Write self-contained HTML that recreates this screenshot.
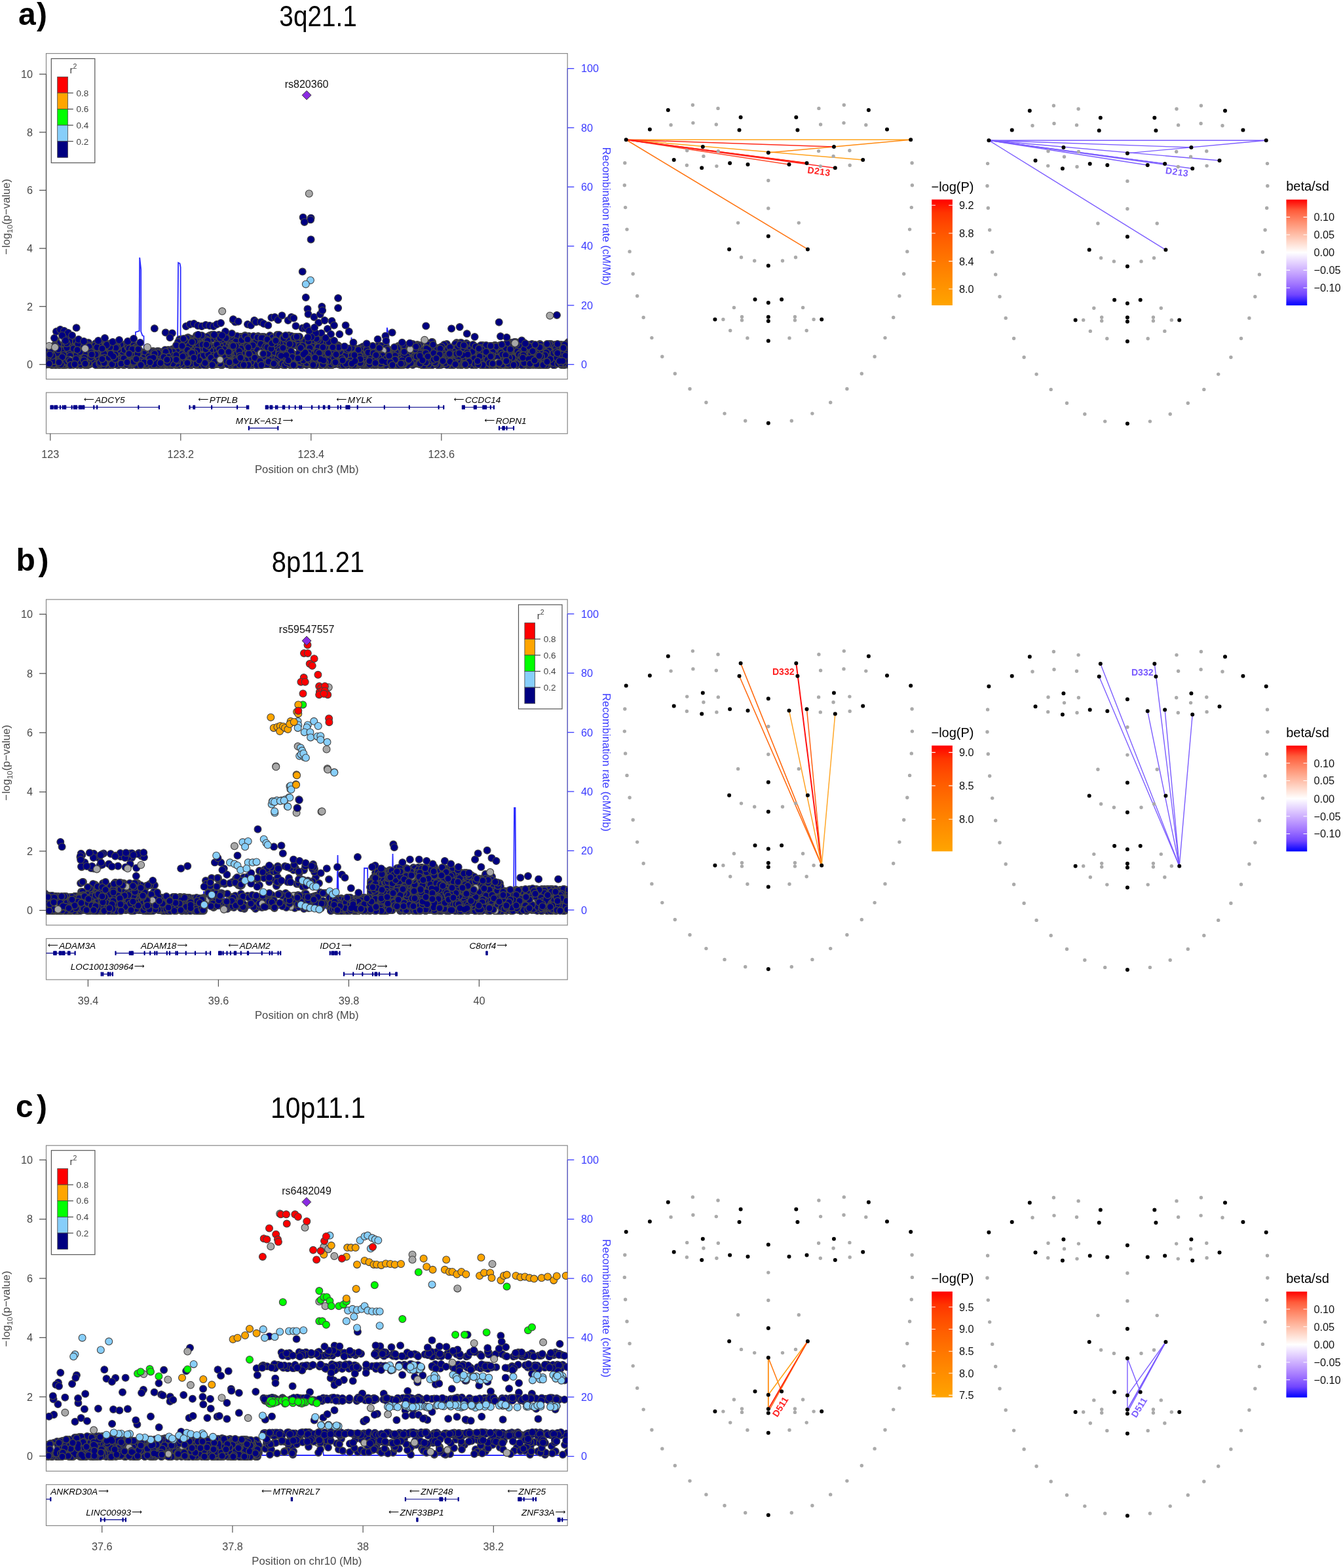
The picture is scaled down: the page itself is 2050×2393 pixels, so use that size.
<!DOCTYPE html><html><head><meta charset="utf-8"><title>Figure</title>
<style>html,body{margin:0;padding:0;background:#fff;}svg{display:block;}</style></head><body>
<svg width="2050" height="2393" viewBox="0 0 2050 2393" font-family="Liberation Sans, Arial, sans-serif">
<defs><clipPath id="clipa"><rect x="70.5" y="81.6" width="795.7" height="497"/></clipPath><path id="pa0" d="M706 542h0M338 554h0M578 533h0M521 553h0M227 543h0M735 556h0M557 552h0M645 546h0M237 550h0M417 557h0M123 556h0M778 554h0M574 543h0M125 549h0M565 536h0M545 537h0M763 529h0M475 516h0M432 532h0M521 557h0M827 532h0M548 554h0M622 556h0M372 527h0"/><path id="pa1" d="M145 556h0M235 551h0M372 557h0M180 556h0M863 532h0M636 555h0M292 557h0M710 544h0M682 525h0M614 536h0M294 529h0M344 520h0M370 557h0M455 555h0M567 551h0M472 540h0M533 538h0M232 539h0M263 547h0M504 527h0M580 556h0M496 555h0M487 551h0M444 546h0"/><path id="pa2" d="M468 530h0M795 531h0M265 535h0M659 535h0M654 557h0M429 522h0M558 530h0M707 526h0M620 529h0M331 554h0M558 556h0M571 557h0M553 541h0M246 555h0M596 541h0M843 539h0M867 525h0M215 555h0M443 541h0M756 531h0M439 514h0M832 556h0M856 542h0M683 550h0"/><path id="pa3" d="M770 546h0M355 545h0M211 553h0M519 557h0M516 527h0M349 533h0M148 555h0M341 535h0M653 551h0M686 556h0M552 540h0M440 556h0M649 557h0M87 556h0M833 529h0M126 550h0M400 537h0M173 526h0M656 529h0M660 552h0M712 526h0M75 548h0M726 551h0M550 556h0"/><path id="pa4" d="M460 544h0M331 529h0M438 515h0M708 545h0M869 557h0M780 555h0M454 553h0M301 547h0M179 536h0M188 543h0M721 552h0M216 541h0M495 540h0M424 542h0M203 539h0M609 550h0M97 545h0M170 554h0M109 553h0M117 545h0M755 527h0M136 544h0M808 528h0M637 526h0"/><path id="pa5" d="M408 542h0M383 531h0M383 544h0M868 554h0M797 522h0M212 556h0M540 554h0M436 529h0M760 555h0M621 550h0M835 529h0M684 543h0M335 546h0M700 556h0M524 542h0M752 555h0M259 557h0M226 551h0M619 527h0M848 550h0M533 540h0M246 556h0M399 556h0M344 547h0"/><path id="pa6" d="M283 557h0M517 545h0M390 542h0M664 544h0M578 527h0M567 556h0M199 531h0M338 539h0M845 557h0M220 557h0M601 551h0M601 544h0M364 556h0M601 557h0M740 549h0M761 530h0M812 529h0M429 526h0M224 557h0M762 534h0M433 554h0M677 555h0M142 536h0M373 556h0"/><path id="pa7" d="M656 541h0M200 548h0M432 547h0M519 552h0M339 557h0M471 555h0M733 554h0M609 542h0M78 536h0M458 534h0M152 538h0M622 544h0M420 536h0M839 546h0M861 555h0M95 555h0M735 552h0M360 530h0M320 512h0M464 552h0M318 548h0M659 552h0M561 536h0M738 555h0"/><path id="pa8" d="M786 532h0M645 535h0M823 540h0M869 557h0M367 556h0M125 524h0M847 554h0M285 551h0M638 550h0M103 548h0M128 554h0M791 530h0M302 537h0M654 556h0M110 548h0M537 541h0M218 554h0M588 530h0M653 530h0M723 532h0M125 537h0M536 534h0M713 549h0M178 554h0"/><path id="pa9" d="M731 555h0M511 555h0M665 548h0M298 518h0M382 534h0M510 542h0M150 530h0M590 555h0M825 557h0M359 549h0M430 539h0M643 546h0M581 556h0M239 557h0M353 534h0M865 540h0M714 547h0M868 557h0M340 548h0M785 539h0M213 552h0M432 541h0M362 557h0M305 554h0"/><path id="pa10" d="M128 541h0M714 554h0M130 554h0M763 555h0M460 524h0M624 545h0M566 548h0M469 535h0M723 557h0M249 556h0M808 546h0M820 555h0M582 557h0M191 552h0M538 540h0M617 556h0M75 556h0M413 553h0M563 531h0M595 536h0M809 526h0M194 534h0M794 551h0M473 530h0"/><path id="pa11" d="M804 556h0M231 554h0M439 518h0M171 539h0M714 556h0M190 557h0M346 550h0M712 547h0M536 554h0M837 551h0M621 529h0M746 531h0M68 546h0M799 546h0M587 557h0M757 547h0M129 557h0M331 548h0M600 540h0M835 548h0M233 536h0M255 540h0M84 551h0M94 547h0"/><path id="pa12" d="M775 543h0M498 542h0M268 557h0M460 539h0M456 556h0M857 526h0M158 547h0M712 532h0M507 557h0M504 523h0M273 531h0M281 554h0M112 545h0M523 548h0M116 522h0M204 527h0M547 537h0M500 551h0M593 555h0M614 536h0M236 554h0M831 554h0M209 542h0M139 542h0"/><path id="pa13" d="M339 550h0M78 546h0M273 538h0M596 537h0M841 525h0M843 540h0M437 548h0M266 556h0M813 546h0M324 529h0M301 553h0M631 533h0M800 557h0M340 517h0M290 550h0M178 554h0M618 555h0M863 528h0M859 552h0M645 554h0M648 546h0M540 557h0M299 554h0M677 551h0"/><path id="pa14" d="M391 557h0M290 554h0M580 546h0M557 556h0M805 542h0M442 554h0M636 529h0M191 526h0M448 526h0M678 542h0M151 529h0M445 538h0M398 540h0M642 556h0M366 545h0M136 534h0M655 541h0M700 528h0M335 551h0M507 538h0M638 555h0M689 557h0M196 532h0M846 556h0"/><path id="pa15" d="M468 557h0M430 550h0M128 550h0M481 541h0M775 537h0M682 556h0M470 548h0M263 557h0M670 536h0M700 543h0M80 556h0M164 557h0M554 550h0M345 518h0M665 556h0M263 549h0M553 530h0M263 533h0M805 555h0M689 556h0M736 528h0M816 547h0M811 534h0M668 542h0"/><path id="pa16" d="M476 557h0M242 536h0M622 541h0M82 542h0M594 539h0M861 536h0M485 539h0M249 555h0M584 557h0M802 526h0M792 544h0M373 556h0M338 532h0M559 544h0M151 555h0M481 557h0M697 530h0M794 550h0M585 539h0M237 556h0M315 557h0M181 553h0M554 553h0M817 552h0"/><path id="pa17" d="M503 545h0M824 525h0M518 541h0M728 539h0M759 547h0M197 532h0M241 549h0M190 528h0M244 549h0M846 549h0M272 555h0M620 545h0M115 556h0M408 520h0M69 557h0M149 537h0M788 556h0M337 557h0M96 516h0M798 557h0M648 534h0M755 532h0M192 552h0M593 536h0"/><path id="pa18" d="M232 542h0M458 528h0M750 528h0M238 538h0M557 557h0M124 538h0M568 552h0M233 543h0M195 532h0M156 527h0M280 557h0M118 530h0M830 537h0M294 543h0M489 549h0M236 557h0M699 557h0M651 557h0M155 557h0M509 529h0M720 553h0M319 543h0M672 538h0M548 554h0"/><path id="pa19" d="M819 531h0M188 552h0M764 557h0M654 555h0M486 544h0M777 557h0M438 528h0M597 557h0M315 525h0M142 536h0M96 538h0M671 557h0M367 514h0M867 534h0M166 556h0M477 552h0M400 541h0M521 533h0M638 531h0M439 545h0M266 538h0M493 532h0M209 530h0M552 536h0"/><path id="pa20" d="M640 555h0M402 543h0M136 551h0M118 557h0M208 553h0M701 533h0M410 538h0M586 543h0M248 542h0M669 557h0M316 548h0M471 517h0M165 528h0M139 554h0M336 552h0M870 544h0M392 550h0M161 549h0M71 534h0M481 537h0M779 525h0M318 539h0M729 540h0M588 529h0"/><path id="pa21" d="M377 546h0M512 525h0M510 553h0M504 545h0M371 552h0M307 549h0M430 533h0M298 554h0M657 554h0M86 521h0M290 529h0M328 554h0M263 540h0M302 557h0M249 545h0M589 557h0M441 528h0M588 554h0M704 557h0M325 550h0M472 537h0M709 555h0M860 557h0M571 534h0"/><path id="pa22" d="M577 554h0M77 556h0M416 537h0M122 529h0M730 545h0M503 539h0M345 554h0M769 554h0M541 555h0M466 526h0M223 549h0M199 542h0M202 557h0M582 542h0M391 514h0M624 545h0M234 536h0M535 553h0M400 547h0M300 535h0M267 555h0M195 532h0M179 547h0M298 549h0"/><path id="pa23" d="M418 532h0M815 551h0M671 555h0M645 540h0M275 539h0M155 526h0M431 552h0M359 557h0M500 521h0M763 527h0M686 553h0M231 552h0M647 554h0M238 555h0M483 536h0M851 533h0M646 557h0M230 556h0M347 551h0M181 549h0M585 556h0M846 557h0M661 530h0M100 535h0"/><path id="pa24" d="M667 543h0M775 542h0M432 543h0M517 554h0M561 536h0M740 540h0M85 555h0M507 557h0M193 544h0M686 557h0M816 538h0M336 526h0M797 531h0M292 557h0M593 549h0M432 553h0M478 555h0M84 537h0M344 551h0M860 531h0M380 520h0M826 540h0M862 557h0M333 523h0"/><path id="pa25" d="M737 527h0M503 541h0M345 518h0M134 534h0M254 555h0M399 542h0M648 526h0M168 534h0M469 551h0M720 545h0M461 553h0M828 544h0M834 529h0M296 540h0M547 537h0M161 541h0M737 546h0M419 546h0M80 553h0M299 557h0M574 545h0M457 514h0M184 543h0M402 518h0"/><path id="pa26" d="M694 540h0M84 555h0M207 530h0M649 527h0M659 548h0M431 554h0M550 552h0M233 553h0M282 556h0M185 540h0M209 553h0M210 547h0M273 557h0M829 554h0M795 533h0M549 544h0M678 553h0M242 556h0M213 549h0M369 538h0M407 548h0M305 546h0M725 532h0M130 542h0"/><path id="pa27" d="M192 544h0M770 533h0M332 554h0M553 557h0M462 537h0M428 513h0M609 553h0M122 542h0M542 546h0M71 538h0M88 555h0M456 552h0M361 544h0M112 525h0M210 550h0M186 556h0M352 557h0M624 553h0M579 551h0M205 537h0M266 544h0M663 554h0M521 552h0M804 539h0"/><path id="pa28" d="M448 517h0M215 546h0M792 553h0M323 550h0M475 517h0M685 542h0M85 548h0M851 550h0M123 557h0M659 537h0M92 556h0M231 557h0M633 531h0M743 547h0M699 552h0M198 557h0M401 541h0M536 556h0M217 547h0M626 529h0M410 514h0M521 554h0M271 527h0M527 555h0"/><path id="pa29" d="M588 531h0M67 549h0M156 538h0M821 543h0M559 548h0M328 529h0M614 555h0M636 533h0M847 536h0M216 555h0M270 556h0M780 556h0M92 556h0M700 554h0M125 526h0M581 546h0M489 555h0M115 540h0M348 555h0M401 516h0M746 548h0M224 553h0M643 538h0M132 557h0"/><path id="pa30" d="M287 539h0M147 557h0M116 545h0M552 548h0M138 549h0M162 557h0M589 540h0M521 545h0M550 553h0M335 514h0M580 535h0M98 546h0M106 542h0M312 553h0M261 557h0M156 544h0M398 542h0M688 557h0M744 557h0M636 554h0M850 552h0M780 544h0M176 555h0M513 552h0"/><path id="pa31" d="M822 557h0M181 536h0M777 545h0M776 556h0M664 542h0M147 557h0M458 542h0M737 533h0M115 555h0M581 556h0M802 551h0M590 553h0M162 554h0M248 557h0M238 554h0M689 556h0M233 541h0M280 554h0M164 525h0M287 554h0M720 540h0M87 527h0M220 542h0M498 525h0"/><path id="pa32" d="M776 536h0M647 541h0M595 557h0M431 540h0M609 555h0M410 542h0M458 540h0M222 554h0M684 534h0M478 556h0M299 527h0M443 513h0M83 536h0M707 534h0M260 556h0M183 548h0M756 553h0M360 520h0M446 539h0M358 527h0M446 515h0M107 534h0M104 533h0M735 529h0"/><path id="pa33" d="M76 553h0M240 553h0M571 555h0M270 556h0M295 551h0M703 527h0M112 532h0M660 522h0M569 546h0M495 540h0M381 526h0M845 552h0M645 544h0M168 557h0M647 549h0M589 552h0M617 536h0M210 538h0M750 537h0M75 556h0M420 520h0M362 532h0M589 535h0M327 534h0"/><path id="pa34" d="M101 534h0M419 544h0M688 556h0M259 552h0M237 557h0M321 549h0M180 550h0M111 545h0M551 556h0M444 518h0M269 542h0M743 537h0M468 551h0M669 531h0M94 546h0M708 555h0M281 528h0M761 555h0M850 547h0M117 529h0M698 533h0M69 548h0M84 555h0M511 554h0"/><path id="pa35" d="M504 555h0M647 531h0M364 557h0M244 555h0M528 554h0M611 530h0M410 555h0M234 544h0M525 557h0M765 557h0M581 535h0M689 551h0M747 535h0M770 532h0M454 524h0M210 534h0M293 523h0M370 544h0M400 530h0M563 547h0M644 557h0M762 530h0M553 531h0M252 546h0"/><path id="pa36" d="M851 531h0M257 556h0M249 552h0M732 529h0M137 551h0M150 538h0M735 549h0M836 531h0M90 527h0M399 538h0M244 539h0M807 539h0M198 548h0M707 541h0M847 526h0M313 547h0M707 537h0M548 553h0M346 526h0M424 525h0M344 512h0M338 513h0M245 557h0M130 550h0"/><path id="pa37" d="M516 550h0M731 547h0M368 514h0M177 543h0M580 543h0M580 533h0M609 557h0M102 548h0M91 557h0M575 557h0M731 556h0M850 528h0M304 557h0M521 553h0M516 556h0M748 544h0M497 557h0M851 552h0M842 552h0M246 554h0M797 532h0M267 542h0M199 550h0M125 547h0"/><path id="pa38" d="M697 523h0M145 549h0M648 526h0M146 524h0M389 540h0M160 555h0M131 525h0M590 531h0M96 547h0M596 554h0M796 554h0M371 542h0M784 533h0M550 547h0M773 551h0M208 557h0M764 537h0M116 556h0M135 532h0M378 518h0M327 547h0M103 519h0M449 550h0M814 543h0"/><path id="pa39" d="M552 550h0M186 548h0M388 540h0M638 555h0M387 528h0M482 532h0M236 545h0M147 553h0M847 557h0M300 512h0M294 556h0M149 552h0M224 535h0M714 526h0M405 520h0M757 554h0M737 534h0M347 515h0M170 542h0M134 557h0M137 535h0M154 547h0M756 527h0M134 543h0"/><path id="pa40" d="M275 525h0M508 544h0M127 548h0M818 555h0M291 557h0M442 526h0M183 549h0M790 543h0M280 531h0M512 529h0M719 544h0M600 539h0M545 539h0M582 539h0M417 556h0M224 545h0M857 554h0M286 548h0M353 553h0M431 548h0M195 550h0M85 538h0M749 555h0M445 543h0"/><path id="pa41" d="M287 543h0M231 548h0M422 556h0M674 556h0M274 518h0M769 555h0M348 545h0M297 546h0M390 534h0M305 523h0M439 556h0M181 557h0M622 556h0M767 549h0M351 557h0M273 549h0M461 554h0M318 540h0M734 533h0M237 550h0M217 556h0M133 531h0M412 512h0M178 543h0"/><path id="pa42" d="M419 549h0M526 556h0M501 546h0M414 548h0M96 515h0M132 554h0M635 552h0M815 551h0M182 551h0M366 545h0M295 556h0M631 543h0M483 554h0M679 553h0M151 535h0M692 531h0M137 556h0M511 539h0M84 557h0M171 525h0M372 514h0M334 511h0M221 540h0M618 530h0"/><path id="pa43" d="M296 529h0M390 532h0M253 551h0M235 553h0M373 513h0M363 527h0M393 537h0M804 547h0M315 526h0M722 535h0M635 534h0M320 549h0M303 530h0M780 530h0M569 555h0M421 514h0M162 556h0M729 537h0M219 544h0M410 548h0M218 549h0M224 536h0M225 557h0M582 557h0"/><path id="pa44" d="M118 538h0M832 546h0M425 557h0M548 554h0M94 546h0M161 552h0M152 557h0M95 544h0M533 548h0M382 557h0M864 552h0M342 525h0M211 557h0M524 553h0M862 543h0M704 546h0M588 535h0M772 537h0M721 538h0M703 531h0M588 528h0M796 557h0M378 554h0M580 535h0"/><path id="pa45" d="M420 540h0M505 535h0M831 552h0M541 541h0M733 541h0M769 557h0M820 549h0M678 537h0M359 514h0M205 552h0M541 532h0M704 556h0M629 533h0M556 557h0M376 555h0M485 546h0M80 553h0M153 556h0M395 555h0M233 545h0M519 547h0M453 555h0M209 536h0M390 519h0"/><path id="pa46" d="M241 546h0M86 554h0M585 529h0M566 544h0M465 540h0M507 540h0M159 556h0M104 545h0M697 537h0M233 537h0M300 521h0M720 548h0M272 523h0M633 553h0M316 546h0M441 522h0M281 549h0M630 536h0M331 556h0M735 531h0M801 555h0M69 553h0M303 552h0M480 540h0"/><path id="pa47" d="M640 535h0M608 528h0M268 545h0M400 554h0M619 554h0M847 539h0M809 556h0M547 557h0M700 555h0M103 554h0M353 537h0M461 557h0M561 538h0M78 548h0M179 545h0M521 556h0M562 554h0M508 547h0M579 540h0M739 534h0M550 552h0M222 553h0M711 535h0M748 528h0"/><path id="pa48" d="M162 550h0M304 555h0M798 557h0M821 532h0M732 553h0M417 556h0M524 556h0M374 540h0M381 532h0M265 554h0M782 542h0M209 557h0M198 551h0M264 541h0M163 553h0M149 557h0M725 529h0M296 527h0M758 553h0M690 553h0M313 555h0M126 556h0M703 557h0M254 550h0"/><path id="pa49" d="M587 544h0M400 539h0M299 533h0M701 531h0M756 537h0M599 549h0M703 523h0M703 542h0M254 557h0M712 524h0M863 531h0M596 555h0M630 557h0M658 550h0M542 554h0M487 520h0M239 547h0M208 556h0M860 545h0M205 535h0M414 540h0M241 551h0M435 531h0M741 529h0"/><path id="pa50" d="M761 546h0M641 544h0M406 541h0M249 552h0M421 548h0M641 527h0M861 537h0M791 529h0M615 551h0M192 547h0M411 555h0M594 555h0M441 555h0M86 557h0M650 556h0M255 546h0M219 555h0M775 534h0M618 541h0M522 553h0M826 543h0M797 524h0M686 544h0M572 537h0"/><path id="pa51" d="M850 531h0M807 556h0M596 546h0M578 545h0M543 534h0M89 527h0M846 545h0M258 545h0M140 533h0M569 551h0M485 556h0M859 533h0M691 556h0M786 553h0M403 514h0M173 552h0M565 555h0M78 546h0M618 529h0M299 556h0M359 549h0M431 535h0M714 555h0M819 553h0"/><path id="pa52" d="M322 554h0M652 546h0M744 551h0M868 522h0M672 556h0M543 557h0M459 549h0M136 528h0M794 532h0M317 531h0M613 548h0M346 540h0M161 537h0M523 553h0M608 535h0M636 538h0M288 534h0M616 548h0M794 522h0M308 554h0M270 557h0M435 543h0M124 553h0M302 538h0"/><path id="pa53" d="M524 556h0M607 539h0M702 529h0M89 543h0M404 555h0M456 546h0M671 543h0M608 549h0M272 557h0M117 552h0M866 536h0M328 539h0M773 525h0M650 529h0M686 550h0M817 540h0M695 551h0M215 546h0M526 547h0M620 555h0M112 556h0M242 544h0M787 528h0M624 551h0"/><path id="pa54" d="M302 517h0M362 534h0M94 550h0M180 538h0M414 551h0M859 556h0M689 540h0M818 556h0M839 532h0M98 553h0M439 554h0M724 541h0M324 517h0M83 554h0M821 532h0M711 557h0M352 535h0M721 545h0M122 525h0M815 552h0M283 544h0M368 523h0M124 544h0M574 538h0"/><path id="pa55" d="M215 549h0M276 556h0M408 536h0M393 515h0M286 533h0M606 557h0M584 544h0M735 552h0M618 545h0M766 556h0M719 535h0M106 542h0M625 553h0M747 552h0M89 538h0M450 514h0M554 546h0M139 531h0M802 538h0M119 527h0M589 541h0M735 557h0M745 557h0M410 554h0"/><path id="pa56" d="M354 541h0M859 556h0M179 557h0M127 548h0M671 552h0M654 543h0M857 553h0M78 553h0M374 512h0M616 557h0M253 535h0M452 557h0M687 555h0M255 546h0M402 549h0M217 555h0M97 538h0M368 535h0M684 531h0M399 521h0M70 554h0M642 548h0M434 543h0M384 555h0"/><path id="pa57" d="M715 538h0M247 557h0M492 553h0M324 557h0M430 539h0M705 545h0M156 556h0M838 552h0M395 542h0M676 556h0M139 532h0M790 536h0M155 539h0M857 557h0M711 538h0M240 557h0M268 535h0M537 531h0M862 539h0M261 536h0M509 545h0M734 557h0M679 549h0M237 550h0"/><path id="pa58" d="M650 553h0M416 533h0M712 535h0M770 539h0M420 556h0M755 557h0M558 557h0M408 524h0M627 554h0M848 547h0M721 552h0M504 553h0M457 554h0M206 540h0M149 526h0M278 556h0M92 521h0M478 529h0M734 527h0M864 547h0M720 536h0M815 549h0M465 539h0M431 526h0"/><path id="pa59" d="M192 548h0M485 535h0M480 521h0M491 557h0M232 551h0M358 540h0M797 522h0M325 552h0M500 526h0M239 537h0M602 546h0M496 531h0M406 536h0M380 513h0M97 552h0M750 551h0M825 526h0M443 557h0M535 534h0M869 556h0M808 554h0M765 540h0M391 528h0M411 535h0"/><path id="pa60" d="M739 534h0M708 544h0M554 533h0M133 527h0M441 541h0M147 528h0M686 545h0M693 557h0M836 540h0M840 532h0M847 544h0M323 511h0M595 539h0M808 535h0M862 533h0M103 517h0M693 557h0M552 556h0M400 557h0M329 538h0M177 548h0M398 557h0M292 554h0M395 555h0"/><path id="pa61" d="M846 556h0M550 549h0M412 535h0M659 522h0M234 540h0M819 539h0M403 536h0M755 551h0M779 550h0M577 536h0M467 519h0M584 536h0M419 549h0M213 555h0M215 555h0M211 556h0M401 537h0M487 541h0M625 532h0M113 541h0M780 556h0M312 547h0M771 537h0M856 550h0"/><path id="pa62" d="M513 541h0M297 518h0M672 534h0M524 552h0M709 534h0M741 532h0M332 550h0M760 557h0M277 555h0M663 542h0M112 557h0M416 515h0M425 535h0M199 549h0M625 546h0M427 548h0M676 540h0M397 555h0M162 552h0M88 550h0M801 556h0M485 555h0M502 557h0M490 539h0"/><path id="pa63" d="M479 522h0M445 553h0M653 526h0M731 540h0M817 537h0M435 557h0M157 538h0M218 542h0M424 551h0M222 549h0M462 548h0M655 534h0M68 555h0M770 545h0M144 528h0M257 557h0M510 554h0M743 549h0M714 526h0M703 536h0M311 531h0M777 543h0M123 557h0M861 539h0"/><path id="pa64" d="M622 551h0M362 513h0M827 544h0M343 528h0M300 529h0M363 533h0M188 527h0M209 556h0M555 557h0M592 544h0M697 545h0M783 523h0M565 530h0M709 541h0M689 554h0M780 542h0M433 514h0M352 543h0M288 556h0M438 552h0M421 531h0M788 547h0M868 544h0M305 550h0"/><path id="pa65" d="M432 545h0M775 550h0M393 557h0M203 554h0M645 557h0M728 549h0M602 554h0M334 545h0M387 556h0M460 546h0M106 526h0M604 554h0M374 524h0M199 554h0M817 554h0M95 555h0M751 552h0M182 554h0M752 532h0M90 538h0M801 554h0M576 544h0M177 554h0M767 538h0"/><path id="pa66" d="M788 555h0M510 545h0M406 526h0M405 550h0M358 528h0M342 542h0M630 527h0M673 557h0M608 552h0M693 555h0M731 550h0M456 548h0M178 554h0M171 556h0M519 555h0M660 555h0M683 553h0M691 557h0M768 535h0M90 557h0M206 554h0M651 531h0M591 551h0M746 554h0"/><path id="pa67" d="M429 541h0M552 554h0M788 524h0M426 555h0M543 532h0M168 557h0M625 546h0M224 537h0M712 552h0M784 551h0M299 543h0M805 526h0M578 548h0M221 556h0M476 555h0M405 530h0M526 551h0M683 548h0M233 543h0M678 553h0M633 551h0M554 555h0M338 555h0M498 520h0"/><path id="pa68" d="M558 539h0M262 537h0M120 546h0M695 540h0M724 553h0M742 554h0M187 545h0M864 549h0M154 523h0M238 557h0M748 557h0M421 522h0M82 554h0M317 550h0M345 530h0M104 551h0M560 539h0M262 552h0M397 524h0M72 542h0M257 534h0M467 552h0M350 511h0M532 554h0"/><path id="pa69" d="M799 524h0M441 522h0M665 546h0M860 554h0M172 557h0M782 545h0M333 546h0M483 553h0M390 555h0M359 525h0M556 545h0M290 541h0M104 555h0M134 557h0M422 538h0M230 539h0M467 526h0M94 521h0M785 555h0M553 550h0M554 554h0M845 540h0M595 554h0M179 555h0"/><path id="pa70" d="M339 557h0M315 543h0M678 526h0M408 527h0M110 551h0M103 538h0M204 551h0M774 557h0M568 538h0M149 556h0M791 532h0M201 538h0M83 551h0M262 548h0M558 550h0M642 554h0M686 541h0M364 534h0M413 529h0M460 529h0M613 557h0M556 546h0M754 544h0M526 557h0"/><path id="pa71" d="M371 551h0M160 537h0M409 548h0M727 533h0M304 527h0M453 542h0M837 556h0M209 544h0M444 515h0M835 557h0M512 543h0M423 511h0M71 549h0M564 530h0M597 545h0M587 540h0M705 534h0M509 552h0M757 539h0M589 556h0M378 515h0M584 556h0M177 552h0M634 549h0"/><path id="pa72" d="M520 530h0M202 548h0M451 527h0M713 556h0M458 539h0M448 555h0M630 545h0M342 555h0M192 525h0M564 546h0M317 545h0M183 534h0M383 528h0M832 546h0M763 555h0M814 557h0M598 534h0M867 550h0M835 547h0M856 543h0M118 553h0M78 548h0M853 553h0M233 555h0"/><path id="pa73" d="M706 529h0M148 557h0M460 531h0M448 553h0M778 533h0M572 553h0M79 557h0M357 549h0M209 552h0M582 528h0M520 549h0M142 547h0M651 552h0M668 557h0M100 543h0M169 524h0M281 520h0M863 540h0M520 553h0M824 533h0M524 557h0M344 531h0M845 554h0M131 548h0"/><path id="pa74" d="M385 557h0M714 549h0M247 542h0M468 528h0M513 538h0M95 551h0M737 549h0M108 549h0M524 555h0M392 554h0M546 546h0M168 549h0M220 544h0M845 549h0M291 534h0M234 555h0M553 549h0M807 557h0M764 544h0M617 543h0M626 533h0M154 555h0M90 540h0M231 554h0"/><path id="pa75" d="M316 550h0M203 537h0M316 521h0M315 545h0M436 557h0M111 545h0M488 531h0M682 537h0M414 551h0M446 554h0M710 544h0M449 556h0M326 511h0M412 555h0M524 531h0M620 537h0M633 528h0M545 536h0M518 556h0M854 549h0M172 534h0M440 550h0M527 547h0M181 555h0"/><path id="pa76" d="M415 524h0M762 550h0M220 556h0M509 534h0M760 552h0M242 555h0M173 546h0M124 556h0M353 516h0M588 542h0M656 554h0M253 537h0M613 556h0M517 553h0M695 525h0M475 545h0M165 546h0M251 542h0M152 556h0M389 532h0M228 540h0M492 533h0M121 552h0M546 550h0"/><path id="pa77" d="M139 542h0M356 557h0M281 553h0M517 547h0M613 546h0M75 536h0M200 546h0M516 550h0M370 547h0M663 553h0M567 557h0M68 541h0M859 545h0M80 535h0M135 523h0M277 555h0M477 524h0M355 539h0M745 543h0M119 525h0M83 527h0M645 542h0M395 531h0M854 538h0"/><path id="pa78" d="M133 556h0M507 535h0M833 534h0M345 548h0M82 542h0M276 524h0M186 541h0M426 511h0M642 538h0M716 553h0M351 529h0M295 547h0M496 528h0M582 540h0M611 528h0M130 556h0M359 530h0M667 544h0M481 549h0M654 544h0M490 552h0M77 542h0M312 543h0M444 541h0"/><path id="pa79" d="M269 547h0M443 514h0M838 532h0M398 532h0M644 557h0M92 546h0M813 534h0M777 555h0M311 546h0M518 549h0M828 553h0M368 551h0M816 542h0M300 544h0M758 550h0M860 556h0M478 533h0M446 540h0M471 532h0M754 556h0M541 534h0M577 550h0M294 524h0M869 557h0"/><path id="pa80" d="M414 549h0M477 547h0M281 536h0M384 535h0M699 533h0M554 529h0M764 552h0M662 546h0M216 553h0M101 551h0M249 557h0M584 535h0M216 545h0M565 556h0M826 540h0M852 541h0M488 552h0M356 531h0M403 546h0M846 546h0M365 549h0M846 549h0M550 531h0M89 534h0"/><path id="pa81" d="M525 538h0M739 537h0M737 550h0M473 525h0M328 541h0M98 553h0M851 536h0M852 544h0M589 531h0M522 532h0M582 549h0M661 551h0M521 543h0M226 555h0M260 548h0M123 546h0M493 517h0M759 530h0M163 557h0M527 540h0M204 556h0M124 534h0M250 557h0M234 557h0"/><path id="pa82" d="M827 552h0M385 533h0M857 535h0M543 557h0M229 554h0M518 551h0M182 549h0M660 557h0M773 557h0M138 550h0M248 557h0M812 525h0M856 553h0M840 554h0M557 547h0M307 528h0M101 557h0M430 527h0M429 544h0M360 521h0M311 543h0M753 528h0M490 542h0M604 556h0"/><path id="pa83" d="M188 557h0M135 527h0M457 553h0M364 529h0M265 556h0M491 556h0M671 545h0M108 531h0M790 537h0M178 556h0M643 545h0M609 556h0M570 553h0M517 545h0M547 552h0M336 514h0M844 554h0M603 544h0M335 527h0M713 557h0M197 555h0M759 542h0M805 531h0M183 526h0"/><path id="pa84" d="M318 524h0M867 523h0M547 550h0M128 550h0M464 555h0M683 554h0M430 532h0M480 545h0M447 550h0M837 546h0M538 557h0M869 532h0M507 547h0M547 551h0M683 533h0M546 534h0M358 537h0M319 551h0M128 547h0M134 531h0M332 523h0M358 540h0M447 555h0M470 543h0"/><path id="pa85" d="M75 550h0M850 541h0M528 544h0M733 540h0M489 550h0M378 555h0M438 542h0M739 557h0M776 527h0M345 539h0M582 556h0M639 537h0M277 548h0M109 556h0M351 524h0M100 549h0M397 546h0M431 537h0M240 536h0M447 515h0M195 536h0M412 555h0M96 556h0M553 532h0"/><path id="pa86" d="M831 548h0M355 545h0M214 553h0M89 538h0M209 557h0M116 534h0M449 554h0M798 530h0M598 557h0M540 548h0M508 534h0M248 537h0M810 557h0M172 552h0M581 557h0M622 534h0M275 545h0M221 549h0M786 526h0M204 539h0M489 521h0M856 547h0M97 556h0M366 533h0"/><path id="pa87" d="M258 552h0M520 554h0M463 547h0M253 543h0M206 538h0M251 555h0M805 557h0M473 547h0M789 530h0M388 556h0M665 553h0M491 543h0M433 542h0M118 530h0M605 543h0M490 517h0M730 532h0M167 545h0M566 543h0M170 548h0M214 543h0M406 539h0M627 555h0M625 532h0"/><path id="pa88" d="M769 555h0M636 546h0M162 554h0M262 555h0M462 548h0M206 551h0M274 524h0M316 514h0M443 555h0M284 545h0M120 537h0M619 540h0M827 549h0M435 557h0M849 539h0M156 533h0M321 551h0M636 546h0M836 557h0M190 555h0M243 555h0M807 553h0M856 546h0M68 554h0"/><path id="pa89" d="M184 526h0M182 537h0M79 547h0M297 556h0M751 557h0M403 541h0M240 539h0M638 527h0M505 556h0M325 547h0M324 557h0M349 548h0M306 557h0M272 522h0M93 554h0M80 550h0M75 549h0M433 520h0M353 556h0M863 527h0M370 515h0M156 546h0M764 556h0M558 549h0"/><path id="pa90" d="M176 538h0M342 541h0M557 540h0M742 530h0M858 550h0M565 548h0M456 552h0M385 557h0M464 531h0M111 556h0M310 554h0M81 555h0M651 551h0M154 540h0M443 513h0M216 553h0M337 519h0M297 553h0M610 546h0M207 552h0M117 548h0M476 528h0M78 550h0M821 535h0"/><path id="pa91" d="M443 557h0M591 537h0M234 547h0M473 531h0M669 533h0M542 550h0M774 524h0M352 539h0M338 556h0M705 553h0M487 553h0M322 541h0M191 541h0M279 536h0M118 548h0M205 532h0M474 556h0M237 557h0M858 541h0M440 554h0M396 547h0M490 557h0M350 527h0M106 530h0"/><path id="pa92" d="M325 548h0M104 547h0M394 545h0M539 533h0M277 536h0M307 549h0M738 534h0M489 557h0M863 550h0M90 541h0M432 547h0M609 529h0M747 543h0M469 555h0M791 538h0M870 523h0M683 535h0M488 539h0M201 549h0M655 540h0M552 549h0M292 517h0M499 554h0M214 557h0"/><path id="pa93" d="M513 535h0M685 536h0M139 552h0M560 554h0M397 554h0M83 543h0M414 556h0M139 538h0M822 553h0M588 552h0M606 553h0M417 557h0M602 539h0M127 522h0M254 551h0M483 557h0M558 557h0M315 557h0M780 523h0M388 556h0M860 537h0M81 554h0M409 543h0M805 556h0"/><path id="pa94" d="M801 529h0M634 554h0M337 514h0M276 546h0M782 535h0M640 555h0M545 550h0M705 557h0M790 540h0M256 545h0M344 514h0M501 546h0M411 556h0M617 547h0M414 533h0M96 535h0M523 557h0M142 545h0M163 552h0M310 542h0M620 551h0M302 546h0M708 527h0M745 552h0"/><path id="pa95" d="M295 535h0M187 537h0M392 548h0M256 546h0M422 522h0M760 553h0M446 555h0M119 550h0M504 547h0M287 515h0M611 554h0M139 540h0M226 557h0M511 554h0M672 555h0M832 557h0M265 545h0M232 557h0M343 528h0M612 557h0M154 557h0M299 548h0M388 549h0M506 522h0"/><path id="pa96" d="M139 551h0M458 557h0M613 547h0M108 529h0M741 547h0M413 555h0M585 548h0M847 554h0M225 544h0M126 524h0M373 554h0M74 546h0M718 556h0M207 535h0M437 554h0M98 557h0M341 513h0M335 555h0M786 552h0M738 551h0M87 547h0M465 546h0M125 532h0M347 556h0"/><path id="pa97" d="M858 541h0M268 535h0M107 517h0M695 545h0M791 546h0M481 557h0M744 553h0M112 556h0M457 532h0M508 555h0M79 547h0M782 524h0M679 534h0M685 555h0M750 556h0M828 534h0M225 547h0M634 555h0M399 547h0M779 556h0M127 546h0M644 535h0M785 556h0M441 528h0"/><path id="pa98" d="M821 546h0M89 526h0M714 532h0M776 538h0M522 533h0M243 541h0M101 514h0M704 557h0M111 553h0M209 546h0M423 546h0M400 514h0M606 539h0M210 547h0M731 536h0M110 536h0M421 557h0M606 539h0M537 531h0M380 524h0M336 531h0M286 539h0M405 556h0M238 537h0"/><path id="pa99" d="M72 553h0M487 551h0M267 552h0M592 556h0M838 543h0M441 512h0M304 548h0M269 538h0M865 528h0M744 533h0M511 556h0M436 539h0M695 548h0M635 542h0M448 544h0M326 557h0M213 535h0M553 557h0M826 530h0M732 539h0M638 530h0M496 557h0M733 531h0M743 551h0"/><path id="pa100" d="M367 550h0M101 555h0M714 554h0M641 553h0M582 557h0M692 532h0M869 551h0M617 553h0M340 525h0M741 544h0M316 557h0M774 557h0M158 557h0M754 550h0M87 535h0M517 552h0M271 531h0M68 550h0M408 552h0M599 549h0M148 543h0M133 543h0M635 541h0M95 557h0"/><path id="pa101" d="M79 533h0M419 537h0M744 556h0M591 534h0M657 557h0M559 553h0M830 556h0M506 541h0M351 541h0M472 516h0M544 555h0M147 550h0M408 543h0M762 548h0M549 550h0M527 540h0M288 555h0M268 530h0M80 553h0M263 556h0M692 552h0M237 556h0M331 516h0M191 550h0"/><path id="pa102" d="M765 548h0M703 556h0M755 551h0M614 536h0M597 554h0M602 534h0M80 557h0M370 552h0M716 556h0M640 556h0M190 534h0M484 548h0M774 551h0M284 527h0M117 525h0M250 555h0M779 557h0M845 557h0M308 531h0M522 553h0M79 539h0M648 546h0M707 556h0M561 548h0"/><path id="pa103" d="M89 556h0M730 556h0M523 546h0M787 528h0M363 551h0M731 546h0M436 525h0M90 544h0M326 538h0M426 537h0M544 540h0M79 556h0M495 555h0M253 542h0M740 556h0M546 543h0M232 547h0M574 542h0M843 554h0M819 554h0M553 555h0M251 547h0M274 557h0M434 542h0"/><path id="pa104" d="M792 552h0M493 553h0M865 553h0M552 556h0M119 544h0M562 542h0M453 553h0M81 546h0M519 531h0M685 546h0M660 557h0M290 536h0M522 534h0M739 549h0M334 554h0M384 556h0M82 555h0M585 535h0M208 556h0M742 557h0M791 540h0M741 541h0M505 557h0M507 531h0"/><path id="pa105" d="M846 551h0M355 551h0M123 541h0M841 531h0M645 555h0M497 549h0M684 533h0M768 555h0M406 543h0M788 554h0M327 545h0M861 552h0M248 550h0M869 557h0M430 524h0M198 551h0M789 557h0M236 552h0M365 548h0M514 529h0M623 538h0M775 557h0M589 557h0M633 553h0"/><path id="pa106" d="M580 546h0M175 529h0M838 525h0M210 548h0M77 534h0M838 535h0M199 551h0M669 557h0M608 531h0M562 533h0M274 532h0M286 517h0M116 538h0M457 528h0M221 538h0M73 546h0M620 543h0M766 530h0M457 514h0M235 540h0M492 554h0M336 555h0M399 541h0M362 549h0"/><path id="pa107" d="M118 543h0M361 545h0M98 516h0M252 534h0M680 543h0M774 552h0M672 555h0M305 513h0M743 533h0M667 553h0M741 554h0M220 540h0M289 527h0M662 529h0M523 543h0M562 557h0M276 542h0M857 556h0M256 551h0M184 556h0M212 557h0M848 542h0M232 550h0M508 535h0"/><path id="pa108" d="M92 523h0M329 537h0M859 548h0M427 551h0M490 519h0M181 557h0M807 528h0M212 550h0M864 535h0M162 525h0M738 557h0M88 548h0M601 549h0M475 555h0M672 552h0M661 549h0M556 549h0M601 550h0M726 532h0M667 534h0M862 529h0M734 551h0M483 555h0M682 551h0"/><path id="pa109" d="M650 539h0M354 556h0M769 534h0M496 525h0M180 534h0M675 550h0M113 554h0M668 549h0M800 536h0M366 527h0M418 548h0M268 555h0M140 549h0M740 556h0M285 541h0M522 545h0M301 536h0M757 529h0M582 542h0M134 552h0M409 544h0M165 546h0M674 529h0M551 552h0"/><path id="pa110" d="M315 527h0M311 543h0M271 534h0M670 557h0M210 557h0M97 557h0M106 542h0M151 546h0M516 533h0M587 551h0M304 542h0M551 534h0M404 528h0M321 535h0M496 536h0M580 557h0M717 534h0M800 550h0M835 525h0M500 545h0M702 526h0M599 557h0M336 548h0M720 557h0"/><path id="pa111" d="M479 516h0M215 557h0M392 533h0M571 552h0M532 541h0M353 556h0M188 556h0M437 522h0M253 551h0M680 541h0M368 533h0M550 539h0M304 549h0M522 552h0M831 557h0M106 557h0M539 543h0M580 557h0M863 543h0M625 540h0M315 556h0M595 546h0M512 539h0M815 556h0"/><path id="pa112" d="M779 547h0M406 555h0M630 545h0M502 522h0M278 549h0M168 553h0M669 546h0M419 553h0M522 557h0M555 554h0M634 532h0M232 537h0M334 514h0M405 541h0M375 531h0M851 551h0M166 530h0M252 544h0M67 556h0M361 552h0M496 549h0M240 553h0M605 557h0M280 552h0"/><path id="pa113" d="M432 557h0M715 556h0M639 555h0M121 554h0M514 549h0M432 515h0M160 539h0M527 553h0M504 556h0M704 523h0M816 542h0M139 542h0M812 551h0M371 533h0M163 551h0M557 552h0M227 544h0M287 557h0M445 513h0M774 524h0M776 557h0M352 511h0M158 557h0M261 550h0"/><path id="pa114" d="M527 536h0M281 537h0M644 552h0M613 556h0M560 532h0M262 557h0M575 556h0M650 552h0M742 532h0M432 539h0M604 537h0M845 557h0M99 525h0M111 553h0M516 533h0M469 521h0M672 532h0M410 547h0M361 551h0M360 541h0M185 551h0M253 540h0M548 541h0M424 530h0"/><path id="pa115" d="M783 551h0M318 541h0M80 551h0M798 555h0M748 536h0M80 548h0M157 554h0M321 548h0M370 530h0M707 544h0M572 557h0M653 542h0M725 535h0M630 525h0M710 542h0M380 544h0M286 538h0M519 538h0M354 509h0M394 513h0M697 555h0M218 546h0M600 557h0M71 554h0"/><path id="pa116" d="M114 537h0M807 555h0M489 521h0M118 526h0M285 553h0M268 544h0M756 546h0M566 551h0M82 555h0M339 538h0M799 557h0M502 557h0M237 543h0M301 529h0M111 537h0M491 542h0M805 554h0M731 543h0M424 557h0M385 540h0M584 543h0M379 525h0M527 543h0M285 540h0"/><path id="pa117" d="M245 543h0M170 546h0M439 517h0M785 533h0M278 556h0M362 557h0M77 553h0M99 553h0M267 553h0M745 550h0M835 553h0M573 545h0M277 528h0M387 513h0M564 553h0M388 523h0M521 557h0M146 557h0M278 540h0M250 545h0M108 546h0M88 539h0M326 543h0M722 526h0"/><path id="pa118" d="M197 539h0M99 543h0M382 543h0M626 538h0M214 549h0M517 532h0M431 550h0M609 557h0M485 530h0M170 553h0M336 528h0M637 532h0M654 556h0M681 552h0M394 557h0M397 519h0M821 549h0M314 557h0M438 518h0M97 556h0M362 545h0M112 532h0M76 553h0M456 539h0"/><path id="pa119" d="M84 551h0M365 549h0M603 543h0M249 553h0M799 525h0M869 545h0M466 521h0M233 545h0M392 557h0M822 557h0M636 539h0M584 555h0M818 542h0M340 518h0M701 537h0M290 547h0M488 546h0M76 542h0M396 545h0M333 522h0M303 550h0M236 547h0M97 515h0M178 527h0"/><path id="pa120" d="M495 554h0M810 552h0M664 547h0M394 524h0M663 544h0M462 528h0M71 552h0M546 553h0M752 537h0M517 530h0M261 541h0M534 550h0M433 544h0M664 552h0M369 539h0M826 557h0M229 550h0M806 557h0M298 545h0M68 536h0M74 549h0M460 549h0M604 549h0M168 538h0"/><path id="pa121" d="M699 535h0M447 526h0M341 539h0M506 547h0M460 553h0M489 532h0M315 518h0M708 531h0M235 538h0M371 556h0M291 555h0M151 524h0M383 553h0M861 547h0M368 532h0M285 516h0M292 538h0M428 540h0M627 554h0M754 555h0M322 546h0M68 536h0M402 544h0M369 519h0"/><path id="pa122" d="M815 555h0M248 554h0M297 519h0M423 522h0M287 540h0M794 539h0M203 536h0M240 546h0M778 557h0M423 548h0M391 521h0M790 536h0M820 530h0M712 553h0M497 556h0M651 553h0M81 551h0M679 545h0M865 550h0M270 549h0M106 521h0M566 549h0M359 557h0M646 538h0"/><path id="pa123" d="M531 556h0M317 530h0M819 551h0M777 539h0M201 541h0M148 540h0M198 551h0M628 555h0M409 540h0M70 552h0M197 557h0M378 553h0M359 547h0M767 556h0M617 533h0M760 546h0M632 550h0M506 544h0M800 523h0M261 540h0M151 527h0M519 556h0M258 556h0M592 548h0"/><path id="pa124" d="M535 557h0M146 541h0M431 555h0M345 516h0M785 556h0M177 556h0M633 544h0M550 551h0M115 555h0M590 547h0M159 540h0M762 552h0M370 551h0M230 552h0M117 542h0M668 557h0M90 549h0M97 520h0M303 526h0M302 552h0M384 530h0M510 547h0M216 552h0M852 555h0"/><path id="pa125" d="M123 556h0M342 533h0M794 539h0M739 544h0M722 543h0M790 557h0M459 531h0M413 522h0M782 546h0M516 553h0M403 556h0M480 540h0M759 546h0M349 540h0M471 538h0M355 554h0M408 556h0M680 547h0M841 549h0M130 538h0M238 553h0M487 555h0M792 523h0M662 539h0"/><path id="pa126" d="M744 557h0M230 556h0M326 555h0M530 557h0M815 530h0M306 514h0M152 555h0M637 534h0M204 554h0M135 554h0M489 539h0M80 543h0M530 534h0M189 554h0M260 552h0M136 529h0M575 548h0M106 540h0M242 557h0M381 546h0M82 529h0M479 556h0M721 537h0M331 526h0"/><path id="pa127" d="M68 553h0M707 549h0M256 543h0M197 555h0M405 523h0M374 513h0M468 554h0M370 553h0M309 526h0M215 550h0M799 529h0M538 542h0M223 556h0M792 541h0M97 542h0M800 532h0M360 548h0M255 541h0M540 557h0M800 531h0M665 555h0M106 551h0M449 515h0M221 551h0"/><path id="pa128" d="M682 557h0M455 551h0M272 546h0M299 519h0M443 556h0M349 537h0M235 544h0M566 545h0M116 521h0M268 555h0M84 528h0M654 534h0M854 526h0M335 533h0M378 518h0M97 556h0M651 532h0M848 547h0M179 530h0M626 547h0M524 555h0M638 528h0M604 550h0M465 549h0"/><path id="pa129" d="M574 556h0M287 553h0M824 530h0M177 531h0M845 554h0M262 555h0M153 553h0M331 551h0M393 515h0M471 543h0M541 542h0M666 547h0M811 540h0M792 527h0M362 539h0M566 530h0M545 546h0M500 533h0M547 534h0M772 533h0M505 556h0M148 530h0M774 553h0M367 557h0"/><path id="pa130" d="M820 547h0M847 529h0M420 553h0M103 554h0M331 542h0M703 554h0M773 550h0M521 547h0M90 551h0M726 529h0M618 533h0M370 552h0M506 533h0M430 536h0M796 543h0M126 526h0M469 543h0M195 530h0M116 550h0M740 551h0M856 529h0M852 555h0M466 543h0M569 528h0"/><path id="pa131" d="M742 527h0M159 546h0M770 549h0M562 553h0M254 551h0M868 556h0M107 543h0M109 556h0M709 545h0M566 547h0M168 544h0M212 539h0M420 557h0M227 550h0M751 543h0M317 520h0M453 514h0M328 552h0M458 551h0M300 555h0M263 553h0M777 546h0M594 543h0M830 550h0"/><path id="pa132" d="M106 555h0M639 555h0M664 546h0M386 527h0M680 554h0M236 554h0M314 533h0M304 550h0M834 538h0M301 542h0M560 534h0M215 553h0M799 542h0M664 553h0M263 552h0M699 530h0M100 551h0M676 549h0M264 537h0M435 557h0M622 557h0M482 557h0M644 553h0M627 554h0"/><path id="pa133" d="M107 549h0M728 549h0M336 516h0M662 539h0M67 557h0M619 534h0M845 539h0M258 536h0M807 551h0M241 539h0M617 535h0M122 537h0M132 552h0M474 551h0M265 543h0M241 557h0M427 535h0M522 547h0M745 540h0M105 549h0M501 551h0M648 539h0M507 531h0M278 530h0"/><path id="pa134" d="M614 550h0M486 530h0M254 540h0M311 557h0M420 519h0M278 551h0M176 541h0M282 542h0M820 554h0M796 557h0M787 522h0M112 532h0M445 550h0M463 550h0M776 553h0M776 555h0M659 550h0M301 535h0M479 551h0M624 538h0M241 555h0M508 535h0M432 531h0M562 538h0"/><path id="pa135" d="M357 552h0M858 541h0M211 534h0M785 522h0M286 534h0M401 516h0M537 543h0M580 556h0M268 552h0M375 550h0M399 516h0M197 532h0M120 552h0M189 547h0M866 540h0M107 551h0M269 542h0M159 554h0M496 553h0M246 556h0M748 555h0M644 546h0M239 552h0M662 549h0"/><path id="pa136" d="M860 554h0M547 549h0M275 554h0M410 552h0M572 549h0M744 549h0M832 552h0M119 525h0M398 539h0M484 537h0M398 525h0M537 543h0M727 557h0M518 553h0M811 556h0M709 546h0M444 536h0M445 539h0M210 533h0M732 541h0M564 556h0M476 552h0M239 551h0M408 518h0"/><path id="pa137" d="M602 531h0M95 545h0M736 534h0M171 556h0M751 557h0M603 549h0M458 546h0M130 555h0M193 556h0M269 527h0M647 557h0M492 555h0M206 548h0M197 552h0M818 557h0M376 557h0M689 541h0M202 533h0M765 538h0M808 557h0M524 550h0M282 520h0M578 546h0M210 540h0"/><path id="pa138" d="M389 546h0M118 534h0M713 538h0M630 531h0M93 556h0M360 528h0M570 539h0M716 547h0M647 543h0M90 555h0M365 536h0M197 540h0M832 544h0M270 555h0M749 528h0M405 529h0M751 552h0M641 555h0M615 527h0M409 540h0M732 550h0M550 554h0M208 557h0M800 554h0"/><path id="pa139" d="M833 557h0M418 555h0M291 539h0M442 525h0M724 547h0M201 553h0M693 537h0M702 544h0M687 541h0M248 549h0M108 557h0M698 543h0M617 527h0M419 525h0M176 548h0M767 541h0M380 540h0M687 552h0M673 549h0M581 555h0M166 546h0M622 551h0M623 545h0M572 550h0"/><path id="pa140" d="M67 555h0M759 553h0M341 545h0M747 554h0M494 556h0M313 554h0M264 555h0M671 541h0M68 541h0M788 525h0M224 555h0M297 521h0M707 555h0M772 542h0M449 556h0M634 533h0M687 530h0M702 526h0M253 537h0M725 555h0M479 554h0M354 526h0M850 546h0M849 531h0"/><path id="pa141" d="M257 545h0M185 555h0M864 549h0M684 541h0M130 548h0M641 540h0M426 541h0M279 544h0M832 542h0M731 532h0M849 537h0M470 547h0M583 551h0M625 530h0M446 545h0M271 550h0M766 526h0M635 529h0M716 552h0M779 535h0M71 556h0M590 553h0M220 553h0M286 554h0"/><path id="pa142" d="M617 555h0M337 538h0M851 539h0M168 530h0M687 538h0M564 551h0M346 551h0M350 552h0M807 548h0M798 546h0M788 556h0M377 528h0M697 540h0M742 537h0M695 556h0M819 556h0M493 530h0M812 547h0M862 526h0M90 553h0M510 554h0M477 519h0M808 529h0M250 545h0"/><path id="pa143" d="M354 528h0M139 545h0M714 541h0M297 539h0M402 540h0M621 544h0M89 533h0M535 550h0M863 543h0M614 550h0M408 530h0M487 539h0M369 550h0M809 555h0M524 557h0M616 540h0M706 542h0M129 546h0M485 519h0M826 544h0M737 557h0M318 528h0M549 544h0M772 551h0"/><path id="pa144" d="M414 532h0M528 555h0M116 548h0M293 522h0M483 517h0M762 554h0M308 512h0M379 530h0M366 543h0M851 525h0M366 556h0M617 537h0M816 550h0M602 530h0M533 554h0M204 554h0M324 557h0M338 537h0M650 539h0M709 555h0M650 553h0M813 536h0M293 539h0M732 544h0"/><path id="pa145" d="M185 555h0M574 542h0M280 517h0M532 532h0M438 553h0M235 556h0M614 556h0M773 551h0M579 531h0M779 533h0M239 553h0M75 555h0M573 554h0M360 551h0M508 530h0M211 532h0M243 556h0M269 549h0M163 527h0M443 555h0M860 531h0M139 538h0M204 552h0M163 526h0"/><path id="pa146" d="M100 514h0M840 548h0M512 553h0M256 554h0M254 552h0M550 548h0M397 551h0M626 533h0M415 524h0M686 540h0M356 528h0M856 554h0M236 540h0M829 557h0M259 549h0M653 544h0M666 547h0M493 551h0M379 557h0M433 516h0M615 555h0M114 556h0M156 532h0M131 556h0"/><path id="pa147" d="M128 550h0M636 544h0M67 549h0M102 531h0M315 526h0M708 527h0M296 546h0M596 553h0M466 538h0M823 543h0M749 544h0M661 526h0M463 541h0M523 550h0M501 539h0M76 541h0M278 528h0M255 549h0M730 556h0M215 557h0M421 520h0M493 556h0M140 541h0M478 557h0"/><path id="pa148" d="M817 526h0M156 548h0M624 549h0M854 551h0M489 548h0M455 547h0M102 524h0M436 512h0M336 549h0M399 557h0M599 557h0M859 551h0M367 546h0M95 517h0M471 521h0M448 556h0M494 550h0M208 548h0M211 533h0M130 555h0M710 556h0M676 551h0M229 547h0M234 546h0"/><path id="pa149" d="M429 543h0M752 555h0M645 550h0M173 544h0M537 555h0M541 542h0M169 540h0M372 557h0M729 551h0M612 555h0M641 543h0M350 553h0M440 550h0M448 557h0M229 553h0M194 553h0M542 551h0M513 541h0M701 539h0M481 546h0M437 542h0M245 554h0M784 557h0M835 552h0"/><clipPath id="clipb"><rect x="70.5" y="914.9" width="795.7" height="497"/></clipPath><path id="pb0" d="M72 1380h0M680 1354h0M733 1365h0M550 1384h0M706 1334h0M532 1389h0M650 1379h0M615 1341h0M105 1383h0M594 1329h0M562 1383h0M724 1350h0M677 1381h0M270 1382h0M134 1371h0M678 1377h0M768 1379h0M642 1351h0M152 1385h0M854 1366h0M393 1342h0M150 1380h0M230 1384h0M208 1382h0"/><path id="pb1" d="M813 1381h0M138 1386h0M708 1333h0M782 1386h0M572 1348h0M821 1369h0M592 1338h0M722 1352h0M506 1383h0M581 1335h0M625 1372h0M142 1381h0M702 1369h0M761 1348h0M817 1378h0M824 1387h0M529 1386h0M765 1371h0M783 1383h0M607 1327h0M814 1363h0M155 1365h0M303 1376h0M774 1378h0"/><path id="pb2" d="M759 1387h0M623 1337h0M806 1358h0M828 1386h0M590 1347h0M845 1381h0M71 1381h0M682 1376h0M815 1386h0M734 1378h0M572 1368h0M709 1332h0M655 1327h0M314 1381h0M574 1384h0M608 1386h0M148 1386h0M706 1380h0M585 1384h0M111 1389h0M678 1372h0M675 1378h0M639 1336h0M121 1385h0"/><path id="pb3" d="M782 1388h0M504 1378h0M664 1376h0M72 1390h0M163 1383h0M502 1342h0M122 1375h0M366 1381h0M758 1351h0M745 1364h0M545 1381h0M698 1386h0M167 1367h0M323 1377h0M438 1323h0M535 1374h0M581 1374h0M576 1360h0M520 1387h0M326 1385h0M721 1360h0M648 1371h0M675 1346h0M788 1362h0"/><path id="pb4" d="M279 1384h0M600 1379h0M191 1385h0M720 1338h0M810 1386h0M540 1388h0M436 1363h0M140 1386h0M94 1369h0M521 1381h0M87 1390h0M66 1389h0M315 1374h0M305 1374h0M827 1387h0M173 1364h0M712 1390h0M607 1326h0M130 1388h0M558 1384h0M707 1342h0M572 1338h0M465 1364h0M630 1341h0"/><path id="pb5" d="M195 1379h0M210 1348h0M730 1365h0M205 1384h0M695 1327h0M799 1369h0M830 1378h0M715 1352h0M713 1388h0M737 1363h0M516 1385h0M845 1383h0M595 1373h0M721 1362h0M244 1385h0M707 1355h0M615 1349h0M727 1356h0M700 1358h0M697 1347h0M650 1390h0M740 1371h0M711 1356h0M637 1332h0"/><path id="pb6" d="M849 1372h0M767 1373h0M717 1369h0M79 1389h0M674 1377h0M653 1380h0M651 1378h0M180 1384h0M538 1377h0M691 1334h0M773 1390h0M734 1380h0M777 1382h0M809 1370h0M583 1334h0M533 1377h0M106 1389h0M118 1375h0M188 1386h0M770 1378h0M118 1382h0M747 1375h0M299 1371h0M526 1382h0"/><path id="pb7" d="M850 1360h0M149 1370h0M616 1342h0M165 1375h0M608 1330h0M677 1332h0M682 1363h0M688 1340h0M121 1381h0M644 1324h0M177 1365h0M631 1370h0M172 1384h0M602 1378h0M132 1388h0M587 1376h0M374 1383h0M722 1371h0M526 1378h0M589 1350h0M129 1366h0M207 1381h0M274 1380h0M278 1375h0"/><path id="pb8" d="M688 1361h0M87 1384h0M447 1379h0M763 1377h0M794 1388h0M217 1361h0M536 1389h0M720 1364h0M528 1389h0M821 1382h0M93 1377h0M506 1381h0M142 1362h0M571 1380h0M181 1383h0M830 1377h0M200 1368h0M688 1372h0M834 1389h0M859 1380h0M568 1380h0M697 1345h0M608 1336h0M851 1365h0"/><path id="pb9" d="M660 1382h0M193 1377h0M625 1383h0M621 1389h0M208 1365h0M629 1383h0M549 1377h0M574 1339h0M276 1380h0M616 1366h0M745 1338h0M136 1356h0M671 1352h0M198 1357h0M652 1344h0M630 1364h0M829 1388h0M665 1362h0M868 1362h0M171 1383h0M575 1389h0M393 1370h0M855 1384h0M677 1339h0"/><path id="pb10" d="M597 1368h0M138 1390h0M733 1350h0M226 1376h0M636 1367h0M613 1324h0M617 1348h0M240 1369h0M607 1383h0M740 1364h0M213 1375h0M729 1369h0M87 1370h0M224 1384h0M111 1384h0M721 1347h0M467 1364h0M294 1382h0M792 1364h0M118 1376h0M594 1369h0M161 1347h0M590 1377h0M835 1385h0"/><path id="pb11" d="M651 1346h0M853 1387h0M235 1373h0M765 1367h0M774 1370h0M463 1343h0M200 1352h0M126 1384h0M549 1388h0M868 1375h0M769 1361h0M435 1322h0M687 1371h0M665 1379h0M149 1369h0M286 1383h0M641 1387h0M289 1370h0M791 1379h0M124 1377h0M689 1365h0M79 1384h0M587 1390h0M777 1388h0"/><path id="pb12" d="M148 1365h0M124 1383h0M625 1384h0M632 1374h0M289 1388h0M248 1387h0M752 1386h0M790 1382h0M770 1373h0M84 1378h0M785 1389h0M708 1377h0M760 1371h0M666 1369h0M279 1375h0M231 1390h0M448 1328h0M514 1378h0M97 1373h0M686 1339h0M676 1338h0M233 1378h0M826 1363h0M680 1389h0"/><path id="pb13" d="M627 1346h0M406 1383h0M804 1385h0M200 1377h0M682 1359h0M636 1345h0M172 1364h0M576 1355h0M663 1357h0M397 1379h0M160 1389h0M489 1386h0M795 1387h0M158 1389h0M831 1387h0M566 1369h0M79 1388h0M550 1379h0M677 1388h0M576 1379h0M674 1390h0M807 1385h0M107 1376h0M86 1382h0"/><path id="pb14" d="M114 1385h0M521 1380h0M691 1387h0M386 1342h0M178 1352h0M695 1371h0M625 1376h0M699 1363h0M513 1372h0M220 1381h0M831 1374h0M589 1386h0M184 1369h0M456 1349h0M360 1341h0M397 1369h0M602 1379h0M463 1385h0M222 1368h0M314 1344h0M814 1386h0M806 1376h0M547 1390h0M819 1378h0"/><path id="pb15" d="M747 1349h0M633 1387h0M651 1331h0M792 1373h0M411 1346h0M155 1384h0M722 1367h0M236 1382h0M157 1383h0M616 1360h0M527 1386h0M718 1386h0M722 1370h0M688 1369h0M178 1379h0M516 1386h0M239 1373h0M663 1323h0M645 1349h0M638 1339h0M722 1360h0M776 1374h0M701 1373h0M103 1388h0"/><path id="pb16" d="M856 1365h0M248 1390h0M652 1355h0M203 1382h0M545 1383h0M851 1360h0M600 1386h0M546 1389h0M765 1390h0M177 1356h0M123 1373h0M656 1349h0M298 1384h0M516 1379h0M79 1379h0M792 1387h0M643 1347h0M721 1389h0M644 1384h0M612 1379h0M844 1358h0M113 1372h0M677 1388h0M637 1342h0"/><path id="pb17" d="M688 1351h0M493 1375h0M816 1375h0M199 1350h0M843 1388h0M817 1363h0M422 1352h0M642 1378h0M293 1378h0M127 1365h0M642 1376h0M111 1380h0M804 1390h0M575 1348h0M166 1390h0M229 1371h0M705 1338h0M663 1342h0M644 1389h0M117 1374h0M498 1363h0M825 1374h0M249 1381h0M705 1356h0"/><path id="pb18" d="M835 1381h0M224 1390h0M801 1361h0M699 1388h0M657 1342h0M665 1369h0M629 1384h0M692 1371h0M864 1361h0M204 1380h0M758 1348h0M780 1390h0M654 1387h0M273 1384h0M705 1356h0M847 1388h0M186 1376h0M782 1385h0M219 1372h0M618 1338h0M679 1389h0M76 1380h0M518 1377h0M260 1379h0"/><path id="pb19" d="M365 1376h0M153 1384h0M635 1330h0M125 1388h0M560 1388h0M838 1387h0M600 1381h0M841 1376h0M161 1365h0M599 1389h0M709 1340h0M621 1336h0M585 1373h0M729 1356h0M518 1372h0M690 1327h0M804 1359h0M610 1344h0M829 1373h0M263 1370h0M795 1385h0M354 1369h0M628 1368h0M571 1346h0"/><path id="pb20" d="M757 1352h0M736 1367h0M644 1376h0M201 1365h0M69 1382h0M573 1345h0M700 1335h0M835 1387h0M675 1327h0M765 1388h0M144 1389h0M100 1374h0M592 1337h0M680 1387h0M687 1340h0M853 1384h0M804 1390h0M657 1334h0M620 1378h0M206 1378h0M771 1361h0M724 1347h0M211 1383h0M563 1380h0"/><path id="pb21" d="M318 1362h0M699 1366h0M230 1390h0M653 1339h0M521 1389h0M192 1389h0M557 1373h0M735 1365h0M665 1382h0M543 1374h0M772 1388h0M715 1349h0M347 1387h0M758 1374h0M847 1383h0M570 1344h0M741 1375h0M553 1383h0M464 1328h0M535 1380h0M639 1378h0M182 1370h0M864 1383h0M625 1382h0"/><path id="pb22" d="M364 1351h0M744 1356h0M551 1382h0M143 1379h0M244 1379h0M825 1376h0M111 1369h0M614 1366h0M564 1390h0M607 1372h0M217 1360h0M858 1362h0M700 1342h0M705 1344h0M643 1324h0M812 1381h0M176 1347h0M260 1383h0M649 1344h0M840 1388h0M835 1357h0M663 1364h0M173 1382h0M789 1382h0"/><path id="pb23" d="M256 1379h0M68 1378h0M615 1363h0M282 1384h0M229 1349h0M809 1371h0M277 1387h0M342 1382h0M516 1390h0M746 1338h0M608 1382h0M672 1382h0M179 1385h0M293 1379h0M758 1371h0M618 1371h0M707 1352h0M261 1373h0M114 1379h0M583 1343h0M665 1361h0M168 1370h0M254 1389h0M701 1384h0"/><path id="pb24" d="M849 1375h0M763 1360h0M801 1367h0M640 1339h0M630 1382h0M202 1390h0M677 1326h0M784 1372h0M859 1375h0M219 1390h0M213 1389h0M598 1337h0M689 1361h0M297 1374h0M846 1365h0M781 1389h0M529 1382h0M670 1348h0M592 1375h0M124 1361h0M770 1376h0M841 1388h0M115 1374h0M682 1349h0"/><path id="pb25" d="M154 1378h0M241 1384h0M617 1388h0M709 1380h0M845 1371h0M464 1344h0M122 1377h0M690 1376h0M249 1382h0M700 1342h0M826 1387h0M664 1356h0M638 1351h0M246 1380h0M778 1365h0M679 1383h0M597 1365h0M790 1377h0M732 1386h0M764 1383h0M409 1371h0M305 1390h0M719 1355h0M813 1359h0"/><path id="pb26" d="M734 1357h0M470 1344h0M272 1380h0M807 1368h0M722 1373h0M665 1384h0M626 1342h0M516 1388h0M628 1348h0M123 1372h0M614 1362h0M744 1340h0M666 1382h0M692 1388h0M451 1367h0M111 1381h0M677 1361h0M695 1329h0M269 1386h0M600 1375h0M147 1377h0M170 1386h0M108 1375h0M208 1370h0"/><path id="pb27" d="M242 1374h0M757 1376h0M181 1385h0M155 1389h0M758 1353h0M275 1369h0M525 1384h0M649 1390h0M165 1390h0M114 1370h0M297 1385h0M662 1329h0M766 1376h0M627 1362h0M669 1356h0M756 1372h0M646 1338h0M445 1381h0M280 1385h0M275 1380h0M546 1377h0M605 1338h0M126 1381h0M243 1379h0"/><path id="pb28" d="M722 1375h0M93 1390h0M866 1373h0M592 1358h0M833 1389h0M565 1382h0M411 1382h0M589 1365h0M490 1386h0M783 1374h0M182 1388h0M660 1380h0M713 1335h0M206 1387h0M295 1371h0M598 1372h0M359 1367h0M479 1378h0M734 1387h0M804 1377h0M230 1375h0M567 1380h0M176 1385h0M744 1385h0"/><path id="pb29" d="M750 1351h0M705 1373h0M815 1370h0M633 1368h0M751 1362h0M641 1327h0M528 1378h0M545 1390h0M710 1350h0M95 1383h0M569 1365h0M713 1367h0M800 1360h0M768 1361h0M543 1373h0M568 1378h0M728 1352h0M657 1326h0M518 1375h0M670 1330h0M166 1372h0M697 1381h0M791 1367h0M280 1372h0"/><path id="pb30" d="M505 1389h0M668 1330h0M805 1360h0M287 1371h0M132 1374h0M682 1372h0M629 1384h0M772 1389h0M532 1382h0M208 1352h0M716 1344h0M119 1390h0M136 1366h0M233 1389h0M713 1343h0M545 1382h0M340 1364h0M687 1362h0M556 1389h0M154 1381h0M714 1375h0M641 1383h0M222 1355h0M758 1378h0"/><path id="pb31" d="M142 1389h0M257 1371h0M548 1388h0M804 1376h0M746 1371h0M713 1379h0M867 1363h0M729 1389h0M806 1375h0M652 1364h0M321 1374h0M676 1375h0M591 1382h0M712 1346h0M632 1384h0M602 1344h0M581 1382h0M76 1390h0M631 1390h0M572 1351h0M720 1383h0M655 1375h0M514 1382h0M629 1334h0"/><path id="pb32" d="M589 1382h0M607 1349h0M702 1375h0M675 1341h0M298 1379h0M684 1383h0M580 1374h0M87 1389h0M686 1345h0M566 1345h0M134 1373h0M200 1375h0M285 1387h0M655 1373h0M177 1386h0M625 1378h0M690 1389h0M565 1374h0M674 1340h0M592 1372h0M594 1364h0M439 1370h0M372 1339h0M586 1345h0"/><path id="pb33" d="M671 1384h0M144 1388h0M549 1377h0M701 1374h0M87 1370h0M699 1370h0M593 1388h0M647 1357h0M600 1350h0M570 1371h0M808 1387h0M110 1378h0M730 1347h0M655 1385h0M545 1390h0M127 1346h0M403 1374h0M407 1331h0M846 1364h0M721 1348h0M608 1348h0M88 1386h0M121 1379h0M651 1367h0"/><path id="pb34" d="M720 1379h0M278 1383h0M799 1360h0M219 1373h0M517 1390h0M629 1331h0M600 1332h0M478 1384h0M311 1370h0M704 1389h0M153 1371h0M607 1375h0M104 1370h0M866 1388h0M822 1370h0M66 1381h0M820 1365h0M265 1387h0M146 1358h0M766 1384h0M646 1379h0M292 1386h0M227 1371h0M748 1366h0"/><path id="pb35" d="M89 1378h0M677 1356h0M637 1353h0M328 1375h0M490 1383h0M709 1371h0M147 1370h0M255 1384h0M723 1346h0M190 1385h0M744 1368h0M693 1359h0M612 1370h0M205 1389h0M682 1369h0M478 1319h0M720 1336h0M585 1332h0M223 1352h0M93 1374h0M215 1351h0M732 1341h0M560 1386h0M695 1355h0"/><path id="pb36" d="M145 1350h0M823 1389h0M688 1384h0M104 1373h0M155 1365h0M578 1341h0M241 1387h0M633 1333h0M87 1387h0M695 1331h0M140 1376h0M843 1390h0M82 1376h0M135 1377h0M502 1376h0M670 1353h0M451 1325h0M161 1380h0M719 1365h0M230 1369h0M235 1361h0M411 1328h0M856 1383h0M569 1387h0"/><path id="pb37" d="M303 1388h0M146 1359h0M591 1331h0M804 1378h0M845 1383h0M625 1354h0M702 1375h0M578 1388h0M700 1351h0M487 1348h0M134 1371h0M71 1380h0M559 1377h0M109 1373h0M250 1375h0M763 1390h0M654 1374h0M206 1364h0M141 1352h0M252 1389h0M228 1383h0M817 1365h0M846 1379h0M443 1325h0"/><path id="pb38" d="M662 1341h0M849 1386h0M675 1364h0M726 1378h0M721 1345h0M177 1377h0M744 1390h0M518 1376h0M191 1369h0M693 1382h0M769 1367h0M660 1360h0M685 1390h0M687 1350h0M215 1370h0M849 1367h0M598 1360h0M703 1338h0M142 1375h0M819 1365h0M580 1331h0M809 1367h0M621 1330h0M167 1356h0"/><path id="pb39" d="M337 1348h0M758 1368h0M466 1322h0M161 1362h0M143 1350h0M642 1373h0M617 1369h0M637 1385h0M826 1389h0M840 1376h0M522 1382h0M734 1346h0M450 1386h0M688 1389h0M544 1377h0M620 1388h0M120 1388h0M603 1344h0M212 1381h0M693 1347h0M183 1390h0M266 1369h0M228 1366h0M656 1332h0"/><path id="pb40" d="M698 1341h0M696 1386h0M72 1381h0M809 1378h0M243 1389h0M593 1334h0M686 1355h0M586 1388h0M699 1332h0M601 1331h0M650 1379h0M181 1382h0M529 1372h0M326 1362h0M514 1390h0M448 1367h0M574 1346h0M684 1389h0M194 1364h0M541 1385h0M532 1389h0M444 1384h0M197 1386h0M559 1371h0"/><path id="pb41" d="M472 1385h0M436 1381h0M771 1383h0M584 1353h0M799 1389h0M283 1390h0M824 1387h0M284 1381h0M830 1373h0M687 1352h0M219 1362h0M820 1387h0M460 1375h0M585 1381h0M767 1360h0M597 1346h0M633 1341h0M291 1383h0M482 1339h0M651 1361h0M764 1389h0M518 1388h0M269 1377h0M132 1377h0"/><path id="pb42" d="M165 1353h0M661 1360h0M122 1388h0M514 1380h0M611 1354h0M81 1384h0M545 1376h0M177 1374h0M216 1380h0M664 1376h0M584 1343h0M826 1374h0M535 1389h0M166 1389h0M199 1385h0M779 1384h0M623 1389h0M796 1358h0M590 1367h0M641 1360h0M691 1354h0M304 1379h0M118 1381h0M625 1385h0"/><path id="pb43" d="M569 1366h0M688 1389h0M139 1374h0M553 1388h0M799 1363h0M300 1390h0M766 1383h0M629 1386h0M591 1353h0M221 1366h0M269 1388h0M701 1340h0M508 1389h0M800 1388h0M718 1382h0M676 1378h0M613 1378h0M695 1390h0M739 1359h0M102 1387h0M847 1384h0M664 1351h0M195 1370h0M243 1379h0"/><path id="pb44" d="M582 1382h0M815 1382h0M865 1374h0M283 1380h0M162 1384h0M330 1364h0M707 1334h0M215 1385h0M280 1375h0M832 1373h0M534 1378h0M769 1366h0M614 1362h0M839 1389h0M757 1388h0M180 1367h0M819 1367h0M317 1374h0M671 1381h0M631 1384h0M689 1356h0M715 1372h0M803 1369h0M812 1389h0"/><path id="pb45" d="M639 1389h0M528 1383h0M674 1353h0M631 1328h0M624 1327h0M578 1385h0M611 1353h0M211 1387h0M208 1388h0M574 1363h0M753 1383h0M627 1361h0M657 1379h0M816 1362h0M108 1380h0M255 1383h0M209 1364h0M812 1376h0M566 1350h0M107 1374h0M830 1373h0M686 1340h0M827 1365h0M728 1388h0"/><path id="pb46" d="M95 1379h0M101 1370h0M628 1356h0M152 1358h0M264 1389h0M378 1367h0M362 1339h0M615 1364h0M295 1389h0M252 1371h0M94 1390h0M172 1377h0M686 1387h0M704 1365h0M636 1365h0M686 1354h0M735 1363h0M104 1373h0M636 1379h0M579 1361h0M842 1364h0M684 1349h0M101 1388h0M790 1385h0"/><path id="pb47" d="M162 1371h0M245 1387h0M558 1386h0M226 1380h0M566 1364h0M522 1378h0M180 1372h0M621 1364h0M711 1373h0M815 1363h0M167 1386h0M115 1388h0M547 1385h0M182 1385h0M608 1358h0M770 1386h0M644 1336h0M588 1332h0M596 1333h0M864 1368h0M732 1378h0M621 1356h0M261 1378h0M201 1376h0"/><path id="pb48" d="M792 1363h0M684 1367h0M521 1389h0M702 1354h0M630 1373h0M796 1382h0M647 1353h0M138 1389h0M796 1362h0M777 1381h0M156 1390h0M648 1328h0M835 1390h0M570 1361h0M309 1382h0M545 1383h0M106 1382h0M789 1365h0M687 1354h0M761 1381h0M713 1358h0M716 1334h0M175 1386h0M603 1381h0"/><path id="pb49" d="M843 1387h0M812 1375h0M645 1360h0M853 1375h0M726 1390h0M614 1372h0M742 1375h0M688 1368h0M278 1376h0M610 1369h0M137 1384h0M215 1386h0M647 1375h0M160 1380h0M699 1344h0M599 1378h0M692 1354h0M659 1358h0M579 1387h0M825 1365h0M106 1387h0M855 1358h0M105 1385h0M703 1367h0"/><path id="pb50" d="M724 1340h0M723 1363h0M570 1342h0M578 1379h0M140 1364h0M825 1375h0M780 1387h0M647 1361h0M315 1349h0M571 1388h0M333 1342h0M285 1381h0M517 1377h0M200 1389h0M862 1377h0M208 1367h0M593 1378h0M820 1371h0M684 1386h0M253 1376h0M856 1376h0M268 1388h0M595 1328h0M485 1386h0"/><path id="pb51" d="M609 1373h0M782 1385h0M307 1389h0M214 1377h0M143 1358h0M532 1383h0M665 1338h0M726 1344h0M97 1377h0M547 1370h0M100 1370h0M543 1388h0M73 1374h0M598 1366h0M505 1371h0M687 1329h0M300 1375h0M591 1344h0M658 1330h0M860 1390h0M226 1377h0M285 1390h0M300 1374h0M645 1353h0"/><path id="pb52" d="M534 1385h0M578 1382h0M791 1371h0M194 1383h0M147 1382h0M741 1373h0M294 1375h0M127 1389h0M726 1345h0M705 1347h0M869 1379h0M544 1371h0M569 1351h0M854 1386h0M225 1373h0M600 1383h0M365 1383h0M590 1365h0M636 1325h0M192 1359h0M662 1354h0M712 1384h0M617 1390h0M600 1354h0"/><path id="pb53" d="M850 1389h0M638 1354h0M642 1331h0M208 1382h0M236 1351h0M622 1335h0M841 1376h0M864 1379h0M516 1372h0M122 1386h0M692 1368h0M532 1375h0M663 1369h0M283 1385h0M670 1356h0M274 1374h0M819 1361h0M533 1389h0M254 1382h0M611 1336h0M713 1378h0M595 1380h0M823 1383h0M610 1342h0"/><path id="pb54" d="M724 1360h0M214 1386h0M665 1390h0M559 1390h0M547 1390h0M711 1352h0M816 1389h0M134 1367h0M645 1389h0M701 1356h0M539 1382h0M110 1387h0M731 1359h0M827 1390h0M406 1375h0M767 1390h0M189 1384h0M113 1389h0M607 1376h0M765 1388h0M716 1345h0M663 1356h0M236 1369h0M194 1365h0"/><path id="pb55" d="M738 1389h0M324 1362h0M784 1365h0M776 1369h0M698 1356h0M818 1358h0M505 1380h0M743 1389h0M107 1384h0M670 1390h0M612 1386h0M640 1372h0M843 1357h0M240 1364h0M79 1385h0M200 1390h0M525 1384h0M654 1339h0M861 1373h0M740 1354h0M676 1373h0M67 1383h0M348 1377h0M279 1379h0"/><path id="pb56" d="M523 1373h0M96 1373h0M274 1374h0M769 1363h0M543 1386h0M775 1380h0M634 1351h0M861 1357h0M854 1388h0M622 1348h0M149 1360h0M282 1375h0M683 1330h0M820 1386h0M671 1332h0M698 1345h0M866 1385h0M835 1371h0M615 1374h0M586 1383h0M621 1388h0M768 1361h0M703 1355h0M332 1367h0"/><path id="pb57" d="M146 1381h0M93 1387h0M688 1385h0M228 1378h0M741 1386h0M618 1340h0M171 1369h0M597 1388h0M775 1388h0M167 1353h0M214 1366h0M773 1375h0M624 1390h0M575 1376h0M776 1364h0M612 1356h0M788 1358h0M270 1381h0M858 1373h0M578 1368h0M808 1388h0M562 1374h0M185 1373h0M613 1359h0"/><path id="pb58" d="M653 1388h0M765 1370h0M867 1383h0M338 1382h0M594 1363h0M302 1375h0M801 1378h0M288 1388h0M126 1364h0M559 1380h0M125 1379h0M745 1341h0M626 1342h0M160 1348h0M230 1373h0M791 1389h0M795 1390h0M690 1347h0M254 1384h0M96 1381h0M680 1332h0M733 1354h0M654 1359h0M289 1385h0"/><path id="pb59" d="M853 1362h0M627 1331h0M592 1354h0M767 1359h0M773 1380h0M765 1360h0M303 1390h0M726 1378h0M561 1376h0M148 1378h0M652 1382h0M420 1343h0M194 1386h0M814 1380h0M146 1373h0M867 1363h0M735 1387h0M358 1376h0M91 1390h0M704 1370h0M849 1390h0M85 1368h0M102 1385h0M686 1369h0"/><path id="pb60" d="M668 1334h0M736 1343h0M116 1371h0M298 1389h0M763 1348h0M807 1385h0M355 1371h0M867 1387h0M790 1363h0M305 1390h0M540 1390h0M357 1385h0M540 1373h0M699 1347h0M867 1358h0M623 1327h0M252 1386h0M644 1329h0M509 1370h0M821 1368h0M147 1384h0M615 1354h0M704 1375h0M424 1322h0"/><path id="pb61" d="M628 1380h0M288 1385h0M620 1373h0M776 1367h0M722 1389h0M528 1386h0M460 1342h0M421 1330h0M675 1341h0M607 1380h0M690 1373h0M417 1330h0M242 1387h0M620 1356h0M702 1386h0M591 1358h0M566 1376h0M93 1384h0M586 1329h0M121 1373h0M66 1374h0M515 1386h0M253 1387h0M630 1362h0"/><path id="pb62" d="M97 1384h0M839 1377h0M220 1363h0M296 1374h0M79 1389h0M723 1351h0M264 1388h0M390 1387h0M196 1379h0M200 1373h0M67 1385h0M853 1378h0M385 1371h0M122 1368h0M574 1378h0M279 1378h0M522 1381h0M189 1381h0M105 1380h0M311 1376h0M141 1365h0M583 1336h0M449 1320h0M263 1382h0"/><path id="pb63" d="M90 1388h0M306 1390h0M789 1360h0M764 1378h0M477 1345h0M271 1380h0M592 1339h0M518 1386h0M588 1348h0M795 1376h0M855 1363h0M505 1387h0M292 1388h0M690 1389h0M224 1382h0M257 1390h0M746 1339h0M628 1340h0M782 1387h0M722 1388h0M167 1376h0M821 1369h0M801 1375h0M533 1385h0"/><path id="pb64" d="M811 1388h0M610 1337h0M539 1386h0M597 1339h0M738 1344h0M229 1373h0M595 1376h0M225 1385h0M533 1388h0M731 1387h0M229 1369h0M667 1381h0M503 1376h0M281 1379h0M759 1349h0M729 1358h0M620 1354h0M75 1367h0M419 1386h0M158 1360h0M114 1372h0M797 1385h0M818 1377h0M524 1379h0"/><path id="pb65" d="M652 1337h0M648 1371h0M396 1351h0M225 1389h0M728 1364h0M649 1335h0M594 1349h0M159 1368h0M69 1387h0M848 1390h0M785 1378h0M85 1372h0M671 1329h0M307 1388h0M634 1389h0M591 1389h0M298 1376h0M808 1357h0M132 1381h0M103 1385h0M116 1382h0M815 1374h0M95 1388h0M153 1390h0"/><path id="pb66" d="M763 1389h0M534 1381h0M644 1330h0M554 1382h0M133 1389h0M809 1368h0M573 1343h0M587 1339h0M375 1383h0M664 1371h0M255 1372h0M554 1382h0M596 1348h0M456 1384h0M667 1388h0M127 1378h0M839 1358h0M793 1384h0M772 1381h0M262 1372h0M758 1350h0M680 1333h0M495 1380h0M698 1359h0"/><path id="pb67" d="M567 1357h0M699 1345h0M630 1389h0M570 1340h0M752 1386h0M841 1357h0M681 1374h0M86 1372h0M727 1378h0M716 1375h0M557 1376h0M211 1389h0M749 1351h0M794 1372h0M466 1369h0M473 1350h0M479 1368h0M705 1356h0M730 1370h0M87 1390h0M708 1353h0M738 1357h0M415 1366h0M710 1358h0"/><path id="pb68" d="M190 1369h0M655 1372h0M736 1390h0M857 1379h0M373 1387h0M640 1359h0M728 1386h0M711 1351h0M625 1377h0M159 1366h0M579 1354h0M479 1328h0M611 1330h0M223 1367h0M698 1357h0M576 1328h0M790 1377h0M186 1370h0M269 1390h0M667 1335h0M548 1384h0M581 1388h0M690 1353h0M84 1384h0"/><path id="pb69" d="M470 1379h0M79 1382h0M223 1366h0M289 1381h0M826 1380h0M817 1372h0M778 1374h0M569 1363h0M579 1354h0M862 1386h0M696 1356h0M732 1362h0M725 1345h0M535 1370h0M466 1385h0M870 1382h0M858 1365h0M347 1385h0M863 1361h0M176 1390h0M741 1340h0M223 1385h0M202 1369h0M624 1355h0"/><path id="pb70" d="M834 1361h0M372 1380h0M69 1376h0M726 1389h0M580 1375h0M126 1361h0M551 1383h0M263 1375h0M745 1382h0M727 1374h0M340 1377h0M185 1379h0M617 1390h0M444 1373h0M85 1375h0M71 1388h0M521 1371h0M713 1378h0M243 1387h0M713 1367h0M826 1377h0M560 1388h0M640 1385h0M502 1374h0"/><path id="pb71" d="M827 1357h0M551 1374h0M507 1378h0M803 1367h0M646 1360h0M316 1377h0M475 1369h0M439 1346h0M209 1366h0M750 1380h0M863 1385h0M663 1344h0M611 1326h0M119 1374h0M793 1380h0M769 1365h0M142 1389h0M869 1368h0M763 1389h0M705 1346h0M334 1363h0M657 1330h0M846 1389h0M441 1340h0"/><path id="pb72" d="M609 1377h0M825 1375h0M694 1380h0M775 1389h0M697 1332h0M79 1384h0M630 1364h0M187 1368h0M763 1372h0M662 1386h0M512 1388h0M457 1332h0M607 1355h0M863 1373h0M83 1390h0M193 1375h0M620 1337h0M865 1386h0M635 1382h0M794 1364h0M575 1339h0M782 1381h0M156 1381h0M95 1387h0"/><path id="pb73" d="M107 1390h0M223 1390h0M190 1358h0M769 1362h0M682 1330h0M557 1370h0M151 1389h0M177 1362h0M723 1381h0M699 1351h0M170 1382h0M542 1390h0M232 1369h0M628 1360h0M740 1357h0M535 1373h0M581 1334h0M720 1359h0M96 1371h0M571 1379h0M675 1380h0M574 1353h0M401 1375h0M546 1380h0"/><path id="pb74" d="M697 1345h0M685 1330h0M158 1383h0M312 1378h0M231 1366h0M598 1343h0M353 1384h0M503 1375h0M713 1353h0M577 1350h0M355 1346h0M72 1386h0M681 1326h0M392 1341h0M180 1389h0M209 1354h0M528 1382h0M132 1382h0M163 1388h0M642 1347h0M227 1367h0M650 1378h0M158 1350h0M241 1371h0"/><path id="pb75" d="M713 1379h0M864 1387h0M734 1344h0M626 1328h0M739 1370h0M93 1377h0M597 1369h0M257 1389h0M189 1374h0M482 1384h0M682 1359h0M216 1385h0M288 1370h0M723 1354h0M819 1388h0M619 1327h0M758 1363h0M112 1380h0M713 1387h0M585 1371h0M678 1335h0M841 1360h0M861 1377h0M760 1386h0"/><path id="pb76" d="M453 1349h0M638 1365h0M388 1377h0M639 1326h0M159 1380h0M183 1387h0M572 1369h0M840 1365h0M720 1364h0M671 1389h0M266 1374h0M700 1359h0M674 1379h0M731 1357h0M584 1390h0M247 1377h0M431 1367h0M831 1357h0M251 1382h0M748 1364h0M868 1384h0M91 1376h0M571 1369h0M594 1349h0"/><path id="pb77" d="M414 1324h0M547 1380h0M260 1389h0M548 1372h0M665 1346h0M696 1357h0M727 1382h0M183 1371h0M706 1367h0M226 1385h0M626 1342h0M264 1383h0M174 1390h0M865 1388h0M107 1371h0M866 1384h0M566 1348h0M630 1360h0M192 1389h0M236 1376h0M683 1377h0M530 1372h0M819 1386h0M695 1390h0"/><path id="pb78" d="M830 1388h0M612 1374h0M847 1388h0M694 1329h0M715 1376h0M273 1374h0M68 1374h0M719 1341h0M858 1366h0M590 1340h0M245 1389h0M180 1389h0M765 1364h0M753 1388h0M644 1344h0M511 1385h0M131 1388h0M575 1377h0M813 1357h0M563 1383h0M752 1367h0M138 1386h0M669 1380h0M164 1388h0"/><path id="pb79" d="M648 1325h0M640 1370h0M623 1389h0M677 1362h0M819 1357h0M611 1350h0M702 1373h0M678 1382h0M505 1386h0M609 1381h0M573 1374h0M230 1373h0M596 1338h0M89 1385h0M77 1388h0M799 1362h0M585 1386h0M171 1373h0M593 1330h0M702 1336h0M228 1382h0M135 1388h0M629 1330h0M285 1388h0"/><path id="pb80" d="M303 1372h0M186 1370h0M553 1370h0M216 1379h0M242 1389h0M279 1374h0M710 1362h0M716 1338h0M160 1383h0M616 1358h0M591 1367h0M730 1372h0M327 1384h0M126 1381h0M739 1356h0M120 1388h0M180 1352h0M668 1357h0M595 1389h0M197 1369h0M357 1373h0M256 1376h0M343 1349h0M530 1381h0"/><path id="pb81" d="M470 1374h0M780 1375h0M755 1379h0M647 1330h0M705 1385h0M695 1376h0M830 1380h0M653 1368h0M124 1384h0M601 1375h0M644 1382h0M384 1377h0M351 1348h0M623 1389h0M78 1383h0M105 1373h0M107 1369h0M171 1364h0M182 1388h0M263 1375h0M191 1371h0M554 1390h0M474 1348h0M825 1384h0"/><path id="pb82" d="M517 1382h0M852 1378h0M91 1380h0M662 1384h0M560 1380h0M523 1376h0M788 1374h0M651 1387h0M674 1381h0M682 1389h0M88 1371h0M543 1385h0M223 1376h0M120 1389h0M838 1387h0M832 1377h0M506 1378h0M218 1372h0M531 1383h0M480 1331h0M636 1385h0M603 1331h0M233 1381h0M866 1383h0"/><path id="pb83" d="M719 1385h0M790 1375h0M768 1377h0M605 1350h0M828 1385h0M817 1362h0M658 1366h0M628 1387h0M609 1367h0M118 1369h0M851 1374h0M201 1374h0M591 1342h0M278 1376h0M766 1369h0M726 1365h0M663 1373h0M164 1370h0M357 1382h0M773 1361h0M867 1381h0M522 1384h0M579 1356h0M258 1389h0"/><path id="pb84" d="M704 1352h0M237 1374h0M677 1379h0M152 1378h0M519 1374h0M252 1373h0M624 1329h0M674 1342h0M654 1352h0M79 1386h0M662 1390h0M631 1324h0M646 1387h0M720 1354h0M482 1367h0M684 1381h0M89 1390h0M284 1389h0M862 1385h0M685 1368h0M504 1386h0M214 1380h0M757 1364h0M556 1372h0"/><path id="pb85" d="M841 1372h0M597 1339h0M777 1367h0M517 1379h0M578 1347h0M610 1385h0M673 1384h0M545 1390h0M536 1372h0M117 1385h0M741 1358h0M668 1388h0M644 1383h0M595 1375h0M772 1385h0M826 1378h0M731 1380h0M601 1375h0M613 1367h0M858 1363h0M595 1382h0M643 1361h0M846 1387h0M236 1387h0"/><path id="pb86" d="M578 1365h0M253 1374h0M137 1389h0M154 1361h0M862 1390h0M629 1333h0M611 1351h0M708 1372h0M356 1370h0M85 1388h0M580 1365h0M219 1369h0M199 1375h0M840 1375h0M221 1369h0M532 1377h0M151 1376h0M650 1364h0M73 1389h0M87 1369h0M780 1365h0M640 1345h0M455 1366h0M574 1336h0"/><path id="pb87" d="M784 1374h0M573 1332h0M650 1371h0M860 1367h0M155 1385h0M162 1367h0M684 1360h0M704 1376h0M785 1384h0M626 1374h0M247 1370h0M758 1366h0M681 1326h0M687 1383h0M852 1379h0M174 1383h0M120 1390h0M671 1373h0M592 1375h0M642 1388h0M687 1386h0M741 1360h0M679 1364h0M644 1370h0"/><path id="pb88" d="M636 1383h0M280 1387h0M736 1344h0M808 1387h0M848 1357h0M462 1379h0M79 1385h0M616 1327h0M311 1389h0M517 1372h0M647 1350h0M750 1357h0M580 1343h0M720 1337h0M583 1344h0M133 1378h0M641 1336h0M701 1390h0M117 1368h0M166 1372h0M711 1376h0M766 1383h0M841 1360h0M722 1363h0"/><path id="pb89" d="M664 1368h0M181 1367h0M87 1377h0M732 1385h0M823 1389h0M163 1380h0M734 1377h0M588 1388h0M184 1367h0M206 1384h0M778 1385h0M195 1387h0M322 1364h0M417 1373h0M611 1383h0M361 1348h0M241 1375h0M741 1346h0M587 1344h0M683 1351h0M776 1360h0M776 1388h0M776 1385h0M840 1385h0"/><path id="pb90" d="M685 1378h0M599 1338h0M496 1363h0M152 1381h0M825 1360h0M785 1380h0M242 1384h0M673 1390h0M648 1326h0M79 1381h0M632 1327h0M229 1369h0M516 1382h0M85 1371h0M803 1368h0M636 1390h0M185 1371h0M646 1369h0M594 1331h0M594 1334h0M779 1381h0M396 1384h0M117 1390h0M188 1360h0"/><path id="pb91" d="M73 1376h0M726 1384h0M216 1373h0M664 1369h0M809 1381h0M862 1389h0M635 1328h0M681 1390h0M797 1360h0M698 1352h0M640 1388h0M176 1390h0M708 1347h0M175 1387h0M197 1376h0M193 1357h0M373 1369h0M456 1348h0M197 1367h0M356 1381h0M577 1328h0M759 1368h0M525 1390h0M834 1383h0"/><path id="pb92" d="M124 1372h0M699 1387h0M696 1355h0M506 1389h0M557 1374h0M591 1360h0M749 1358h0M483 1382h0M123 1367h0M563 1381h0M552 1385h0M704 1339h0M134 1388h0M616 1342h0M721 1381h0M767 1366h0M126 1372h0M720 1344h0M512 1378h0M226 1390h0M626 1363h0M575 1360h0M795 1359h0M710 1378h0"/><path id="pb93" d="M632 1378h0M484 1384h0M712 1375h0M641 1359h0M706 1390h0M748 1366h0M844 1360h0M510 1384h0M703 1369h0M753 1352h0M602 1361h0M584 1369h0M795 1375h0M205 1387h0M97 1388h0M128 1383h0M595 1365h0M731 1390h0M654 1361h0M829 1377h0M514 1371h0M708 1366h0M275 1369h0M784 1388h0"/><path id="pb94" d="M730 1364h0M834 1372h0M73 1387h0M725 1390h0M625 1330h0M189 1370h0M584 1381h0M760 1372h0M525 1386h0M210 1363h0M579 1370h0M588 1347h0M819 1369h0M550 1376h0M622 1348h0M799 1361h0M600 1345h0M235 1370h0M860 1390h0M739 1339h0M796 1370h0M734 1356h0M748 1390h0M261 1379h0"/><path id="pb95" d="M68 1365h0M94 1386h0M259 1385h0M646 1389h0M699 1356h0M165 1370h0M250 1390h0M239 1377h0M713 1334h0M144 1382h0M845 1373h0M706 1386h0M702 1353h0M538 1382h0M544 1382h0M803 1363h0M692 1334h0M565 1388h0M547 1390h0M303 1378h0M665 1340h0M102 1377h0M740 1370h0M256 1383h0"/><path id="pb96" d="M291 1390h0M698 1380h0M250 1388h0M293 1388h0M574 1359h0M697 1374h0M661 1365h0M355 1383h0M655 1374h0M692 1358h0M659 1357h0M197 1377h0M846 1387h0M639 1385h0M143 1375h0M301 1380h0M722 1386h0M417 1384h0M605 1342h0M576 1383h0M571 1382h0M614 1354h0M153 1366h0M683 1344h0"/><path id="pb97" d="M118 1379h0M633 1385h0M579 1352h0M197 1365h0M140 1353h0M368 1386h0M761 1365h0M628 1359h0M197 1382h0M650 1382h0M521 1390h0M619 1335h0M695 1350h0M678 1382h0M746 1390h0M368 1364h0M642 1389h0M117 1374h0M145 1379h0M403 1340h0M699 1368h0M219 1382h0M569 1380h0M77 1383h0"/><path id="pb98" d="M404 1327h0M662 1374h0M519 1385h0M297 1379h0M756 1347h0M519 1388h0M127 1376h0M614 1351h0M774 1382h0M811 1386h0M102 1374h0M121 1368h0M248 1375h0M576 1381h0M227 1380h0M543 1381h0M764 1390h0M760 1373h0M214 1381h0M71 1385h0M719 1383h0M198 1354h0M110 1381h0M100 1387h0"/><path id="pb99" d="M603 1336h0M554 1377h0M200 1364h0M640 1325h0M231 1387h0M530 1373h0M126 1387h0M678 1380h0M677 1369h0M690 1328h0M347 1364h0M311 1382h0M752 1377h0M540 1382h0M827 1385h0M632 1334h0M683 1335h0M565 1380h0M691 1347h0M320 1366h0M736 1383h0M515 1373h0M638 1324h0M251 1390h0"/><path id="pb100" d="M643 1377h0M751 1338h0M841 1370h0M705 1379h0M728 1370h0M616 1384h0M109 1384h0M85 1377h0M173 1357h0M334 1374h0M85 1383h0M88 1383h0M765 1382h0M176 1367h0M815 1368h0M593 1347h0M554 1378h0M867 1386h0M559 1387h0M213 1389h0M775 1373h0M148 1386h0M536 1375h0M717 1363h0"/><path id="pb101" d="M81 1390h0M747 1354h0M254 1379h0M310 1371h0M127 1366h0M630 1342h0M681 1365h0M418 1385h0M142 1380h0M99 1386h0M183 1368h0M550 1373h0M170 1384h0M771 1367h0M508 1375h0M717 1373h0M291 1389h0M608 1326h0M643 1370h0M283 1373h0M705 1346h0M251 1375h0M701 1389h0M250 1382h0"/><path id="pb102" d="M678 1325h0M732 1390h0M699 1330h0M373 1385h0M758 1387h0M603 1366h0M648 1371h0M695 1381h0M862 1376h0M623 1334h0M587 1348h0M856 1358h0M666 1329h0M411 1363h0M779 1374h0M815 1373h0M717 1382h0M730 1345h0M573 1379h0M847 1384h0M735 1343h0M583 1356h0M242 1376h0M650 1390h0"/><path id="pb103" d="M508 1383h0M138 1367h0M774 1362h0M637 1356h0M727 1375h0M591 1359h0M123 1348h0M832 1377h0M801 1364h0M568 1367h0M606 1334h0M568 1382h0M294 1383h0M815 1379h0M112 1385h0M179 1369h0M181 1380h0M277 1374h0M602 1375h0M520 1372h0M109 1390h0M464 1387h0M169 1373h0M298 1380h0"/><path id="pb104" d="M652 1389h0M786 1388h0M330 1364h0M712 1332h0M584 1330h0M601 1365h0M668 1372h0M630 1351h0M462 1353h0M567 1347h0M795 1388h0M435 1382h0M644 1372h0M590 1385h0M832 1364h0M236 1387h0M195 1385h0M114 1368h0M641 1378h0M302 1384h0M166 1375h0M75 1370h0M205 1349h0M220 1365h0"/><path id="pb105" d="M687 1358h0M114 1368h0M520 1373h0M157 1348h0M173 1371h0M588 1375h0M854 1364h0M540 1378h0M788 1359h0M670 1342h0M693 1367h0M674 1388h0M276 1370h0M267 1383h0M274 1387h0M96 1377h0M183 1365h0M290 1390h0M828 1386h0M133 1389h0M849 1381h0M721 1366h0M367 1375h0M193 1385h0"/><path id="pb106" d="M708 1361h0M139 1373h0M837 1389h0M692 1362h0M629 1388h0M587 1370h0M809 1366h0M845 1359h0M243 1377h0M580 1369h0M839 1372h0M631 1361h0M505 1390h0M765 1359h0M264 1369h0M577 1389h0M696 1365h0M591 1390h0M187 1369h0M726 1341h0M761 1372h0M650 1359h0M662 1333h0M179 1364h0"/><path id="pb107" d="M192 1366h0M513 1381h0M170 1364h0M755 1390h0M695 1339h0M191 1377h0M862 1362h0M737 1353h0M195 1388h0M319 1376h0M819 1373h0M724 1382h0M654 1356h0M378 1338h0M805 1385h0M810 1368h0M658 1354h0M710 1376h0M308 1379h0M124 1368h0M400 1385h0M662 1333h0M861 1380h0M193 1379h0"/><path id="pb108" d="M828 1386h0M623 1360h0M779 1379h0M180 1387h0M754 1365h0M309 1390h0M714 1333h0M668 1371h0M792 1375h0M449 1373h0M707 1348h0M777 1374h0M303 1372h0M114 1384h0M642 1375h0M848 1389h0M581 1390h0M593 1371h0M643 1327h0M635 1377h0M666 1353h0M206 1365h0M704 1352h0M795 1390h0"/><path id="pb109" d="M123 1390h0M69 1389h0M230 1367h0M206 1387h0M104 1382h0M602 1357h0M729 1345h0M851 1387h0M172 1390h0M789 1377h0M607 1335h0M598 1375h0M650 1371h0M715 1380h0M597 1330h0M285 1378h0M716 1367h0M456 1330h0M597 1332h0M561 1389h0M199 1368h0M234 1373h0M682 1383h0M831 1364h0"/><path id="pb110" d="M740 1373h0M333 1340h0M647 1366h0M588 1366h0M779 1360h0M199 1369h0M735 1383h0M770 1385h0M576 1377h0M841 1383h0M710 1389h0M714 1351h0M798 1381h0M186 1367h0M534 1370h0M792 1368h0M829 1382h0M611 1390h0M584 1351h0M610 1358h0M547 1376h0M299 1389h0M742 1337h0M629 1381h0"/><path id="pb111" d="M799 1375h0M568 1370h0M109 1385h0M213 1385h0M718 1354h0M595 1344h0M296 1379h0M828 1373h0M484 1374h0M825 1386h0M592 1339h0M89 1390h0M846 1386h0M804 1386h0M699 1365h0M543 1375h0M255 1386h0M220 1366h0M608 1345h0M584 1386h0M742 1382h0M166 1379h0M829 1361h0M628 1371h0"/><path id="pb112" d="M777 1359h0M94 1376h0M796 1373h0M579 1350h0M229 1371h0M369 1351h0M484 1367h0M227 1373h0M190 1372h0M808 1369h0M184 1347h0M422 1352h0M518 1383h0M616 1351h0M588 1386h0M540 1384h0M76 1371h0M285 1370h0M204 1387h0M184 1386h0M610 1360h0M653 1325h0M693 1386h0M77 1383h0"/><path id="pb113" d="M206 1364h0M484 1379h0M670 1336h0M683 1390h0M198 1386h0M625 1371h0M725 1375h0M870 1374h0M683 1363h0M201 1386h0M309 1376h0M713 1377h0M592 1384h0M248 1386h0M744 1359h0M737 1367h0M281 1369h0M609 1380h0M164 1368h0M207 1377h0M592 1364h0M656 1330h0M618 1356h0M757 1390h0"/><path id="pb114" d="M202 1379h0M698 1332h0M93 1385h0M69 1364h0M309 1376h0M656 1343h0M696 1347h0M308 1371h0M835 1368h0M669 1376h0M239 1373h0M651 1344h0M338 1363h0M455 1380h0M96 1389h0M808 1376h0M585 1341h0M190 1376h0M656 1335h0M654 1385h0M750 1345h0M640 1388h0M676 1387h0M521 1380h0"/><path id="pb115" d="M521 1386h0M94 1371h0M130 1377h0M837 1357h0M783 1372h0M574 1383h0M812 1387h0M719 1362h0M175 1384h0M593 1351h0M126 1346h0M555 1370h0M91 1369h0M753 1352h0M437 1385h0M598 1347h0M818 1376h0M581 1353h0M521 1390h0M693 1359h0M860 1375h0M136 1364h0M776 1389h0M161 1346h0"/><path id="pb116" d="M717 1385h0M715 1390h0M570 1385h0M382 1380h0M234 1388h0M690 1339h0M701 1345h0M73 1382h0M631 1375h0M692 1379h0M202 1382h0M310 1387h0M131 1389h0M722 1385h0M293 1387h0M672 1357h0M856 1381h0M641 1373h0M505 1380h0M683 1390h0M649 1345h0M554 1381h0M567 1351h0M230 1369h0"/><path id="pb117" d="M818 1370h0M198 1379h0M675 1343h0M686 1385h0M579 1328h0M211 1378h0M692 1370h0M369 1369h0M81 1374h0M637 1342h0M127 1369h0M674 1345h0M786 1376h0M697 1374h0M779 1364h0M98 1376h0M766 1376h0M549 1388h0M300 1381h0M690 1347h0M141 1378h0M788 1382h0M224 1370h0M846 1361h0"/><path id="pb118" d="M541 1390h0M797 1382h0M861 1366h0M781 1387h0M733 1348h0M693 1347h0M857 1388h0M115 1379h0M758 1368h0M824 1380h0M722 1340h0M310 1374h0M279 1376h0M411 1374h0M290 1374h0M659 1325h0M198 1386h0M690 1387h0M595 1335h0M194 1388h0M660 1354h0M566 1371h0M388 1373h0M659 1345h0"/><path id="pb119" d="M593 1380h0M709 1388h0M711 1379h0M193 1386h0M269 1386h0M835 1390h0M705 1354h0M156 1375h0M69 1380h0M736 1351h0M740 1383h0M772 1366h0M752 1388h0M716 1359h0M845 1389h0M688 1340h0M149 1375h0M764 1353h0M663 1340h0M692 1361h0M86 1381h0M157 1387h0M76 1382h0M505 1382h0"/><path id="pb120" d="M715 1366h0M396 1329h0M174 1360h0M741 1334h0M565 1369h0M135 1390h0M519 1380h0M531 1384h0M427 1364h0M830 1373h0M853 1389h0M771 1360h0M594 1375h0M142 1390h0M133 1379h0M187 1367h0M633 1325h0M88 1390h0M769 1379h0M720 1363h0M648 1378h0M603 1355h0M578 1375h0M615 1348h0"/><path id="pb121" d="M105 1390h0M823 1361h0M564 1386h0M708 1361h0M202 1381h0M193 1388h0M587 1345h0M297 1390h0M726 1376h0M124 1367h0M235 1384h0M714 1358h0M740 1356h0M702 1383h0M806 1364h0M848 1365h0M653 1355h0M637 1329h0M173 1372h0M707 1376h0M651 1331h0M494 1379h0M199 1381h0M702 1353h0"/><path id="pb122" d="M459 1376h0M308 1381h0M751 1359h0M286 1374h0M328 1383h0M505 1378h0M612 1379h0M590 1384h0M258 1387h0M565 1380h0M726 1366h0M667 1330h0M850 1372h0M736 1373h0M645 1366h0M633 1367h0M786 1384h0M611 1390h0M803 1390h0M751 1389h0M627 1356h0M315 1374h0M601 1337h0M311 1377h0"/><path id="pb123" d="M318 1363h0M287 1375h0M95 1374h0M159 1383h0M841 1357h0M668 1330h0M116 1380h0M618 1387h0M579 1383h0M526 1388h0M697 1339h0M528 1384h0M587 1365h0M709 1377h0M189 1348h0M683 1372h0M294 1382h0M234 1390h0M534 1370h0M662 1369h0M729 1362h0M197 1380h0M242 1379h0M322 1382h0"/><path id="pb124" d="M172 1390h0M758 1360h0M704 1356h0M692 1387h0M145 1390h0M530 1372h0M815 1381h0M688 1369h0M575 1335h0M782 1373h0M815 1357h0M623 1370h0M558 1381h0M236 1385h0M164 1388h0M164 1380h0M795 1361h0M728 1369h0M513 1381h0M704 1368h0M73 1385h0M579 1348h0M215 1389h0M216 1372h0"/><path id="pb125" d="M665 1386h0M774 1385h0M239 1379h0M503 1370h0M651 1382h0M566 1360h0M309 1372h0M548 1388h0M722 1366h0M126 1367h0M273 1371h0M700 1332h0M627 1374h0M306 1389h0M192 1377h0M787 1380h0M551 1383h0M143 1370h0M331 1353h0M136 1383h0M147 1380h0M90 1372h0M87 1377h0M570 1340h0"/><path id="pb126" d="M173 1389h0M217 1387h0M295 1383h0M638 1362h0M703 1345h0M716 1385h0M587 1346h0M778 1385h0M335 1378h0M299 1389h0M564 1388h0M189 1386h0M529 1390h0M587 1390h0M752 1369h0M650 1333h0M127 1388h0M674 1374h0M308 1384h0M74 1375h0M743 1375h0M859 1372h0M719 1345h0M530 1370h0"/><path id="pb127" d="M829 1371h0M571 1366h0M645 1369h0M204 1371h0M141 1369h0M205 1390h0M471 1386h0M610 1326h0M371 1368h0M610 1347h0M325 1379h0M128 1386h0M712 1369h0M815 1367h0M508 1376h0M255 1390h0M294 1376h0M81 1390h0M630 1347h0M678 1379h0M682 1385h0M81 1373h0M596 1333h0M671 1359h0"/><path id="pb128" d="M92 1390h0M88 1390h0M72 1382h0M715 1361h0M794 1366h0M581 1364h0M554 1372h0M687 1386h0M263 1375h0M145 1388h0M639 1367h0M158 1379h0M776 1381h0M207 1377h0M778 1385h0M577 1331h0M251 1378h0M598 1357h0M149 1390h0M189 1349h0M826 1383h0M602 1349h0M424 1346h0M847 1376h0"/><path id="pb129" d="M132 1383h0M125 1369h0M703 1370h0M553 1381h0M183 1388h0M765 1388h0M630 1377h0M227 1379h0M814 1384h0M150 1376h0M615 1332h0M132 1376h0M306 1373h0M531 1375h0M699 1336h0M577 1367h0M435 1378h0M625 1357h0M359 1347h0M209 1349h0M299 1388h0M221 1388h0M668 1379h0M193 1350h0"/><path id="pb130" d="M171 1377h0M680 1330h0M705 1377h0M662 1388h0M578 1378h0M656 1389h0M740 1352h0M696 1369h0M606 1353h0M608 1342h0M523 1387h0M608 1379h0M670 1360h0M234 1387h0M486 1383h0M590 1368h0M763 1367h0M291 1386h0M628 1388h0M552 1379h0M837 1380h0M180 1364h0M798 1363h0M91 1388h0"/><path id="pb131" d="M207 1380h0M636 1381h0M579 1336h0M708 1362h0M565 1389h0M635 1333h0M266 1373h0M854 1360h0M859 1387h0M719 1342h0M719 1373h0M528 1385h0M101 1374h0M585 1370h0M567 1365h0M855 1382h0M682 1375h0M647 1358h0M702 1389h0M746 1385h0M74 1388h0M145 1382h0M522 1381h0M838 1370h0"/><path id="pb132" d="M588 1362h0M722 1347h0M248 1373h0M744 1385h0M418 1374h0M820 1390h0M522 1387h0M666 1347h0M864 1370h0M631 1377h0M198 1348h0M277 1390h0M615 1351h0M707 1389h0M737 1382h0M783 1372h0M485 1373h0M623 1364h0M663 1333h0M141 1382h0M727 1356h0M107 1387h0M618 1339h0M661 1353h0"/><path id="pb133" d="M708 1356h0M598 1359h0M464 1347h0M232 1381h0M248 1382h0M269 1380h0M125 1388h0M736 1356h0M590 1382h0M652 1359h0M689 1377h0M114 1390h0M643 1378h0M697 1379h0M640 1390h0M470 1369h0M684 1332h0M189 1381h0M566 1365h0M570 1343h0M404 1384h0M705 1381h0M716 1359h0M577 1337h0"/><path id="pb134" d="M650 1351h0M188 1369h0M93 1390h0M165 1368h0M608 1385h0M848 1388h0M825 1378h0M190 1377h0M689 1386h0M742 1353h0M760 1379h0M634 1349h0M843 1358h0M745 1362h0M110 1389h0M816 1382h0M733 1382h0M609 1344h0M422 1331h0M401 1367h0M698 1360h0M655 1376h0M735 1376h0M795 1390h0"/><path id="pb135" d="M607 1385h0M765 1377h0M79 1390h0M89 1389h0M606 1353h0M760 1377h0M264 1389h0M593 1364h0M606 1370h0M189 1383h0M565 1375h0M664 1390h0M585 1341h0M169 1371h0M574 1347h0M737 1347h0M713 1381h0M566 1379h0M99 1386h0M694 1386h0M674 1343h0M258 1377h0M541 1388h0M639 1327h0"/><path id="pb136" d="M576 1364h0M677 1356h0M305 1386h0M701 1340h0M279 1377h0M400 1379h0M312 1380h0M570 1384h0M286 1382h0M560 1372h0M586 1382h0M645 1359h0M834 1362h0M396 1379h0M795 1383h0M508 1378h0M302 1374h0M219 1389h0M657 1375h0M595 1363h0M663 1389h0M753 1366h0M101 1381h0M200 1387h0"/><path id="pb137" d="M442 1379h0M854 1370h0M830 1388h0M796 1378h0M88 1389h0M176 1379h0M851 1378h0M778 1378h0M569 1366h0M322 1383h0M457 1367h0M829 1371h0M589 1380h0M571 1339h0M206 1348h0M216 1387h0M337 1365h0M380 1370h0M579 1377h0M148 1380h0M784 1362h0M612 1366h0M304 1375h0M96 1389h0"/><path id="pb138" d="M813 1366h0M839 1379h0M670 1348h0M564 1373h0M73 1379h0M637 1374h0M704 1332h0M223 1390h0M175 1376h0M867 1365h0M586 1383h0M589 1370h0M769 1378h0M604 1385h0M464 1384h0M710 1338h0M482 1378h0M88 1387h0M179 1389h0M759 1359h0M513 1377h0M514 1388h0M310 1386h0M524 1379h0"/><path id="pb139" d="M248 1386h0M113 1390h0M620 1351h0M862 1361h0M589 1383h0M781 1390h0M184 1357h0M710 1384h0M81 1385h0M740 1351h0M91 1387h0M258 1385h0M767 1363h0M273 1376h0M220 1373h0M789 1359h0M126 1375h0M206 1375h0M838 1358h0M691 1388h0M804 1369h0M686 1377h0M769 1372h0M595 1356h0"/><path id="pb140" d="M95 1389h0M68 1371h0M268 1375h0M694 1336h0M775 1361h0M517 1383h0M196 1369h0M689 1385h0M354 1375h0M851 1360h0M711 1373h0M141 1366h0M685 1359h0M737 1361h0M190 1355h0M588 1382h0M590 1358h0M585 1360h0M816 1378h0M142 1384h0M710 1372h0M79 1379h0M844 1377h0M677 1355h0"/><path id="pb141" d="M722 1352h0M583 1329h0M729 1355h0M180 1367h0M237 1375h0M229 1376h0M191 1360h0M683 1377h0M516 1386h0M72 1380h0M229 1376h0M750 1375h0M860 1357h0M508 1372h0M640 1378h0M571 1355h0M687 1359h0M119 1370h0M705 1383h0M93 1388h0M828 1390h0M425 1365h0M860 1368h0M473 1348h0"/><path id="pb142" d="M646 1375h0M608 1359h0M396 1329h0M534 1390h0M589 1347h0M521 1386h0M760 1373h0M249 1387h0M600 1368h0M832 1360h0M480 1326h0M176 1347h0M167 1362h0M581 1380h0M424 1339h0M850 1378h0M647 1349h0M611 1388h0M823 1359h0M841 1382h0M779 1382h0M195 1382h0M625 1386h0M505 1390h0"/><path id="pb143" d="M76 1379h0M300 1372h0M508 1371h0M261 1376h0M764 1390h0M138 1386h0M153 1383h0M202 1376h0M649 1383h0M746 1363h0M167 1382h0M795 1361h0M655 1387h0M623 1352h0M572 1363h0M760 1352h0M725 1346h0M656 1348h0M456 1342h0M848 1387h0M219 1381h0M602 1342h0M107 1378h0M212 1361h0"/><path id="pb144" d="M626 1343h0M572 1390h0M831 1359h0M838 1366h0M645 1380h0M681 1355h0M133 1385h0M663 1373h0M632 1363h0M489 1362h0M407 1326h0M120 1370h0M711 1354h0M840 1390h0M631 1352h0M127 1371h0M818 1372h0M748 1340h0M156 1377h0M715 1349h0M828 1380h0M560 1376h0M681 1366h0M208 1367h0"/><path id="pb145" d="M601 1378h0M531 1390h0M533 1373h0M131 1384h0M597 1354h0M853 1389h0M683 1359h0M565 1390h0M98 1390h0M566 1373h0M744 1372h0M79 1375h0M151 1364h0M106 1388h0M766 1390h0M673 1377h0M108 1372h0M811 1370h0M109 1385h0M198 1389h0M790 1384h0M308 1390h0M588 1369h0M722 1389h0"/><path id="pb146" d="M163 1368h0M87 1372h0M92 1376h0M793 1381h0M768 1372h0M229 1351h0M740 1383h0M680 1382h0M857 1385h0M385 1366h0M828 1383h0M635 1354h0M765 1368h0M635 1390h0M663 1333h0M845 1383h0M571 1349h0M269 1389h0M560 1371h0M748 1390h0M751 1343h0M868 1385h0M308 1386h0M605 1381h0"/><path id="pb147" d="M166 1375h0M621 1359h0M106 1387h0M802 1357h0M577 1339h0M652 1368h0M778 1361h0M821 1372h0M650 1346h0M198 1373h0M232 1382h0M844 1362h0M124 1379h0M769 1363h0M713 1341h0M147 1365h0M731 1351h0M472 1346h0M813 1356h0M586 1359h0M115 1385h0M759 1382h0M707 1352h0M224 1383h0"/><path id="pb148" d="M515 1389h0M578 1367h0M168 1380h0M539 1387h0M686 1390h0M605 1384h0M654 1368h0M697 1356h0M621 1381h0M563 1388h0M276 1381h0M854 1387h0M644 1326h0M569 1351h0M735 1352h0M543 1384h0M229 1370h0M68 1376h0M638 1332h0M110 1369h0M745 1348h0M133 1390h0M671 1356h0M205 1367h0"/><path id="pb149" d="M202 1369h0M715 1378h0M287 1381h0M278 1382h0M606 1325h0M166 1361h0M89 1368h0M650 1348h0M802 1382h0M708 1388h0M656 1347h0M364 1382h0M254 1386h0M851 1378h0M250 1375h0M836 1374h0M791 1372h0M544 1387h0M790 1365h0M106 1384h0M263 1377h0M137 1375h0M615 1345h0M509 1383h0"/><path id="pb150" d="M83 1382h0M823 1381h0M227 1373h0M612 1386h0M679 1338h0M103 1375h0M80 1367h0M303 1387h0M628 1344h0M367 1352h0M812 1373h0M512 1379h0M630 1349h0M857 1364h0M688 1378h0M572 1375h0M485 1369h0M641 1371h0M526 1383h0M678 1387h0M518 1379h0M68 1366h0M593 1386h0M647 1332h0"/><path id="pb151" d="M566 1360h0M165 1380h0M721 1346h0M102 1390h0M323 1340h0M870 1375h0M835 1372h0M580 1334h0M868 1358h0M135 1370h0M621 1352h0M239 1385h0M662 1374h0M658 1337h0M308 1382h0M843 1381h0M563 1381h0M717 1376h0M157 1386h0M86 1386h0M491 1379h0M718 1382h0M597 1351h0M826 1390h0"/><path id="pb152" d="M288 1387h0M284 1376h0M677 1348h0M664 1379h0M567 1384h0M833 1370h0M293 1387h0M142 1349h0M826 1387h0M159 1390h0M187 1387h0M846 1361h0M867 1382h0M202 1372h0M816 1383h0M621 1368h0M75 1389h0M650 1387h0M573 1361h0M719 1386h0M551 1374h0M664 1354h0M535 1380h0M760 1382h0"/><path id="pb153" d="M194 1374h0M673 1369h0M444 1371h0M760 1347h0M674 1360h0M98 1380h0M126 1369h0M629 1371h0M147 1363h0M309 1380h0M566 1348h0M264 1384h0M745 1347h0M704 1390h0M196 1370h0M114 1372h0M227 1390h0M591 1381h0M513 1374h0M708 1360h0M618 1353h0M582 1370h0M675 1374h0M511 1388h0"/><path id="pb154" d="M572 1375h0M867 1387h0M652 1361h0M285 1373h0M708 1383h0M633 1350h0M360 1382h0M644 1372h0M726 1389h0M677 1357h0M650 1382h0M697 1348h0M790 1361h0M321 1352h0M791 1359h0M582 1390h0M632 1347h0M868 1366h0M678 1343h0M254 1380h0M322 1368h0M431 1383h0M208 1387h0M168 1380h0"/><path id="pb155" d="M623 1384h0M438 1373h0M66 1373h0M857 1380h0M569 1389h0M341 1347h0M648 1348h0M623 1383h0M779 1361h0M577 1371h0M194 1364h0M742 1367h0M654 1331h0M178 1349h0M713 1389h0M86 1373h0M674 1349h0M162 1359h0M196 1375h0M582 1368h0M300 1370h0M508 1388h0M831 1363h0M156 1383h0"/><path id="pb156" d="M301 1378h0M729 1345h0M593 1371h0M711 1383h0M592 1346h0M73 1384h0M172 1370h0M708 1376h0M565 1354h0M621 1364h0M687 1344h0M682 1360h0M619 1380h0M787 1361h0M518 1379h0M700 1390h0M655 1382h0M830 1374h0M820 1380h0M870 1379h0M426 1347h0M858 1384h0M758 1390h0M149 1382h0"/><path id="pb157" d="M814 1376h0M620 1325h0M606 1346h0M718 1335h0M758 1373h0M704 1386h0M710 1380h0M152 1362h0M387 1384h0M613 1385h0M644 1344h0M598 1368h0M799 1389h0M156 1385h0M583 1334h0M644 1371h0M641 1374h0M676 1326h0M650 1332h0M563 1370h0M703 1332h0M819 1371h0M742 1341h0M714 1360h0"/><path id="pb158" d="M321 1347h0M771 1387h0M725 1390h0M692 1368h0M533 1379h0M204 1367h0M77 1380h0M730 1343h0M571 1358h0M695 1336h0M150 1385h0M781 1370h0M863 1384h0M94 1375h0M228 1382h0M592 1340h0M756 1346h0M147 1390h0M571 1350h0M153 1383h0M826 1370h0M137 1356h0M523 1379h0M865 1371h0"/><path id="pb159" d="M791 1384h0M100 1390h0M231 1372h0M829 1375h0M691 1335h0M822 1387h0M222 1382h0M527 1372h0M162 1378h0M254 1387h0M305 1378h0M696 1363h0M294 1383h0M632 1338h0M662 1326h0M178 1390h0M617 1356h0M146 1366h0M631 1336h0M537 1387h0M304 1371h0M228 1390h0M122 1385h0M259 1386h0"/><path id="pb160" d="M78 1387h0M85 1368h0M332 1340h0M599 1348h0M816 1378h0M685 1374h0M668 1346h0M520 1387h0M814 1387h0M825 1384h0M120 1374h0M608 1341h0M616 1363h0M573 1340h0M798 1371h0M608 1345h0M193 1353h0M553 1379h0M710 1356h0M732 1356h0M610 1345h0M631 1343h0M229 1388h0M573 1349h0"/><path id="pb161" d="M170 1390h0M739 1374h0M807 1386h0M710 1338h0M598 1329h0M688 1337h0M790 1385h0M149 1366h0M369 1344h0M442 1374h0M597 1367h0M423 1346h0M159 1385h0M663 1379h0M104 1376h0M659 1347h0M654 1351h0M73 1378h0M67 1373h0M663 1334h0M732 1351h0M536 1379h0M249 1374h0M454 1370h0"/><path id="pb162" d="M580 1374h0M260 1390h0M641 1375h0M656 1379h0M821 1384h0M78 1388h0M675 1324h0M747 1358h0M784 1361h0M573 1372h0M792 1370h0M655 1354h0M110 1374h0M526 1373h0M776 1379h0M855 1366h0M706 1351h0M95 1389h0M605 1360h0M649 1380h0M154 1374h0M641 1332h0M584 1371h0M866 1389h0"/><path id="pb163" d="M782 1384h0M604 1343h0M863 1376h0M783 1390h0M180 1378h0M699 1328h0M308 1373h0M546 1387h0M581 1375h0M511 1387h0M206 1381h0M614 1360h0M127 1379h0M227 1390h0M173 1383h0M720 1338h0M740 1374h0M775 1380h0M83 1371h0M538 1385h0M598 1389h0M72 1367h0M703 1390h0M643 1344h0"/><path id="pb164" d="M528 1377h0M275 1374h0M123 1374h0M514 1384h0M737 1373h0M842 1361h0M88 1370h0M587 1372h0M188 1381h0M802 1369h0M403 1384h0M76 1381h0M405 1384h0M72 1382h0M710 1350h0M121 1371h0M282 1370h0M638 1377h0M630 1339h0M654 1388h0M610 1324h0M688 1380h0M786 1367h0M718 1384h0"/><path id="pb165" d="M612 1334h0M232 1375h0M787 1368h0M837 1368h0M846 1374h0M780 1367h0M725 1353h0M805 1388h0M240 1362h0M527 1386h0M812 1377h0M657 1350h0M140 1369h0M242 1369h0M411 1376h0M547 1376h0M617 1339h0M654 1341h0M849 1377h0M132 1382h0M637 1383h0M857 1371h0M94 1381h0M690 1378h0"/><path id="pb166" d="M681 1331h0M834 1372h0M722 1383h0M832 1377h0M614 1387h0M218 1379h0M837 1369h0M91 1386h0M585 1368h0M275 1380h0M79 1367h0M838 1385h0M229 1388h0M775 1365h0M580 1357h0M137 1380h0M702 1379h0M592 1386h0M617 1334h0M134 1389h0M720 1361h0M696 1376h0M294 1387h0M663 1368h0"/><path id="pb167" d="M770 1382h0M219 1389h0M590 1356h0M745 1347h0M726 1345h0M252 1377h0M294 1385h0M789 1386h0M134 1378h0M841 1387h0M191 1384h0M675 1386h0M633 1371h0M425 1326h0M477 1326h0M123 1377h0M792 1378h0M221 1362h0M760 1390h0M554 1381h0M683 1377h0M196 1366h0M516 1383h0M687 1364h0"/><path id="pb168" d="M737 1353h0M757 1371h0M823 1377h0M211 1382h0M101 1368h0M146 1383h0M129 1368h0M590 1361h0M199 1379h0M731 1361h0M812 1381h0M670 1370h0M791 1359h0M627 1330h0M102 1385h0M184 1372h0M794 1372h0M149 1353h0M150 1373h0M745 1343h0M155 1361h0M781 1385h0M648 1376h0M828 1380h0"/><path id="pb169" d="M102 1378h0M206 1361h0M678 1358h0M696 1350h0M788 1366h0M617 1378h0M540 1387h0M840 1382h0M641 1382h0M672 1352h0M613 1334h0M574 1390h0M751 1366h0M719 1379h0M440 1366h0M231 1365h0M671 1378h0M134 1378h0M562 1389h0M586 1362h0M190 1367h0M124 1383h0M767 1386h0M296 1380h0"/><path id="pb170" d="M717 1382h0M669 1372h0M567 1382h0M551 1383h0M535 1380h0M173 1359h0M659 1364h0M393 1340h0M784 1374h0M756 1390h0M289 1378h0M682 1363h0M268 1382h0M224 1377h0M640 1338h0M479 1323h0M150 1367h0M849 1385h0M172 1369h0M332 1382h0M663 1336h0M670 1358h0M726 1345h0M774 1367h0"/><path id="pb171" d="M134 1354h0M556 1380h0M850 1381h0M779 1373h0M715 1384h0M582 1368h0M229 1384h0M843 1387h0M838 1385h0M660 1325h0M536 1374h0M200 1389h0M808 1373h0M726 1369h0M766 1385h0M868 1387h0M603 1382h0M696 1380h0M651 1331h0M626 1344h0M174 1349h0M714 1352h0M677 1385h0M241 1388h0"/><path id="pb172" d="M140 1382h0M163 1387h0M779 1358h0M128 1387h0M642 1390h0M166 1390h0M867 1371h0M651 1362h0M650 1388h0M661 1380h0M709 1336h0M666 1348h0M827 1386h0M538 1387h0M233 1374h0M258 1386h0M237 1373h0M658 1377h0M607 1384h0M237 1388h0M256 1371h0M187 1351h0M678 1387h0M301 1375h0"/><path id="pb173" d="M620 1337h0M770 1387h0M843 1382h0M415 1377h0M595 1364h0M155 1370h0M711 1363h0M519 1383h0M248 1379h0M72 1378h0M205 1354h0M222 1384h0M506 1379h0M146 1367h0M121 1379h0M539 1377h0M611 1366h0M630 1339h0M260 1390h0M371 1384h0M641 1389h0M238 1382h0M311 1390h0M74 1370h0"/><path id="pb174" d="M155 1375h0M173 1375h0M629 1338h0M867 1373h0M594 1340h0M754 1371h0M583 1376h0M575 1355h0M224 1374h0M334 1374h0M611 1338h0M291 1377h0M268 1369h0M254 1368h0M673 1349h0M863 1383h0M274 1379h0M706 1355h0M823 1358h0M601 1335h0M299 1387h0M726 1355h0M98 1368h0M101 1385h0"/><path id="pb175" d="M167 1365h0M672 1350h0M82 1388h0M83 1370h0M119 1376h0M666 1357h0M659 1356h0M679 1378h0M714 1382h0M645 1380h0M77 1370h0M584 1374h0M156 1354h0M596 1339h0M632 1360h0M724 1338h0M301 1390h0M182 1347h0M723 1378h0M203 1376h0M183 1371h0M850 1370h0M692 1345h0M228 1388h0"/><path id="pb176" d="M728 1341h0M511 1376h0M620 1389h0M674 1336h0M94 1368h0M600 1363h0M291 1385h0M716 1337h0M768 1361h0M479 1373h0M702 1340h0M700 1380h0M172 1387h0M124 1378h0M676 1352h0M592 1379h0M185 1390h0M92 1378h0M109 1388h0M171 1380h0M658 1328h0M146 1383h0M762 1376h0M684 1367h0"/><path id="pb177" d="M865 1375h0M719 1363h0M688 1389h0M714 1334h0M108 1373h0M101 1384h0M850 1389h0M649 1325h0M116 1386h0M625 1383h0M173 1362h0M566 1388h0M308 1387h0M336 1367h0M851 1375h0M259 1375h0M467 1352h0M736 1377h0M672 1385h0M611 1330h0M565 1379h0M383 1379h0M690 1389h0M96 1383h0"/><path id="pb178" d="M278 1390h0M866 1388h0M617 1342h0M643 1362h0M709 1388h0M569 1354h0M768 1366h0M803 1369h0M594 1389h0M739 1385h0M702 1386h0M310 1389h0M143 1389h0M218 1369h0M76 1380h0M161 1358h0M69 1389h0M713 1386h0M261 1382h0M266 1390h0M73 1369h0M684 1341h0M815 1360h0M401 1331h0"/><path id="pb179" d="M157 1377h0M108 1374h0M510 1381h0M662 1385h0M660 1363h0M215 1355h0M75 1390h0M582 1371h0M260 1378h0M663 1378h0M346 1376h0M793 1375h0M730 1388h0M773 1382h0M606 1330h0M615 1357h0M184 1380h0M160 1369h0M539 1377h0M625 1381h0M734 1388h0M685 1373h0M624 1346h0M150 1365h0"/><path id="pb180" d="M773 1384h0M110 1373h0M808 1386h0M391 1367h0M82 1377h0M830 1384h0M777 1377h0M284 1384h0M225 1382h0M427 1378h0M493 1363h0M114 1382h0M645 1351h0M368 1350h0M753 1388h0M305 1378h0M836 1366h0M549 1386h0M226 1351h0M848 1361h0M699 1346h0M722 1361h0M515 1389h0M739 1356h0"/><path id="pb181" d="M828 1383h0M268 1378h0M367 1377h0M257 1385h0M567 1376h0M608 1373h0M622 1326h0M606 1383h0M556 1389h0M671 1386h0M652 1380h0M105 1386h0M203 1352h0M631 1383h0M731 1382h0M132 1389h0M583 1358h0M574 1384h0M159 1390h0M723 1358h0M712 1364h0M535 1389h0M645 1376h0M616 1383h0"/><path id="pb182" d="M855 1390h0M291 1386h0M530 1370h0M646 1343h0M167 1386h0M217 1367h0M419 1385h0M156 1368h0M291 1381h0M276 1389h0M642 1358h0M773 1382h0M708 1333h0M544 1387h0M690 1355h0M243 1375h0M550 1388h0M747 1386h0M788 1382h0M642 1357h0M536 1386h0M719 1375h0M539 1380h0M692 1370h0"/><path id="pb183" d="M560 1371h0M650 1369h0M628 1336h0M218 1367h0M591 1369h0M662 1330h0M135 1372h0M868 1358h0M840 1384h0M259 1375h0M551 1387h0M817 1364h0M660 1372h0M737 1344h0"/><clipPath id="clipc"><rect x="70.5" y="1748.2" width="795.7" height="497"/></clipPath><path id="pc0" d="M278 2220h0M207 2219h0M93 2214h0M70 2222h0M227 2204h0M187 2203h0M299 2214h0M209 2204h0M141 2204h0M227 2219h0M232 2201h0M70 2221h0M332 2223h0M295 2209h0M326 2220h0M381 2222h0M116 2198h0M693 2210h0M88 2217h0M250 2208h0M352 2223h0M170 2220h0M237 2223h0M256 2203h0"/><path id="pc1" d="M407 2204h0M275 2213h0M207 2204h0M832 2220h0M296 2198h0M258 2196h0M374 2212h0M220 2208h0M94 2205h0M517 2212h0M383 2223h0M177 2200h0M88 2205h0M393 2214h0M282 2213h0M165 2218h0M265 2221h0M644 2211h0M202 2216h0M171 2214h0M240 2214h0M193 2201h0M242 2211h0M842 2207h0"/><path id="pc2" d="M315 2212h0M268 2209h0M322 2221h0M319 2210h0M212 2202h0M229 2203h0M166 2222h0M106 2212h0M331 2221h0M358 2223h0M132 2209h0M176 2209h0M86 2218h0M600 2217h0M95 2201h0M278 2212h0M173 2222h0M283 2221h0M339 2222h0M138 2204h0M189 2211h0M235 2218h0M293 2213h0M78 2207h0"/><path id="pc3" d="M256 2212h0M833 2217h0M199 2213h0M354 2202h0M340 2221h0M208 2210h0M129 2221h0M162 2193h0M191 2202h0M158 2194h0M246 2204h0M248 2220h0M569 2213h0M251 2214h0M88 2222h0M172 2195h0M189 2204h0M381 2203h0M193 2220h0M819 2200h0M71 2216h0M224 2215h0M258 2200h0M278 2198h0"/><path id="pc4" d="M387 2217h0M149 2205h0M96 2206h0M270 2223h0M308 2196h0M830 2199h0M373 2223h0M199 2205h0M175 2215h0M330 2214h0M194 2204h0M368 2218h0M89 2223h0M295 2223h0M92 2214h0M627 2209h0M331 2220h0M231 2220h0M219 2204h0M325 2204h0M652 2206h0M150 2222h0M72 2222h0M145 2200h0"/><path id="pc5" d="M314 2196h0M177 2219h0M244 2206h0M297 2211h0M393 2216h0M259 2223h0M391 2220h0M124 2214h0M137 2214h0M89 2215h0M159 2206h0M163 2218h0M107 2223h0M201 2217h0M186 2206h0M297 2204h0M112 2220h0M75 2207h0M209 2210h0M351 2200h0M79 2211h0M258 2215h0M232 2223h0M239 2199h0"/><path id="pc6" d="M345 2220h0M137 2202h0M174 2206h0M390 2223h0M332 2210h0M144 2199h0M179 2197h0M286 2198h0M107 2208h0M730 2198h0M153 2219h0M177 2222h0M68 2220h0M99 2215h0M286 2213h0M122 2217h0M373 2210h0M162 2197h0M74 2214h0M129 2220h0M70 2214h0M204 2209h0M122 2222h0M210 2208h0"/><path id="pc7" d="M285 2222h0M187 2218h0M117 2203h0M92 2204h0M337 2221h0M72 2205h0M283 2206h0M354 2212h0M385 2208h0M179 2217h0M243 2203h0M89 2210h0M108 2212h0M379 2209h0M174 2196h0M244 2218h0M324 2200h0M301 2201h0M341 2223h0M266 2201h0M181 2200h0M300 2211h0M326 2214h0M181 2222h0"/><path id="pc8" d="M282 2218h0M135 2201h0M326 2222h0M338 2212h0M150 2217h0M368 2215h0M223 2219h0M372 2197h0M158 2208h0M219 2210h0M165 2216h0M314 2221h0M382 2209h0M371 2211h0M671 2208h0M186 2202h0M199 2203h0M363 2217h0M216 2198h0M144 2199h0M74 2223h0M194 2222h0M315 2222h0M168 2219h0"/><path id="pc9" d="M255 2222h0M247 2206h0M392 2202h0M499 2205h0M311 2209h0M125 2195h0M242 2201h0M437 2214h0M349 2222h0M167 2201h0M247 2220h0M357 2214h0M236 2208h0M709 2205h0M278 2212h0M132 2201h0M209 2207h0M93 2219h0M155 2220h0M192 2213h0M214 2210h0M186 2215h0M323 2220h0M261 2199h0"/><path id="pc10" d="M313 2215h0M405 2211h0M247 2223h0M117 2198h0M121 2215h0M250 2203h0M135 2195h0M311 2218h0M338 2222h0M259 2216h0M366 2223h0M345 2204h0M121 2214h0M265 2199h0M195 2215h0M161 2216h0M134 2217h0M377 2223h0M130 2207h0M250 2221h0M118 2220h0M365 2213h0M180 2219h0M152 2221h0"/><path id="pc11" d="M325 2201h0M356 2213h0M252 2211h0M66 2206h0M543 2196h0M194 2220h0M523 2214h0M91 2221h0M237 2218h0M214 2203h0M315 2220h0M111 2222h0M281 2218h0M320 2222h0M256 2196h0M142 2198h0M122 2218h0M68 2222h0M297 2217h0M244 2211h0M288 2201h0M100 2222h0M597 2202h0M122 2208h0"/><path id="pc12" d="M350 2207h0M322 2205h0M687 2219h0M371 2201h0M189 2213h0M497 2198h0M237 2221h0M119 2200h0M92 2206h0M288 2204h0M383 2204h0M360 2221h0M264 2201h0M141 2222h0M334 2203h0M339 2195h0M362 2214h0M369 2210h0M92 2221h0M162 2207h0M149 2212h0M127 2197h0M72 2212h0M239 2218h0"/><path id="pc13" d="M120 2212h0M443 2213h0M562 2197h0M809 2220h0M546 2216h0M153 2195h0M392 2223h0M68 2217h0M848 2196h0M333 2220h0M247 2206h0M171 2195h0M391 2216h0M344 2222h0M485 2202h0M324 2210h0M355 2222h0M380 2220h0M120 2207h0M117 2221h0M324 2197h0M607 2198h0M138 2223h0M344 2217h0"/><path id="pc14" d="M184 2200h0M164 2198h0M220 2211h0M258 2216h0M197 2204h0M112 2216h0M135 2199h0M121 2220h0M387 2209h0M202 2206h0M247 2205h0M568 2208h0M77 2212h0M164 2207h0M259 2211h0M795 2208h0M289 2211h0M276 2201h0M148 2216h0M92 2218h0M647 2211h0M173 2206h0M259 2202h0M363 2201h0"/><path id="pc15" d="M603 2211h0M146 2218h0M209 2221h0M763 2209h0M254 2208h0M199 2222h0M367 2218h0M285 2207h0M378 2223h0M136 2221h0M273 2213h0M144 2217h0M386 2207h0M147 2199h0M69 2223h0M391 2223h0M234 2223h0M225 2217h0M211 2223h0M156 2210h0M344 2217h0M198 2208h0M382 2199h0M171 2213h0"/><path id="pc16" d="M137 2216h0M349 2222h0M298 2209h0M143 2201h0M357 2223h0M353 2223h0M603 2205h0M94 2209h0M336 2223h0M185 2217h0M116 2216h0M86 2223h0M190 2211h0M392 2204h0M317 2223h0M246 2223h0M166 2217h0M170 2217h0M825 2213h0M118 2202h0M328 2223h0M199 2221h0M552 2197h0M141 2198h0"/><path id="pc17" d="M256 2199h0M361 2211h0M217 2200h0M77 2221h0M154 2199h0M286 2217h0M191 2223h0M259 2203h0M205 2204h0M269 2201h0M180 2211h0M157 2219h0M183 2214h0M196 2220h0M87 2200h0M246 2204h0M291 2222h0M80 2223h0M78 2209h0M209 2216h0M862 2205h0M278 2205h0M223 2210h0M821 2215h0"/><path id="pc18" d="M176 2211h0M169 2197h0M238 2207h0M352 2201h0M726 2212h0M238 2197h0M315 2205h0M170 2219h0M252 2195h0M174 2207h0M360 2200h0M374 2207h0M222 2214h0M153 2199h0M379 2214h0M150 2207h0M77 2212h0M207 2222h0M343 2210h0M324 2201h0M298 2201h0M259 2220h0M188 2210h0M261 2220h0"/><path id="pc19" d="M134 2200h0M175 2199h0M126 2219h0M126 2201h0M166 2214h0M252 2203h0M335 2214h0M303 2200h0M156 2205h0M338 2215h0M208 2213h0M367 2222h0M577 2199h0M341 2218h0M203 2223h0M121 2193h0M133 2220h0M302 2222h0M220 2214h0M226 2200h0M329 2211h0M175 2203h0M156 2192h0M123 2212h0"/><path id="pc20" d="M88 2211h0M169 2218h0M68 2206h0M395 2217h0M73 2215h0M181 2217h0M181 2199h0M134 2204h0M309 2221h0M180 2222h0M282 2203h0M315 2201h0M127 2222h0M228 2222h0M419 2202h0M361 2216h0M225 2220h0M371 2199h0M327 2219h0M253 2209h0M182 2222h0M84 2218h0M337 2207h0M191 2215h0"/><path id="pc21" d="M221 2209h0M193 2201h0M434 2200h0M571 2207h0M77 2205h0M234 2214h0M209 2215h0M227 2219h0M150 2205h0M808 2205h0M867 2216h0M310 2199h0M181 2218h0M160 2204h0M617 2196h0M279 2210h0M311 2213h0M190 2217h0M446 2207h0M176 2195h0M224 2214h0M344 2219h0M316 2223h0M270 2212h0"/><path id="pc22" d="M376 2223h0M316 2197h0M671 2210h0M242 2209h0M240 2203h0M589 2213h0M156 2195h0M414 2212h0M172 2223h0M139 2217h0M471 2198h0M696 2197h0M118 2213h0M372 2220h0M131 2216h0M182 2215h0M119 2194h0M322 2201h0M135 2193h0M348 2214h0M242 2197h0M366 2216h0M304 2215h0M308 2223h0"/><path id="pc23" d="M369 2201h0M378 2221h0M232 2223h0M240 2209h0M119 2202h0M219 2215h0M222 2216h0M351 2196h0M350 2222h0M373 2216h0M130 2209h0M96 2222h0M375 2206h0M328 2218h0M136 2203h0M256 2220h0M96 2208h0M312 2205h0M277 2210h0M303 2220h0M135 2204h0M272 2218h0M236 2201h0M228 2213h0"/><path id="pc24" d="M194 2213h0M382 2213h0M800 2197h0M254 2210h0M247 2215h0M440 2204h0M93 2219h0M92 2219h0M368 2213h0M298 2206h0M321 2198h0M280 2217h0M134 2221h0M116 2194h0M350 2209h0M281 2218h0M157 2215h0M172 2199h0M343 2220h0M382 2217h0M742 2211h0M162 2213h0M102 2205h0M234 2209h0"/><path id="pc25" d="M171 2217h0M354 2223h0M210 2203h0M144 2210h0M281 2218h0M275 2205h0M379 2203h0M358 2220h0M673 2214h0M241 2207h0M159 2203h0M625 2214h0M221 2223h0M342 2216h0M363 2217h0M291 2214h0M374 2203h0M209 2218h0M83 2213h0M211 2214h0M282 2216h0M301 2205h0M109 2213h0M230 2212h0"/><path id="pc26" d="M275 2202h0M304 2220h0M267 2212h0M145 2198h0M248 2196h0M180 2221h0M302 2223h0M348 2197h0M142 2193h0M198 2215h0M278 2216h0M274 2220h0M215 2221h0M140 2220h0M259 2219h0M278 2221h0M105 2223h0M190 2223h0M363 2202h0M769 2199h0M206 2219h0M235 2204h0M212 2207h0M195 2216h0"/><path id="pc27" d="M394 2217h0M812 2201h0M175 2213h0M78 2220h0M199 2214h0M211 2208h0M393 2202h0M514 2203h0M306 2221h0M233 2214h0M264 2207h0M306 2197h0M101 2222h0M361 2209h0M107 2207h0M107 2221h0M479 2200h0M262 2201h0M186 2221h0M228 2215h0M624 2206h0M196 2218h0M226 2218h0M330 2210h0"/><path id="pc28" d="M374 2201h0M795 2214h0M575 2205h0M103 2215h0M315 2212h0M157 2215h0M143 2222h0M166 2207h0M214 2218h0M264 2203h0M380 2221h0M188 2202h0M81 2206h0M741 2215h0M501 2209h0M201 2221h0M207 2209h0M106 2218h0M101 2214h0M323 2214h0M373 2219h0M189 2201h0M235 2208h0M79 2223h0"/><path id="pc29" d="M382 2208h0M69 2217h0M287 2223h0M238 2213h0M89 2214h0M177 2220h0M349 2205h0M376 2200h0M257 2221h0M245 2197h0M96 2210h0M336 2220h0M728 2197h0M224 2206h0M391 2198h0M74 2222h0M317 2217h0M251 2216h0M216 2204h0M381 2218h0M448 2215h0M353 2203h0M171 2215h0M551 2213h0"/><path id="pc30" d="M749 2198h0M245 2209h0M353 2217h0M646 2214h0M388 2209h0M167 2207h0M270 2221h0M359 2202h0M382 2198h0M271 2221h0M353 2200h0M121 2197h0M88 2221h0M223 2209h0M226 2208h0M138 2216h0M367 2222h0M167 2223h0M229 2198h0M332 2223h0M368 2207h0M323 2221h0M217 2209h0M440 2201h0"/><path id="pc31" d="M285 2204h0M276 2221h0M89 2215h0M264 2221h0M296 2200h0M273 2207h0M156 2222h0M146 2192h0M390 2221h0M188 2203h0M149 2223h0M95 2212h0M151 2192h0M166 2206h0M380 2203h0M225 2204h0M199 2214h0M412 2220h0M390 2216h0M490 2200h0M556 2216h0M76 2218h0M290 2203h0M174 2216h0"/><path id="pc32" d="M306 2213h0M145 2204h0M569 2204h0M93 2219h0M170 2208h0M125 2223h0M110 2221h0M351 2213h0M104 2221h0M80 2221h0M255 2210h0M112 2223h0M117 2221h0M368 2203h0M127 2200h0M768 2212h0M370 2222h0M161 2205h0M343 2207h0M97 2214h0M264 2201h0M358 2219h0M163 2210h0M196 2209h0"/><path id="pc33" d="M227 2222h0M193 2222h0M327 2212h0M752 2200h0M252 2214h0M327 2207h0M250 2199h0M376 2197h0M375 2205h0M122 2198h0M145 2216h0M166 2200h0M304 2209h0M274 2198h0M314 2214h0M268 2210h0M286 2220h0M171 2206h0M290 2214h0M239 2206h0M310 2199h0M181 2207h0M240 2217h0M270 2222h0"/><path id="pc34" d="M368 2202h0M180 2208h0M175 2220h0M75 2222h0M789 2209h0M324 2223h0M142 2209h0M341 2216h0M193 2201h0M429 2200h0M327 2220h0M272 2220h0M825 2217h0M117 2221h0M323 2222h0M206 2223h0M73 2206h0M150 2206h0M206 2210h0M423 2218h0M66 2216h0M71 2215h0M379 2201h0M135 2193h0"/><path id="pc35" d="M228 2215h0M104 2203h0M379 2214h0M107 2219h0M183 2202h0M229 2219h0M581 2196h0M225 2206h0M255 2196h0M241 2196h0M355 2199h0M250 2198h0M803 2211h0M279 2204h0M283 2219h0M218 2219h0M146 2213h0M188 2209h0M99 2216h0M354 2205h0M382 2218h0M131 2222h0M162 2193h0M335 2197h0"/><path id="pc36" d="M585 2197h0M158 2210h0M139 2222h0M212 2213h0M348 2218h0M95 2199h0M234 2210h0M228 2211h0M306 2214h0M364 2213h0M447 2220h0M384 2206h0M151 2196h0M173 2202h0M260 2209h0M176 2219h0M296 2215h0M170 2198h0M266 2211h0M199 2206h0M391 2213h0M815 2201h0M130 2218h0M113 2218h0"/><path id="pc37" d="M209 2223h0M293 2211h0M286 2206h0M297 2211h0M199 2221h0M127 2198h0M254 2209h0M680 2220h0M180 2197h0M365 2220h0M206 2199h0M111 2200h0M207 2202h0M260 2215h0M179 2218h0M323 2212h0M579 2214h0M159 2203h0M369 2223h0M78 2207h0M627 2220h0M160 2218h0M320 2203h0M124 2200h0"/><path id="pc38" d="M78 2213h0M357 2201h0M172 2200h0M284 2211h0M165 2211h0M73 2208h0M378 2209h0M269 2213h0M368 2200h0M731 2216h0M602 2207h0M289 2223h0M353 2217h0M229 2221h0M421 2202h0M306 2199h0M205 2205h0M561 2206h0M229 2214h0M848 2215h0M133 2221h0M226 2197h0M189 2208h0M75 2209h0"/><path id="pc39" d="M157 2193h0M250 2204h0M395 2206h0M208 2217h0M338 2223h0M150 2217h0M235 2204h0M279 2217h0M334 2213h0M477 2196h0M257 2198h0M322 2201h0M196 2217h0M132 2223h0M228 2201h0M303 2220h0M108 2206h0M338 2218h0M388 2203h0M364 2210h0M108 2217h0M391 2221h0M147 2211h0M234 2209h0"/><path id="pc40" d="M349 2208h0M199 2223h0M189 2198h0M384 2218h0M200 2213h0M383 2210h0M144 2210h0M192 2223h0M236 2207h0M376 2211h0M127 2210h0M128 2204h0M119 2194h0M191 2218h0M290 2205h0M294 2213h0M146 2207h0M255 2213h0M125 2223h0M104 2215h0M728 2216h0M141 2213h0M678 2219h0M69 2222h0"/><path id="pc41" d="M229 2205h0M160 2215h0M97 2199h0M388 2209h0M201 2205h0M752 2205h0M367 2204h0M124 2214h0M175 2222h0M92 2223h0M328 2222h0M381 2217h0M164 2196h0M302 2209h0M95 2202h0M314 2205h0M374 2218h0M109 2203h0M148 2213h0M310 2207h0M361 2199h0M137 2193h0M672 2215h0M185 2198h0"/><path id="pc42" d="M80 2222h0M280 2222h0M93 2212h0M291 2201h0M79 2223h0M336 2207h0M230 2199h0M369 2221h0M177 2208h0M260 2218h0M105 2214h0M222 2208h0M216 2201h0M306 2213h0M342 2219h0M338 2218h0M275 2217h0M140 2218h0M71 2220h0M350 2213h0M348 2208h0M315 2223h0M231 2216h0M156 2220h0"/><path id="pc43" d="M285 2212h0M385 2203h0M72 2222h0M291 2221h0M338 2202h0M335 2210h0M274 2203h0M278 2198h0M189 2199h0M609 2211h0M295 2211h0M144 2218h0M293 2220h0M385 2218h0M284 2201h0M308 2202h0M211 2221h0M133 2192h0M407 2202h0M335 2218h0M362 2200h0M372 2211h0M280 2207h0M81 2211h0"/><path id="pc44" d="M434 2215h0M326 2223h0M86 2210h0M370 2220h0M388 2213h0M354 2210h0M346 2214h0M203 2200h0M563 2216h0M293 2198h0M236 2197h0M141 2199h0M96 2202h0M121 2196h0M124 2208h0M307 2220h0M372 2206h0M131 2222h0M372 2207h0M219 2200h0M82 2202h0M135 2205h0M635 2205h0M359 2223h0"/><path id="pc45" d="M505 2199h0M179 2199h0M160 2220h0M206 2223h0M322 2214h0M705 2205h0M471 2208h0M217 2205h0M281 2208h0M363 2198h0M229 2216h0M113 2205h0M158 2211h0M144 2206h0M236 2216h0M225 2210h0M277 2223h0M377 2216h0M77 2203h0M364 2216h0M663 2220h0M316 2205h0M266 2222h0M330 2219h0"/><path id="pc46" d="M258 2217h0M208 2220h0M165 2219h0M282 2212h0M161 2222h0M350 2202h0M371 2216h0M145 2199h0M313 2214h0M372 2204h0M203 2218h0M122 2223h0M224 2222h0M333 2203h0M95 2219h0M627 2209h0M142 2195h0M371 2207h0M353 2204h0M242 2204h0M561 2206h0M229 2223h0M306 2216h0M286 2207h0"/><path id="pc47" d="M278 2221h0M146 2221h0M152 2203h0M255 2204h0M361 2220h0M116 2202h0M86 2206h0M243 2212h0M206 2214h0M108 2219h0M346 2219h0M248 2202h0M138 2209h0M140 2203h0M183 2202h0M370 2219h0M262 2220h0M308 2215h0M197 2200h0M388 2222h0M380 2215h0M346 2213h0M92 2215h0M125 2197h0"/><path id="pc48" d="M785 2214h0M67 2218h0M310 2218h0M388 2216h0M556 2202h0M385 2208h0M152 2198h0M150 2195h0M332 2211h0M382 2216h0M163 2218h0M317 2219h0M622 2213h0M210 2218h0M114 2194h0M234 2218h0M113 2205h0M129 2208h0M256 2213h0M296 2219h0M93 2216h0M144 2216h0M267 2221h0M333 2217h0"/><path id="pc49" d="M262 2207h0M184 2222h0M202 2207h0M330 2219h0M155 2218h0M74 2206h0M274 2203h0M859 2220h0M353 2203h0M319 2219h0M315 2200h0M126 2223h0M139 2221h0M234 2201h0M142 2223h0M96 2200h0M336 2221h0M329 2218h0M276 2220h0M328 2203h0M115 2201h0M306 2219h0M384 2204h0M261 2222h0"/><path id="pc50" d="M275 2219h0M256 2222h0M291 2200h0M124 2193h0M177 2223h0M295 2221h0M204 2221h0M209 2216h0M311 2198h0M151 2209h0M215 2219h0M198 2198h0M143 2206h0M120 2198h0M110 2223h0M340 2206h0M217 2214h0M231 2212h0M393 2223h0M259 2211h0M292 2217h0M182 2198h0M105 2203h0M77 2222h0"/><path id="pc51" d="M353 2215h0M145 2219h0M149 2202h0M103 2218h0M129 2216h0M325 2199h0M138 2202h0M410 2205h0M158 2211h0M116 2217h0M155 2208h0M187 2217h0M367 2214h0M109 2223h0M82 2212h0M573 2210h0M382 2207h0M176 2211h0M258 2212h0M169 2223h0M162 2223h0M105 2204h0M288 2205h0M146 2204h0"/><path id="pc52" d="M245 2211h0M661 2202h0M168 2223h0M651 2217h0M166 2211h0M348 2223h0M373 2197h0M327 2218h0M131 2220h0M87 2207h0M184 2199h0M190 2218h0M259 2223h0M295 2201h0M178 2206h0M683 2213h0M287 2208h0M333 2196h0M234 2217h0M171 2195h0M157 2206h0M176 2217h0M236 2211h0M124 2219h0"/><path id="pc53" d="M186 2214h0M68 2212h0M71 2220h0M273 2220h0M347 2222h0M321 2216h0M142 2223h0M489 2202h0M261 2202h0M368 2199h0M159 2221h0M298 2222h0M93 2220h0M128 2221h0M120 2219h0M143 2194h0M534 2216h0M810 2212h0M734 2206h0M243 2199h0M313 2222h0M319 2217h0M368 2221h0M129 2218h0"/><path id="pc54" d="M541 2210h0M271 2220h0M242 2217h0M304 2200h0M150 2215h0M338 2204h0M75 2220h0M162 2216h0M265 2203h0M313 2212h0M298 2218h0M95 2210h0M303 2222h0M260 2216h0M66 2220h0M367 2221h0M83 2218h0M91 2213h0M521 2196h0M307 2210h0M374 2221h0M73 2218h0M385 2218h0M249 2200h0"/><path id="pc55" d="M824 2202h0M185 2212h0M392 2215h0M166 2206h0M190 2208h0M146 2219h0M173 2217h0M142 2223h0M248 2219h0M90 2217h0M78 2218h0M125 2212h0M359 2200h0M724 2219h0M152 2210h0M303 2197h0M233 2219h0M355 2203h0M175 2202h0M227 2217h0M355 2201h0M294 2217h0M194 2213h0M74 2220h0"/><path id="pc56" d="M299 2223h0M325 2220h0M135 2213h0M171 2216h0M305 2201h0M257 2217h0M352 2204h0M340 2209h0M388 2220h0M294 2222h0M369 2212h0M241 2201h0M275 2218h0M120 2215h0M446 2218h0M358 2209h0M346 2203h0M236 2209h0M205 2223h0M392 2221h0M133 2222h0M238 2218h0M162 2195h0M148 2196h0"/><path id="pc57" d="M843 2218h0M344 2222h0M344 2222h0M248 2197h0M98 2222h0M281 2222h0M207 2207h0M161 2201h0M303 2220h0M330 2212h0M366 2198h0M152 2205h0M196 2222h0M334 2201h0M255 2221h0M151 2202h0M272 2213h0M327 2214h0M146 2222h0M326 2198h0M582 2217h0M157 2214h0M330 2219h0M332 2206h0"/><path id="pc58" d="M462 2201h0M104 2216h0M167 2204h0M382 2205h0M453 2204h0M832 2202h0M311 2221h0M471 2196h0M312 2219h0M189 2220h0M290 2219h0M298 2217h0M571 2212h0M383 2198h0M382 2223h0M810 2206h0M589 2202h0M213 2212h0M155 2212h0M827 2210h0M333 2213h0M279 2210h0M221 2221h0M251 2206h0"/><path id="pc59" d="M377 2204h0M351 2215h0M330 2219h0M140 2194h0M67 2219h0M183 2205h0M128 2219h0M128 2200h0M172 2217h0M486 2217h0M188 2220h0M113 2213h0M342 2196h0M155 2219h0M167 2218h0M243 2199h0M344 2201h0M336 2210h0M117 2195h0M244 2197h0M489 2212h0M268 2215h0M77 2209h0M106 2197h0"/><path id="pc60" d="M227 2212h0M178 2200h0M602 2209h0M375 2199h0M358 2209h0M343 2217h0M329 2207h0M262 2223h0M620 2204h0M148 2203h0M195 2209h0M300 2203h0M312 2222h0M450 2197h0M325 2215h0M127 2201h0M273 2203h0M321 2222h0M801 2214h0M734 2199h0M116 2220h0M112 2216h0M633 2202h0M141 2206h0"/><path id="pc61" d="M273 2216h0M168 2211h0M159 2218h0M99 2217h0M293 2219h0M332 2212h0M172 2194h0M200 2198h0M603 2208h0M184 2197h0M248 2211h0M101 2221h0M355 2205h0M149 2217h0M392 2220h0M203 2209h0M671 2211h0M317 2199h0M217 2214h0M271 2218h0M77 2215h0M185 2196h0M745 2210h0M299 2222h0"/><path id="pc62" d="M265 2206h0M736 2218h0M98 2215h0M333 2203h0M379 2201h0M176 2222h0M289 2200h0M804 2208h0M307 2219h0M350 2209h0M147 2218h0M170 2210h0M379 2214h0M79 2209h0M97 2203h0M361 2217h0M180 2199h0M294 2221h0M86 2218h0M122 2221h0M87 2213h0M329 2197h0M184 2197h0M338 2209h0"/><path id="pc63" d="M248 2220h0M276 2198h0M130 2223h0M329 2196h0M283 2223h0M383 2214h0M374 2215h0M234 2210h0M76 2204h0M376 2208h0M811 2215h0M330 2216h0M794 2214h0M92 2200h0M148 2220h0M365 2223h0M216 2203h0M119 2204h0M318 2205h0M197 2215h0M184 2218h0M262 2196h0M119 2210h0M376 2223h0"/><path id="pc64" d="M327 2202h0M156 2222h0M257 2223h0M312 2213h0M364 2213h0M102 2197h0M174 2219h0M221 2223h0M209 2219h0M194 2215h0M271 2220h0M592 2218h0M246 2217h0M382 2206h0M156 2218h0M93 2218h0M217 2211h0M381 2215h0M197 2209h0M227 2222h0M300 2209h0M108 2211h0M102 2222h0M343 2208h0"/><path id="pc65" d="M170 2223h0M282 2205h0M294 2223h0M101 2197h0M132 2208h0M204 2199h0M201 2214h0M197 2222h0M705 2212h0M671 2212h0M779 2219h0M230 2197h0M185 2221h0M143 2201h0M293 2217h0M133 2220h0M359 2196h0M215 2214h0M347 2204h0M152 2222h0M663 2219h0M153 2223h0M151 2197h0M324 2223h0"/><path id="pc66" d="M370 2221h0M124 2220h0M175 2212h0M298 2210h0M164 2203h0M280 2217h0M75 2220h0M413 2204h0M338 2217h0M799 2211h0M127 2223h0M76 2212h0M262 2206h0M587 2211h0M302 2200h0M209 2216h0M272 2217h0M292 2215h0M178 2220h0M99 2210h0M201 2216h0M97 2216h0M154 2217h0M239 2205h0"/><path id="pc67" d="M393 2212h0M298 2217h0M257 2219h0M316 2209h0M362 2212h0M69 2222h0M143 2205h0M377 2204h0M96 2217h0M145 2207h0M257 2197h0M365 2220h0M187 2203h0M235 2218h0M241 2220h0M281 2217h0M272 2219h0M756 2198h0M360 2214h0M225 2211h0M111 2202h0M365 2208h0M312 2223h0M104 2222h0"/><path id="pc68" d="M74 2222h0M190 2215h0M95 2223h0M233 2205h0M369 2197h0M135 2221h0M210 2222h0M357 2221h0M373 2223h0M170 2197h0M171 2199h0M339 2222h0M146 2223h0M293 2210h0M196 2199h0M345 2212h0M434 2216h0M212 2213h0M163 2199h0M231 2206h0M810 2201h0M518 2204h0M282 2222h0M247 2220h0"/><path id="pc69" d="M225 2221h0M390 2218h0M704 2200h0M185 2201h0M364 2210h0M144 2222h0M326 2212h0M215 2206h0M306 2210h0M153 2193h0M90 2202h0M309 2200h0M144 2214h0M356 2223h0"/><linearGradient id="gp" x1="0" y1="0" x2="0" y2="1"><stop offset="0" stop-color="#ff0000"/><stop offset="0.125" stop-color="#ff3400"/><stop offset="0.25" stop-color="#ff4b00"/><stop offset="0.375" stop-color="#ff5e00"/><stop offset="0.5" stop-color="#ff6e00"/><stop offset="0.625" stop-color="#ff7d00"/><stop offset="0.75" stop-color="#ff8b00"/><stop offset="0.875" stop-color="#ff9800"/><stop offset="1" stop-color="#ffa500"/></linearGradient><linearGradient id="gb" x1="0" y1="0" x2="0" y2="1"><stop offset="0" stop-color="#ff0000"/><stop offset="0.1" stop-color="#ff5b3a"/><stop offset="0.2" stop-color="#ff8969"/><stop offset="0.3" stop-color="#ffb299"/><stop offset="0.4" stop-color="#ffd9cb"/><stop offset="0.5" stop-color="#ffffff"/><stop offset="0.6" stop-color="#e3d0ff"/><stop offset="0.7" stop-color="#c4a2ff"/><stop offset="0.8" stop-color="#a074ff"/><stop offset="0.9" stop-color="#7145ff"/><stop offset="1" stop-color="#0000ff"/></linearGradient></defs>
<rect width="2050" height="2393" fill="#fff"/>
<text y="37.9" font-size="48" font-weight="bold" fill="#000"><tspan x="28">a</tspan><tspan x="56">)</tspan></text>
<text transform="translate(485.5,39.7) scale(0.932,1.065)" font-size="41.5" text-anchor="middle" fill="#000">3q21.1</text>
<rect x="70.5" y="81.6" width="795.7" height="497" fill="none" stroke="#888888" stroke-width="1.2"/>
<line x1="70.5" y1="556.3" x2="70.5" y2="113.2" stroke="#555555" stroke-width="1.3"/>
<line x1="60" y1="556.3" x2="70.5" y2="556.3" stroke="#555555" stroke-width="1.3"/>
<text x="50" y="562.1" font-size="16.2" text-anchor="end" fill="#4a4a4a">0</text>
<line x1="60" y1="467.7" x2="70.5" y2="467.7" stroke="#555555" stroke-width="1.3"/>
<text x="50" y="473.5" font-size="16.2" text-anchor="end" fill="#4a4a4a">2</text>
<line x1="60" y1="379.1" x2="70.5" y2="379.1" stroke="#555555" stroke-width="1.3"/>
<text x="50" y="384.9" font-size="16.2" text-anchor="end" fill="#4a4a4a">4</text>
<line x1="60" y1="290.4" x2="70.5" y2="290.4" stroke="#555555" stroke-width="1.3"/>
<text x="50" y="296.2" font-size="16.2" text-anchor="end" fill="#4a4a4a">6</text>
<line x1="60" y1="201.8" x2="70.5" y2="201.8" stroke="#555555" stroke-width="1.3"/>
<text x="50" y="207.6" font-size="16.2" text-anchor="end" fill="#4a4a4a">8</text>
<line x1="60" y1="113.2" x2="70.5" y2="113.2" stroke="#555555" stroke-width="1.3"/>
<text x="50" y="119" font-size="16.2" text-anchor="end" fill="#4a4a4a">10</text>
<line x1="866.2" y1="556.3" x2="866.2" y2="104.6" stroke="#4b4bdd" stroke-width="1.0"/>
<line x1="866.2" y1="556.3" x2="876.3" y2="556.3" stroke="#3a3aff" stroke-width="1.3"/>
<text x="887" y="562.1" font-size="16.2" fill="#3a3aff">0</text>
<line x1="866.2" y1="466" x2="876.3" y2="466" stroke="#3a3aff" stroke-width="1.3"/>
<text x="887" y="471.8" font-size="16.2" fill="#3a3aff">20</text>
<line x1="866.2" y1="375.6" x2="876.3" y2="375.6" stroke="#3a3aff" stroke-width="1.3"/>
<text x="887" y="381.4" font-size="16.2" fill="#3a3aff">40</text>
<line x1="866.2" y1="285.3" x2="876.3" y2="285.3" stroke="#3a3aff" stroke-width="1.3"/>
<text x="887" y="291.1" font-size="16.2" fill="#3a3aff">60</text>
<line x1="866.2" y1="194.9" x2="876.3" y2="194.9" stroke="#3a3aff" stroke-width="1.3"/>
<text x="887" y="200.7" font-size="16.2" fill="#3a3aff">80</text>
<line x1="866.2" y1="104.6" x2="876.3" y2="104.6" stroke="#3a3aff" stroke-width="1.3"/>
<text x="887" y="110.4" font-size="16.2" fill="#3a3aff">100</text>
<text transform="translate(919.6,330.1) rotate(90)" font-size="16.75" text-anchor="middle" fill="#3a3aff">Recombination rate (cM/Mb)</text>
<text transform="translate(15.4,388.8) rotate(-90)" font-size="16.7" fill="#4a4a4a">−<tspan dx="1">log</tspan><tspan font-size="11.5" dy="4">10</tspan><tspan dy="-4">(p−value)</tspan></text>
<path d="M70.5 552 L150 550 L206.9 548 L206.9 506.8 L212.6 505.1 L213.2 393 L215.2 411.3 L215.2 506 L217.4 512.1 L219.5 513 L219.5 553 L270.5 550 L271 527.7 L272.1 400.9 L274.5 402 L275.6 407.8 L275.6 510.3 L277.3 517.3 L279 550 L500 551 L502 540 L504 552 L535 552 L536.5 515 L538 552 L589 552 L590.8 500 L593 510 L595 552 L866 553" fill="none" stroke="#2b2bff" stroke-width="1.8" clip-path="url(#clipa)"/>
<g clip-path="url(#clipa)">
<g fill="none" stroke-linecap="round">
<use href="#pa0" stroke="#424242" stroke-width="12"/>
<path d="M706 542h0M338 554h0M578 533h0M227 543h0M735 556h0M645 546h0M237 550h0M417 557h0M123 556h0M778 554h0M574 543h0M125 549h0M565 536h0M545 537h0M763 529h0M475 516h0M432 532h0M521 557h0M827 532h0M548 554h0M622 556h0M372 527h0" stroke="#000080" stroke-width="8.9"/>
<path d="M521 553h0M557 552h0" stroke="#a8a8a8" stroke-width="8.9"/>
<use href="#pa1" stroke="#424242" stroke-width="12"/>
<use href="#pa1" stroke="#000080" stroke-width="8.9"/>
<use href="#pa2" stroke="#424242" stroke-width="12"/>
<path d="M468 530h0M795 531h0M265 535h0M659 535h0M654 557h0M429 522h0M558 530h0M707 526h0M620 529h0M331 554h0M558 556h0M571 557h0M246 555h0M596 541h0M843 539h0M867 525h0M215 555h0M443 541h0M756 531h0M439 514h0M832 556h0M856 542h0M683 550h0" stroke="#000080" stroke-width="8.9"/>
<path d="M553 541h0" stroke="#a8a8a8" stroke-width="8.9"/>
<use href="#pa3" stroke="#424242" stroke-width="12"/>
<use href="#pa3" stroke="#000080" stroke-width="8.9"/>
<use href="#pa4" stroke="#424242" stroke-width="12"/>
<path d="M460 544h0M331 529h0M438 515h0M708 545h0M869 557h0M780 555h0M454 553h0M301 547h0M179 536h0M188 543h0M721 552h0M216 541h0M424 542h0M203 539h0M609 550h0M97 545h0M170 554h0M109 553h0M117 545h0M755 527h0M136 544h0M808 528h0M637 526h0" stroke="#000080" stroke-width="8.9"/>
<path d="M495 540h0" stroke="#a8a8a8" stroke-width="8.9"/>
<use href="#pa5" stroke="#424242" stroke-width="12"/>
<use href="#pa5" stroke="#000080" stroke-width="8.9"/>
<use href="#pa6" stroke="#424242" stroke-width="12"/>
<use href="#pa6" stroke="#000080" stroke-width="8.9"/>
<use href="#pa7" stroke="#424242" stroke-width="12"/>
<path d="M656 541h0M200 548h0M432 547h0M519 552h0M471 555h0M733 554h0M609 542h0M78 536h0M458 534h0M152 538h0M622 544h0M420 536h0M839 546h0M861 555h0M95 555h0M735 552h0M360 530h0M320 512h0M464 552h0M318 548h0M659 552h0M561 536h0M738 555h0" stroke="#000080" stroke-width="8.9"/>
<path d="M339 557h0" stroke="#a8a8a8" stroke-width="8.9"/>
<use href="#pa8" stroke="#424242" stroke-width="12"/>
<use href="#pa8" stroke="#000080" stroke-width="8.9"/>
<use href="#pa9" stroke="#424242" stroke-width="12"/>
<use href="#pa9" stroke="#000080" stroke-width="8.9"/>
<use href="#pa10" stroke="#424242" stroke-width="12"/>
<use href="#pa10" stroke="#000080" stroke-width="8.9"/>
<use href="#pa11" stroke="#424242" stroke-width="12"/>
<path d="M804 556h0M231 554h0M439 518h0M171 539h0M714 556h0M190 557h0M712 547h0M536 554h0M837 551h0M621 529h0M746 531h0M68 546h0M799 546h0M587 557h0M757 547h0M129 557h0M331 548h0M600 540h0M835 548h0M233 536h0M255 540h0M84 551h0M94 547h0" stroke="#000080" stroke-width="8.9"/>
<path d="M346 550h0" stroke="#a8a8a8" stroke-width="8.9"/>
<use href="#pa12" stroke="#424242" stroke-width="12"/>
<use href="#pa12" stroke="#000080" stroke-width="8.9"/>
<use href="#pa13" stroke="#424242" stroke-width="12"/>
<use href="#pa13" stroke="#000080" stroke-width="8.9"/>
<use href="#pa14" stroke="#424242" stroke-width="12"/>
<use href="#pa14" stroke="#000080" stroke-width="8.9"/>
<use href="#pa15" stroke="#424242" stroke-width="12"/>
<path d="M468 557h0M430 550h0M128 550h0M481 541h0M682 556h0M470 548h0M263 557h0M670 536h0M700 543h0M80 556h0M164 557h0M554 550h0M345 518h0M665 556h0M263 549h0M553 530h0M263 533h0M805 555h0M689 556h0M736 528h0M816 547h0M811 534h0M668 542h0" stroke="#000080" stroke-width="8.9"/>
<path d="M775 537h0" stroke="#a8a8a8" stroke-width="8.9"/>
<use href="#pa16" stroke="#424242" stroke-width="12"/>
<use href="#pa16" stroke="#000080" stroke-width="8.9"/>
<use href="#pa17" stroke="#424242" stroke-width="12"/>
<use href="#pa17" stroke="#000080" stroke-width="8.9"/>
<use href="#pa18" stroke="#424242" stroke-width="12"/>
<path d="M232 542h0" stroke="#a8a8a8" stroke-width="8.9"/>
<path d="M458 528h0M750 528h0M238 538h0M557 557h0M124 538h0M568 552h0M233 543h0M195 532h0M156 527h0M280 557h0M118 530h0M830 537h0M294 543h0M489 549h0M236 557h0M699 557h0M651 557h0M155 557h0M509 529h0M720 553h0M319 543h0M672 538h0M548 554h0" stroke="#000080" stroke-width="8.9"/>
<use href="#pa19" stroke="#424242" stroke-width="12"/>
<use href="#pa19" stroke="#000080" stroke-width="8.9"/>
<use href="#pa20" stroke="#424242" stroke-width="12"/>
<use href="#pa20" stroke="#000080" stroke-width="8.9"/>
<use href="#pa21" stroke="#424242" stroke-width="12"/>
<path d="M377 546h0M430 533h0" stroke="#a8a8a8" stroke-width="8.9"/>
<path d="M512 525h0M510 553h0M504 545h0M371 552h0M307 549h0M298 554h0M657 554h0M86 521h0M290 529h0M328 554h0M263 540h0M302 557h0M249 545h0M589 557h0M441 528h0M588 554h0M704 557h0M325 550h0M472 537h0M709 555h0M860 557h0M571 534h0" stroke="#000080" stroke-width="8.9"/>
<use href="#pa22" stroke="#424242" stroke-width="12"/>
<use href="#pa22" stroke="#000080" stroke-width="8.9"/>
<use href="#pa23" stroke="#424242" stroke-width="12"/>
<use href="#pa23" stroke="#000080" stroke-width="8.9"/>
<use href="#pa24" stroke="#424242" stroke-width="12"/>
<use href="#pa24" stroke="#000080" stroke-width="8.9"/>
<use href="#pa25" stroke="#424242" stroke-width="12"/>
<use href="#pa25" stroke="#000080" stroke-width="8.9"/>
<use href="#pa26" stroke="#424242" stroke-width="12"/>
<path d="M694 540h0M84 555h0M207 530h0M649 527h0M659 548h0M431 554h0M550 552h0M282 556h0M185 540h0M209 553h0M210 547h0M273 557h0M829 554h0M795 533h0M549 544h0M678 553h0M242 556h0M213 549h0M369 538h0M407 548h0M305 546h0M725 532h0M130 542h0" stroke="#000080" stroke-width="8.9"/>
<path d="M233 553h0" stroke="#a8a8a8" stroke-width="8.9"/>
<use href="#pa27" stroke="#424242" stroke-width="12"/>
<use href="#pa27" stroke="#000080" stroke-width="8.9"/>
<use href="#pa28" stroke="#424242" stroke-width="12"/>
<path d="M448 517h0M215 546h0M792 553h0M323 550h0M475 517h0M685 542h0M85 548h0M851 550h0M659 537h0M92 556h0M231 557h0M633 531h0M743 547h0M699 552h0M198 557h0M401 541h0M536 556h0M217 547h0M626 529h0M410 514h0M521 554h0M271 527h0M527 555h0" stroke="#000080" stroke-width="8.9"/>
<path d="M123 557h0" stroke="#a8a8a8" stroke-width="8.9"/>
<use href="#pa29" stroke="#424242" stroke-width="12"/>
<path d="M588 531h0M67 549h0M156 538h0M821 543h0M559 548h0M328 529h0M614 555h0M636 533h0M847 536h0M216 555h0M270 556h0M780 556h0M92 556h0M700 554h0M125 526h0M489 555h0M115 540h0M348 555h0M401 516h0M746 548h0M224 553h0M643 538h0M132 557h0" stroke="#000080" stroke-width="8.9"/>
<path d="M581 546h0" stroke="#a8a8a8" stroke-width="8.9"/>
<use href="#pa30" stroke="#424242" stroke-width="12"/>
<path d="M287 539h0M147 557h0M116 545h0M552 548h0M138 549h0M162 557h0M589 540h0M521 545h0M550 553h0M335 514h0M580 535h0M98 546h0M106 542h0M312 553h0M261 557h0M156 544h0M398 542h0M688 557h0M744 557h0M850 552h0M780 544h0M176 555h0" stroke="#000080" stroke-width="8.9"/>
<path d="M636 554h0M513 552h0" stroke="#a8a8a8" stroke-width="8.9"/>
<use href="#pa31" stroke="#424242" stroke-width="12"/>
<path d="M822 557h0M181 536h0M777 545h0M776 556h0M664 542h0M147 557h0M458 542h0M115 555h0M581 556h0M802 551h0M590 553h0M162 554h0M248 557h0M238 554h0M689 556h0M233 541h0M280 554h0M164 525h0M287 554h0M720 540h0M87 527h0M220 542h0M498 525h0" stroke="#000080" stroke-width="8.9"/>
<path d="M737 533h0" stroke="#a8a8a8" stroke-width="8.9"/>
<use href="#pa32" stroke="#424242" stroke-width="12"/>
<use href="#pa32" stroke="#000080" stroke-width="8.9"/>
<use href="#pa33" stroke="#424242" stroke-width="12"/>
<path d="M76 553h0M240 553h0M571 555h0M270 556h0M295 551h0M703 527h0M112 532h0M660 522h0M569 546h0M495 540h0M845 552h0M645 544h0M168 557h0M647 549h0M589 552h0M617 536h0M210 538h0M750 537h0M75 556h0M420 520h0M362 532h0M589 535h0M327 534h0" stroke="#000080" stroke-width="8.9"/>
<path d="M381 526h0" stroke="#a8a8a8" stroke-width="8.9"/>
<use href="#pa34" stroke="#424242" stroke-width="12"/>
<path d="M101 534h0M419 544h0M688 556h0M259 552h0M237 557h0M321 549h0M180 550h0M551 556h0M444 518h0M269 542h0M743 537h0M468 551h0M669 531h0M94 546h0M708 555h0M281 528h0M761 555h0M850 547h0M117 529h0M698 533h0M69 548h0M84 555h0M511 554h0" stroke="#000080" stroke-width="8.9"/>
<path d="M111 545h0" stroke="#a8a8a8" stroke-width="8.9"/>
<use href="#pa35" stroke="#424242" stroke-width="12"/>
<use href="#pa35" stroke="#000080" stroke-width="8.9"/>
<use href="#pa36" stroke="#424242" stroke-width="12"/>
<path d="M851 531h0M257 556h0M249 552h0M732 529h0M137 551h0M150 538h0M735 549h0M90 527h0M399 538h0M244 539h0M807 539h0M198 548h0M707 541h0M847 526h0M313 547h0M707 537h0M548 553h0M346 526h0M424 525h0M344 512h0M338 513h0M245 557h0M130 550h0" stroke="#000080" stroke-width="8.9"/>
<path d="M836 531h0" stroke="#a8a8a8" stroke-width="8.9"/>
<use href="#pa37" stroke="#424242" stroke-width="12"/>
<use href="#pa37" stroke="#000080" stroke-width="8.9"/>
<use href="#pa38" stroke="#424242" stroke-width="12"/>
<use href="#pa38" stroke="#000080" stroke-width="8.9"/>
<use href="#pa39" stroke="#424242" stroke-width="12"/>
<use href="#pa39" stroke="#000080" stroke-width="8.9"/>
<use href="#pa40" stroke="#424242" stroke-width="12"/>
<use href="#pa40" stroke="#000080" stroke-width="8.9"/>
<use href="#pa41" stroke="#424242" stroke-width="12"/>
<path d="M287 543h0M231 548h0M422 556h0M674 556h0M274 518h0M769 555h0M297 546h0M390 534h0M305 523h0M439 556h0M181 557h0M622 556h0M767 549h0M351 557h0M273 549h0M461 554h0M318 540h0M734 533h0M237 550h0M217 556h0M133 531h0M412 512h0M178 543h0" stroke="#000080" stroke-width="8.9"/>
<path d="M348 545h0" stroke="#a8a8a8" stroke-width="8.9"/>
<use href="#pa42" stroke="#424242" stroke-width="12"/>
<use href="#pa42" stroke="#000080" stroke-width="8.9"/>
<use href="#pa43" stroke="#424242" stroke-width="12"/>
<use href="#pa43" stroke="#000080" stroke-width="8.9"/>
<use href="#pa44" stroke="#424242" stroke-width="12"/>
<path d="M118 538h0M832 546h0M425 557h0M548 554h0M94 546h0M161 552h0M152 557h0M533 548h0M382 557h0M342 525h0M211 557h0M524 553h0M862 543h0M704 546h0M588 535h0M721 538h0M703 531h0M588 528h0M796 557h0M378 554h0M580 535h0" stroke="#000080" stroke-width="8.9"/>
<path d="M95 544h0M864 552h0M772 537h0" stroke="#a8a8a8" stroke-width="8.9"/>
<use href="#pa45" stroke="#424242" stroke-width="12"/>
<path d="M420 540h0M505 535h0M831 552h0M541 541h0M769 557h0M820 549h0M678 537h0M359 514h0M205 552h0M541 532h0M704 556h0M629 533h0M556 557h0M376 555h0M485 546h0M80 553h0M153 556h0M395 555h0M233 545h0M519 547h0M453 555h0M209 536h0M390 519h0" stroke="#000080" stroke-width="8.9"/>
<path d="M733 541h0" stroke="#a8a8a8" stroke-width="8.9"/>
<use href="#pa46" stroke="#424242" stroke-width="12"/>
<path d="M241 546h0M86 554h0M585 529h0M566 544h0M465 540h0M507 540h0M159 556h0M104 545h0M697 537h0M233 537h0M300 521h0M720 548h0M272 523h0M633 553h0M316 546h0M441 522h0M281 549h0M630 536h0M331 556h0M801 555h0M69 553h0M303 552h0M480 540h0" stroke="#000080" stroke-width="8.9"/>
<path d="M735 531h0" stroke="#a8a8a8" stroke-width="8.9"/>
<use href="#pa47" stroke="#424242" stroke-width="12"/>
<path d="M640 535h0M608 528h0M268 545h0M400 554h0M619 554h0M847 539h0M809 556h0M547 557h0M700 555h0M103 554h0M353 537h0M461 557h0M561 538h0M78 548h0M179 545h0M521 556h0M562 554h0M508 547h0M579 540h0M739 534h0M550 552h0M711 535h0M748 528h0" stroke="#000080" stroke-width="8.9"/>
<path d="M222 553h0" stroke="#a8a8a8" stroke-width="8.9"/>
<use href="#pa48" stroke="#424242" stroke-width="12"/>
<use href="#pa48" stroke="#000080" stroke-width="8.9"/>
<use href="#pa49" stroke="#424242" stroke-width="12"/>
<path d="M587 544h0M400 539h0M299 533h0M701 531h0M756 537h0M599 549h0M703 523h0M254 557h0M712 524h0M863 531h0M596 555h0M630 557h0M658 550h0M542 554h0M487 520h0M239 547h0M208 556h0M860 545h0M205 535h0M414 540h0M241 551h0M435 531h0M741 529h0" stroke="#000080" stroke-width="8.9"/>
<path d="M703 542h0" stroke="#a8a8a8" stroke-width="8.9"/>
<use href="#pa50" stroke="#424242" stroke-width="12"/>
<use href="#pa50" stroke="#000080" stroke-width="8.9"/>
<use href="#pa51" stroke="#424242" stroke-width="12"/>
<use href="#pa51" stroke="#000080" stroke-width="8.9"/>
<use href="#pa52" stroke="#424242" stroke-width="12"/>
<use href="#pa52" stroke="#000080" stroke-width="8.9"/>
<use href="#pa53" stroke="#424242" stroke-width="12"/>
<path d="M524 556h0M607 539h0M702 529h0M89 543h0M404 555h0M456 546h0M608 549h0M272 557h0M117 552h0M866 536h0M328 539h0M773 525h0M686 550h0M817 540h0M695 551h0M215 546h0M526 547h0M620 555h0M112 556h0M242 544h0M787 528h0M624 551h0" stroke="#000080" stroke-width="8.9"/>
<path d="M671 543h0M650 529h0" stroke="#a8a8a8" stroke-width="8.9"/>
<use href="#pa54" stroke="#424242" stroke-width="12"/>
<use href="#pa54" stroke="#000080" stroke-width="8.9"/>
<use href="#pa55" stroke="#424242" stroke-width="12"/>
<path d="M215 549h0M276 556h0M408 536h0M286 533h0M606 557h0M584 544h0M735 552h0M618 545h0M766 556h0M719 535h0M106 542h0M625 553h0M747 552h0M89 538h0M450 514h0M554 546h0M139 531h0M802 538h0M119 527h0M589 541h0M735 557h0M745 557h0M410 554h0" stroke="#000080" stroke-width="8.9"/>
<path d="M393 515h0" stroke="#a8a8a8" stroke-width="8.9"/>
<use href="#pa56" stroke="#424242" stroke-width="12"/>
<use href="#pa56" stroke="#000080" stroke-width="8.9"/>
<use href="#pa57" stroke="#424242" stroke-width="12"/>
<use href="#pa57" stroke="#000080" stroke-width="8.9"/>
<use href="#pa58" stroke="#424242" stroke-width="12"/>
<use href="#pa58" stroke="#000080" stroke-width="8.9"/>
<use href="#pa59" stroke="#424242" stroke-width="12"/>
<use href="#pa59" stroke="#000080" stroke-width="8.9"/>
<use href="#pa60" stroke="#424242" stroke-width="12"/>
<use href="#pa60" stroke="#000080" stroke-width="8.9"/>
<use href="#pa61" stroke="#424242" stroke-width="12"/>
<path d="M846 556h0M550 549h0M412 535h0M659 522h0M234 540h0M819 539h0M403 536h0M755 551h0M779 550h0M577 536h0M467 519h0M584 536h0M419 549h0M213 555h0M215 555h0M401 537h0M487 541h0M625 532h0M113 541h0M780 556h0M312 547h0M771 537h0M856 550h0" stroke="#000080" stroke-width="8.9"/>
<path d="M211 556h0" stroke="#a8a8a8" stroke-width="8.9"/>
<use href="#pa62" stroke="#424242" stroke-width="12"/>
<use href="#pa62" stroke="#000080" stroke-width="8.9"/>
<use href="#pa63" stroke="#424242" stroke-width="12"/>
<use href="#pa63" stroke="#000080" stroke-width="8.9"/>
<use href="#pa64" stroke="#424242" stroke-width="12"/>
<use href="#pa64" stroke="#000080" stroke-width="8.9"/>
<use href="#pa65" stroke="#424242" stroke-width="12"/>
<use href="#pa65" stroke="#000080" stroke-width="8.9"/>
<use href="#pa66" stroke="#424242" stroke-width="12"/>
<use href="#pa66" stroke="#000080" stroke-width="8.9"/>
<use href="#pa67" stroke="#424242" stroke-width="12"/>
<path d="M429 541h0M552 554h0M788 524h0M426 555h0M543 532h0M168 557h0M625 546h0M224 537h0M712 552h0M784 551h0M299 543h0M805 526h0M578 548h0M221 556h0M476 555h0M405 530h0M526 551h0M683 548h0M678 553h0M633 551h0M554 555h0M338 555h0M498 520h0" stroke="#000080" stroke-width="8.9"/>
<path d="M233 543h0" stroke="#a8a8a8" stroke-width="8.9"/>
<use href="#pa68" stroke="#424242" stroke-width="12"/>
<use href="#pa68" stroke="#000080" stroke-width="8.9"/>
<use href="#pa69" stroke="#424242" stroke-width="12"/>
<path d="M799 524h0M441 522h0M665 546h0M860 554h0M172 557h0M782 545h0M483 553h0M390 555h0M359 525h0M556 545h0M290 541h0M104 555h0M134 557h0M422 538h0M230 539h0M467 526h0M785 555h0M553 550h0M554 554h0M845 540h0M595 554h0M179 555h0" stroke="#000080" stroke-width="8.9"/>
<path d="M333 546h0M94 521h0" stroke="#a8a8a8" stroke-width="8.9"/>
<use href="#pa70" stroke="#424242" stroke-width="12"/>
<path d="M339 557h0M678 526h0M408 527h0M110 551h0M103 538h0M204 551h0M774 557h0M568 538h0M149 556h0M791 532h0M201 538h0M83 551h0M262 548h0M558 550h0M642 554h0M686 541h0M364 534h0M413 529h0M460 529h0M613 557h0M556 546h0M754 544h0M526 557h0" stroke="#000080" stroke-width="8.9"/>
<path d="M315 543h0" stroke="#a8a8a8" stroke-width="8.9"/>
<use href="#pa71" stroke="#424242" stroke-width="12"/>
<use href="#pa71" stroke="#000080" stroke-width="8.9"/>
<use href="#pa72" stroke="#424242" stroke-width="12"/>
<path d="M520 530h0M202 548h0M451 527h0M713 556h0M458 539h0M448 555h0M630 545h0M342 555h0M192 525h0M564 546h0M317 545h0M183 534h0M383 528h0M832 546h0M763 555h0M814 557h0M598 534h0M867 550h0M835 547h0M856 543h0M118 553h0M78 548h0M853 553h0" stroke="#000080" stroke-width="8.9"/>
<path d="M233 555h0" stroke="#a8a8a8" stroke-width="8.9"/>
<use href="#pa73" stroke="#424242" stroke-width="12"/>
<path d="M706 529h0M148 557h0M460 531h0M448 553h0M778 533h0M572 553h0M79 557h0M357 549h0M209 552h0M582 528h0M142 547h0M651 552h0M668 557h0M100 543h0M169 524h0M281 520h0M863 540h0M520 553h0M824 533h0M524 557h0M344 531h0M845 554h0M131 548h0" stroke="#000080" stroke-width="8.9"/>
<path d="M520 549h0" stroke="#a8a8a8" stroke-width="8.9"/>
<use href="#pa74" stroke="#424242" stroke-width="12"/>
<use href="#pa74" stroke="#000080" stroke-width="8.9"/>
<use href="#pa75" stroke="#424242" stroke-width="12"/>
<use href="#pa75" stroke="#000080" stroke-width="8.9"/>
<use href="#pa76" stroke="#424242" stroke-width="12"/>
<use href="#pa76" stroke="#000080" stroke-width="8.9"/>
<use href="#pa77" stroke="#424242" stroke-width="12"/>
<use href="#pa77" stroke="#000080" stroke-width="8.9"/>
<use href="#pa78" stroke="#424242" stroke-width="12"/>
<use href="#pa78" stroke="#000080" stroke-width="8.9"/>
<use href="#pa79" stroke="#424242" stroke-width="12"/>
<use href="#pa79" stroke="#000080" stroke-width="8.9"/>
<use href="#pa80" stroke="#424242" stroke-width="12"/>
<use href="#pa80" stroke="#000080" stroke-width="8.9"/>
<use href="#pa81" stroke="#424242" stroke-width="12"/>
<path d="M525 538h0M739 537h0M737 550h0M473 525h0M328 541h0M851 536h0M852 544h0M589 531h0M522 532h0M582 549h0M661 551h0M521 543h0M226 555h0M260 548h0M123 546h0M493 517h0M759 530h0M163 557h0M527 540h0M204 556h0M124 534h0M250 557h0M234 557h0" stroke="#000080" stroke-width="8.9"/>
<path d="M98 553h0" stroke="#a8a8a8" stroke-width="8.9"/>
<use href="#pa82" stroke="#424242" stroke-width="12"/>
<use href="#pa82" stroke="#000080" stroke-width="8.9"/>
<use href="#pa83" stroke="#424242" stroke-width="12"/>
<path d="M188 557h0M135 527h0M457 553h0M364 529h0M265 556h0M491 556h0M671 545h0M108 531h0M790 537h0M178 556h0M609 556h0M570 553h0M517 545h0M547 552h0M336 514h0M844 554h0M603 544h0M335 527h0M713 557h0M197 555h0M759 542h0M805 531h0M183 526h0" stroke="#000080" stroke-width="8.9"/>
<path d="M643 545h0" stroke="#a8a8a8" stroke-width="8.9"/>
<use href="#pa84" stroke="#424242" stroke-width="12"/>
<use href="#pa84" stroke="#000080" stroke-width="8.9"/>
<use href="#pa85" stroke="#424242" stroke-width="12"/>
<use href="#pa85" stroke="#000080" stroke-width="8.9"/>
<use href="#pa86" stroke="#424242" stroke-width="12"/>
<path d="M831 548h0M355 545h0M214 553h0M89 538h0M209 557h0M116 534h0M449 554h0M798 530h0M598 557h0M540 548h0M508 534h0M248 537h0M810 557h0M581 557h0M622 534h0M275 545h0M221 549h0M786 526h0M204 539h0M489 521h0M856 547h0M97 556h0M366 533h0" stroke="#000080" stroke-width="8.9"/>
<path d="M172 552h0" stroke="#a8a8a8" stroke-width="8.9"/>
<use href="#pa87" stroke="#424242" stroke-width="12"/>
<use href="#pa87" stroke="#000080" stroke-width="8.9"/>
<use href="#pa88" stroke="#424242" stroke-width="12"/>
<use href="#pa88" stroke="#000080" stroke-width="8.9"/>
<use href="#pa89" stroke="#424242" stroke-width="12"/>
<use href="#pa89" stroke="#000080" stroke-width="8.9"/>
<use href="#pa90" stroke="#424242" stroke-width="12"/>
<use href="#pa90" stroke="#000080" stroke-width="8.9"/>
<use href="#pa91" stroke="#424242" stroke-width="12"/>
<path d="M443 557h0M591 537h0M234 547h0M473 531h0M669 533h0M542 550h0M774 524h0M352 539h0M338 556h0M705 553h0M487 553h0M322 541h0M191 541h0M279 536h0M118 548h0M205 532h0M474 556h0M237 557h0M858 541h0M396 547h0M490 557h0M350 527h0M106 530h0" stroke="#000080" stroke-width="8.9"/>
<path d="M440 554h0" stroke="#a8a8a8" stroke-width="8.9"/>
<use href="#pa92" stroke="#424242" stroke-width="12"/>
<use href="#pa92" stroke="#000080" stroke-width="8.9"/>
<use href="#pa93" stroke="#424242" stroke-width="12"/>
<path d="M513 535h0M685 536h0M139 552h0M560 554h0M397 554h0M83 543h0M414 556h0M139 538h0M822 553h0M588 552h0M606 553h0M417 557h0M602 539h0M127 522h0M254 551h0M483 557h0M558 557h0M315 557h0M780 523h0M388 556h0M81 554h0M409 543h0M805 556h0" stroke="#000080" stroke-width="8.9"/>
<path d="M860 537h0" stroke="#a8a8a8" stroke-width="8.9"/>
<use href="#pa94" stroke="#424242" stroke-width="12"/>
<path d="M801 529h0M634 554h0M337 514h0M276 546h0M782 535h0M640 555h0M545 550h0M705 557h0M790 540h0M256 545h0M344 514h0M501 546h0M411 556h0M617 547h0M414 533h0M96 535h0M523 557h0M142 545h0M620 551h0M302 546h0M708 527h0M745 552h0" stroke="#000080" stroke-width="8.9"/>
<path d="M163 552h0M310 542h0" stroke="#a8a8a8" stroke-width="8.9"/>
<use href="#pa95" stroke="#424242" stroke-width="12"/>
<use href="#pa95" stroke="#000080" stroke-width="8.9"/>
<use href="#pa96" stroke="#424242" stroke-width="12"/>
<use href="#pa96" stroke="#000080" stroke-width="8.9"/>
<use href="#pa97" stroke="#424242" stroke-width="12"/>
<use href="#pa97" stroke="#000080" stroke-width="8.9"/>
<use href="#pa98" stroke="#424242" stroke-width="12"/>
<path d="M821 546h0M89 526h0M714 532h0M776 538h0M522 533h0M243 541h0M101 514h0M704 557h0M111 553h0M209 546h0M423 546h0M400 514h0M606 539h0M731 536h0M110 536h0M421 557h0M606 539h0M537 531h0M380 524h0M336 531h0M286 539h0M405 556h0M238 537h0" stroke="#000080" stroke-width="8.9"/>
<path d="M210 547h0" stroke="#a8a8a8" stroke-width="8.9"/>
<use href="#pa99" stroke="#424242" stroke-width="12"/>
<use href="#pa99" stroke="#000080" stroke-width="8.9"/>
<use href="#pa100" stroke="#424242" stroke-width="12"/>
<use href="#pa100" stroke="#000080" stroke-width="8.9"/>
<use href="#pa101" stroke="#424242" stroke-width="12"/>
<use href="#pa101" stroke="#000080" stroke-width="8.9"/>
<use href="#pa102" stroke="#424242" stroke-width="12"/>
<use href="#pa102" stroke="#000080" stroke-width="8.9"/>
<use href="#pa103" stroke="#424242" stroke-width="12"/>
<path d="M89 556h0M730 556h0M523 546h0M787 528h0M363 551h0M731 546h0M436 525h0M326 538h0M426 537h0M544 540h0M79 556h0M495 555h0M253 542h0M740 556h0M546 543h0M232 547h0M574 542h0M843 554h0M819 554h0M553 555h0M251 547h0M274 557h0M434 542h0" stroke="#000080" stroke-width="8.9"/>
<path d="M90 544h0" stroke="#a8a8a8" stroke-width="8.9"/>
<use href="#pa104" stroke="#424242" stroke-width="12"/>
<path d="M792 552h0M493 553h0M865 553h0M552 556h0M119 544h0M562 542h0M453 553h0M81 546h0M685 546h0M660 557h0M290 536h0M522 534h0M739 549h0M334 554h0M384 556h0M208 556h0M742 557h0M791 540h0M741 541h0M505 557h0M507 531h0" stroke="#000080" stroke-width="8.9"/>
<path d="M519 531h0M82 555h0M585 535h0" stroke="#a8a8a8" stroke-width="8.9"/>
<use href="#pa105" stroke="#424242" stroke-width="12"/>
<use href="#pa105" stroke="#000080" stroke-width="8.9"/>
<use href="#pa106" stroke="#424242" stroke-width="12"/>
<use href="#pa106" stroke="#000080" stroke-width="8.9"/>
<use href="#pa107" stroke="#424242" stroke-width="12"/>
<use href="#pa107" stroke="#000080" stroke-width="8.9"/>
<use href="#pa108" stroke="#424242" stroke-width="12"/>
<use href="#pa108" stroke="#000080" stroke-width="8.9"/>
<use href="#pa109" stroke="#424242" stroke-width="12"/>
<use href="#pa109" stroke="#000080" stroke-width="8.9"/>
<use href="#pa110" stroke="#424242" stroke-width="12"/>
<path d="M315 527h0M311 543h0M271 534h0M670 557h0M210 557h0M97 557h0M106 542h0M151 546h0M516 533h0M587 551h0M304 542h0M551 534h0M404 528h0M321 535h0M496 536h0M580 557h0M717 534h0M800 550h0M835 525h0M500 545h0M599 557h0M336 548h0M720 557h0" stroke="#000080" stroke-width="8.9"/>
<path d="M702 526h0" stroke="#a8a8a8" stroke-width="8.9"/>
<use href="#pa111" stroke="#424242" stroke-width="12"/>
<use href="#pa111" stroke="#000080" stroke-width="8.9"/>
<use href="#pa112" stroke="#424242" stroke-width="12"/>
<path d="M779 547h0M406 555h0M630 545h0M502 522h0M278 549h0M168 553h0M419 553h0M522 557h0M555 554h0M634 532h0M232 537h0M334 514h0M405 541h0M375 531h0M851 551h0M166 530h0M252 544h0M67 556h0M361 552h0M496 549h0M240 553h0M605 557h0M280 552h0" stroke="#000080" stroke-width="8.9"/>
<path d="M669 546h0" stroke="#a8a8a8" stroke-width="8.9"/>
<use href="#pa113" stroke="#424242" stroke-width="12"/>
<use href="#pa113" stroke="#000080" stroke-width="8.9"/>
<use href="#pa114" stroke="#424242" stroke-width="12"/>
<use href="#pa114" stroke="#000080" stroke-width="8.9"/>
<use href="#pa115" stroke="#424242" stroke-width="12"/>
<path d="M783 551h0M318 541h0M80 551h0M748 536h0M80 548h0M157 554h0M321 548h0M370 530h0M707 544h0M572 557h0M653 542h0M725 535h0M630 525h0M710 542h0M380 544h0M286 538h0M519 538h0M354 509h0M394 513h0M697 555h0M218 546h0M600 557h0M71 554h0" stroke="#000080" stroke-width="8.9"/>
<path d="M798 555h0" stroke="#a8a8a8" stroke-width="8.9"/>
<use href="#pa116" stroke="#424242" stroke-width="12"/>
<path d="M114 537h0M807 555h0M489 521h0M118 526h0M285 553h0M268 544h0M566 551h0M82 555h0M339 538h0M799 557h0M502 557h0M237 543h0M301 529h0M111 537h0M491 542h0M805 554h0M731 543h0M424 557h0M385 540h0M584 543h0M379 525h0M527 543h0M285 540h0" stroke="#000080" stroke-width="8.9"/>
<path d="M756 546h0" stroke="#a8a8a8" stroke-width="8.9"/>
<use href="#pa117" stroke="#424242" stroke-width="12"/>
<use href="#pa117" stroke="#000080" stroke-width="8.9"/>
<use href="#pa118" stroke="#424242" stroke-width="12"/>
<use href="#pa118" stroke="#000080" stroke-width="8.9"/>
<use href="#pa119" stroke="#424242" stroke-width="12"/>
<use href="#pa119" stroke="#000080" stroke-width="8.9"/>
<use href="#pa120" stroke="#424242" stroke-width="12"/>
<use href="#pa120" stroke="#000080" stroke-width="8.9"/>
<use href="#pa121" stroke="#424242" stroke-width="12"/>
<use href="#pa121" stroke="#000080" stroke-width="8.9"/>
<use href="#pa122" stroke="#424242" stroke-width="12"/>
<use href="#pa122" stroke="#000080" stroke-width="8.9"/>
<use href="#pa123" stroke="#424242" stroke-width="12"/>
<use href="#pa123" stroke="#000080" stroke-width="8.9"/>
<use href="#pa124" stroke="#424242" stroke-width="12"/>
<use href="#pa124" stroke="#000080" stroke-width="8.9"/>
<use href="#pa125" stroke="#424242" stroke-width="12"/>
<path d="M123 556h0M342 533h0M794 539h0M739 544h0M722 543h0M790 557h0M459 531h0M413 522h0M782 546h0M516 553h0M403 556h0M480 540h0M759 546h0M349 540h0M471 538h0M355 554h0M408 556h0M680 547h0M130 538h0M238 553h0M487 555h0M792 523h0M662 539h0" stroke="#000080" stroke-width="8.9"/>
<path d="M841 549h0" stroke="#a8a8a8" stroke-width="8.9"/>
<use href="#pa126" stroke="#424242" stroke-width="12"/>
<use href="#pa126" stroke="#000080" stroke-width="8.9"/>
<use href="#pa127" stroke="#424242" stroke-width="12"/>
<use href="#pa127" stroke="#000080" stroke-width="8.9"/>
<use href="#pa128" stroke="#424242" stroke-width="12"/>
<path d="M682 557h0M455 551h0M272 546h0M299 519h0M443 556h0M349 537h0M235 544h0M566 545h0M116 521h0M268 555h0M84 528h0M654 534h0M854 526h0M335 533h0M378 518h0M97 556h0M651 532h0M848 547h0M179 530h0M626 547h0M524 555h0M638 528h0M465 549h0" stroke="#000080" stroke-width="8.9"/>
<path d="M604 550h0" stroke="#a8a8a8" stroke-width="8.9"/>
<use href="#pa129" stroke="#424242" stroke-width="12"/>
<use href="#pa129" stroke="#000080" stroke-width="8.9"/>
<use href="#pa130" stroke="#424242" stroke-width="12"/>
<use href="#pa130" stroke="#000080" stroke-width="8.9"/>
<use href="#pa131" stroke="#424242" stroke-width="12"/>
<use href="#pa131" stroke="#000080" stroke-width="8.9"/>
<use href="#pa132" stroke="#424242" stroke-width="12"/>
<use href="#pa132" stroke="#000080" stroke-width="8.9"/>
<use href="#pa133" stroke="#424242" stroke-width="12"/>
<path d="M107 549h0" stroke="#a8a8a8" stroke-width="8.9"/>
<path d="M728 549h0M336 516h0M662 539h0M67 557h0M619 534h0M845 539h0M258 536h0M807 551h0M241 539h0M617 535h0M122 537h0M132 552h0M474 551h0M265 543h0M241 557h0M427 535h0M522 547h0M745 540h0M105 549h0M501 551h0M648 539h0M507 531h0M278 530h0" stroke="#000080" stroke-width="8.9"/>
<use href="#pa134" stroke="#424242" stroke-width="12"/>
<use href="#pa134" stroke="#000080" stroke-width="8.9"/>
<use href="#pa135" stroke="#424242" stroke-width="12"/>
<use href="#pa135" stroke="#000080" stroke-width="8.9"/>
<use href="#pa136" stroke="#424242" stroke-width="12"/>
<path d="M860 554h0M547 549h0M275 554h0M410 552h0M572 549h0M744 549h0M832 552h0M119 525h0M484 537h0M398 525h0M537 543h0M727 557h0M518 553h0M811 556h0M709 546h0M444 536h0M445 539h0M210 533h0M732 541h0M564 556h0M476 552h0M239 551h0M408 518h0" stroke="#000080" stroke-width="8.9"/>
<path d="M398 539h0" stroke="#a8a8a8" stroke-width="8.9"/>
<use href="#pa137" stroke="#424242" stroke-width="12"/>
<use href="#pa137" stroke="#000080" stroke-width="8.9"/>
<use href="#pa138" stroke="#424242" stroke-width="12"/>
<path d="M389 546h0M118 534h0M713 538h0M93 556h0M360 528h0M570 539h0M716 547h0M647 543h0M90 555h0M365 536h0M197 540h0M832 544h0M270 555h0M749 528h0M405 529h0M751 552h0M641 555h0M615 527h0M409 540h0M732 550h0M550 554h0M208 557h0M800 554h0" stroke="#000080" stroke-width="8.9"/>
<path d="M630 531h0" stroke="#a8a8a8" stroke-width="8.9"/>
<use href="#pa139" stroke="#424242" stroke-width="12"/>
<use href="#pa139" stroke="#000080" stroke-width="8.9"/>
<use href="#pa140" stroke="#424242" stroke-width="12"/>
<path d="M67 555h0M341 545h0M747 554h0M494 556h0M313 554h0M264 555h0M671 541h0M68 541h0M788 525h0M224 555h0M297 521h0M707 555h0M772 542h0M449 556h0M634 533h0M687 530h0M702 526h0M253 537h0M725 555h0M479 554h0M354 526h0M850 546h0M849 531h0" stroke="#000080" stroke-width="8.9"/>
<path d="M759 553h0" stroke="#a8a8a8" stroke-width="8.9"/>
<use href="#pa141" stroke="#424242" stroke-width="12"/>
<use href="#pa141" stroke="#000080" stroke-width="8.9"/>
<use href="#pa142" stroke="#424242" stroke-width="12"/>
<use href="#pa142" stroke="#000080" stroke-width="8.9"/>
<use href="#pa143" stroke="#424242" stroke-width="12"/>
<use href="#pa143" stroke="#000080" stroke-width="8.9"/>
<use href="#pa144" stroke="#424242" stroke-width="12"/>
<use href="#pa144" stroke="#000080" stroke-width="8.9"/>
<use href="#pa145" stroke="#424242" stroke-width="12"/>
<use href="#pa145" stroke="#000080" stroke-width="8.9"/>
<use href="#pa146" stroke="#424242" stroke-width="12"/>
<path d="M100 514h0M840 548h0M512 553h0M256 554h0M254 552h0M550 548h0M397 551h0M415 524h0M686 540h0M356 528h0M856 554h0M236 540h0M829 557h0M259 549h0M653 544h0M666 547h0M493 551h0M379 557h0M433 516h0M615 555h0M114 556h0M156 532h0M131 556h0" stroke="#000080" stroke-width="8.9"/>
<path d="M626 533h0" stroke="#a8a8a8" stroke-width="8.9"/>
<use href="#pa147" stroke="#424242" stroke-width="12"/>
<use href="#pa147" stroke="#000080" stroke-width="8.9"/>
<use href="#pa148" stroke="#424242" stroke-width="12"/>
<path d="M817 526h0M156 548h0M624 549h0M854 551h0M489 548h0M455 547h0M102 524h0M436 512h0M399 557h0M599 557h0M859 551h0M367 546h0M471 521h0M448 556h0M494 550h0M208 548h0M211 533h0M130 555h0M710 556h0M676 551h0M229 547h0M234 546h0" stroke="#000080" stroke-width="8.9"/>
<path d="M336 549h0M95 517h0" stroke="#a8a8a8" stroke-width="8.9"/>
<use href="#pa149" stroke="#424242" stroke-width="12"/>
<use href="#pa149" stroke="#000080" stroke-width="8.9"/>
</g>
<g stroke="#424242" stroke-width="1.1">
<circle cx="116.6" cy="500.3" r="5.45" fill="#000080"/>
<circle cx="235.8" cy="501.3" r="5.45" fill="#000080"/>
<circle cx="252.7" cy="507.6" r="5.45" fill="#000080"/>
<circle cx="262.8" cy="508.4" r="5.45" fill="#000080"/>
<circle cx="259.4" cy="515.2" r="5.45" fill="#000080"/>
<circle cx="284" cy="498" r="5.45" fill="#000080"/>
<circle cx="290" cy="495" r="5.45" fill="#000080"/>
<circle cx="296" cy="494" r="5.45" fill="#000080"/>
<circle cx="302" cy="497" r="5.45" fill="#000080"/>
<circle cx="308" cy="498" r="5.45" fill="#000080"/>
<circle cx="314" cy="496" r="5.45" fill="#000080"/>
<circle cx="320" cy="497" r="5.45" fill="#000080"/>
<circle cx="326" cy="498" r="5.45" fill="#000080"/>
<circle cx="331" cy="495" r="5.45" fill="#000080"/>
<circle cx="337" cy="493" r="5.45" fill="#000080"/>
<circle cx="302.5" cy="511" r="5.45" fill="#000080"/>
<circle cx="327" cy="511" r="5.45" fill="#000080"/>
<circle cx="344" cy="506" r="5.45" fill="#000080"/>
<circle cx="339" cy="512" r="5.45" fill="#000080"/>
<circle cx="355.8" cy="488.2" r="5.45" fill="#000080"/>
<circle cx="359" cy="491.5" r="5.45" fill="#000080"/>
<circle cx="356" cy="487.3" r="5.45" fill="#000080"/>
<circle cx="363.7" cy="490.7" r="5.45" fill="#000080"/>
<circle cx="378" cy="495" r="5.45" fill="#000080"/>
<circle cx="383" cy="496.6" r="5.45" fill="#000080"/>
<circle cx="388.2" cy="489" r="5.45" fill="#000080"/>
<circle cx="390.7" cy="491.5" r="5.45" fill="#000080"/>
<circle cx="398.3" cy="491.5" r="5.45" fill="#000080"/>
<circle cx="402.5" cy="494" r="5.45" fill="#000080"/>
<circle cx="409.3" cy="496.6" r="5.45" fill="#000080"/>
<circle cx="414.4" cy="484.8" r="5.45" fill="#000080"/>
<circle cx="419.4" cy="484" r="5.45" fill="#000080"/>
<circle cx="424.5" cy="488.2" r="5.45" fill="#000080"/>
<circle cx="430.4" cy="481.4" r="5.45" fill="#000080"/>
<circle cx="439.7" cy="489" r="5.45" fill="#000080"/>
<circle cx="444.8" cy="484" r="5.45" fill="#000080"/>
<circle cx="448.2" cy="485.6" r="5.45" fill="#000080"/>
<circle cx="451.5" cy="497.5" r="5.45" fill="#000080"/>
<circle cx="461.7" cy="414.6" r="5.45" fill="#000080"/>
<circle cx="466.8" cy="454" r="5.45" fill="#000080"/>
<circle cx="516.1" cy="454.9" r="5.45" fill="#000080"/>
<circle cx="516.1" cy="470.1" r="5.45" fill="#000080"/>
<circle cx="469.5" cy="471.4" r="5.45" fill="#000080"/>
<circle cx="470.5" cy="479.4" r="5.45" fill="#000080"/>
<circle cx="479.4" cy="483.9" r="5.45" fill="#000080"/>
<circle cx="488.7" cy="479.7" r="5.45" fill="#000080"/>
<circle cx="491.3" cy="467.9" r="5.45" fill="#000080"/>
<circle cx="492.1" cy="473.8" r="5.45" fill="#000080"/>
<circle cx="486.2" cy="492.4" r="5.45" fill="#000080"/>
<circle cx="495.5" cy="489" r="5.45" fill="#000080"/>
<circle cx="506.5" cy="489.9" r="5.45" fill="#000080"/>
<circle cx="509.9" cy="496.6" r="5.45" fill="#000080"/>
<circle cx="527.6" cy="496.6" r="5.45" fill="#000080"/>
<circle cx="532.7" cy="505.9" r="5.45" fill="#000080"/>
<circle cx="518.3" cy="510.1" r="5.45" fill="#000080"/>
<circle cx="490.4" cy="508.4" r="5.45" fill="#000080"/>
<circle cx="482" cy="508.4" r="5.45" fill="#000080"/>
<circle cx="475.2" cy="514.4" r="5.45" fill="#000080"/>
<circle cx="461.7" cy="500.8" r="5.45" fill="#000080"/>
<circle cx="465.9" cy="500.8" r="5.45" fill="#000080"/>
<circle cx="539.4" cy="522.8" r="5.45" fill="#000080"/>
<circle cx="559.7" cy="524.5" r="5.45" fill="#000080"/>
<circle cx="576.6" cy="517.7" r="5.45" fill="#000080"/>
<circle cx="588.4" cy="512.7" r="5.45" fill="#000080"/>
<circle cx="598.6" cy="507.6" r="5.45" fill="#000080"/>
<circle cx="589.3" cy="520.3" r="5.45" fill="#000080"/>
<circle cx="613.8" cy="522.8" r="5.45" fill="#000080"/>
<circle cx="625.6" cy="523.7" r="5.45" fill="#000080"/>
<circle cx="525.9" cy="528.7" r="5.45" fill="#000080"/>
<circle cx="650.2" cy="497.5" r="5.45" fill="#000080"/>
<circle cx="689.1" cy="501.5" r="5.45" fill="#000080"/>
<circle cx="701.7" cy="499.1" r="5.45" fill="#000080"/>
<circle cx="761.7" cy="491.7" r="5.45" fill="#000080"/>
<circle cx="850" cy="480.9" r="5.45" fill="#000080"/>
<circle cx="796.4" cy="519.6" r="5.45" fill="#000080"/>
<circle cx="801.9" cy="524.3" r="5.45" fill="#000080"/>
<circle cx="712.8" cy="509.3" r="5.45" fill="#000080"/>
<circle cx="724.6" cy="514.1" r="5.45" fill="#000080"/>
<circle cx="764" cy="513.3" r="5.45" fill="#000080"/>
<circle cx="773.5" cy="514.9" r="5.45" fill="#000080"/>
<circle cx="86" cy="506" r="5.45" fill="#000080"/>
<circle cx="92" cy="503" r="5.45" fill="#000080"/>
<circle cx="98" cy="505" r="5.45" fill="#000080"/>
<circle cx="104" cy="508" r="5.45" fill="#000080"/>
<circle cx="110" cy="512" r="5.45" fill="#000080"/>
<circle cx="95" cy="512" r="5.45" fill="#000080"/>
<circle cx="83" cy="516" r="5.45" fill="#000080"/>
<circle cx="100" cy="520" r="5.45" fill="#000080"/>
<circle cx="120" cy="518" r="5.45" fill="#000080"/>
<circle cx="128" cy="521" r="5.45" fill="#000080"/>
<circle cx="150" cy="520" r="5.45" fill="#000080"/>
<circle cx="160" cy="516" r="5.45" fill="#000080"/>
<circle cx="172" cy="522" r="5.45" fill="#000080"/>
<circle cx="182" cy="519" r="5.45" fill="#000080"/>
<circle cx="195" cy="521" r="5.45" fill="#000080"/>
<circle cx="204" cy="517" r="5.45" fill="#000080"/>
<circle cx="214" cy="523" r="5.45" fill="#000080"/>
<circle cx="462.6" cy="331.7" r="5.45" fill="#000080"/>
<circle cx="474.6" cy="332.7" r="5.45" fill="#000080"/>
<circle cx="474.1" cy="335.3" r="5.45" fill="#000080"/>
<circle cx="464.7" cy="338.9" r="5.45" fill="#000080"/>
<circle cx="474.6" cy="365.4" r="5.45" fill="#000080"/>
<circle cx="468" cy="498" r="5.45" fill="#000080"/>
<circle cx="472" cy="505" r="5.45" fill="#000080"/>
<circle cx="480" cy="500" r="5.45" fill="#000080"/>
<circle cx="500" cy="502" r="5.45" fill="#000080"/>
<circle cx="505" cy="510" r="5.45" fill="#000080"/>
<circle cx="470" cy="515" r="5.45" fill="#000080"/>
<circle cx="497" cy="516" r="5.45" fill="#000080"/>
<circle cx="510" cy="520" r="5.45" fill="#000080"/>
<circle cx="471.8" cy="295.5" r="5.45" fill="#a8a8a8"/>
<circle cx="339.2" cy="475.1" r="5.45" fill="#a8a8a8"/>
<circle cx="648.1" cy="518.8" r="5.45" fill="#a8a8a8"/>
<circle cx="786.1" cy="523.8" r="5.45" fill="#a8a8a8"/>
<circle cx="839.4" cy="481.7" r="5.45" fill="#a8a8a8"/>
<circle cx="75" cy="528" r="5.45" fill="#a8a8a8"/>
<circle cx="84" cy="530" r="5.45" fill="#a8a8a8"/>
<circle cx="130" cy="532" r="5.45" fill="#a8a8a8"/>
<circle cx="225" cy="530" r="5.45" fill="#a8a8a8"/>
<circle cx="473.9" cy="427.7" r="5.45" fill="#87cefa"/>
<circle cx="466.8" cy="433.7" r="5.45" fill="#87cefa"/>
</g>
<path d="M468.1 138.4l6.9 6.9l-6.9 6.9l-6.9 -6.9z" fill="#8a2be2" stroke="#333" stroke-width="1"/>
</g>
<text x="468.1" y="133.6" font-size="16" text-anchor="middle" fill="#111">rs820360</text>
<g transform="translate(78.3,89.5)">
<rect x="0" y="0" width="66.5" height="159" fill="#fff" stroke="#555" stroke-width="1.2"/>
<rect x="9.4" y="27.8" width="15.7" height="24.6" fill="#ff0000" stroke="#444" stroke-width="0.8"/>
<rect x="9.4" y="52.4" width="15.7" height="24.6" fill="#ffa500" stroke="#444" stroke-width="0.8"/>
<rect x="9.4" y="77" width="15.7" height="24.6" fill="#00ff00" stroke="#444" stroke-width="0.8"/>
<rect x="9.4" y="101.6" width="15.7" height="24.6" fill="#87cefa" stroke="#444" stroke-width="0.8"/>
<rect x="9.4" y="126.2" width="15.7" height="24.6" fill="#000080" stroke="#444" stroke-width="0.8"/>
<line x1="25.1" y1="52.4" x2="33.5" y2="52.4" stroke="#444" stroke-width="1.2"/>
<text x="38.2" y="57.2" font-size="13.5" fill="#444">0.8</text>
<line x1="25.1" y1="77" x2="33.5" y2="77" stroke="#444" stroke-width="1.2"/>
<text x="38.2" y="81.8" font-size="13.5" fill="#444">0.6</text>
<line x1="25.1" y1="101.6" x2="33.5" y2="101.6" stroke="#444" stroke-width="1.2"/>
<text x="38.2" y="106.4" font-size="13.5" fill="#444">0.4</text>
<line x1="25.1" y1="126.2" x2="33.5" y2="126.2" stroke="#444" stroke-width="1.2"/>
<text x="38.2" y="131" font-size="13.5" fill="#444">0.2</text>
<text x="28.2" y="22.3" font-size="15" fill="#444">r<tspan font-size="10.5" dy="-7">2</tspan></text>
</g>
<rect x="70.5" y="599.1" width="795.7" height="62.7" fill="none" stroke="#888888" stroke-width="1.2"/>
<line x1="77.5" y1="621.5" x2="242.9" y2="621.5" stroke="#00008b" stroke-width="1.2"/>
<rect x="76.4" y="618.2" width="5.4" height="6.6" rx="0.9" fill="#00008b"/>
<rect x="82.3" y="618.2" width="2.2" height="6.6" rx="0.9" fill="#00008b"/>
<rect x="83.9" y="618.2" width="4.3" height="6.6" rx="0.9" fill="#00008b"/>
<rect x="90.8" y="618.2" width="2.2" height="6.6" rx="0.9" fill="#00008b"/>
<rect x="94.6" y="618.2" width="2.2" height="6.6" rx="0.9" fill="#00008b"/>
<rect x="96.9" y="618.2" width="4.4" height="6.6" rx="0.9" fill="#00008b"/>
<rect x="108.5" y="618.2" width="2.2" height="6.6" rx="0.9" fill="#00008b"/>
<rect x="111.7" y="618.2" width="6.5" height="6.6" rx="0.9" fill="#00008b"/>
<rect x="119.7" y="618.2" width="2.2" height="6.6" rx="0.9" fill="#00008b"/>
<rect x="121.4" y="618.2" width="2.2" height="6.6" rx="0.9" fill="#00008b"/>
<rect x="122.9" y="618.2" width="2.2" height="6.6" rx="0.9" fill="#00008b"/>
<rect x="125.1" y="618.2" width="4.3" height="6.6" rx="0.9" fill="#00008b"/>
<rect x="142.2" y="618.2" width="2.2" height="6.6" rx="0.9" fill="#00008b"/>
<rect x="147" y="618.2" width="2.2" height="6.6" rx="0.9" fill="#00008b"/>
<rect x="210.2" y="618.2" width="2.2" height="6.6" rx="0.9" fill="#00008b"/>
<rect x="241.8" y="618.2" width="2.2" height="6.6" rx="0.9" fill="#00008b"/>
<text x="128.1" y="614.6" font-size="13.6" font-style="italic" fill="#000"><tspan font-family="DejaVu Sans, sans-serif" font-style="normal" font-size="11" dy="-1.8">⟵</tspan><tspan dx="1.4" dy="1.8">ADCY5</tspan></text>
<line x1="289.5" y1="621.5" x2="379.2" y2="621.5" stroke="#00008b" stroke-width="1.2"/>
<rect x="288.4" y="618.2" width="2.2" height="6.6" rx="0.9" fill="#00008b"/>
<rect x="294.2" y="618.2" width="2.2" height="6.6" rx="0.9" fill="#00008b"/>
<rect x="296" y="618.2" width="2.2" height="6.6" rx="0.9" fill="#00008b"/>
<rect x="322" y="618.2" width="2.2" height="6.6" rx="0.9" fill="#00008b"/>
<rect x="361" y="618.2" width="2.2" height="6.6" rx="0.9" fill="#00008b"/>
<rect x="375.8" y="618.2" width="2.2" height="6.6" rx="0.9" fill="#00008b"/>
<rect x="378.1" y="618.2" width="2.2" height="6.6" rx="0.9" fill="#00008b"/>
<text x="302.5" y="614.6" font-size="13.6" font-style="italic" fill="#000"><tspan font-family="DejaVu Sans, sans-serif" font-style="normal" font-size="11" dy="-1.8">⟵</tspan><tspan dx="1.4" dy="1.8">PTPLB</tspan></text>
<line x1="405.8" y1="621.5" x2="677.2" y2="621.5" stroke="#00008b" stroke-width="1.2"/>
<rect x="404.7" y="618.2" width="5.3" height="6.6" rx="0.9" fill="#00008b"/>
<rect x="411.4" y="618.2" width="5" height="6.6" rx="0.9" fill="#00008b"/>
<rect x="420" y="618.2" width="2.2" height="6.6" rx="0.9" fill="#00008b"/>
<rect x="422.3" y="618.2" width="2.2" height="6.6" rx="0.9" fill="#00008b"/>
<rect x="430.8" y="618.2" width="4.5" height="6.6" rx="0.9" fill="#00008b"/>
<rect x="440.3" y="618.2" width="2.2" height="6.6" rx="0.9" fill="#00008b"/>
<rect x="449.6" y="618.2" width="2.2" height="6.6" rx="0.9" fill="#00008b"/>
<rect x="456.4" y="618.2" width="2.2" height="6.6" rx="0.9" fill="#00008b"/>
<rect x="458.9" y="618.2" width="2.2" height="6.6" rx="0.9" fill="#00008b"/>
<rect x="475" y="618.2" width="2.2" height="6.6" rx="0.9" fill="#00008b"/>
<rect x="485.6" y="618.2" width="2.2" height="6.6" rx="0.9" fill="#00008b"/>
<rect x="492.7" y="618.2" width="3.8" height="6.6" rx="0.9" fill="#00008b"/>
<rect x="500.3" y="618.2" width="3.8" height="6.6" rx="0.9" fill="#00008b"/>
<rect x="514.7" y="618.2" width="2.2" height="6.6" rx="0.9" fill="#00008b"/>
<rect x="518.9" y="618.2" width="2.2" height="6.6" rx="0.9" fill="#00008b"/>
<rect x="527.3" y="618.2" width="7.3" height="6.6" rx="0.9" fill="#00008b"/>
<rect x="544.6" y="618.2" width="2.2" height="6.6" rx="0.9" fill="#00008b"/>
<rect x="585.7" y="618.2" width="2.2" height="6.6" rx="0.9" fill="#00008b"/>
<rect x="623.7" y="618.2" width="2.2" height="6.6" rx="0.9" fill="#00008b"/>
<rect x="668.5" y="618.2" width="2.2" height="6.6" rx="0.9" fill="#00008b"/>
<rect x="676.1" y="618.2" width="2.2" height="6.6" rx="0.9" fill="#00008b"/>
<text x="513.6" y="614.6" font-size="13.6" font-style="italic" fill="#000"><tspan font-family="DejaVu Sans, sans-serif" font-style="normal" font-size="11" dy="-1.8">⟵</tspan><tspan dx="1.4" dy="1.8">MYLK</tspan></text>
<line x1="705.9" y1="621.5" x2="753.9" y2="621.5" stroke="#00008b" stroke-width="1.2"/>
<rect x="704.8" y="618.2" width="5.2" height="6.6" rx="0.9" fill="#00008b"/>
<rect x="722.7" y="618.2" width="2.2" height="6.6" rx="0.9" fill="#00008b"/>
<rect x="724.4" y="618.2" width="3.5" height="6.6" rx="0.9" fill="#00008b"/>
<rect x="736.2" y="618.2" width="7" height="6.6" rx="0.9" fill="#00008b"/>
<rect x="747.7" y="618.2" width="2.2" height="6.6" rx="0.9" fill="#00008b"/>
<rect x="752.8" y="618.2" width="2.2" height="6.6" rx="0.9" fill="#00008b"/>
<text x="692.8" y="614.6" font-size="13.6" font-style="italic" fill="#000"><tspan font-family="DejaVu Sans, sans-serif" font-style="normal" font-size="11" dy="-1.8">⟵</tspan><tspan dx="1.4" dy="1.8">CCDC14</tspan></text>
<line x1="379.9" y1="653.4" x2="424.3" y2="653.4" stroke="#00008b" stroke-width="1.2"/>
<rect x="378.8" y="650.1" width="2.2" height="6.6" rx="0.9" fill="#00008b"/>
<rect x="423.2" y="650.1" width="2.2" height="6.6" rx="0.9" fill="#00008b"/>
<text x="359.8" y="646.5" font-size="13.6" font-style="italic" fill="#000">MYLK−AS1<tspan dx="1.2"><tspan font-family="DejaVu Sans, sans-serif" font-style="normal" font-size="11" dy="-1.8">⟶</tspan></tspan></text>
<line x1="762" y1="653.4" x2="784" y2="653.4" stroke="#00008b" stroke-width="1.2"/>
<rect x="760.9" y="650.1" width="2.2" height="6.6" rx="0.9" fill="#00008b"/>
<rect x="766.3" y="650.1" width="4.6" height="6.6" rx="0.9" fill="#00008b"/>
<rect x="772.4" y="650.1" width="2.2" height="6.6" rx="0.9" fill="#00008b"/>
<rect x="782.9" y="650.1" width="2.2" height="6.6" rx="0.9" fill="#00008b"/>
<text x="739.5" y="646.5" font-size="13.6" font-style="italic" fill="#000"><tspan font-family="DejaVu Sans, sans-serif" font-style="normal" font-size="11" dy="-1.8">⟵</tspan><tspan dx="1.4" dy="1.8">ROPN1</tspan></text>
<line x1="76.8" y1="661.8" x2="76.8" y2="672.4" stroke="#555555" stroke-width="1.2"/>
<text x="76.8" y="699.2" font-size="16.2" text-anchor="middle" fill="#4a4a4a">123</text>
<line x1="275.8" y1="661.8" x2="275.8" y2="672.4" stroke="#555555" stroke-width="1.2"/>
<text x="275.8" y="699.2" font-size="16.2" text-anchor="middle" fill="#4a4a4a">123.2</text>
<line x1="474.8" y1="661.8" x2="474.8" y2="672.4" stroke="#555555" stroke-width="1.2"/>
<text x="474.8" y="699.2" font-size="16.2" text-anchor="middle" fill="#4a4a4a">123.4</text>
<line x1="673.8" y1="661.8" x2="673.8" y2="672.4" stroke="#555555" stroke-width="1.2"/>
<text x="673.8" y="699.2" font-size="16.2" text-anchor="middle" fill="#4a4a4a">123.6</text>
<text x="468.3" y="721.5" font-size="16.7" text-anchor="middle" fill="#4a4a4a">Position on chr3 (Mb)</text>
<line x1="955.7" y1="213.3" x2="1390.2" y2="213.3" stroke="#ffa31a" stroke-width="1.5"/>
<line x1="955.7" y1="213.3" x2="1317.2" y2="244.1" stroke="#ffa21c" stroke-width="1.5"/>
<line x1="1390.2" y1="213.3" x2="1172.8" y2="233" stroke="#ff8a10" stroke-width="1.5"/>
<line x1="955.7" y1="213.3" x2="1272.9" y2="224.1" stroke="#ff2a1a" stroke-width="1.5"/>
<line x1="955.7" y1="213.3" x2="1204.5" y2="251.1" stroke="#ff4a2a" stroke-width="1.5"/>
<line x1="955.7" y1="213.3" x2="1231.5" y2="249" stroke="#ff1a10" stroke-width="1.8"/>
<line x1="955.7" y1="213.3" x2="1231.5" y2="249" stroke="#ff2a10" stroke-width="1.5"/>
<line x1="955.7" y1="213.3" x2="1274.8" y2="256.3" stroke="#ff2020" stroke-width="1.5"/>
<line x1="955.7" y1="213.3" x2="1232.9" y2="380.4" stroke="#ff7410" stroke-width="1.6"/>
<path d="M1057.4 160.3h0M1096 165.4h0M1249.9 165.4h0M1288.3 160.3h0M1024.1 190.8h0M1057.9 187.6h0M1093.3 190h0M1252.6 190h0M1288 187.6h0M1321.8 190.8h0M1048.7 229.8h0M1096.3 230.6h0M1249.6 230.6h0M1296.9 229.8h0M1073.9 238.4h0M1272.1 238.4h0M953.8 248.7h0M1392.1 248.7h0M1048.4 252.2h0M1093.9 253.6h0M1252.3 253.6h0M1297.2 252.2h0M1172.8 275.5h0M953.3 282.8h0M1392.4 282.8h0M954.6 316.6h0M1172.8 317.9h0M1391.3 316.6h0M1126.6 340.1h0M1219.3 340.1h0M957 350.1h0M1388.6 350.1h0M961.1 383.9h0M1384.8 383.9h0M1131.5 392.8h0M1214.5 392.8h0M1151.7 398h0M1194.5 398h0M966.2 418h0M1379.7 418h0M972.7 451.8h0M1372.9 451.8h0M1120.4 469.4h0M1225.6 469.4h0M982.2 484.5h0M1363.7 484.5h0M1103.9 487.5h0M1132.5 483.4h0M1132.5 488.8h0M1213.4 483.4h0M1213.4 488.8h0M1242.1 487.5h0M1114.7 504.5h0M1231.2 504.5h0M994.9 515.6h0M1140.9 515.9h0M1205 515.9h0M1351 515.6h0M1010.8 544.3h0M1335.1 544.3h0M1030.3 570.2h0M1315.3 570.2h0M1053 593.5h0M1292.9 593.5h0M1077.9 614.3h0M1267.7 614.3h0M1106 631.1h0M1239.9 631.1h0M1137.7 642.2h0M1208.3 642.2h0" stroke="#aaaaaa" stroke-width="5.4" stroke-linecap="round" fill="none"/>
<path d="M1019.8 168.1h0M1325.9 168.1h0M1130.6 178.9h0M1215.3 178.9h0M991.9 197.6h0M1128.5 198.4h0M1217.4 198.4h0M1354 197.6h0M955.7 213.3h0M1390.2 213.3h0M1072.8 224.1h0M1272.9 224.1h0M1172.8 233h0M1028.7 244.1h0M1317.2 244.1h0M1071.2 256.3h0M1114.1 249h0M1141.5 251.1h0M1204.5 251.1h0M1231.5 249h0M1274.8 256.3h0M1172.8 360.4h0M1113.1 380.4h0M1232.9 380.4h0M1172.8 405.5h0M1152.5 456.9h0M1193.1 456.9h0M1172.8 462.1h0M1091.4 487.5h0M1172.8 483.7h0M1172.8 489.9h0M1254.2 487.5h0M1172.8 520.2h0M1172.8 645.7h0" stroke="#000" stroke-width="6" stroke-linecap="round" fill="none"/>
<text transform="translate(1232,263.9) rotate(8)" font-size="14" font-weight="bold" letter-spacing="0.45" fill="#ff2020">D213</text>
<line x1="1509.4" y1="214.2" x2="1932.7" y2="214.2" stroke="#7b5cff" stroke-width="1.4"/>
<line x1="1509.4" y1="214.2" x2="1861.5" y2="245" stroke="#7b5cff" stroke-width="1.4"/>
<line x1="1932.7" y1="214.2" x2="1720.9" y2="233.9" stroke="#7b5cff" stroke-width="1.4"/>
<line x1="1509.4" y1="214.2" x2="1818.4" y2="225" stroke="#7b5cff" stroke-width="1.4"/>
<line x1="1509.4" y1="214.2" x2="1751.7" y2="252" stroke="#7b5cff" stroke-width="1.4"/>
<line x1="1509.4" y1="214.2" x2="1778.1" y2="249.9" stroke="#7b5cff" stroke-width="1.4"/>
<line x1="1509.4" y1="214.2" x2="1778.1" y2="249.9" stroke="#7b5cff" stroke-width="1.4"/>
<line x1="1509.4" y1="214.2" x2="1820.2" y2="257.2" stroke="#7b5cff" stroke-width="1.4"/>
<line x1="1509.4" y1="214.2" x2="1779.4" y2="381.3" stroke="#7b5cff" stroke-width="1.4"/>
<path d="M1608.4 161.2h0M1646.1 166.3h0M1796 166.3h0M1833.4 161.2h0M1576 191.7h0M1609 188.5h0M1643.5 190.9h0M1798.6 190.9h0M1833.1 188.5h0M1866 191.7h0M1600 230.7h0M1646.4 231.5h0M1795.7 231.5h0M1841.8 230.7h0M1624.5 239.3h0M1817.6 239.3h0M1507.6 249.6h0M1934.5 249.6h0M1599.7 253.1h0M1644 254.5h0M1798.3 254.5h0M1842.1 253.1h0M1720.9 276.4h0M1507 283.7h0M1934.8 283.7h0M1508.3 317.5h0M1720.9 318.8h0M1933.7 317.5h0M1675.9 341h0M1766.2 341h0M1510.7 351h0M1931.1 351h0M1514.7 384.8h0M1927.4 384.8h0M1680.6 393.7h0M1761.5 393.7h0M1700.4 398.9h0M1742 398.9h0M1519.7 418.9h0M1922.4 418.9h0M1526 452.7h0M1915.8 452.7h0M1669.8 470.3h0M1772.3 470.3h0M1535.2 485.4h0M1906.9 485.4h0M1653.7 488.4h0M1681.7 484.3h0M1681.7 489.7h0M1760.4 484.3h0M1760.4 489.7h0M1788.3 488.4h0M1664.3 505.4h0M1777.8 505.4h0M1547.6 516.5h0M1689.8 516.8h0M1752.2 516.8h0M1894.5 516.5h0M1563.1 545.2h0M1878.9 545.2h0M1582.1 571.1h0M1859.7 571.1h0M1604.2 594.4h0M1837.8 594.4h0M1628.5 615.2h0M1813.3 615.2h0M1655.8 632h0M1786.2 632h0M1686.7 643.1h0M1755.4 643.1h0" stroke="#aaaaaa" stroke-width="5.4" stroke-linecap="round" fill="none"/>
<path d="M1571.8 169h0M1870 169h0M1679.8 179.8h0M1762.3 179.8h0M1544.7 198.5h0M1677.7 199.3h0M1764.4 199.3h0M1897.4 198.5h0M1509.4 214.2h0M1932.7 214.2h0M1623.4 225h0M1818.4 225h0M1720.9 233.9h0M1580.5 245h0M1861.5 245h0M1621.9 257.2h0M1663.7 249.9h0M1690.3 252h0M1751.7 252h0M1778.1 249.9h0M1820.2 257.2h0M1720.9 361.3h0M1662.7 381.3h0M1779.4 381.3h0M1720.9 406.4h0M1701.1 457.8h0M1740.7 457.8h0M1720.9 463h0M1641.6 488.4h0M1720.9 484.6h0M1720.9 490.8h0M1800.2 488.4h0M1720.9 521.1h0M1720.9 646.6h0" stroke="#000" stroke-width="6" stroke-linecap="round" fill="none"/>
<text transform="translate(1778.6,264.8) rotate(8)" font-size="14" font-weight="bold" letter-spacing="0.45" fill="#7b5cff">D213</text>
<rect x="1422.2" y="304.5" width="31.7" height="161.5" fill="url(#gp)"/>
<path d="M1422.2 313.2h5.7M1448.2 313.2h5.7" stroke="#fff" stroke-width="1.1"/>
<text x="1464" y="319.1" font-size="16.3" fill="#111">9.2</text>
<path d="M1422.2 356h5.7M1448.2 356h5.7" stroke="#fff" stroke-width="1.1"/>
<text x="1464" y="361.9" font-size="16.3" fill="#111">8.8</text>
<path d="M1422.2 398.6h5.7M1448.2 398.6h5.7" stroke="#fff" stroke-width="1.1"/>
<text x="1464" y="404.5" font-size="16.3" fill="#111">8.4</text>
<path d="M1422.2 441h5.7M1448.2 441h5.7" stroke="#fff" stroke-width="1.1"/>
<text x="1464" y="446.9" font-size="16.3" fill="#111">8.0</text>
<text x="1421.5" y="291.5" font-size="20" fill="#000">−log(P)</text>
<rect x="1963.4" y="304.6" width="31.8" height="161.5" fill="url(#gb)"/>
<path d="M1963.4 331.4h5.7M1989.5 331.4h5.7" stroke="#fff" stroke-width="1.1"/>
<text x="2005.4" y="337.3" font-size="16.3" fill="#111">0.10</text>
<path d="M1963.4 358.2h5.7M1989.5 358.2h5.7" stroke="#fff" stroke-width="1.1"/>
<text x="2005.4" y="364.1" font-size="16.3" fill="#111">0.05</text>
<path d="M1963.4 385.3h5.7M1989.5 385.3h5.7" stroke="#fff" stroke-width="1.1"/>
<text x="2005.4" y="391.2" font-size="16.3" fill="#111">0.00</text>
<path d="M1963.4 412.4h5.7M1989.5 412.4h5.7" stroke="#fff" stroke-width="1.1"/>
<text x="2005.4" y="418.3" font-size="16.3" fill="#111">−0.05</text>
<path d="M1963.4 439.2h5.7M1989.5 439.2h5.7" stroke="#fff" stroke-width="1.1"/>
<text x="2005.4" y="445.1" font-size="16.3" fill="#111">−0.10</text>
<text x="1963.2" y="291.3" font-size="20" fill="#000">beta/sd</text>
<text y="871.2" font-size="48" font-weight="bold" fill="#000"><tspan x="24.5">b</tspan><tspan x="58.5">)</tspan></text>
<text transform="translate(485.5,872.6) scale(0.962,1.065)" font-size="41.5" text-anchor="middle" fill="#000">8p11.21</text>
<rect x="70.5" y="914.9" width="795.7" height="497" fill="none" stroke="#888888" stroke-width="1.2"/>
<line x1="70.5" y1="1389.4" x2="70.5" y2="937.4" stroke="#555555" stroke-width="1.3"/>
<line x1="60" y1="1389.4" x2="70.5" y2="1389.4" stroke="#555555" stroke-width="1.3"/>
<text x="50" y="1395.2" font-size="16.2" text-anchor="end" fill="#4a4a4a">0</text>
<line x1="60" y1="1299" x2="70.5" y2="1299" stroke="#555555" stroke-width="1.3"/>
<text x="50" y="1304.8" font-size="16.2" text-anchor="end" fill="#4a4a4a">2</text>
<line x1="60" y1="1208.6" x2="70.5" y2="1208.6" stroke="#555555" stroke-width="1.3"/>
<text x="50" y="1214.4" font-size="16.2" text-anchor="end" fill="#4a4a4a">4</text>
<line x1="60" y1="1118.2" x2="70.5" y2="1118.2" stroke="#555555" stroke-width="1.3"/>
<text x="50" y="1124" font-size="16.2" text-anchor="end" fill="#4a4a4a">6</text>
<line x1="60" y1="1027.8" x2="70.5" y2="1027.8" stroke="#555555" stroke-width="1.3"/>
<text x="50" y="1033.6" font-size="16.2" text-anchor="end" fill="#4a4a4a">8</text>
<line x1="60" y1="937.4" x2="70.5" y2="937.4" stroke="#555555" stroke-width="1.3"/>
<text x="50" y="943.2" font-size="16.2" text-anchor="end" fill="#4a4a4a">10</text>
<line x1="866.2" y1="1388.8" x2="866.2" y2="936.9" stroke="#4b4bdd" stroke-width="1.0"/>
<line x1="866.2" y1="1388.8" x2="876.3" y2="1388.8" stroke="#3a3aff" stroke-width="1.3"/>
<text x="887" y="1394.6" font-size="16.2" fill="#3a3aff">0</text>
<line x1="866.2" y1="1298.4" x2="876.3" y2="1298.4" stroke="#3a3aff" stroke-width="1.3"/>
<text x="887" y="1304.2" font-size="16.2" fill="#3a3aff">20</text>
<line x1="866.2" y1="1208" x2="876.3" y2="1208" stroke="#3a3aff" stroke-width="1.3"/>
<text x="887" y="1213.8" font-size="16.2" fill="#3a3aff">40</text>
<line x1="866.2" y1="1117.7" x2="876.3" y2="1117.7" stroke="#3a3aff" stroke-width="1.3"/>
<text x="887" y="1123.5" font-size="16.2" fill="#3a3aff">60</text>
<line x1="866.2" y1="1027.3" x2="876.3" y2="1027.3" stroke="#3a3aff" stroke-width="1.3"/>
<text x="887" y="1033.1" font-size="16.2" fill="#3a3aff">80</text>
<line x1="866.2" y1="936.9" x2="876.3" y2="936.9" stroke="#3a3aff" stroke-width="1.3"/>
<text x="887" y="942.7" font-size="16.2" fill="#3a3aff">100</text>
<text transform="translate(919.6,1163.4) rotate(90)" font-size="16.75" text-anchor="middle" fill="#3a3aff">Recombination rate (cM/Mb)</text>
<text transform="translate(15.4,1222.1) rotate(-90)" font-size="16.7" fill="#4a4a4a">−<tspan dx="1">log</tspan><tspan font-size="11.5" dy="4">10</tspan><tspan dy="-4">(p−value)</tspan></text>
<path d="M70.5 1388 L310 1387 L311 1360 L313 1386 L340 1387 L342 1368 L344 1386 L514 1386 L515.5 1305 L517 1386 L555 1386 L556 1325 L561 1325 L562 1386 L598 1386 L599.5 1303 L601 1386 L784 1386 L785 1233 L786.5 1233 L787.5 1386 L866 1386" fill="none" stroke="#2b2bff" stroke-width="1.8" clip-path="url(#clipb)"/>
<g clip-path="url(#clipb)">
<g fill="none" stroke-linecap="round">
<use href="#pb0" stroke="#424242" stroke-width="12"/>
<use href="#pb0" stroke="#000080" stroke-width="8.9"/>
<use href="#pb1" stroke="#424242" stroke-width="12"/>
<use href="#pb1" stroke="#000080" stroke-width="8.9"/>
<use href="#pb2" stroke="#424242" stroke-width="12"/>
<path d="M759 1387h0M623 1337h0M806 1358h0M590 1347h0M845 1381h0M71 1381h0M682 1376h0M815 1386h0M734 1378h0M572 1368h0M709 1332h0M655 1327h0M314 1381h0M574 1384h0M608 1386h0M148 1386h0M706 1380h0M585 1384h0M111 1389h0M678 1372h0M675 1378h0M639 1336h0M121 1385h0" stroke="#000080" stroke-width="8.9"/>
<path d="M828 1386h0" stroke="#a8a8a8" stroke-width="8.9"/>
<use href="#pb3" stroke="#424242" stroke-width="12"/>
<use href="#pb3" stroke="#000080" stroke-width="8.9"/>
<use href="#pb4" stroke="#424242" stroke-width="12"/>
<use href="#pb4" stroke="#000080" stroke-width="8.9"/>
<use href="#pb5" stroke="#424242" stroke-width="12"/>
<path d="M195 1379h0M210 1348h0M730 1365h0M205 1384h0M695 1327h0M799 1369h0M830 1378h0M715 1352h0M713 1388h0M737 1363h0M845 1383h0M595 1373h0M721 1362h0M244 1385h0M707 1355h0M615 1349h0M727 1356h0M700 1358h0M697 1347h0M650 1390h0M740 1371h0M711 1356h0M637 1332h0" stroke="#000080" stroke-width="8.9"/>
<path d="M516 1385h0" stroke="#a8a8a8" stroke-width="8.9"/>
<use href="#pb6" stroke="#424242" stroke-width="12"/>
<use href="#pb6" stroke="#000080" stroke-width="8.9"/>
<use href="#pb7" stroke="#424242" stroke-width="12"/>
<use href="#pb7" stroke="#000080" stroke-width="8.9"/>
<use href="#pb8" stroke="#424242" stroke-width="12"/>
<use href="#pb8" stroke="#000080" stroke-width="8.9"/>
<use href="#pb9" stroke="#424242" stroke-width="12"/>
<path d="M660 1382h0M193 1377h0M625 1383h0M621 1389h0M208 1365h0M629 1383h0M549 1377h0M574 1339h0M276 1380h0M616 1366h0M745 1338h0M136 1356h0M671 1352h0M198 1357h0M652 1344h0M630 1364h0M665 1362h0M868 1362h0M171 1383h0M575 1389h0M393 1370h0M855 1384h0M677 1339h0" stroke="#000080" stroke-width="8.9"/>
<path d="M829 1388h0" stroke="#a8a8a8" stroke-width="8.9"/>
<use href="#pb10" stroke="#424242" stroke-width="12"/>
<path d="M597 1368h0M138 1390h0M733 1350h0M226 1376h0M636 1367h0M613 1324h0M617 1348h0M240 1369h0M607 1383h0M740 1364h0M729 1369h0M87 1370h0M224 1384h0M111 1384h0M721 1347h0M467 1364h0M294 1382h0M792 1364h0M118 1376h0M594 1369h0M161 1347h0M590 1377h0M835 1385h0" stroke="#000080" stroke-width="8.9"/>
<path d="M213 1375h0" stroke="#a8a8a8" stroke-width="8.9"/>
<use href="#pb11" stroke="#424242" stroke-width="12"/>
<path d="M651 1346h0M853 1387h0M765 1367h0M774 1370h0M463 1343h0M200 1352h0M126 1384h0M549 1388h0M868 1375h0M769 1361h0M435 1322h0M687 1371h0M665 1379h0M149 1369h0M286 1383h0M641 1387h0M289 1370h0M791 1379h0M124 1377h0M689 1365h0M79 1384h0M587 1390h0M777 1388h0" stroke="#000080" stroke-width="8.9"/>
<path d="M235 1373h0" stroke="#a8a8a8" stroke-width="8.9"/>
<use href="#pb12" stroke="#424242" stroke-width="12"/>
<use href="#pb12" stroke="#000080" stroke-width="8.9"/>
<use href="#pb13" stroke="#424242" stroke-width="12"/>
<use href="#pb13" stroke="#000080" stroke-width="8.9"/>
<use href="#pb14" stroke="#424242" stroke-width="12"/>
<use href="#pb14" stroke="#000080" stroke-width="8.9"/>
<use href="#pb15" stroke="#424242" stroke-width="12"/>
<use href="#pb15" stroke="#000080" stroke-width="8.9"/>
<use href="#pb16" stroke="#424242" stroke-width="12"/>
<use href="#pb16" stroke="#000080" stroke-width="8.9"/>
<use href="#pb17" stroke="#424242" stroke-width="12"/>
<path d="M688 1351h0M493 1375h0M199 1350h0M843 1388h0M817 1363h0M422 1352h0M642 1378h0M293 1378h0M127 1365h0M642 1376h0M111 1380h0M804 1390h0M575 1348h0M166 1390h0M229 1371h0M705 1338h0M663 1342h0M644 1389h0M117 1374h0M498 1363h0M249 1381h0M705 1356h0" stroke="#000080" stroke-width="8.9"/>
<path d="M816 1375h0M825 1374h0" stroke="#a8a8a8" stroke-width="8.9"/>
<use href="#pb18" stroke="#424242" stroke-width="12"/>
<use href="#pb18" stroke="#000080" stroke-width="8.9"/>
<use href="#pb19" stroke="#424242" stroke-width="12"/>
<path d="M365 1376h0M153 1384h0M635 1330h0M125 1388h0M560 1388h0M838 1387h0M600 1381h0M841 1376h0M161 1365h0M599 1389h0M709 1340h0M585 1373h0M729 1356h0M518 1372h0M690 1327h0M804 1359h0M610 1344h0M263 1370h0M795 1385h0M354 1369h0M628 1368h0M571 1346h0" stroke="#000080" stroke-width="8.9"/>
<path d="M621 1336h0M829 1373h0" stroke="#a8a8a8" stroke-width="8.9"/>
<use href="#pb20" stroke="#424242" stroke-width="12"/>
<use href="#pb20" stroke="#000080" stroke-width="8.9"/>
<use href="#pb21" stroke="#424242" stroke-width="12"/>
<use href="#pb21" stroke="#000080" stroke-width="8.9"/>
<use href="#pb22" stroke="#424242" stroke-width="12"/>
<use href="#pb22" stroke="#000080" stroke-width="8.9"/>
<use href="#pb23" stroke="#424242" stroke-width="12"/>
<path d="M256 1379h0M68 1378h0M615 1363h0M282 1384h0M229 1349h0M809 1371h0M277 1387h0M516 1390h0M746 1338h0M608 1382h0M672 1382h0M179 1385h0M293 1379h0M758 1371h0M618 1371h0M707 1352h0M261 1373h0M114 1379h0M583 1343h0M665 1361h0M168 1370h0M254 1389h0M701 1384h0" stroke="#000080" stroke-width="8.9"/>
<path d="M342 1382h0" stroke="#a8a8a8" stroke-width="8.9"/>
<use href="#pb24" stroke="#424242" stroke-width="12"/>
<use href="#pb24" stroke="#000080" stroke-width="8.9"/>
<use href="#pb25" stroke="#424242" stroke-width="12"/>
<path d="M154 1378h0M241 1384h0M617 1388h0M709 1380h0M845 1371h0M464 1344h0M122 1377h0M690 1376h0M249 1382h0M700 1342h0M826 1387h0M664 1356h0M638 1351h0M246 1380h0M679 1383h0M597 1365h0M790 1377h0M732 1386h0M764 1383h0M409 1371h0M305 1390h0M719 1355h0" stroke="#000080" stroke-width="8.9"/>
<path d="M778 1365h0M813 1359h0" stroke="#a8a8a8" stroke-width="8.9"/>
<use href="#pb26" stroke="#424242" stroke-width="12"/>
<use href="#pb26" stroke="#000080" stroke-width="8.9"/>
<use href="#pb27" stroke="#424242" stroke-width="12"/>
<use href="#pb27" stroke="#000080" stroke-width="8.9"/>
<use href="#pb28" stroke="#424242" stroke-width="12"/>
<use href="#pb28" stroke="#000080" stroke-width="8.9"/>
<use href="#pb29" stroke="#424242" stroke-width="12"/>
<use href="#pb29" stroke="#000080" stroke-width="8.9"/>
<use href="#pb30" stroke="#424242" stroke-width="12"/>
<path d="M505 1389h0M668 1330h0M805 1360h0M287 1371h0M132 1374h0M629 1384h0M772 1389h0M532 1382h0M208 1352h0M716 1344h0M119 1390h0M136 1366h0M233 1389h0M713 1343h0M545 1382h0M340 1364h0M687 1362h0M556 1389h0M154 1381h0M714 1375h0M641 1383h0M222 1355h0M758 1378h0" stroke="#000080" stroke-width="8.9"/>
<path d="M682 1372h0" stroke="#a8a8a8" stroke-width="8.9"/>
<use href="#pb31" stroke="#424242" stroke-width="12"/>
<use href="#pb31" stroke="#000080" stroke-width="8.9"/>
<use href="#pb32" stroke="#424242" stroke-width="12"/>
<use href="#pb32" stroke="#000080" stroke-width="8.9"/>
<use href="#pb33" stroke="#424242" stroke-width="12"/>
<path d="M671 1384h0M144 1388h0M549 1377h0M701 1374h0M87 1370h0M699 1370h0M593 1388h0M647 1357h0M600 1350h0M570 1371h0M808 1387h0M110 1378h0M730 1347h0M655 1385h0M545 1390h0M127 1346h0M403 1374h0M407 1331h0M846 1364h0M721 1348h0M608 1348h0M121 1379h0M651 1367h0" stroke="#000080" stroke-width="8.9"/>
<path d="M88 1386h0" stroke="#a8a8a8" stroke-width="8.9"/>
<use href="#pb34" stroke="#424242" stroke-width="12"/>
<use href="#pb34" stroke="#000080" stroke-width="8.9"/>
<use href="#pb35" stroke="#424242" stroke-width="12"/>
<use href="#pb35" stroke="#000080" stroke-width="8.9"/>
<use href="#pb36" stroke="#424242" stroke-width="12"/>
<use href="#pb36" stroke="#000080" stroke-width="8.9"/>
<use href="#pb37" stroke="#424242" stroke-width="12"/>
<use href="#pb37" stroke="#000080" stroke-width="8.9"/>
<use href="#pb38" stroke="#424242" stroke-width="12"/>
<path d="M662 1341h0M849 1386h0M675 1364h0M726 1378h0M721 1345h0M177 1377h0M744 1390h0M518 1376h0M191 1369h0M693 1382h0M769 1367h0M660 1360h0M685 1390h0M687 1350h0M215 1370h0M598 1360h0M703 1338h0M142 1375h0M819 1365h0M580 1331h0M809 1367h0M621 1330h0M167 1356h0" stroke="#000080" stroke-width="8.9"/>
<path d="M849 1367h0" stroke="#a8a8a8" stroke-width="8.9"/>
<use href="#pb39" stroke="#424242" stroke-width="12"/>
<use href="#pb39" stroke="#000080" stroke-width="8.9"/>
<use href="#pb40" stroke="#424242" stroke-width="12"/>
<path d="M698 1341h0M696 1386h0M72 1381h0M809 1378h0M243 1389h0M593 1334h0M686 1355h0M586 1388h0M699 1332h0M601 1331h0M650 1379h0M181 1382h0M529 1372h0M326 1362h0M514 1390h0M574 1346h0M684 1389h0M194 1364h0M541 1385h0M532 1389h0M197 1386h0M559 1371h0" stroke="#000080" stroke-width="8.9"/>
<path d="M448 1367h0M444 1384h0" stroke="#a8a8a8" stroke-width="8.9"/>
<use href="#pb41" stroke="#424242" stroke-width="12"/>
<path d="M472 1385h0M436 1381h0M771 1383h0M584 1353h0M799 1389h0M283 1390h0M824 1387h0M284 1381h0M830 1373h0M687 1352h0M219 1362h0M820 1387h0M460 1375h0M585 1381h0M597 1346h0M633 1341h0M291 1383h0M482 1339h0M651 1361h0M764 1389h0M518 1388h0M269 1377h0M132 1377h0" stroke="#000080" stroke-width="8.9"/>
<path d="M767 1360h0" stroke="#a8a8a8" stroke-width="8.9"/>
<use href="#pb42" stroke="#424242" stroke-width="12"/>
<use href="#pb42" stroke="#000080" stroke-width="8.9"/>
<use href="#pb43" stroke="#424242" stroke-width="12"/>
<use href="#pb43" stroke="#000080" stroke-width="8.9"/>
<use href="#pb44" stroke="#424242" stroke-width="12"/>
<use href="#pb44" stroke="#000080" stroke-width="8.9"/>
<use href="#pb45" stroke="#424242" stroke-width="12"/>
<path d="M639 1389h0M528 1383h0M631 1328h0M624 1327h0M578 1385h0M611 1353h0M211 1387h0M208 1388h0M574 1363h0M753 1383h0M627 1361h0M657 1379h0M816 1362h0M108 1380h0M255 1383h0M209 1364h0M812 1376h0M566 1350h0M107 1374h0M830 1373h0M686 1340h0M827 1365h0M728 1388h0" stroke="#000080" stroke-width="8.9"/>
<path d="M674 1353h0" stroke="#a8a8a8" stroke-width="8.9"/>
<use href="#pb46" stroke="#424242" stroke-width="12"/>
<use href="#pb46" stroke="#000080" stroke-width="8.9"/>
<use href="#pb47" stroke="#424242" stroke-width="12"/>
<use href="#pb47" stroke="#000080" stroke-width="8.9"/>
<use href="#pb48" stroke="#424242" stroke-width="12"/>
<use href="#pb48" stroke="#000080" stroke-width="8.9"/>
<use href="#pb49" stroke="#424242" stroke-width="12"/>
<use href="#pb49" stroke="#000080" stroke-width="8.9"/>
<use href="#pb50" stroke="#424242" stroke-width="12"/>
<use href="#pb50" stroke="#000080" stroke-width="8.9"/>
<use href="#pb51" stroke="#424242" stroke-width="12"/>
<use href="#pb51" stroke="#000080" stroke-width="8.9"/>
<use href="#pb52" stroke="#424242" stroke-width="12"/>
<use href="#pb52" stroke="#000080" stroke-width="8.9"/>
<use href="#pb53" stroke="#424242" stroke-width="12"/>
<use href="#pb53" stroke="#000080" stroke-width="8.9"/>
<use href="#pb54" stroke="#424242" stroke-width="12"/>
<use href="#pb54" stroke="#000080" stroke-width="8.9"/>
<use href="#pb55" stroke="#424242" stroke-width="12"/>
<use href="#pb55" stroke="#000080" stroke-width="8.9"/>
<use href="#pb56" stroke="#424242" stroke-width="12"/>
<use href="#pb56" stroke="#000080" stroke-width="8.9"/>
<use href="#pb57" stroke="#424242" stroke-width="12"/>
<use href="#pb57" stroke="#000080" stroke-width="8.9"/>
<use href="#pb58" stroke="#424242" stroke-width="12"/>
<use href="#pb58" stroke="#000080" stroke-width="8.9"/>
<use href="#pb59" stroke="#424242" stroke-width="12"/>
<use href="#pb59" stroke="#000080" stroke-width="8.9"/>
<use href="#pb60" stroke="#424242" stroke-width="12"/>
<use href="#pb60" stroke="#000080" stroke-width="8.9"/>
<use href="#pb61" stroke="#424242" stroke-width="12"/>
<use href="#pb61" stroke="#000080" stroke-width="8.9"/>
<use href="#pb62" stroke="#424242" stroke-width="12"/>
<use href="#pb62" stroke="#000080" stroke-width="8.9"/>
<use href="#pb63" stroke="#424242" stroke-width="12"/>
<use href="#pb63" stroke="#000080" stroke-width="8.9"/>
<use href="#pb64" stroke="#424242" stroke-width="12"/>
<use href="#pb64" stroke="#000080" stroke-width="8.9"/>
<use href="#pb65" stroke="#424242" stroke-width="12"/>
<path d="M652 1337h0M648 1371h0M396 1351h0M225 1389h0M728 1364h0M649 1335h0M594 1349h0M159 1368h0M69 1387h0M848 1390h0M785 1378h0M671 1329h0M307 1388h0M634 1389h0M591 1389h0M808 1357h0M132 1381h0M103 1385h0M116 1382h0M815 1374h0M95 1388h0M153 1390h0" stroke="#000080" stroke-width="8.9"/>
<path d="M85 1372h0M298 1376h0" stroke="#a8a8a8" stroke-width="8.9"/>
<use href="#pb66" stroke="#424242" stroke-width="12"/>
<use href="#pb66" stroke="#000080" stroke-width="8.9"/>
<use href="#pb67" stroke="#424242" stroke-width="12"/>
<use href="#pb67" stroke="#000080" stroke-width="8.9"/>
<use href="#pb68" stroke="#424242" stroke-width="12"/>
<path d="M190 1369h0M655 1372h0M736 1390h0M857 1379h0M373 1387h0M640 1359h0M711 1351h0M625 1377h0M159 1366h0M579 1354h0M479 1328h0M611 1330h0M223 1367h0M698 1357h0M576 1328h0M790 1377h0M186 1370h0M269 1390h0M667 1335h0M548 1384h0M581 1388h0M690 1353h0M84 1384h0" stroke="#000080" stroke-width="8.9"/>
<path d="M728 1386h0" stroke="#a8a8a8" stroke-width="8.9"/>
<use href="#pb69" stroke="#424242" stroke-width="12"/>
<path d="M470 1379h0M79 1382h0M223 1366h0M289 1381h0M826 1380h0M817 1372h0M569 1363h0M579 1354h0M862 1386h0M696 1356h0M732 1362h0M725 1345h0M535 1370h0M466 1385h0M870 1382h0M858 1365h0M347 1385h0M863 1361h0M176 1390h0M741 1340h0M223 1385h0M202 1369h0M624 1355h0" stroke="#000080" stroke-width="8.9"/>
<path d="M778 1374h0" stroke="#a8a8a8" stroke-width="8.9"/>
<use href="#pb70" stroke="#424242" stroke-width="12"/>
<path d="M834 1361h0M372 1380h0M69 1376h0M726 1389h0M580 1375h0M126 1361h0M551 1383h0M263 1375h0M745 1382h0M727 1374h0M340 1377h0M185 1379h0M617 1390h0M444 1373h0M85 1375h0M71 1388h0M521 1371h0M713 1378h0M243 1387h0M713 1367h0M826 1377h0M640 1385h0M502 1374h0" stroke="#000080" stroke-width="8.9"/>
<path d="M560 1388h0" stroke="#a8a8a8" stroke-width="8.9"/>
<use href="#pb71" stroke="#424242" stroke-width="12"/>
<path d="M827 1357h0M551 1374h0M507 1378h0M803 1367h0M646 1360h0M316 1377h0M475 1369h0M439 1346h0M209 1366h0M750 1380h0M863 1385h0M663 1344h0M611 1326h0M119 1374h0M793 1380h0M769 1365h0M142 1389h0M869 1368h0M763 1389h0M705 1346h0M657 1330h0M846 1389h0M441 1340h0" stroke="#000080" stroke-width="8.9"/>
<path d="M334 1363h0" stroke="#a8a8a8" stroke-width="8.9"/>
<use href="#pb72" stroke="#424242" stroke-width="12"/>
<use href="#pb72" stroke="#000080" stroke-width="8.9"/>
<use href="#pb73" stroke="#424242" stroke-width="12"/>
<use href="#pb73" stroke="#000080" stroke-width="8.9"/>
<use href="#pb74" stroke="#424242" stroke-width="12"/>
<path d="M697 1345h0M685 1330h0M158 1383h0M312 1378h0M231 1366h0M598 1343h0M353 1384h0M503 1375h0M713 1353h0M577 1350h0M355 1346h0M72 1386h0M681 1326h0M392 1341h0M180 1389h0M209 1354h0M528 1382h0M163 1388h0M227 1367h0M650 1378h0M158 1350h0M241 1371h0" stroke="#000080" stroke-width="8.9"/>
<path d="M132 1382h0M642 1347h0" stroke="#a8a8a8" stroke-width="8.9"/>
<use href="#pb75" stroke="#424242" stroke-width="12"/>
<use href="#pb75" stroke="#000080" stroke-width="8.9"/>
<use href="#pb76" stroke="#424242" stroke-width="12"/>
<use href="#pb76" stroke="#000080" stroke-width="8.9"/>
<use href="#pb77" stroke="#424242" stroke-width="12"/>
<use href="#pb77" stroke="#000080" stroke-width="8.9"/>
<use href="#pb78" stroke="#424242" stroke-width="12"/>
<path d="M830 1388h0M612 1374h0M847 1388h0M694 1329h0M715 1376h0M273 1374h0M68 1374h0M719 1341h0M858 1366h0M590 1340h0M245 1389h0M765 1364h0M753 1388h0M644 1344h0M511 1385h0M131 1388h0M575 1377h0M813 1357h0M563 1383h0M752 1367h0M138 1386h0M669 1380h0M164 1388h0" stroke="#000080" stroke-width="8.9"/>
<path d="M180 1389h0" stroke="#a8a8a8" stroke-width="8.9"/>
<use href="#pb79" stroke="#424242" stroke-width="12"/>
<use href="#pb79" stroke="#000080" stroke-width="8.9"/>
<use href="#pb80" stroke="#424242" stroke-width="12"/>
<use href="#pb80" stroke="#000080" stroke-width="8.9"/>
<use href="#pb81" stroke="#424242" stroke-width="12"/>
<use href="#pb81" stroke="#000080" stroke-width="8.9"/>
<use href="#pb82" stroke="#424242" stroke-width="12"/>
<use href="#pb82" stroke="#000080" stroke-width="8.9"/>
<use href="#pb83" stroke="#424242" stroke-width="12"/>
<path d="M719 1385h0" stroke="#a8a8a8" stroke-width="8.9"/>
<path d="M790 1375h0M768 1377h0M605 1350h0M828 1385h0M817 1362h0M658 1366h0M628 1387h0M609 1367h0M118 1369h0M851 1374h0M201 1374h0M591 1342h0M278 1376h0M766 1369h0M726 1365h0M663 1373h0M164 1370h0M357 1382h0M773 1361h0M867 1381h0M522 1384h0M579 1356h0M258 1389h0" stroke="#000080" stroke-width="8.9"/>
<use href="#pb84" stroke="#424242" stroke-width="12"/>
<use href="#pb84" stroke="#000080" stroke-width="8.9"/>
<use href="#pb85" stroke="#424242" stroke-width="12"/>
<path d="M841 1372h0" stroke="#a8a8a8" stroke-width="8.9"/>
<path d="M597 1339h0M777 1367h0M517 1379h0M578 1347h0M610 1385h0M673 1384h0M545 1390h0M536 1372h0M117 1385h0M741 1358h0M668 1388h0M644 1383h0M595 1375h0M772 1385h0M826 1378h0M731 1380h0M601 1375h0M613 1367h0M858 1363h0M595 1382h0M643 1361h0M846 1387h0M236 1387h0" stroke="#000080" stroke-width="8.9"/>
<use href="#pb86" stroke="#424242" stroke-width="12"/>
<use href="#pb86" stroke="#000080" stroke-width="8.9"/>
<use href="#pb87" stroke="#424242" stroke-width="12"/>
<path d="M784 1374h0M573 1332h0M650 1371h0M860 1367h0M155 1385h0M684 1360h0M704 1376h0M785 1384h0M626 1374h0M247 1370h0M758 1366h0M681 1326h0M687 1383h0M852 1379h0M174 1383h0M120 1390h0M671 1373h0M592 1375h0M642 1388h0M687 1386h0M741 1360h0M679 1364h0M644 1370h0" stroke="#000080" stroke-width="8.9"/>
<path d="M162 1367h0" stroke="#a8a8a8" stroke-width="8.9"/>
<use href="#pb88" stroke="#424242" stroke-width="12"/>
<path d="M636 1383h0M280 1387h0M736 1344h0M808 1387h0M848 1357h0M462 1379h0M79 1385h0M616 1327h0M311 1389h0M517 1372h0M647 1350h0M750 1357h0M580 1343h0M720 1337h0M583 1344h0M133 1378h0M641 1336h0M701 1390h0M117 1368h0M711 1376h0M766 1383h0M841 1360h0M722 1363h0" stroke="#000080" stroke-width="8.9"/>
<path d="M166 1372h0" stroke="#a8a8a8" stroke-width="8.9"/>
<use href="#pb89" stroke="#424242" stroke-width="12"/>
<use href="#pb89" stroke="#000080" stroke-width="8.9"/>
<use href="#pb90" stroke="#424242" stroke-width="12"/>
<path d="M685 1378h0M599 1338h0M496 1363h0M152 1381h0M825 1360h0M785 1380h0M242 1384h0M673 1390h0M648 1326h0M79 1381h0M632 1327h0M229 1369h0M516 1382h0M85 1371h0M803 1368h0M636 1390h0M185 1371h0M646 1369h0M594 1331h0M594 1334h0M779 1381h0M396 1384h0M188 1360h0" stroke="#000080" stroke-width="8.9"/>
<path d="M117 1390h0" stroke="#a8a8a8" stroke-width="8.9"/>
<use href="#pb91" stroke="#424242" stroke-width="12"/>
<use href="#pb91" stroke="#000080" stroke-width="8.9"/>
<use href="#pb92" stroke="#424242" stroke-width="12"/>
<use href="#pb92" stroke="#000080" stroke-width="8.9"/>
<use href="#pb93" stroke="#424242" stroke-width="12"/>
<path d="M632 1378h0M484 1384h0M712 1375h0M641 1359h0M706 1390h0M748 1366h0M844 1360h0M510 1384h0M703 1369h0M602 1361h0M584 1369h0M795 1375h0M205 1387h0M97 1388h0M128 1383h0M595 1365h0M731 1390h0M654 1361h0M514 1371h0M708 1366h0M275 1369h0M784 1388h0" stroke="#000080" stroke-width="8.9"/>
<path d="M753 1352h0M829 1377h0" stroke="#a8a8a8" stroke-width="8.9"/>
<use href="#pb94" stroke="#424242" stroke-width="12"/>
<path d="M730 1364h0M834 1372h0M73 1387h0M725 1390h0M625 1330h0M189 1370h0M584 1381h0M760 1372h0M525 1386h0M579 1370h0M588 1347h0M819 1369h0M550 1376h0M622 1348h0M799 1361h0M600 1345h0M235 1370h0M860 1390h0M739 1339h0M796 1370h0M734 1356h0M748 1390h0M261 1379h0" stroke="#000080" stroke-width="8.9"/>
<path d="M210 1363h0" stroke="#a8a8a8" stroke-width="8.9"/>
<use href="#pb95" stroke="#424242" stroke-width="12"/>
<path d="M68 1365h0M94 1386h0M259 1385h0M646 1389h0M699 1356h0M165 1370h0M250 1390h0M239 1377h0M713 1334h0M144 1382h0M845 1373h0M706 1386h0M702 1353h0M538 1382h0M544 1382h0M803 1363h0M692 1334h0M565 1388h0M303 1378h0M665 1340h0M102 1377h0M740 1370h0M256 1383h0" stroke="#000080" stroke-width="8.9"/>
<path d="M547 1390h0" stroke="#a8a8a8" stroke-width="8.9"/>
<use href="#pb96" stroke="#424242" stroke-width="12"/>
<use href="#pb96" stroke="#000080" stroke-width="8.9"/>
<use href="#pb97" stroke="#424242" stroke-width="12"/>
<use href="#pb97" stroke="#000080" stroke-width="8.9"/>
<use href="#pb98" stroke="#424242" stroke-width="12"/>
<use href="#pb98" stroke="#000080" stroke-width="8.9"/>
<use href="#pb99" stroke="#424242" stroke-width="12"/>
<path d="M603 1336h0M554 1377h0M200 1364h0M640 1325h0M231 1387h0M530 1373h0M126 1387h0M678 1380h0M677 1369h0M690 1328h0M347 1364h0M752 1377h0M540 1382h0M827 1385h0M632 1334h0M683 1335h0M565 1380h0M691 1347h0M320 1366h0M736 1383h0M515 1373h0M638 1324h0M251 1390h0" stroke="#000080" stroke-width="8.9"/>
<path d="M311 1382h0" stroke="#a8a8a8" stroke-width="8.9"/>
<use href="#pb100" stroke="#424242" stroke-width="12"/>
<use href="#pb100" stroke="#000080" stroke-width="8.9"/>
<use href="#pb101" stroke="#424242" stroke-width="12"/>
<use href="#pb101" stroke="#000080" stroke-width="8.9"/>
<use href="#pb102" stroke="#424242" stroke-width="12"/>
<path d="M678 1325h0M732 1390h0M699 1330h0M373 1385h0M758 1387h0M648 1371h0M695 1381h0M862 1376h0M623 1334h0M587 1348h0M856 1358h0M666 1329h0M411 1363h0M815 1373h0M717 1382h0M730 1345h0M573 1379h0M847 1384h0M735 1343h0M583 1356h0M242 1376h0M650 1390h0" stroke="#000080" stroke-width="8.9"/>
<path d="M603 1366h0M779 1374h0" stroke="#a8a8a8" stroke-width="8.9"/>
<use href="#pb103" stroke="#424242" stroke-width="12"/>
<path d="M508 1383h0M138 1367h0M774 1362h0M637 1356h0M727 1375h0M591 1359h0M123 1348h0M832 1377h0M801 1364h0M568 1367h0M606 1334h0M568 1382h0M294 1383h0M815 1379h0M112 1385h0M181 1380h0M277 1374h0M602 1375h0M520 1372h0M109 1390h0M464 1387h0M169 1373h0M298 1380h0" stroke="#000080" stroke-width="8.9"/>
<path d="M179 1369h0" stroke="#a8a8a8" stroke-width="8.9"/>
<use href="#pb104" stroke="#424242" stroke-width="12"/>
<path d="M652 1389h0M786 1388h0M330 1364h0M712 1332h0M584 1330h0M601 1365h0M668 1372h0M630 1351h0M462 1353h0M567 1347h0M795 1388h0M435 1382h0M644 1372h0M590 1385h0M832 1364h0M236 1387h0M114 1368h0M641 1378h0M302 1384h0M166 1375h0M75 1370h0M205 1349h0M220 1365h0" stroke="#000080" stroke-width="8.9"/>
<path d="M195 1385h0" stroke="#a8a8a8" stroke-width="8.9"/>
<use href="#pb105" stroke="#424242" stroke-width="12"/>
<path d="M687 1358h0M114 1368h0M520 1373h0M157 1348h0M173 1371h0M588 1375h0M854 1364h0M788 1359h0M670 1342h0M693 1367h0M674 1388h0M276 1370h0M267 1383h0M274 1387h0M96 1377h0M183 1365h0M290 1390h0M828 1386h0M133 1389h0M849 1381h0M721 1366h0M367 1375h0M193 1385h0" stroke="#000080" stroke-width="8.9"/>
<path d="M540 1378h0" stroke="#a8a8a8" stroke-width="8.9"/>
<use href="#pb106" stroke="#424242" stroke-width="12"/>
<path d="M708 1361h0M139 1373h0M837 1389h0M692 1362h0M629 1388h0M587 1370h0M809 1366h0M845 1359h0M243 1377h0M580 1369h0M839 1372h0M631 1361h0M505 1390h0M765 1359h0M264 1369h0M577 1389h0M591 1390h0M187 1369h0M726 1341h0M761 1372h0M650 1359h0M662 1333h0M179 1364h0" stroke="#000080" stroke-width="8.9"/>
<path d="M696 1365h0" stroke="#a8a8a8" stroke-width="8.9"/>
<use href="#pb107" stroke="#424242" stroke-width="12"/>
<use href="#pb107" stroke="#000080" stroke-width="8.9"/>
<use href="#pb108" stroke="#424242" stroke-width="12"/>
<path d="M828 1386h0M623 1360h0M779 1379h0M180 1387h0M754 1365h0M309 1390h0M714 1333h0M668 1371h0M792 1375h0M449 1373h0M707 1348h0M777 1374h0M303 1372h0M114 1384h0M642 1375h0M848 1389h0M593 1371h0M643 1327h0M635 1377h0M666 1353h0M206 1365h0M704 1352h0M795 1390h0" stroke="#000080" stroke-width="8.9"/>
<path d="M581 1390h0" stroke="#a8a8a8" stroke-width="8.9"/>
<use href="#pb109" stroke="#424242" stroke-width="12"/>
<use href="#pb109" stroke="#000080" stroke-width="8.9"/>
<use href="#pb110" stroke="#424242" stroke-width="12"/>
<path d="M740 1373h0M333 1340h0M647 1366h0M588 1366h0M779 1360h0M199 1369h0M735 1383h0M770 1385h0M576 1377h0M841 1383h0M710 1389h0M714 1351h0M798 1381h0M186 1367h0M534 1370h0M611 1390h0M584 1351h0M610 1358h0M547 1376h0M299 1389h0M742 1337h0M629 1381h0" stroke="#000080" stroke-width="8.9"/>
<path d="M792 1368h0M829 1382h0" stroke="#a8a8a8" stroke-width="8.9"/>
<use href="#pb111" stroke="#424242" stroke-width="12"/>
<path d="M799 1375h0M568 1370h0M109 1385h0M213 1385h0M718 1354h0M595 1344h0M296 1379h0M828 1373h0M484 1374h0M825 1386h0M592 1339h0M89 1390h0M846 1386h0M804 1386h0M699 1365h0M543 1375h0M255 1386h0M220 1366h0M608 1345h0M584 1386h0M742 1382h0M166 1379h0M628 1371h0" stroke="#000080" stroke-width="8.9"/>
<path d="M829 1361h0" stroke="#a8a8a8" stroke-width="8.9"/>
<use href="#pb112" stroke="#424242" stroke-width="12"/>
<use href="#pb112" stroke="#000080" stroke-width="8.9"/>
<use href="#pb113" stroke="#424242" stroke-width="12"/>
<path d="M206 1364h0M484 1379h0M670 1336h0M683 1390h0M198 1386h0M625 1371h0M725 1375h0M870 1374h0M683 1363h0M201 1386h0M713 1377h0M592 1384h0M248 1386h0M744 1359h0M737 1367h0M281 1369h0M609 1380h0M164 1368h0M207 1377h0M592 1364h0M656 1330h0M618 1356h0M757 1390h0" stroke="#000080" stroke-width="8.9"/>
<path d="M309 1376h0" stroke="#a8a8a8" stroke-width="8.9"/>
<use href="#pb114" stroke="#424242" stroke-width="12"/>
<use href="#pb114" stroke="#000080" stroke-width="8.9"/>
<use href="#pb115" stroke="#424242" stroke-width="12"/>
<use href="#pb115" stroke="#000080" stroke-width="8.9"/>
<use href="#pb116" stroke="#424242" stroke-width="12"/>
<path d="M717 1385h0M715 1390h0M570 1385h0M382 1380h0M234 1388h0M690 1339h0M701 1345h0M73 1382h0M631 1375h0M692 1379h0M202 1382h0M310 1387h0M131 1389h0M722 1385h0M293 1387h0M672 1357h0M856 1381h0M641 1373h0M505 1380h0M683 1390h0M554 1381h0M567 1351h0M230 1369h0" stroke="#000080" stroke-width="8.9"/>
<path d="M649 1345h0" stroke="#a8a8a8" stroke-width="8.9"/>
<use href="#pb117" stroke="#424242" stroke-width="12"/>
<use href="#pb117" stroke="#000080" stroke-width="8.9"/>
<use href="#pb118" stroke="#424242" stroke-width="12"/>
<use href="#pb118" stroke="#000080" stroke-width="8.9"/>
<use href="#pb119" stroke="#424242" stroke-width="12"/>
<path d="M593 1380h0M709 1388h0M711 1379h0M193 1386h0M269 1386h0M835 1390h0M156 1375h0M69 1380h0M736 1351h0M740 1383h0M772 1366h0M752 1388h0M716 1359h0M688 1340h0M149 1375h0M764 1353h0M663 1340h0M692 1361h0M86 1381h0M157 1387h0M76 1382h0M505 1382h0" stroke="#000080" stroke-width="8.9"/>
<path d="M705 1354h0M845 1389h0" stroke="#a8a8a8" stroke-width="8.9"/>
<use href="#pb120" stroke="#424242" stroke-width="12"/>
<path d="M715 1366h0M396 1329h0M174 1360h0M741 1334h0M565 1369h0M135 1390h0M519 1380h0M427 1364h0M830 1373h0M853 1389h0M771 1360h0M594 1375h0M142 1390h0M133 1379h0M187 1367h0M633 1325h0M88 1390h0M769 1379h0M720 1363h0M648 1378h0M603 1355h0M578 1375h0M615 1348h0" stroke="#000080" stroke-width="8.9"/>
<path d="M531 1384h0" stroke="#a8a8a8" stroke-width="8.9"/>
<use href="#pb121" stroke="#424242" stroke-width="12"/>
<use href="#pb121" stroke="#000080" stroke-width="8.9"/>
<use href="#pb122" stroke="#424242" stroke-width="12"/>
<path d="M459 1376h0M308 1381h0M751 1359h0M286 1374h0M328 1383h0M590 1384h0M258 1387h0M565 1380h0M726 1366h0M667 1330h0M850 1372h0M736 1373h0M645 1366h0M633 1367h0M786 1384h0M611 1390h0M803 1390h0M751 1389h0M627 1356h0M601 1337h0M311 1377h0" stroke="#000080" stroke-width="8.9"/>
<path d="M505 1378h0M612 1379h0M315 1374h0" stroke="#a8a8a8" stroke-width="8.9"/>
<use href="#pb123" stroke="#424242" stroke-width="12"/>
<use href="#pb123" stroke="#000080" stroke-width="8.9"/>
<use href="#pb124" stroke="#424242" stroke-width="12"/>
<path d="M172 1390h0M758 1360h0M704 1356h0M692 1387h0M145 1390h0M530 1372h0M815 1381h0M688 1369h0M575 1335h0M782 1373h0M815 1357h0M558 1381h0M236 1385h0M164 1388h0M164 1380h0M795 1361h0M728 1369h0M513 1381h0M704 1368h0M73 1385h0M579 1348h0M215 1389h0M216 1372h0" stroke="#000080" stroke-width="8.9"/>
<path d="M623 1370h0" stroke="#a8a8a8" stroke-width="8.9"/>
<use href="#pb125" stroke="#424242" stroke-width="12"/>
<use href="#pb125" stroke="#000080" stroke-width="8.9"/>
<use href="#pb126" stroke="#424242" stroke-width="12"/>
<path d="M173 1389h0M217 1387h0M295 1383h0M638 1362h0M703 1345h0M716 1385h0M587 1346h0M778 1385h0M335 1378h0M299 1389h0M564 1388h0M189 1386h0M529 1390h0M587 1390h0M650 1333h0M127 1388h0M674 1374h0M308 1384h0M74 1375h0M743 1375h0M859 1372h0M719 1345h0M530 1370h0" stroke="#000080" stroke-width="8.9"/>
<path d="M752 1369h0" stroke="#a8a8a8" stroke-width="8.9"/>
<use href="#pb127" stroke="#424242" stroke-width="12"/>
<use href="#pb127" stroke="#000080" stroke-width="8.9"/>
<use href="#pb128" stroke="#424242" stroke-width="12"/>
<path d="M92 1390h0M88 1390h0M72 1382h0M715 1361h0M794 1366h0M581 1364h0M554 1372h0M687 1386h0M263 1375h0M145 1388h0M639 1367h0M158 1379h0M776 1381h0M207 1377h0M778 1385h0M577 1331h0M251 1378h0M598 1357h0M149 1390h0M189 1349h0M826 1383h0M602 1349h0M847 1376h0" stroke="#000080" stroke-width="8.9"/>
<path d="M424 1346h0" stroke="#a8a8a8" stroke-width="8.9"/>
<use href="#pb129" stroke="#424242" stroke-width="12"/>
<use href="#pb129" stroke="#000080" stroke-width="8.9"/>
<use href="#pb130" stroke="#424242" stroke-width="12"/>
<path d="M171 1377h0M705 1377h0M662 1388h0M578 1378h0M656 1389h0M740 1352h0M696 1369h0M606 1353h0M523 1387h0M608 1379h0M670 1360h0M234 1387h0M590 1368h0M763 1367h0M291 1386h0M628 1388h0M552 1379h0M837 1380h0M180 1364h0M798 1363h0" stroke="#000080" stroke-width="8.9"/>
<path d="M680 1330h0M608 1342h0M486 1383h0M91 1388h0" stroke="#a8a8a8" stroke-width="8.9"/>
<use href="#pb131" stroke="#424242" stroke-width="12"/>
<use href="#pb131" stroke="#000080" stroke-width="8.9"/>
<use href="#pb132" stroke="#424242" stroke-width="12"/>
<use href="#pb132" stroke="#000080" stroke-width="8.9"/>
<use href="#pb133" stroke="#424242" stroke-width="12"/>
<use href="#pb133" stroke="#000080" stroke-width="8.9"/>
<use href="#pb134" stroke="#424242" stroke-width="12"/>
<path d="M650 1351h0M188 1369h0M93 1390h0M165 1368h0M608 1385h0M848 1388h0M825 1378h0M190 1377h0M689 1386h0M760 1379h0M634 1349h0M843 1358h0M745 1362h0M110 1389h0M816 1382h0M733 1382h0M609 1344h0M422 1331h0M401 1367h0M698 1360h0M655 1376h0M735 1376h0M795 1390h0" stroke="#000080" stroke-width="8.9"/>
<path d="M742 1353h0" stroke="#a8a8a8" stroke-width="8.9"/>
<use href="#pb135" stroke="#424242" stroke-width="12"/>
<use href="#pb135" stroke="#000080" stroke-width="8.9"/>
<use href="#pb136" stroke="#424242" stroke-width="12"/>
<path d="M576 1364h0M677 1356h0M305 1386h0M701 1340h0M279 1377h0M312 1380h0M286 1382h0M560 1372h0M586 1382h0M645 1359h0M834 1362h0M396 1379h0M795 1383h0M508 1378h0M302 1374h0M219 1389h0M657 1375h0M595 1363h0M663 1389h0M753 1366h0M101 1381h0M200 1387h0" stroke="#000080" stroke-width="8.9"/>
<path d="M400 1379h0M570 1384h0" stroke="#a8a8a8" stroke-width="8.9"/>
<use href="#pb137" stroke="#424242" stroke-width="12"/>
<use href="#pb137" stroke="#000080" stroke-width="8.9"/>
<use href="#pb138" stroke="#424242" stroke-width="12"/>
<use href="#pb138" stroke="#000080" stroke-width="8.9"/>
<use href="#pb139" stroke="#424242" stroke-width="12"/>
<use href="#pb139" stroke="#000080" stroke-width="8.9"/>
<use href="#pb140" stroke="#424242" stroke-width="12"/>
<path d="M95 1389h0M268 1375h0M694 1336h0M775 1361h0M517 1383h0M196 1369h0M689 1385h0M354 1375h0M851 1360h0M711 1373h0M141 1366h0M685 1359h0M737 1361h0M190 1355h0M588 1382h0M585 1360h0M816 1378h0M142 1384h0M710 1372h0M79 1379h0M844 1377h0M677 1355h0" stroke="#000080" stroke-width="8.9"/>
<path d="M68 1371h0M590 1358h0" stroke="#a8a8a8" stroke-width="8.9"/>
<use href="#pb141" stroke="#424242" stroke-width="12"/>
<use href="#pb141" stroke="#000080" stroke-width="8.9"/>
<use href="#pb142" stroke="#424242" stroke-width="12"/>
<path d="M646 1375h0M608 1359h0M396 1329h0M534 1390h0M589 1347h0M521 1386h0M760 1373h0M249 1387h0M600 1368h0M832 1360h0M480 1326h0M176 1347h0M167 1362h0M581 1380h0M424 1339h0M850 1378h0M611 1388h0M823 1359h0M841 1382h0M779 1382h0M195 1382h0M625 1386h0M505 1390h0" stroke="#000080" stroke-width="8.9"/>
<path d="M647 1349h0" stroke="#a8a8a8" stroke-width="8.9"/>
<use href="#pb143" stroke="#424242" stroke-width="12"/>
<use href="#pb143" stroke="#000080" stroke-width="8.9"/>
<use href="#pb144" stroke="#424242" stroke-width="12"/>
<use href="#pb144" stroke="#000080" stroke-width="8.9"/>
<use href="#pb145" stroke="#424242" stroke-width="12"/>
<use href="#pb145" stroke="#000080" stroke-width="8.9"/>
<use href="#pb146" stroke="#424242" stroke-width="12"/>
<use href="#pb146" stroke="#000080" stroke-width="8.9"/>
<use href="#pb147" stroke="#424242" stroke-width="12"/>
<use href="#pb147" stroke="#000080" stroke-width="8.9"/>
<use href="#pb148" stroke="#424242" stroke-width="12"/>
<path d="M515 1389h0M578 1367h0M168 1380h0M539 1387h0M686 1390h0M605 1384h0M654 1368h0M697 1356h0M621 1381h0M563 1388h0M276 1381h0M854 1387h0M644 1326h0M569 1351h0M543 1384h0M229 1370h0M68 1376h0M638 1332h0M110 1369h0M745 1348h0M133 1390h0M671 1356h0M205 1367h0" stroke="#000080" stroke-width="8.9"/>
<path d="M735 1352h0" stroke="#a8a8a8" stroke-width="8.9"/>
<use href="#pb149" stroke="#424242" stroke-width="12"/>
<use href="#pb149" stroke="#000080" stroke-width="8.9"/>
<use href="#pb150" stroke="#424242" stroke-width="12"/>
<use href="#pb150" stroke="#000080" stroke-width="8.9"/>
<use href="#pb151" stroke="#424242" stroke-width="12"/>
<path d="M566 1360h0M165 1380h0M721 1346h0M102 1390h0M323 1340h0M870 1375h0M835 1372h0M580 1334h0M868 1358h0M135 1370h0M621 1352h0M239 1385h0M662 1374h0M658 1337h0M308 1382h0M843 1381h0M563 1381h0M717 1376h0M157 1386h0M491 1379h0M718 1382h0M597 1351h0M826 1390h0" stroke="#000080" stroke-width="8.9"/>
<path d="M86 1386h0" stroke="#a8a8a8" stroke-width="8.9"/>
<use href="#pb152" stroke="#424242" stroke-width="12"/>
<use href="#pb152" stroke="#000080" stroke-width="8.9"/>
<use href="#pb153" stroke="#424242" stroke-width="12"/>
<path d="M194 1374h0M673 1369h0M444 1371h0M760 1347h0M674 1360h0M98 1380h0M629 1371h0M147 1363h0M309 1380h0M566 1348h0M264 1384h0M745 1347h0M704 1390h0M196 1370h0M114 1372h0M227 1390h0M591 1381h0M513 1374h0M708 1360h0M618 1353h0M582 1370h0M675 1374h0M511 1388h0" stroke="#000080" stroke-width="8.9"/>
<path d="M126 1369h0" stroke="#a8a8a8" stroke-width="8.9"/>
<use href="#pb154" stroke="#424242" stroke-width="12"/>
<path d="M572 1375h0M867 1387h0M652 1361h0M285 1373h0M708 1383h0M633 1350h0M360 1382h0M726 1389h0M677 1357h0M650 1382h0M697 1348h0M790 1361h0M321 1352h0M791 1359h0M582 1390h0M632 1347h0M868 1366h0M678 1343h0M254 1380h0M322 1368h0M431 1383h0M208 1387h0M168 1380h0" stroke="#000080" stroke-width="8.9"/>
<path d="M644 1372h0" stroke="#a8a8a8" stroke-width="8.9"/>
<use href="#pb155" stroke="#424242" stroke-width="12"/>
<use href="#pb155" stroke="#000080" stroke-width="8.9"/>
<use href="#pb156" stroke="#424242" stroke-width="12"/>
<path d="M301 1378h0M729 1345h0M593 1371h0M711 1383h0M592 1346h0M73 1384h0M172 1370h0M708 1376h0M565 1354h0M621 1364h0M687 1344h0M682 1360h0M787 1361h0M518 1379h0M700 1390h0M655 1382h0M830 1374h0M820 1380h0M870 1379h0M426 1347h0M858 1384h0M758 1390h0M149 1382h0" stroke="#000080" stroke-width="8.9"/>
<path d="M619 1380h0" stroke="#a8a8a8" stroke-width="8.9"/>
<use href="#pb157" stroke="#424242" stroke-width="12"/>
<path d="M814 1376h0M620 1325h0M606 1346h0M718 1335h0M758 1373h0M710 1380h0M152 1362h0M387 1384h0M613 1385h0M644 1344h0M598 1368h0M799 1389h0M156 1385h0M583 1334h0M644 1371h0M641 1374h0M676 1326h0M650 1332h0M563 1370h0M703 1332h0M819 1371h0M742 1341h0M714 1360h0" stroke="#000080" stroke-width="8.9"/>
<path d="M704 1386h0" stroke="#a8a8a8" stroke-width="8.9"/>
<use href="#pb158" stroke="#424242" stroke-width="12"/>
<use href="#pb158" stroke="#000080" stroke-width="8.9"/>
<use href="#pb159" stroke="#424242" stroke-width="12"/>
<use href="#pb159" stroke="#000080" stroke-width="8.9"/>
<use href="#pb160" stroke="#424242" stroke-width="12"/>
<path d="M78 1387h0M85 1368h0M332 1340h0M599 1348h0M816 1378h0M685 1374h0M668 1346h0M520 1387h0M814 1387h0M825 1384h0M120 1374h0M608 1341h0M616 1363h0M573 1340h0M798 1371h0M608 1345h0M553 1379h0M710 1356h0M732 1356h0M610 1345h0M631 1343h0M229 1388h0M573 1349h0" stroke="#000080" stroke-width="8.9"/>
<path d="M193 1353h0" stroke="#a8a8a8" stroke-width="8.9"/>
<use href="#pb161" stroke="#424242" stroke-width="12"/>
<use href="#pb161" stroke="#000080" stroke-width="8.9"/>
<use href="#pb162" stroke="#424242" stroke-width="12"/>
<use href="#pb162" stroke="#000080" stroke-width="8.9"/>
<use href="#pb163" stroke="#424242" stroke-width="12"/>
<use href="#pb163" stroke="#000080" stroke-width="8.9"/>
<use href="#pb164" stroke="#424242" stroke-width="12"/>
<use href="#pb164" stroke="#000080" stroke-width="8.9"/>
<use href="#pb165" stroke="#424242" stroke-width="12"/>
<path d="M612 1334h0M232 1375h0M787 1368h0M837 1368h0M846 1374h0M780 1367h0M725 1353h0M805 1388h0M240 1362h0M527 1386h0M657 1350h0M140 1369h0M242 1369h0M411 1376h0M547 1376h0M617 1339h0M654 1341h0M849 1377h0M132 1382h0M637 1383h0M857 1371h0M94 1381h0M690 1378h0" stroke="#000080" stroke-width="8.9"/>
<path d="M812 1377h0" stroke="#a8a8a8" stroke-width="8.9"/>
<use href="#pb166" stroke="#424242" stroke-width="12"/>
<use href="#pb166" stroke="#000080" stroke-width="8.9"/>
<use href="#pb167" stroke="#424242" stroke-width="12"/>
<use href="#pb167" stroke="#000080" stroke-width="8.9"/>
<use href="#pb168" stroke="#424242" stroke-width="12"/>
<use href="#pb168" stroke="#000080" stroke-width="8.9"/>
<use href="#pb169" stroke="#424242" stroke-width="12"/>
<use href="#pb169" stroke="#000080" stroke-width="8.9"/>
<use href="#pb170" stroke="#424242" stroke-width="12"/>
<path d="M717 1382h0M669 1372h0M567 1382h0M551 1383h0M535 1380h0M173 1359h0M659 1364h0M393 1340h0M784 1374h0M289 1378h0M682 1363h0M268 1382h0M224 1377h0M640 1338h0M479 1323h0M150 1367h0M849 1385h0M172 1369h0M332 1382h0M663 1336h0M670 1358h0M726 1345h0M774 1367h0" stroke="#000080" stroke-width="8.9"/>
<path d="M756 1390h0" stroke="#a8a8a8" stroke-width="8.9"/>
<use href="#pb171" stroke="#424242" stroke-width="12"/>
<use href="#pb171" stroke="#000080" stroke-width="8.9"/>
<use href="#pb172" stroke="#424242" stroke-width="12"/>
<path d="M140 1382h0M163 1387h0M779 1358h0M128 1387h0M642 1390h0M166 1390h0M867 1371h0M651 1362h0M650 1388h0M661 1380h0M709 1336h0M666 1348h0M827 1386h0M538 1387h0M258 1386h0M237 1373h0M658 1377h0M607 1384h0M237 1388h0M256 1371h0M187 1351h0M678 1387h0M301 1375h0" stroke="#000080" stroke-width="8.9"/>
<path d="M233 1374h0" stroke="#a8a8a8" stroke-width="8.9"/>
<use href="#pb173" stroke="#424242" stroke-width="12"/>
<use href="#pb173" stroke="#000080" stroke-width="8.9"/>
<use href="#pb174" stroke="#424242" stroke-width="12"/>
<path d="M155 1375h0M173 1375h0M867 1373h0M594 1340h0M754 1371h0M583 1376h0M575 1355h0M224 1374h0M334 1374h0M611 1338h0M291 1377h0M268 1369h0M254 1368h0M673 1349h0M863 1383h0M274 1379h0M706 1355h0M823 1358h0M601 1335h0M299 1387h0M98 1368h0M101 1385h0" stroke="#000080" stroke-width="8.9"/>
<path d="M629 1338h0M726 1355h0" stroke="#a8a8a8" stroke-width="8.9"/>
<use href="#pb175" stroke="#424242" stroke-width="12"/>
<use href="#pb175" stroke="#000080" stroke-width="8.9"/>
<use href="#pb176" stroke="#424242" stroke-width="12"/>
<use href="#pb176" stroke="#000080" stroke-width="8.9"/>
<use href="#pb177" stroke="#424242" stroke-width="12"/>
<use href="#pb177" stroke="#000080" stroke-width="8.9"/>
<use href="#pb178" stroke="#424242" stroke-width="12"/>
<use href="#pb178" stroke="#000080" stroke-width="8.9"/>
<use href="#pb179" stroke="#424242" stroke-width="12"/>
<use href="#pb179" stroke="#000080" stroke-width="8.9"/>
<use href="#pb180" stroke="#424242" stroke-width="12"/>
<use href="#pb180" stroke="#000080" stroke-width="8.9"/>
<use href="#pb181" stroke="#424242" stroke-width="12"/>
<use href="#pb181" stroke="#000080" stroke-width="8.9"/>
<use href="#pb182" stroke="#424242" stroke-width="12"/>
<use href="#pb182" stroke="#000080" stroke-width="8.9"/>
<use href="#pb183" stroke="#424242" stroke-width="12"/>
<use href="#pb183" stroke="#000080" stroke-width="8.9"/>
</g>
<g stroke="#424242" stroke-width="1.1">
<circle cx="92.3" cy="1284.9" r="5.45" fill="#000080"/>
<circle cx="94.6" cy="1292.3" r="5.45" fill="#000080"/>
<circle cx="545.9" cy="1308" r="5.45" fill="#000080"/>
<circle cx="600.4" cy="1288.6" r="5.45" fill="#000080"/>
<circle cx="601.8" cy="1293.2" r="5.45" fill="#000080"/>
<circle cx="729.7" cy="1302.4" r="5.45" fill="#000080"/>
<circle cx="743.6" cy="1297.8" r="5.45" fill="#000080"/>
<circle cx="750.5" cy="1309.4" r="5.45" fill="#000080"/>
<circle cx="757.5" cy="1314" r="5.45" fill="#000080"/>
<circle cx="725.1" cy="1311.7" r="5.45" fill="#000080"/>
<circle cx="734.4" cy="1323.2" r="5.45" fill="#000080"/>
<circle cx="794.4" cy="1339.4" r="5.45" fill="#000080"/>
<circle cx="806" cy="1337.1" r="5.45" fill="#000080"/>
<circle cx="822.1" cy="1341.7" r="5.45" fill="#000080"/>
<circle cx="852.1" cy="1341.7" r="5.45" fill="#000080"/>
<circle cx="393.5" cy="1265.5" r="5.45" fill="#000080"/>
<circle cx="418" cy="1292.3" r="5.45" fill="#000080"/>
<circle cx="429.5" cy="1290.4" r="5.45" fill="#000080"/>
<circle cx="431.8" cy="1302.4" r="5.45" fill="#000080"/>
<circle cx="362.5" cy="1305.7" r="5.45" fill="#000080"/>
<circle cx="456.3" cy="1220.2" r="5.45" fill="#000080"/>
<circle cx="453.5" cy="1233.1" r="5.45" fill="#000080"/>
<circle cx="276.2" cy="1325.5" r="5.45" fill="#000080"/>
<circle cx="286.3" cy="1321.8" r="5.45" fill="#000080"/>
<circle cx="207.8" cy="1337.1" r="5.45" fill="#000080"/>
<circle cx="233.2" cy="1344" r="5.45" fill="#000080"/>
<circle cx="124.7" cy="1323.2" r="5.45" fill="#000080"/>
<circle cx="129.3" cy="1316.3" r="5.45" fill="#000080"/>
<circle cx="143.1" cy="1325.5" r="5.45" fill="#000080"/>
<circle cx="152.4" cy="1320.9" r="5.45" fill="#000080"/>
<circle cx="166.2" cy="1318.6" r="5.45" fill="#000080"/>
<circle cx="180.1" cy="1321.8" r="5.45" fill="#000080"/>
<circle cx="198.6" cy="1318.6" r="5.45" fill="#000080"/>
<circle cx="337.1" cy="1316.3" r="5.45" fill="#000080"/>
<circle cx="341.8" cy="1325.5" r="5.45" fill="#000080"/>
<circle cx="346.4" cy="1334.8" r="5.45" fill="#000080"/>
<circle cx="383.3" cy="1332.4" r="5.45" fill="#000080"/>
<circle cx="411" cy="1320.9" r="5.45" fill="#000080"/>
<circle cx="424.9" cy="1325.5" r="5.45" fill="#000080"/>
<circle cx="438.8" cy="1323.2" r="5.45" fill="#000080"/>
<circle cx="448" cy="1311.7" r="5.45" fill="#000080"/>
<circle cx="457.2" cy="1314" r="5.45" fill="#000080"/>
<circle cx="466.5" cy="1317.2" r="5.45" fill="#000080"/>
<circle cx="475.7" cy="1321.8" r="5.45" fill="#000080"/>
<circle cx="489.6" cy="1332.4" r="5.45" fill="#000080"/>
<circle cx="498.8" cy="1325.5" r="5.45" fill="#000080"/>
<circle cx="515" cy="1323.2" r="5.45" fill="#000080"/>
<circle cx="521.9" cy="1334.8" r="5.45" fill="#000080"/>
<circle cx="526.5" cy="1339.4" r="5.45" fill="#000080"/>
<circle cx="535.8" cy="1355.5" r="5.45" fill="#000080"/>
<circle cx="547.3" cy="1362.5" r="5.45" fill="#000080"/>
<circle cx="572.7" cy="1320.9" r="5.45" fill="#000080"/>
<circle cx="581.9" cy="1325.5" r="5.45" fill="#000080"/>
<circle cx="614.3" cy="1316.3" r="5.45" fill="#000080"/>
<circle cx="625.8" cy="1311.7" r="5.45" fill="#000080"/>
<circle cx="639.7" cy="1311.7" r="5.45" fill="#000080"/>
<circle cx="651.2" cy="1314" r="5.45" fill="#000080"/>
<circle cx="660.5" cy="1318.6" r="5.45" fill="#000080"/>
<circle cx="678.9" cy="1314" r="5.45" fill="#000080"/>
<circle cx="688.2" cy="1318.6" r="5.45" fill="#000080"/>
<circle cx="699.7" cy="1323.2" r="5.45" fill="#000080"/>
<circle cx="715.9" cy="1332.4" r="5.45" fill="#000080"/>
<circle cx="568.1" cy="1323.2" r="5.45" fill="#000080"/>
<circle cx="311.7" cy="1353.2" r="5.45" fill="#000080"/>
<circle cx="327.9" cy="1316.3" r="5.45" fill="#000080"/>
<circle cx="332.5" cy="1309.4" r="5.45" fill="#000080"/>
<circle cx="339.4" cy="1327.8" r="5.45" fill="#000080"/>
<circle cx="383.3" cy="1348.6" r="5.45" fill="#000080"/>
<circle cx="392.6" cy="1353.2" r="5.45" fill="#000080"/>
<circle cx="411" cy="1339.4" r="5.45" fill="#000080"/>
<circle cx="429.5" cy="1344" r="5.45" fill="#000080"/>
<circle cx="443.4" cy="1346.3" r="5.45" fill="#000080"/>
<circle cx="184.2" cy="1307.2" r="5.45" fill="#000080"/>
<circle cx="201.3" cy="1308.9" r="5.45" fill="#000080"/>
<circle cx="195.8" cy="1308.7" r="5.45" fill="#000080"/>
<circle cx="125.2" cy="1304.9" r="5.45" fill="#000080"/>
<circle cx="216" cy="1306.4" r="5.45" fill="#000080"/>
<circle cx="211.8" cy="1302" r="5.45" fill="#000080"/>
<circle cx="168.9" cy="1303.1" r="5.45" fill="#000080"/>
<circle cx="176.4" cy="1305.8" r="5.45" fill="#000080"/>
<circle cx="123.7" cy="1302.8" r="5.45" fill="#000080"/>
<circle cx="150.1" cy="1308.7" r="5.45" fill="#000080"/>
<circle cx="198.4" cy="1302.4" r="5.45" fill="#000080"/>
<circle cx="201.5" cy="1302.2" r="5.45" fill="#000080"/>
<circle cx="183.7" cy="1302.1" r="5.45" fill="#000080"/>
<circle cx="122.5" cy="1308.3" r="5.45" fill="#000080"/>
<circle cx="143.2" cy="1302.8" r="5.45" fill="#000080"/>
<circle cx="219.9" cy="1308.3" r="5.45" fill="#000080"/>
<circle cx="151.1" cy="1309" r="5.45" fill="#000080"/>
<circle cx="175.9" cy="1306.7" r="5.45" fill="#000080"/>
<circle cx="142.7" cy="1308.9" r="5.45" fill="#000080"/>
<circle cx="190.9" cy="1309.1" r="5.45" fill="#000080"/>
<circle cx="211.1" cy="1303.5" r="5.45" fill="#000080"/>
<circle cx="158.2" cy="1302.4" r="5.45" fill="#000080"/>
<circle cx="136.8" cy="1301.6" r="5.45" fill="#000080"/>
<circle cx="152.3" cy="1306.1" r="5.45" fill="#000080"/>
<circle cx="122.7" cy="1306.7" r="5.45" fill="#000080"/>
<circle cx="155.9" cy="1303.6" r="5.45" fill="#000080"/>
<circle cx="203.6" cy="1305" r="5.45" fill="#000080"/>
<circle cx="153.7" cy="1305" r="5.45" fill="#000080"/>
<circle cx="192.3" cy="1301.5" r="5.45" fill="#000080"/>
<circle cx="219.2" cy="1301.2" r="5.45" fill="#000080"/>
<circle cx="191.6" cy="1323.4" r="5.45" fill="#000080"/>
<circle cx="124" cy="1322.6" r="5.45" fill="#000080"/>
<circle cx="156.2" cy="1319.7" r="5.45" fill="#000080"/>
<circle cx="123.2" cy="1312.3" r="5.45" fill="#000080"/>
<circle cx="139.1" cy="1324.9" r="5.45" fill="#000080"/>
<circle cx="140.5" cy="1322.1" r="5.45" fill="#000080"/>
<circle cx="208.2" cy="1324.7" r="5.45" fill="#000080"/>
<circle cx="154.2" cy="1316.6" r="5.45" fill="#000080"/>
<circle cx="170.8" cy="1322.4" r="5.45" fill="#000080"/>
<circle cx="132.3" cy="1322" r="5.45" fill="#000080"/>
<circle cx="194.9" cy="1325.5" r="5.45" fill="#a8a8a8"/>
<circle cx="215.2" cy="1320" r="5.45" fill="#a8a8a8"/>
<circle cx="357.9" cy="1291.3" r="5.45" fill="#a8a8a8"/>
<circle cx="421.2" cy="1169.4" r="5.45" fill="#a8a8a8"/>
<circle cx="499.7" cy="1173.1" r="5.45" fill="#a8a8a8"/>
<circle cx="452.6" cy="1240.5" r="5.45" fill="#a8a8a8"/>
<circle cx="490.5" cy="1238.7" r="5.45" fill="#a8a8a8"/>
<circle cx="748.2" cy="1331.1" r="5.45" fill="#a8a8a8"/>
<circle cx="88.6" cy="1387.9" r="5.45" fill="#a8a8a8"/>
<circle cx="147.8" cy="1326.4" r="5.45" fill="#a8a8a8"/>
<circle cx="341.8" cy="1387.9" r="5.45" fill="#a8a8a8"/>
<circle cx="501.7" cy="1048.9" r="5.45" fill="#a8a8a8"/>
<circle cx="454.6" cy="1139.1" r="5.45" fill="#a8a8a8"/>
<circle cx="498.5" cy="1143.5" r="5.45" fill="#a8a8a8"/>
<circle cx="421.3" cy="1170.3" r="5.45" fill="#a8a8a8"/>
<circle cx="500.2" cy="1174.6" r="5.45" fill="#a8a8a8"/>
<circle cx="491.5" cy="1238.3" r="5.45" fill="#a8a8a8"/>
<circle cx="456.8" cy="1221" r="5.45" fill="#000080"/>
<circle cx="453.9" cy="1233.3" r="5.45" fill="#000080"/>
<circle cx="330.2" cy="1305.7" r="5.45" fill="#87cefa"/>
<circle cx="370.4" cy="1285.3" r="5.45" fill="#87cefa"/>
<circle cx="378.7" cy="1283.9" r="5.45" fill="#87cefa"/>
<circle cx="374.1" cy="1292.3" r="5.45" fill="#87cefa"/>
<circle cx="402.7" cy="1280.7" r="5.45" fill="#87cefa"/>
<circle cx="406.4" cy="1286.7" r="5.45" fill="#87cefa"/>
<circle cx="408.7" cy="1289.5" r="5.45" fill="#87cefa"/>
<circle cx="351" cy="1316.3" r="5.45" fill="#87cefa"/>
<circle cx="357.9" cy="1318.6" r="5.45" fill="#87cefa"/>
<circle cx="362.5" cy="1320.9" r="5.45" fill="#87cefa"/>
<circle cx="378.7" cy="1316.3" r="5.45" fill="#87cefa"/>
<circle cx="385.6" cy="1316.3" r="5.45" fill="#87cefa"/>
<circle cx="391.6" cy="1315.4" r="5.45" fill="#87cefa"/>
<circle cx="367.2" cy="1327.8" r="5.45" fill="#87cefa"/>
<circle cx="376.4" cy="1325.5" r="5.45" fill="#87cefa"/>
<circle cx="374.1" cy="1344" r="5.45" fill="#87cefa"/>
<circle cx="383.3" cy="1340.8" r="5.45" fill="#87cefa"/>
<circle cx="401.8" cy="1361.5" r="5.45" fill="#87cefa"/>
<circle cx="323.3" cy="1365.7" r="5.45" fill="#87cefa"/>
<circle cx="311.7" cy="1380.9" r="5.45" fill="#87cefa"/>
<circle cx="461.8" cy="1344" r="5.45" fill="#87cefa"/>
<circle cx="468.8" cy="1346.3" r="5.45" fill="#87cefa"/>
<circle cx="473.4" cy="1349.5" r="5.45" fill="#87cefa"/>
<circle cx="478" cy="1353.2" r="5.45" fill="#87cefa"/>
<circle cx="482.6" cy="1353.2" r="5.45" fill="#87cefa"/>
<circle cx="503.4" cy="1360.2" r="5.45" fill="#87cefa"/>
<circle cx="508" cy="1364.8" r="5.45" fill="#87cefa"/>
<circle cx="512.7" cy="1361.5" r="5.45" fill="#87cefa"/>
<circle cx="459.5" cy="1380.9" r="5.45" fill="#87cefa"/>
<circle cx="466.5" cy="1383.3" r="5.45" fill="#87cefa"/>
<circle cx="473.4" cy="1385.6" r="5.45" fill="#87cefa"/>
<circle cx="480.3" cy="1386.5" r="5.45" fill="#87cefa"/>
<circle cx="487.3" cy="1387.9" r="5.45" fill="#87cefa"/>
<circle cx="457.2" cy="1153.7" r="5.45" fill="#87cefa"/>
<circle cx="464.2" cy="1155.5" r="5.45" fill="#87cefa"/>
<circle cx="510.3" cy="1178.6" r="5.45" fill="#87cefa"/>
<circle cx="442.4" cy="1199.9" r="5.45" fill="#87cefa"/>
<circle cx="443.4" cy="1204.5" r="5.45" fill="#87cefa"/>
<circle cx="415.7" cy="1223" r="5.45" fill="#87cefa"/>
<circle cx="422.6" cy="1221.6" r="5.45" fill="#87cefa"/>
<circle cx="429.5" cy="1221.6" r="5.45" fill="#87cefa"/>
<circle cx="435.1" cy="1220.2" r="5.45" fill="#87cefa"/>
<circle cx="441.1" cy="1217" r="5.45" fill="#87cefa"/>
<circle cx="414.7" cy="1227.6" r="5.45" fill="#87cefa"/>
<circle cx="438.8" cy="1230.8" r="5.45" fill="#87cefa"/>
<circle cx="419.4" cy="1240.5" r="5.45" fill="#87cefa"/>
<circle cx="454.6" cy="1100.8" r="5.45" fill="#87cefa"/>
<circle cx="455.3" cy="1106.5" r="5.45" fill="#87cefa"/>
<circle cx="454.6" cy="1110.9" r="5.45" fill="#87cefa"/>
<circle cx="479.2" cy="1100.8" r="5.45" fill="#87cefa"/>
<circle cx="485.7" cy="1108" r="5.45" fill="#87cefa"/>
<circle cx="469.8" cy="1106.5" r="5.45" fill="#87cefa"/>
<circle cx="468.3" cy="1110.2" r="5.45" fill="#87cefa"/>
<circle cx="464.7" cy="1117.4" r="5.45" fill="#87cefa"/>
<circle cx="473.4" cy="1117.4" r="5.45" fill="#87cefa"/>
<circle cx="474.1" cy="1125.4" r="5.45" fill="#87cefa"/>
<circle cx="484.3" cy="1123.9" r="5.45" fill="#87cefa"/>
<circle cx="489.3" cy="1123.2" r="5.45" fill="#87cefa"/>
<circle cx="489.3" cy="1129" r="5.45" fill="#87cefa"/>
<circle cx="499.5" cy="1132.6" r="5.45" fill="#87cefa"/>
<circle cx="458.9" cy="1141.3" r="5.45" fill="#87cefa"/>
<circle cx="461.1" cy="1145.6" r="5.45" fill="#87cefa"/>
<circle cx="459.7" cy="1151.4" r="5.45" fill="#87cefa"/>
<circle cx="463.3" cy="1150" r="5.45" fill="#87cefa"/>
<circle cx="466.9" cy="1156.5" r="5.45" fill="#87cefa"/>
<circle cx="510.3" cy="1179" r="5.45" fill="#87cefa"/>
<circle cx="443.7" cy="1199.2" r="5.45" fill="#87cefa"/>
<circle cx="444.4" cy="1205" r="5.45" fill="#87cefa"/>
<circle cx="442.3" cy="1217.3" r="5.45" fill="#87cefa"/>
<circle cx="439.4" cy="1231.1" r="5.45" fill="#87cefa"/>
<circle cx="416.2" cy="1223.1" r="5.45" fill="#87cefa"/>
<circle cx="419.1" cy="1223.9" r="5.45" fill="#87cefa"/>
<circle cx="427.8" cy="1222.4" r="5.45" fill="#87cefa"/>
<circle cx="433.6" cy="1221.7" r="5.45" fill="#87cefa"/>
<circle cx="419.1" cy="1238.3" r="5.45" fill="#87cefa"/>
<circle cx="462.3" cy="1075.4" r="5.45" fill="#00ff00"/>
<circle cx="452.6" cy="1182.3" r="5.45" fill="#ffa500"/>
<circle cx="451.7" cy="1197.1" r="5.45" fill="#ffa500"/>
<circle cx="455.3" cy="1075.4" r="5.45" fill="#ffa500"/>
<circle cx="453.1" cy="1086.3" r="5.45" fill="#ffa500"/>
<circle cx="455.3" cy="1089.2" r="5.45" fill="#ffa500"/>
<circle cx="413.3" cy="1094.7" r="5.45" fill="#ffa500"/>
<circle cx="417.7" cy="1110.9" r="5.45" fill="#ffa500"/>
<circle cx="423.4" cy="1109.4" r="5.45" fill="#ffa500"/>
<circle cx="427.8" cy="1108" r="5.45" fill="#ffa500"/>
<circle cx="427.1" cy="1116" r="5.45" fill="#ffa500"/>
<circle cx="432.1" cy="1108.7" r="5.45" fill="#ffa500"/>
<circle cx="435" cy="1110.9" r="5.45" fill="#ffa500"/>
<circle cx="439.4" cy="1113.1" r="5.45" fill="#ffa500"/>
<circle cx="443.7" cy="1100.8" r="5.45" fill="#ffa500"/>
<circle cx="442.3" cy="1105.1" r="5.45" fill="#ffa500"/>
<circle cx="448.8" cy="1101.9" r="5.45" fill="#ffa500"/>
<circle cx="453.1" cy="1183.3" r="5.45" fill="#ffa500"/>
<circle cx="452.1" cy="1197.8" r="5.45" fill="#ffa500"/>
<circle cx="469.5" cy="984.2" r="5.45" fill="#ff0000"/>
<circle cx="464" cy="996.9" r="5.45" fill="#ff0000"/>
<circle cx="469.8" cy="996.9" r="5.45" fill="#ff0000"/>
<circle cx="479.6" cy="1005.2" r="5.45" fill="#ff0000"/>
<circle cx="472.7" cy="1013.1" r="5.45" fill="#ff0000"/>
<circle cx="476.7" cy="1016" r="5.45" fill="#ff0000"/>
<circle cx="485.4" cy="1029.8" r="5.45" fill="#ff0000"/>
<circle cx="463.7" cy="1034.1" r="5.45" fill="#ff0000"/>
<circle cx="459.4" cy="1040.7" r="5.45" fill="#ff0000"/>
<circle cx="465.7" cy="1040.7" r="5.45" fill="#ff0000"/>
<circle cx="462.5" cy="1058.5" r="5.45" fill="#ff0000"/>
<circle cx="487.2" cy="1047.2" r="5.45" fill="#ff0000"/>
<circle cx="490.1" cy="1050.1" r="5.45" fill="#ff0000"/>
<circle cx="495.9" cy="1047.2" r="5.45" fill="#ff0000"/>
<circle cx="487.9" cy="1055.9" r="5.45" fill="#ff0000"/>
<circle cx="491.5" cy="1054.4" r="5.45" fill="#ff0000"/>
<circle cx="495.9" cy="1054.4" r="5.45" fill="#ff0000"/>
<circle cx="500.2" cy="1060.2" r="5.45" fill="#ff0000"/>
<circle cx="487.2" cy="1060.2" r="5.45" fill="#ff0000"/>
<circle cx="494.4" cy="1058.8" r="5.45" fill="#ff0000"/>
<circle cx="502.1" cy="1096.4" r="5.45" fill="#ff0000"/>
<circle cx="502.4" cy="1102.2" r="5.45" fill="#ff0000"/>
<circle cx="455.3" cy="1084.8" r="5.45" fill="#ff0000"/>
</g>
<path d="M468.1 971l6.9 6.9l-6.9 6.9l-6.9 -6.9z" fill="#8a2be2" stroke="#333" stroke-width="1"/>
</g>
<text x="468.1" y="966.4" font-size="16" text-anchor="middle" fill="#111">rs59547557</text>
<g transform="translate(791.5,922.9)">
<rect x="0" y="0" width="66.5" height="159" fill="#fff" stroke="#555" stroke-width="1.2"/>
<rect x="9.4" y="27.8" width="15.7" height="24.6" fill="#ff0000" stroke="#444" stroke-width="0.8"/>
<rect x="9.4" y="52.4" width="15.7" height="24.6" fill="#ffa500" stroke="#444" stroke-width="0.8"/>
<rect x="9.4" y="77" width="15.7" height="24.6" fill="#00ff00" stroke="#444" stroke-width="0.8"/>
<rect x="9.4" y="101.6" width="15.7" height="24.6" fill="#87cefa" stroke="#444" stroke-width="0.8"/>
<rect x="9.4" y="126.2" width="15.7" height="24.6" fill="#000080" stroke="#444" stroke-width="0.8"/>
<line x1="25.1" y1="52.4" x2="33.5" y2="52.4" stroke="#444" stroke-width="1.2"/>
<text x="38.2" y="57.2" font-size="13.5" fill="#444">0.8</text>
<line x1="25.1" y1="77" x2="33.5" y2="77" stroke="#444" stroke-width="1.2"/>
<text x="38.2" y="81.8" font-size="13.5" fill="#444">0.6</text>
<line x1="25.1" y1="101.6" x2="33.5" y2="101.6" stroke="#444" stroke-width="1.2"/>
<text x="38.2" y="106.4" font-size="13.5" fill="#444">0.4</text>
<line x1="25.1" y1="126.2" x2="33.5" y2="126.2" stroke="#444" stroke-width="1.2"/>
<text x="38.2" y="131" font-size="13.5" fill="#444">0.2</text>
<text x="28.2" y="22.3" font-size="15" fill="#444">r<tspan font-size="10.5" dy="-7">2</tspan></text>
</g>
<rect x="70.5" y="1432.4" width="795.7" height="62.7" fill="none" stroke="#888888" stroke-width="1.2"/>
<line x1="70.5" y1="1454.6" x2="114.6" y2="1454.6" stroke="#00008b" stroke-width="1.2"/>
<rect x="81.1" y="1451.3" width="5.7" height="6.6" rx="0.9" fill="#00008b"/>
<rect x="89.7" y="1451.3" width="4.8" height="6.6" rx="0.9" fill="#00008b"/>
<rect x="94.3" y="1451.3" width="5.2" height="6.6" rx="0.9" fill="#00008b"/>
<rect x="102.9" y="1451.3" width="4.7" height="6.6" rx="0.9" fill="#00008b"/>
<rect x="113.5" y="1451.3" width="2.2" height="6.6" rx="0.9" fill="#00008b"/>
<text x="73" y="1447.7" font-size="13.6" font-style="italic" fill="#000"><tspan font-family="DejaVu Sans, sans-serif" font-style="normal" font-size="11" dy="-1.8">⟵</tspan><tspan dx="1.4" dy="1.8">ADAM3A</tspan></text>
<line x1="176.5" y1="1454.6" x2="321.1" y2="1454.6" stroke="#00008b" stroke-width="1.2"/>
<rect x="175.4" y="1451.3" width="2.2" height="6.6" rx="0.9" fill="#00008b"/>
<rect x="196.7" y="1451.3" width="2.2" height="6.6" rx="0.9" fill="#00008b"/>
<rect x="198.7" y="1451.3" width="5.3" height="6.6" rx="0.9" fill="#00008b"/>
<rect x="219.5" y="1451.3" width="2.2" height="6.6" rx="0.9" fill="#00008b"/>
<rect x="228.1" y="1451.3" width="2.2" height="6.6" rx="0.9" fill="#00008b"/>
<rect x="235.2" y="1451.3" width="2.2" height="6.6" rx="0.9" fill="#00008b"/>
<rect x="238.3" y="1451.3" width="2.2" height="6.6" rx="0.9" fill="#00008b"/>
<rect x="253.7" y="1451.3" width="2.2" height="6.6" rx="0.9" fill="#00008b"/>
<rect x="257.9" y="1451.3" width="2.2" height="6.6" rx="0.9" fill="#00008b"/>
<rect x="267.4" y="1451.3" width="2.2" height="6.6" rx="0.9" fill="#00008b"/>
<rect x="269.7" y="1451.3" width="2.2" height="6.6" rx="0.9" fill="#00008b"/>
<rect x="282.7" y="1451.3" width="2.2" height="6.6" rx="0.9" fill="#00008b"/>
<rect x="296.9" y="1451.3" width="2.2" height="6.6" rx="0.9" fill="#00008b"/>
<rect x="313.5" y="1451.3" width="2.2" height="6.6" rx="0.9" fill="#00008b"/>
<rect x="320" y="1451.3" width="2.2" height="6.6" rx="0.9" fill="#00008b"/>
<text x="215" y="1447.7" font-size="13.6" font-style="italic" fill="#000">ADAM18<tspan dx="1.2"><tspan font-family="DejaVu Sans, sans-serif" font-style="normal" font-size="11" dy="-1.8">⟶</tspan></tspan></text>
<line x1="334.1" y1="1454.6" x2="428.2" y2="1454.6" stroke="#00008b" stroke-width="1.2"/>
<rect x="333" y="1451.3" width="5.8" height="6.6" rx="0.9" fill="#00008b"/>
<rect x="339.5" y="1451.3" width="2.2" height="6.6" rx="0.9" fill="#00008b"/>
<rect x="345.4" y="1451.3" width="2.2" height="6.6" rx="0.9" fill="#00008b"/>
<rect x="350.8" y="1451.3" width="2.2" height="6.6" rx="0.9" fill="#00008b"/>
<rect x="356.7" y="1451.3" width="4.5" height="6.6" rx="0.9" fill="#00008b"/>
<rect x="366.7" y="1451.3" width="2.2" height="6.6" rx="0.9" fill="#00008b"/>
<rect x="376.8" y="1451.3" width="3.4" height="6.6" rx="0.9" fill="#00008b"/>
<rect x="398.7" y="1451.3" width="2.2" height="6.6" rx="0.9" fill="#00008b"/>
<rect x="410.5" y="1451.3" width="2.2" height="6.6" rx="0.9" fill="#00008b"/>
<rect x="414.1" y="1451.3" width="2.2" height="6.6" rx="0.9" fill="#00008b"/>
<rect x="423.5" y="1451.3" width="2.2" height="6.6" rx="0.9" fill="#00008b"/>
<rect x="427.1" y="1451.3" width="2.2" height="6.6" rx="0.9" fill="#00008b"/>
<text x="348.6" y="1447.7" font-size="13.6" font-style="italic" fill="#000"><tspan font-family="DejaVu Sans, sans-serif" font-style="normal" font-size="11" dy="-1.8">⟵</tspan><tspan dx="1.4" dy="1.8">ADAM2</tspan></text>
<line x1="503.7" y1="1454.6" x2="518.5" y2="1454.6" stroke="#00008b" stroke-width="1.2"/>
<rect x="502.6" y="1451.3" width="2.2" height="6.6" rx="0.9" fill="#00008b"/>
<rect x="505.4" y="1451.3" width="5.2" height="6.6" rx="0.9" fill="#00008b"/>
<rect x="510.4" y="1451.3" width="5.2" height="6.6" rx="0.9" fill="#00008b"/>
<rect x="517.4" y="1451.3" width="2.2" height="6.6" rx="0.9" fill="#00008b"/>
<text x="488.3" y="1447.7" font-size="13.6" font-style="italic" fill="#000">IDO1<tspan dx="1.2"><tspan font-family="DejaVu Sans, sans-serif" font-style="normal" font-size="11" dy="-1.8">⟶</tspan></tspan></text>
<line x1="742.3" y1="1454.6" x2="743.7" y2="1454.6" stroke="#00008b" stroke-width="1.2"/>
<rect x="741.2" y="1451.3" width="3.6" height="6.6" rx="0.9" fill="#00008b"/>
<text x="716.4" y="1447.7" font-size="13.6" font-style="italic" fill="#000">C8orf4<tspan dx="1.2"><tspan font-family="DejaVu Sans, sans-serif" font-style="normal" font-size="11" dy="-1.8">⟶</tspan></tspan></text>
<line x1="154.7" y1="1486.6" x2="171.9" y2="1486.6" stroke="#00008b" stroke-width="1.2"/>
<rect x="153.6" y="1483.3" width="2.2" height="6.6" rx="0.9" fill="#00008b"/>
<rect x="156.1" y="1483.3" width="2.2" height="6.6" rx="0.9" fill="#00008b"/>
<rect x="163.7" y="1483.3" width="2.2" height="6.6" rx="0.9" fill="#00008b"/>
<rect x="164.8" y="1483.3" width="2.2" height="6.6" rx="0.9" fill="#00008b"/>
<rect x="167.3" y="1483.3" width="2.2" height="6.6" rx="0.9" fill="#00008b"/>
<rect x="170.8" y="1483.3" width="2.2" height="6.6" rx="0.9" fill="#00008b"/>
<text x="107.8" y="1479.7" font-size="13.6" font-style="italic" fill="#000">LOC100130964<tspan dx="1.2"><tspan font-family="DejaVu Sans, sans-serif" font-style="normal" font-size="11" dy="-1.8">⟶</tspan></tspan></text>
<line x1="525" y1="1486.6" x2="605.6" y2="1486.6" stroke="#00008b" stroke-width="1.2"/>
<rect x="523.9" y="1483.3" width="2.2" height="6.6" rx="0.9" fill="#00008b"/>
<rect x="538.1" y="1483.3" width="2.2" height="6.6" rx="0.9" fill="#00008b"/>
<rect x="552.2" y="1483.3" width="2.2" height="6.6" rx="0.9" fill="#00008b"/>
<rect x="567.8" y="1483.3" width="2.2" height="6.6" rx="0.9" fill="#00008b"/>
<rect x="571.5" y="1483.3" width="4.7" height="6.6" rx="0.9" fill="#00008b"/>
<rect x="577.7" y="1483.3" width="2.2" height="6.6" rx="0.9" fill="#00008b"/>
<rect x="593.8" y="1483.3" width="2.2" height="6.6" rx="0.9" fill="#00008b"/>
<rect x="603.1" y="1483.3" width="3.8" height="6.6" rx="0.9" fill="#00008b"/>
<text x="542.9" y="1479.7" font-size="13.6" font-style="italic" fill="#000">IDO2<tspan dx="1.2"><tspan font-family="DejaVu Sans, sans-serif" font-style="normal" font-size="11" dy="-1.8">⟶</tspan></tspan></text>
<line x1="134.4" y1="1495.1" x2="134.4" y2="1505.7" stroke="#555555" stroke-width="1.2"/>
<text x="134.4" y="1532.5" font-size="16.2" text-anchor="middle" fill="#4a4a4a">39.4</text>
<line x1="333.4" y1="1495.1" x2="333.4" y2="1505.7" stroke="#555555" stroke-width="1.2"/>
<text x="333.4" y="1532.5" font-size="16.2" text-anchor="middle" fill="#4a4a4a">39.6</text>
<line x1="532.4" y1="1495.1" x2="532.4" y2="1505.7" stroke="#555555" stroke-width="1.2"/>
<text x="532.4" y="1532.5" font-size="16.2" text-anchor="middle" fill="#4a4a4a">39.8</text>
<line x1="731.4" y1="1495.1" x2="731.4" y2="1505.7" stroke="#555555" stroke-width="1.2"/>
<text x="731.4" y="1532.5" font-size="16.2" text-anchor="middle" fill="#4a4a4a">40</text>
<text x="468.3" y="1554.8" font-size="16.7" text-anchor="middle" fill="#4a4a4a">Position on chr8 (Mb)</text>
<line x1="1254.2" y1="1320.8" x2="1130.6" y2="1012.2" stroke="#ff6a10" stroke-width="1.6"/>
<line x1="1254.2" y1="1320.8" x2="1128.5" y2="1031.7" stroke="#ff6a10" stroke-width="1.6"/>
<line x1="1254.2" y1="1320.8" x2="1215.3" y2="1012.2" stroke="#ff1010" stroke-width="2"/>
<line x1="1254.2" y1="1320.8" x2="1231.5" y2="1082.3" stroke="#ff6010" stroke-width="1.5"/>
<line x1="1254.2" y1="1320.8" x2="1204.5" y2="1084.4" stroke="#ffa020" stroke-width="1.5"/>
<line x1="1254.2" y1="1320.8" x2="1274.8" y2="1089.6" stroke="#ffa82a" stroke-width="1.5"/>
<path d="M1057.4 993.6h0M1096 998.7h0M1249.9 998.7h0M1288.3 993.6h0M1024.1 1024.1h0M1057.9 1020.9h0M1093.3 1023.3h0M1252.6 1023.3h0M1288 1020.9h0M1321.8 1024.1h0M1048.7 1063.1h0M1096.3 1063.9h0M1249.6 1063.9h0M1296.9 1063.1h0M1073.9 1071.7h0M1272.1 1071.7h0M953.8 1082h0M1392.1 1082h0M1048.4 1085.5h0M1093.9 1086.9h0M1252.3 1086.9h0M1297.2 1085.5h0M1172.8 1108.8h0M953.3 1116.1h0M1392.4 1116.1h0M954.6 1149.9h0M1172.8 1151.2h0M1391.3 1149.9h0M1126.6 1173.4h0M1219.3 1173.4h0M957 1183.4h0M1388.6 1183.4h0M961.1 1217.2h0M1384.8 1217.2h0M1131.5 1226.1h0M1214.5 1226.1h0M1151.7 1231.3h0M1194.5 1231.3h0M966.2 1251.3h0M1379.7 1251.3h0M972.7 1285.1h0M1372.9 1285.1h0M1120.4 1302.7h0M1225.6 1302.7h0M982.2 1317.8h0M1363.7 1317.8h0M1103.9 1320.8h0M1132.5 1316.7h0M1132.5 1322.1h0M1213.4 1316.7h0M1213.4 1322.1h0M1242.1 1320.8h0M1114.7 1337.8h0M1231.2 1337.8h0M994.9 1348.9h0M1140.9 1349.2h0M1205 1349.2h0M1351 1348.9h0M1010.8 1377.6h0M1335.1 1377.6h0M1030.3 1403.5h0M1315.3 1403.5h0M1053 1426.8h0M1292.9 1426.8h0M1077.9 1447.6h0M1267.7 1447.6h0M1106 1464.4h0M1239.9 1464.4h0M1137.7 1475.5h0M1208.3 1475.5h0" stroke="#aaaaaa" stroke-width="5.4" stroke-linecap="round" fill="none"/>
<path d="M1019.8 1001.4h0M1325.9 1001.4h0M1130.6 1012.2h0M1215.3 1012.2h0M991.9 1030.9h0M1128.5 1031.7h0M1217.4 1031.7h0M1354 1030.9h0M955.7 1046.6h0M1390.2 1046.6h0M1072.8 1057.4h0M1272.9 1057.4h0M1172.8 1066.3h0M1028.7 1077.4h0M1317.2 1077.4h0M1071.2 1089.6h0M1114.1 1082.3h0M1141.5 1084.4h0M1204.5 1084.4h0M1231.5 1082.3h0M1274.8 1089.6h0M1172.8 1193.7h0M1113.1 1213.7h0M1232.9 1213.7h0M1172.8 1238.8h0M1152.5 1290.2h0M1193.1 1290.2h0M1172.8 1295.4h0M1091.4 1320.8h0M1172.8 1317h0M1172.8 1323.2h0M1254.2 1320.8h0M1172.8 1353.5h0M1172.8 1479h0" stroke="#000" stroke-width="6" stroke-linecap="round" fill="none"/>
<text x="1179" y="1030.1" font-size="14" font-weight="bold" fill="#ff2020">D332</text>
<line x1="1800.2" y1="1321.7" x2="1679.8" y2="1013.1" stroke="#7b5cff" stroke-width="1.4"/>
<line x1="1800.2" y1="1321.7" x2="1677.7" y2="1032.6" stroke="#7b5cff" stroke-width="1.4"/>
<line x1="1800.2" y1="1321.7" x2="1762.3" y2="1013.1" stroke="#7b5cff" stroke-width="1.4"/>
<line x1="1800.2" y1="1321.7" x2="1778.1" y2="1083.2" stroke="#7b5cff" stroke-width="1.4"/>
<line x1="1800.2" y1="1321.7" x2="1751.7" y2="1085.3" stroke="#7b5cff" stroke-width="1.4"/>
<line x1="1800.2" y1="1321.7" x2="1820.2" y2="1090.5" stroke="#7b5cff" stroke-width="1.4"/>
<path d="M1608.4 994.5h0M1646.1 999.6h0M1796 999.6h0M1833.4 994.5h0M1576 1025h0M1609 1021.8h0M1643.5 1024.2h0M1798.6 1024.2h0M1833.1 1021.8h0M1866 1025h0M1600 1064h0M1646.4 1064.8h0M1795.7 1064.8h0M1841.8 1064h0M1624.5 1072.6h0M1817.6 1072.6h0M1507.6 1082.9h0M1934.5 1082.9h0M1599.7 1086.4h0M1644 1087.8h0M1798.3 1087.8h0M1842.1 1086.4h0M1720.9 1109.7h0M1507 1117h0M1934.8 1117h0M1508.3 1150.8h0M1720.9 1152.1h0M1933.7 1150.8h0M1675.9 1174.3h0M1766.2 1174.3h0M1510.7 1184.3h0M1931.1 1184.3h0M1514.7 1218.1h0M1927.4 1218.1h0M1680.6 1227h0M1761.5 1227h0M1700.4 1232.2h0M1742 1232.2h0M1519.7 1252.2h0M1922.4 1252.2h0M1526 1286h0M1915.8 1286h0M1669.8 1303.6h0M1772.3 1303.6h0M1535.2 1318.7h0M1906.9 1318.7h0M1653.7 1321.7h0M1681.7 1317.6h0M1681.7 1323h0M1760.4 1317.6h0M1760.4 1323h0M1788.3 1321.7h0M1664.3 1338.7h0M1777.8 1338.7h0M1547.6 1349.8h0M1689.8 1350.1h0M1752.2 1350.1h0M1894.5 1349.8h0M1563.1 1378.5h0M1878.9 1378.5h0M1582.1 1404.4h0M1859.7 1404.4h0M1604.2 1427.7h0M1837.8 1427.7h0M1628.5 1448.5h0M1813.3 1448.5h0M1655.8 1465.3h0M1786.2 1465.3h0M1686.7 1476.4h0M1755.4 1476.4h0" stroke="#aaaaaa" stroke-width="5.4" stroke-linecap="round" fill="none"/>
<path d="M1571.8 1002.3h0M1870 1002.3h0M1679.8 1013.1h0M1762.3 1013.1h0M1544.7 1031.8h0M1677.7 1032.6h0M1764.4 1032.6h0M1897.4 1031.8h0M1509.4 1047.5h0M1932.7 1047.5h0M1623.4 1058.3h0M1818.4 1058.3h0M1720.9 1067.2h0M1580.5 1078.3h0M1861.5 1078.3h0M1621.9 1090.5h0M1663.7 1083.2h0M1690.3 1085.3h0M1751.7 1085.3h0M1778.1 1083.2h0M1820.2 1090.5h0M1720.9 1194.6h0M1662.7 1214.6h0M1779.4 1214.6h0M1720.9 1239.7h0M1701.1 1291.1h0M1740.7 1291.1h0M1720.9 1296.3h0M1641.6 1321.7h0M1720.9 1317.9h0M1720.9 1324.1h0M1800.2 1321.7h0M1720.9 1354.4h0M1720.9 1479.9h0" stroke="#000" stroke-width="6" stroke-linecap="round" fill="none"/>
<text x="1727" y="1031" font-size="14" font-weight="bold" fill="#7b5cff">D332</text>
<rect x="1422.2" y="1137.8" width="31.7" height="161.5" fill="url(#gp)"/>
<path d="M1422.2 1148.4h5.7M1448.2 1148.4h5.7" stroke="#fff" stroke-width="1.1"/>
<text x="1464" y="1154.3" font-size="16.3" fill="#111">9.0</text>
<path d="M1422.2 1199.1h5.7M1448.2 1199.1h5.7" stroke="#fff" stroke-width="1.1"/>
<text x="1464" y="1205" font-size="16.3" fill="#111">8.5</text>
<path d="M1422.2 1250.2h5.7M1448.2 1250.2h5.7" stroke="#fff" stroke-width="1.1"/>
<text x="1464" y="1256.1" font-size="16.3" fill="#111">8.0</text>
<text x="1421.5" y="1124.8" font-size="20" fill="#000">−log(P)</text>
<rect x="1963.4" y="1137.9" width="31.8" height="161.5" fill="url(#gb)"/>
<path d="M1963.4 1164.7h5.7M1989.5 1164.7h5.7" stroke="#fff" stroke-width="1.1"/>
<text x="2005.4" y="1170.6" font-size="16.3" fill="#111">0.10</text>
<path d="M1963.4 1191.5h5.7M1989.5 1191.5h5.7" stroke="#fff" stroke-width="1.1"/>
<text x="2005.4" y="1197.4" font-size="16.3" fill="#111">0.05</text>
<path d="M1963.4 1218.6h5.7M1989.5 1218.6h5.7" stroke="#fff" stroke-width="1.1"/>
<text x="2005.4" y="1224.5" font-size="16.3" fill="#111">0.00</text>
<path d="M1963.4 1245.7h5.7M1989.5 1245.7h5.7" stroke="#fff" stroke-width="1.1"/>
<text x="2005.4" y="1251.6" font-size="16.3" fill="#111">−0.05</text>
<path d="M1963.4 1272.5h5.7M1989.5 1272.5h5.7" stroke="#fff" stroke-width="1.1"/>
<text x="2005.4" y="1278.4" font-size="16.3" fill="#111">−0.10</text>
<text x="1963.2" y="1124.6" font-size="20" fill="#000">beta/sd</text>
<text y="1704.5" font-size="48" font-weight="bold" fill="#000"><tspan x="24">c</tspan><tspan x="56">)</tspan></text>
<text transform="translate(485.5,1705.9) scale(0.986,1.065)" font-size="41.5" text-anchor="middle" fill="#000">10p11.1</text>
<rect x="70.5" y="1748.2" width="795.7" height="497" fill="none" stroke="#888888" stroke-width="1.2"/>
<line x1="70.5" y1="2222.2" x2="70.5" y2="1770.2" stroke="#555555" stroke-width="1.3"/>
<line x1="60" y1="2222.2" x2="70.5" y2="2222.2" stroke="#555555" stroke-width="1.3"/>
<text x="50" y="2228" font-size="16.2" text-anchor="end" fill="#4a4a4a">0</text>
<line x1="60" y1="2131.8" x2="70.5" y2="2131.8" stroke="#555555" stroke-width="1.3"/>
<text x="50" y="2137.6" font-size="16.2" text-anchor="end" fill="#4a4a4a">2</text>
<line x1="60" y1="2041.4" x2="70.5" y2="2041.4" stroke="#555555" stroke-width="1.3"/>
<text x="50" y="2047.2" font-size="16.2" text-anchor="end" fill="#4a4a4a">4</text>
<line x1="60" y1="1951" x2="70.5" y2="1951" stroke="#555555" stroke-width="1.3"/>
<text x="50" y="1956.8" font-size="16.2" text-anchor="end" fill="#4a4a4a">6</text>
<line x1="60" y1="1860.6" x2="70.5" y2="1860.6" stroke="#555555" stroke-width="1.3"/>
<text x="50" y="1866.4" font-size="16.2" text-anchor="end" fill="#4a4a4a">8</text>
<line x1="60" y1="1770.2" x2="70.5" y2="1770.2" stroke="#555555" stroke-width="1.3"/>
<text x="50" y="1776" font-size="16.2" text-anchor="end" fill="#4a4a4a">10</text>
<line x1="866.2" y1="2222.6" x2="866.2" y2="1770.1" stroke="#4b4bdd" stroke-width="1.0"/>
<line x1="866.2" y1="2222.6" x2="876.3" y2="2222.6" stroke="#3a3aff" stroke-width="1.3"/>
<text x="887" y="2228.4" font-size="16.2" fill="#3a3aff">0</text>
<line x1="866.2" y1="2132.1" x2="876.3" y2="2132.1" stroke="#3a3aff" stroke-width="1.3"/>
<text x="887" y="2137.9" font-size="16.2" fill="#3a3aff">20</text>
<line x1="866.2" y1="2041.6" x2="876.3" y2="2041.6" stroke="#3a3aff" stroke-width="1.3"/>
<text x="887" y="2047.4" font-size="16.2" fill="#3a3aff">40</text>
<line x1="866.2" y1="1951.1" x2="876.3" y2="1951.1" stroke="#3a3aff" stroke-width="1.3"/>
<text x="887" y="1956.9" font-size="16.2" fill="#3a3aff">60</text>
<line x1="866.2" y1="1860.6" x2="876.3" y2="1860.6" stroke="#3a3aff" stroke-width="1.3"/>
<text x="887" y="1866.4" font-size="16.2" fill="#3a3aff">80</text>
<line x1="866.2" y1="1770.1" x2="876.3" y2="1770.1" stroke="#3a3aff" stroke-width="1.3"/>
<text x="887" y="1775.9" font-size="16.2" fill="#3a3aff">100</text>
<text transform="translate(919.6,1996.7) rotate(90)" font-size="16.75" text-anchor="middle" fill="#3a3aff">Recombination rate (cM/Mb)</text>
<text transform="translate(15.4,2055.4) rotate(-90)" font-size="16.7" fill="#4a4a4a">−<tspan dx="1">log</tspan><tspan font-size="11.5" dy="4">10</tspan><tspan dy="-4">(p−value)</tspan></text>
<path d="M70.5 2221 L398 2221 L399 2210 L400 2221 L488 2221 L489 2214 L493 2214 L494 2221 L525 2221 L526 2215 L527 2221 L866 2221" fill="none" stroke="#2b2bff" stroke-width="1.8" clip-path="url(#clipc)"/>
<g clip-path="url(#clipc)">
<g fill="none" stroke-linecap="round">
<use href="#pc0" stroke="#424242" stroke-width="12"/>
<use href="#pc0" stroke="#000080" stroke-width="8.9"/>
<use href="#pc1" stroke="#424242" stroke-width="12"/>
<path d="M407 2204h0M275 2213h0M207 2204h0M832 2220h0M296 2198h0M258 2196h0M374 2212h0M94 2205h0M517 2212h0M383 2223h0M177 2200h0M88 2205h0M393 2214h0M282 2213h0M165 2218h0M265 2221h0M644 2211h0M202 2216h0M171 2214h0M240 2214h0M193 2201h0M242 2211h0M842 2207h0" stroke="#000080" stroke-width="8.9"/>
<path d="M220 2208h0" stroke="#a8a8a8" stroke-width="8.9"/>
<use href="#pc2" stroke="#424242" stroke-width="12"/>
<use href="#pc2" stroke="#000080" stroke-width="8.9"/>
<use href="#pc3" stroke="#424242" stroke-width="12"/>
<use href="#pc3" stroke="#000080" stroke-width="8.9"/>
<use href="#pc4" stroke="#424242" stroke-width="12"/>
<path d="M387 2217h0M149 2205h0M96 2206h0M270 2223h0M308 2196h0M830 2199h0M373 2223h0M199 2205h0M175 2215h0M330 2214h0M194 2204h0M368 2218h0M295 2223h0M92 2214h0M627 2209h0M331 2220h0M231 2220h0M219 2204h0M325 2204h0M652 2206h0M150 2222h0M72 2222h0M145 2200h0" stroke="#000080" stroke-width="8.9"/>
<path d="M89 2223h0" stroke="#a8a8a8" stroke-width="8.9"/>
<use href="#pc5" stroke="#424242" stroke-width="12"/>
<path d="M314 2196h0" stroke="#a8a8a8" stroke-width="8.9"/>
<path d="M177 2219h0M244 2206h0M297 2211h0M393 2216h0M259 2223h0M391 2220h0M124 2214h0M137 2214h0M89 2215h0M159 2206h0M163 2218h0M107 2223h0M201 2217h0M186 2206h0M297 2204h0M112 2220h0M75 2207h0M209 2210h0M351 2200h0M79 2211h0M258 2215h0M232 2223h0M239 2199h0" stroke="#000080" stroke-width="8.9"/>
<use href="#pc6" stroke="#424242" stroke-width="12"/>
<use href="#pc6" stroke="#000080" stroke-width="8.9"/>
<use href="#pc7" stroke="#424242" stroke-width="12"/>
<path d="M285 2222h0M187 2218h0M117 2203h0M92 2204h0M72 2205h0M283 2206h0M354 2212h0M385 2208h0M179 2217h0M243 2203h0M89 2210h0M108 2212h0M379 2209h0M174 2196h0M244 2218h0M324 2200h0M301 2201h0M266 2201h0M181 2200h0M300 2211h0M181 2222h0" stroke="#000080" stroke-width="8.9"/>
<path d="M337 2221h0M341 2223h0M326 2214h0" stroke="#a8a8a8" stroke-width="8.9"/>
<use href="#pc8" stroke="#424242" stroke-width="12"/>
<path d="M282 2218h0M135 2201h0M326 2222h0M150 2217h0M368 2215h0M223 2219h0M372 2197h0M219 2210h0M165 2216h0M314 2221h0M382 2209h0M371 2211h0M671 2208h0M186 2202h0M199 2203h0M363 2217h0M216 2198h0M144 2199h0M74 2223h0M194 2222h0M315 2222h0M168 2219h0" stroke="#000080" stroke-width="8.9"/>
<path d="M338 2212h0M158 2208h0" stroke="#a8a8a8" stroke-width="8.9"/>
<use href="#pc9" stroke="#424242" stroke-width="12"/>
<use href="#pc9" stroke="#000080" stroke-width="8.9"/>
<use href="#pc10" stroke="#424242" stroke-width="12"/>
<path d="M313 2215h0M405 2211h0M247 2223h0M117 2198h0M121 2215h0M250 2203h0M135 2195h0M311 2218h0M338 2222h0M259 2216h0M366 2223h0M345 2204h0M121 2214h0M265 2199h0M195 2215h0M134 2217h0M377 2223h0M130 2207h0M250 2221h0M118 2220h0M365 2213h0M180 2219h0M152 2221h0" stroke="#000080" stroke-width="8.9"/>
<path d="M161 2216h0" stroke="#a8a8a8" stroke-width="8.9"/>
<use href="#pc11" stroke="#424242" stroke-width="12"/>
<path d="M325 2201h0" stroke="#a8a8a8" stroke-width="8.9"/>
<path d="M356 2213h0M252 2211h0M66 2206h0M543 2196h0M194 2220h0M523 2214h0M91 2221h0M237 2218h0M214 2203h0M315 2220h0M111 2222h0M281 2218h0M320 2222h0M256 2196h0M142 2198h0M122 2218h0M68 2222h0M297 2217h0M244 2211h0M288 2201h0M100 2222h0M597 2202h0M122 2208h0" stroke="#000080" stroke-width="8.9"/>
<use href="#pc12" stroke="#424242" stroke-width="12"/>
<use href="#pc12" stroke="#000080" stroke-width="8.9"/>
<use href="#pc13" stroke="#424242" stroke-width="12"/>
<path d="M120 2212h0M443 2213h0M562 2197h0M809 2220h0M546 2216h0M153 2195h0M392 2223h0M68 2217h0M848 2196h0M333 2220h0M247 2206h0M391 2216h0M344 2222h0M324 2210h0M355 2222h0M380 2220h0M120 2207h0M117 2221h0M324 2197h0M607 2198h0M138 2223h0M344 2217h0" stroke="#000080" stroke-width="8.9"/>
<path d="M171 2195h0M485 2202h0" stroke="#a8a8a8" stroke-width="8.9"/>
<use href="#pc14" stroke="#424242" stroke-width="12"/>
<use href="#pc14" stroke="#000080" stroke-width="8.9"/>
<use href="#pc15" stroke="#424242" stroke-width="12"/>
<path d="M603 2211h0M209 2221h0M763 2209h0M254 2208h0M199 2222h0M367 2218h0M285 2207h0M378 2223h0M136 2221h0M273 2213h0M144 2217h0M386 2207h0M147 2199h0M69 2223h0M391 2223h0M234 2223h0M225 2217h0M211 2223h0M156 2210h0M344 2217h0M198 2208h0M382 2199h0M171 2213h0" stroke="#000080" stroke-width="8.9"/>
<path d="M146 2218h0" stroke="#a8a8a8" stroke-width="8.9"/>
<use href="#pc16" stroke="#424242" stroke-width="12"/>
<path d="M137 2216h0M349 2222h0M298 2209h0M143 2201h0M357 2223h0M603 2205h0M94 2209h0M336 2223h0M185 2217h0M116 2216h0M86 2223h0M190 2211h0M392 2204h0M317 2223h0M246 2223h0M166 2217h0M170 2217h0M825 2213h0M118 2202h0M328 2223h0M199 2221h0M552 2197h0M141 2198h0" stroke="#000080" stroke-width="8.9"/>
<path d="M353 2223h0" stroke="#a8a8a8" stroke-width="8.9"/>
<use href="#pc17" stroke="#424242" stroke-width="12"/>
<use href="#pc17" stroke="#000080" stroke-width="8.9"/>
<use href="#pc18" stroke="#424242" stroke-width="12"/>
<use href="#pc18" stroke="#000080" stroke-width="8.9"/>
<use href="#pc19" stroke="#424242" stroke-width="12"/>
<use href="#pc19" stroke="#000080" stroke-width="8.9"/>
<use href="#pc20" stroke="#424242" stroke-width="12"/>
<use href="#pc20" stroke="#000080" stroke-width="8.9"/>
<use href="#pc21" stroke="#424242" stroke-width="12"/>
<use href="#pc21" stroke="#000080" stroke-width="8.9"/>
<use href="#pc22" stroke="#424242" stroke-width="12"/>
<use href="#pc22" stroke="#000080" stroke-width="8.9"/>
<use href="#pc23" stroke="#424242" stroke-width="12"/>
<path d="M369 2201h0M378 2221h0M232 2223h0M240 2209h0M119 2202h0M222 2216h0M351 2196h0M350 2222h0M373 2216h0M130 2209h0M375 2206h0M328 2218h0M136 2203h0M256 2220h0M96 2208h0M312 2205h0M277 2210h0M303 2220h0M135 2204h0M272 2218h0M236 2201h0M228 2213h0" stroke="#000080" stroke-width="8.9"/>
<path d="M219 2215h0M96 2222h0" stroke="#a8a8a8" stroke-width="8.9"/>
<use href="#pc24" stroke="#424242" stroke-width="12"/>
<use href="#pc24" stroke="#000080" stroke-width="8.9"/>
<use href="#pc25" stroke="#424242" stroke-width="12"/>
<use href="#pc25" stroke="#000080" stroke-width="8.9"/>
<use href="#pc26" stroke="#424242" stroke-width="12"/>
<path d="M275 2202h0" stroke="#a8a8a8" stroke-width="8.9"/>
<path d="M304 2220h0M267 2212h0M145 2198h0M248 2196h0M180 2221h0M302 2223h0M348 2197h0M142 2193h0M198 2215h0M278 2216h0M274 2220h0M215 2221h0M140 2220h0M259 2219h0M278 2221h0M105 2223h0M190 2223h0M363 2202h0M769 2199h0M206 2219h0M235 2204h0M212 2207h0M195 2216h0" stroke="#000080" stroke-width="8.9"/>
<use href="#pc27" stroke="#424242" stroke-width="12"/>
<use href="#pc27" stroke="#000080" stroke-width="8.9"/>
<use href="#pc28" stroke="#424242" stroke-width="12"/>
<path d="M374 2201h0M795 2214h0M575 2205h0M103 2215h0M315 2212h0M157 2215h0M143 2222h0M166 2207h0M264 2203h0M380 2221h0M188 2202h0M81 2206h0M741 2215h0M501 2209h0M201 2221h0M207 2209h0M106 2218h0M101 2214h0M323 2214h0M373 2219h0M189 2201h0M235 2208h0M79 2223h0" stroke="#000080" stroke-width="8.9"/>
<path d="M214 2218h0" stroke="#a8a8a8" stroke-width="8.9"/>
<use href="#pc29" stroke="#424242" stroke-width="12"/>
<use href="#pc29" stroke="#000080" stroke-width="8.9"/>
<use href="#pc30" stroke="#424242" stroke-width="12"/>
<use href="#pc30" stroke="#000080" stroke-width="8.9"/>
<use href="#pc31" stroke="#424242" stroke-width="12"/>
<use href="#pc31" stroke="#000080" stroke-width="8.9"/>
<use href="#pc32" stroke="#424242" stroke-width="12"/>
<use href="#pc32" stroke="#000080" stroke-width="8.9"/>
<use href="#pc33" stroke="#424242" stroke-width="12"/>
<path d="M227 2222h0M193 2222h0M327 2212h0M752 2200h0M252 2214h0M327 2207h0M250 2199h0M376 2197h0M122 2198h0M145 2216h0M166 2200h0M304 2209h0M274 2198h0M314 2214h0M268 2210h0M286 2220h0M171 2206h0M290 2214h0M239 2206h0M310 2199h0M181 2207h0M240 2217h0M270 2222h0" stroke="#000080" stroke-width="8.9"/>
<path d="M375 2205h0" stroke="#a8a8a8" stroke-width="8.9"/>
<use href="#pc34" stroke="#424242" stroke-width="12"/>
<use href="#pc34" stroke="#000080" stroke-width="8.9"/>
<use href="#pc35" stroke="#424242" stroke-width="12"/>
<use href="#pc35" stroke="#000080" stroke-width="8.9"/>
<use href="#pc36" stroke="#424242" stroke-width="12"/>
<path d="M585 2197h0M158 2210h0M139 2222h0M212 2213h0M348 2218h0M95 2199h0M234 2210h0M228 2211h0M306 2214h0M364 2213h0M447 2220h0M384 2206h0M151 2196h0M173 2202h0M260 2209h0M296 2215h0M170 2198h0M266 2211h0M199 2206h0M391 2213h0M815 2201h0M130 2218h0M113 2218h0" stroke="#000080" stroke-width="8.9"/>
<path d="M176 2219h0" stroke="#a8a8a8" stroke-width="8.9"/>
<use href="#pc37" stroke="#424242" stroke-width="12"/>
<use href="#pc37" stroke="#000080" stroke-width="8.9"/>
<use href="#pc38" stroke="#424242" stroke-width="12"/>
<path d="M78 2213h0M357 2201h0M172 2200h0M284 2211h0M165 2211h0M73 2208h0M378 2209h0M269 2213h0M731 2216h0M602 2207h0M289 2223h0M353 2217h0M229 2221h0M421 2202h0M306 2199h0M205 2205h0M561 2206h0M229 2214h0M848 2215h0M133 2221h0M226 2197h0M189 2208h0M75 2209h0" stroke="#000080" stroke-width="8.9"/>
<path d="M368 2200h0" stroke="#a8a8a8" stroke-width="8.9"/>
<use href="#pc39" stroke="#424242" stroke-width="12"/>
<path d="M157 2193h0M250 2204h0M395 2206h0M208 2217h0M338 2223h0M150 2217h0M279 2217h0M334 2213h0M477 2196h0M257 2198h0M322 2201h0M196 2217h0M132 2223h0M228 2201h0M303 2220h0M108 2206h0M338 2218h0M388 2203h0M364 2210h0M108 2217h0M391 2221h0M147 2211h0M234 2209h0" stroke="#000080" stroke-width="8.9"/>
<path d="M235 2204h0" stroke="#a8a8a8" stroke-width="8.9"/>
<use href="#pc40" stroke="#424242" stroke-width="12"/>
<use href="#pc40" stroke="#000080" stroke-width="8.9"/>
<use href="#pc41" stroke="#424242" stroke-width="12"/>
<path d="M229 2205h0M160 2215h0M97 2199h0M388 2209h0M201 2205h0M752 2205h0M367 2204h0M124 2214h0M175 2222h0M92 2223h0M328 2222h0M164 2196h0M302 2209h0M95 2202h0M314 2205h0M374 2218h0M148 2213h0M310 2207h0M361 2199h0M137 2193h0M672 2215h0M185 2198h0" stroke="#000080" stroke-width="8.9"/>
<path d="M381 2217h0M109 2203h0" stroke="#a8a8a8" stroke-width="8.9"/>
<use href="#pc42" stroke="#424242" stroke-width="12"/>
<use href="#pc42" stroke="#000080" stroke-width="8.9"/>
<use href="#pc43" stroke="#424242" stroke-width="12"/>
<use href="#pc43" stroke="#000080" stroke-width="8.9"/>
<use href="#pc44" stroke="#424242" stroke-width="12"/>
<use href="#pc44" stroke="#000080" stroke-width="8.9"/>
<use href="#pc45" stroke="#424242" stroke-width="12"/>
<use href="#pc45" stroke="#000080" stroke-width="8.9"/>
<use href="#pc46" stroke="#424242" stroke-width="12"/>
<path d="M258 2217h0M208 2220h0M165 2219h0M282 2212h0M161 2222h0M350 2202h0M371 2216h0M313 2214h0M372 2204h0M203 2218h0M122 2223h0M224 2222h0M333 2203h0M95 2219h0M627 2209h0M142 2195h0M371 2207h0M353 2204h0M242 2204h0M561 2206h0M229 2223h0M306 2216h0M286 2207h0" stroke="#000080" stroke-width="8.9"/>
<path d="M145 2199h0" stroke="#a8a8a8" stroke-width="8.9"/>
<use href="#pc47" stroke="#424242" stroke-width="12"/>
<path d="M278 2221h0M146 2221h0M152 2203h0M255 2204h0M361 2220h0M116 2202h0M86 2206h0M243 2212h0M206 2214h0M108 2219h0M346 2219h0M248 2202h0M140 2203h0M183 2202h0M370 2219h0M262 2220h0M308 2215h0M197 2200h0M388 2222h0M380 2215h0M346 2213h0M92 2215h0M125 2197h0" stroke="#000080" stroke-width="8.9"/>
<path d="M138 2209h0" stroke="#a8a8a8" stroke-width="8.9"/>
<use href="#pc48" stroke="#424242" stroke-width="12"/>
<path d="M785 2214h0M67 2218h0M310 2218h0M388 2216h0M385 2208h0M152 2198h0M150 2195h0M332 2211h0M382 2216h0M163 2218h0M317 2219h0M622 2213h0M210 2218h0M114 2194h0M234 2218h0M113 2205h0M129 2208h0M256 2213h0M296 2219h0M93 2216h0M144 2216h0M267 2221h0M333 2217h0" stroke="#000080" stroke-width="8.9"/>
<path d="M556 2202h0" stroke="#a8a8a8" stroke-width="8.9"/>
<use href="#pc49" stroke="#424242" stroke-width="12"/>
<use href="#pc49" stroke="#000080" stroke-width="8.9"/>
<use href="#pc50" stroke="#424242" stroke-width="12"/>
<path d="M275 2219h0M256 2222h0M291 2200h0M124 2193h0M177 2223h0M295 2221h0M204 2221h0M209 2216h0M311 2198h0M151 2209h0M215 2219h0M198 2198h0M120 2198h0M110 2223h0M340 2206h0M217 2214h0M231 2212h0M393 2223h0M259 2211h0M292 2217h0M182 2198h0M105 2203h0M77 2222h0" stroke="#000080" stroke-width="8.9"/>
<path d="M143 2206h0" stroke="#a8a8a8" stroke-width="8.9"/>
<use href="#pc51" stroke="#424242" stroke-width="12"/>
<path d="M353 2215h0M145 2219h0M149 2202h0M129 2216h0M325 2199h0M138 2202h0M410 2205h0M158 2211h0M116 2217h0M155 2208h0M187 2217h0M367 2214h0M109 2223h0M82 2212h0M573 2210h0M382 2207h0M176 2211h0M258 2212h0M169 2223h0M162 2223h0M105 2204h0M288 2205h0M146 2204h0" stroke="#000080" stroke-width="8.9"/>
<path d="M103 2218h0" stroke="#a8a8a8" stroke-width="8.9"/>
<use href="#pc52" stroke="#424242" stroke-width="12"/>
<path d="M245 2211h0M661 2202h0M168 2223h0M651 2217h0M166 2211h0M348 2223h0M373 2197h0M327 2218h0M131 2220h0M87 2207h0M184 2199h0M190 2218h0M259 2223h0M295 2201h0M178 2206h0M287 2208h0M333 2196h0M234 2217h0M157 2206h0M176 2217h0M236 2211h0M124 2219h0" stroke="#000080" stroke-width="8.9"/>
<path d="M683 2213h0M171 2195h0" stroke="#a8a8a8" stroke-width="8.9"/>
<use href="#pc53" stroke="#424242" stroke-width="12"/>
<use href="#pc53" stroke="#000080" stroke-width="8.9"/>
<use href="#pc54" stroke="#424242" stroke-width="12"/>
<path d="M541 2210h0M271 2220h0M242 2217h0M150 2215h0M338 2204h0M75 2220h0M162 2216h0M265 2203h0M313 2212h0M298 2218h0M95 2210h0M303 2222h0M260 2216h0M66 2220h0M367 2221h0M83 2218h0M91 2213h0M521 2196h0M307 2210h0M374 2221h0M73 2218h0M385 2218h0M249 2200h0" stroke="#000080" stroke-width="8.9"/>
<path d="M304 2200h0" stroke="#a8a8a8" stroke-width="8.9"/>
<use href="#pc55" stroke="#424242" stroke-width="12"/>
<use href="#pc55" stroke="#000080" stroke-width="8.9"/>
<use href="#pc56" stroke="#424242" stroke-width="12"/>
<path d="M299 2223h0M325 2220h0M135 2213h0M171 2216h0M305 2201h0M257 2217h0M352 2204h0M340 2209h0M294 2222h0M369 2212h0M241 2201h0M275 2218h0M120 2215h0M446 2218h0M358 2209h0M346 2203h0M236 2209h0M205 2223h0M392 2221h0M133 2222h0M238 2218h0M162 2195h0M148 2196h0" stroke="#000080" stroke-width="8.9"/>
<path d="M388 2220h0" stroke="#a8a8a8" stroke-width="8.9"/>
<use href="#pc57" stroke="#424242" stroke-width="12"/>
<path d="M843 2218h0M344 2222h0M344 2222h0M248 2197h0M98 2222h0M281 2222h0M207 2207h0M161 2201h0M303 2220h0M330 2212h0M366 2198h0M152 2205h0M196 2222h0M334 2201h0M255 2221h0M151 2202h0M272 2213h0M327 2214h0M326 2198h0M582 2217h0M157 2214h0M330 2219h0M332 2206h0" stroke="#000080" stroke-width="8.9"/>
<path d="M146 2222h0" stroke="#a8a8a8" stroke-width="8.9"/>
<use href="#pc58" stroke="#424242" stroke-width="12"/>
<path d="M462 2201h0M104 2216h0M167 2204h0M382 2205h0M453 2204h0M832 2202h0M471 2196h0M312 2219h0M189 2220h0M290 2219h0M298 2217h0M571 2212h0M383 2198h0M382 2223h0M810 2206h0M589 2202h0M213 2212h0M155 2212h0M827 2210h0M333 2213h0M221 2221h0M251 2206h0" stroke="#000080" stroke-width="8.9"/>
<path d="M311 2221h0M279 2210h0" stroke="#a8a8a8" stroke-width="8.9"/>
<use href="#pc59" stroke="#424242" stroke-width="12"/>
<path d="M377 2204h0" stroke="#a8a8a8" stroke-width="8.9"/>
<path d="M351 2215h0M330 2219h0M140 2194h0M67 2219h0M183 2205h0M128 2219h0M128 2200h0M172 2217h0M486 2217h0M188 2220h0M113 2213h0M342 2196h0M155 2219h0M167 2218h0M243 2199h0M344 2201h0M336 2210h0M117 2195h0M244 2197h0M489 2212h0M268 2215h0M77 2209h0M106 2197h0" stroke="#000080" stroke-width="8.9"/>
<use href="#pc60" stroke="#424242" stroke-width="12"/>
<use href="#pc60" stroke="#000080" stroke-width="8.9"/>
<use href="#pc61" stroke="#424242" stroke-width="12"/>
<use href="#pc61" stroke="#000080" stroke-width="8.9"/>
<use href="#pc62" stroke="#424242" stroke-width="12"/>
<path d="M265 2206h0M736 2218h0M98 2215h0M333 2203h0M379 2201h0M176 2222h0M289 2200h0M804 2208h0M307 2219h0M350 2209h0M147 2218h0M170 2210h0M379 2214h0M97 2203h0M361 2217h0M180 2199h0M294 2221h0M86 2218h0M122 2221h0M87 2213h0M329 2197h0M184 2197h0M338 2209h0" stroke="#000080" stroke-width="8.9"/>
<path d="M79 2209h0" stroke="#a8a8a8" stroke-width="8.9"/>
<use href="#pc63" stroke="#424242" stroke-width="12"/>
<use href="#pc63" stroke="#000080" stroke-width="8.9"/>
<use href="#pc64" stroke="#424242" stroke-width="12"/>
<path d="M327 2202h0M156 2222h0M257 2223h0M312 2213h0M364 2213h0M102 2197h0M174 2219h0M221 2223h0M209 2219h0M194 2215h0M271 2220h0M592 2218h0M246 2217h0M382 2206h0M156 2218h0M93 2218h0M217 2211h0M381 2215h0M227 2222h0M300 2209h0M108 2211h0M102 2222h0M343 2208h0" stroke="#000080" stroke-width="8.9"/>
<path d="M197 2209h0" stroke="#a8a8a8" stroke-width="8.9"/>
<use href="#pc65" stroke="#424242" stroke-width="12"/>
<use href="#pc65" stroke="#000080" stroke-width="8.9"/>
<use href="#pc66" stroke="#424242" stroke-width="12"/>
<use href="#pc66" stroke="#000080" stroke-width="8.9"/>
<use href="#pc67" stroke="#424242" stroke-width="12"/>
<path d="M393 2212h0M298 2217h0M316 2209h0M362 2212h0M143 2205h0M377 2204h0M96 2217h0M145 2207h0M257 2197h0M365 2220h0M187 2203h0M235 2218h0M241 2220h0M281 2217h0M272 2219h0M756 2198h0M360 2214h0M225 2211h0M111 2202h0M365 2208h0M312 2223h0M104 2222h0" stroke="#000080" stroke-width="8.9"/>
<path d="M257 2219h0M69 2222h0" stroke="#a8a8a8" stroke-width="8.9"/>
<use href="#pc68" stroke="#424242" stroke-width="12"/>
<use href="#pc68" stroke="#000080" stroke-width="8.9"/>
<use href="#pc69" stroke="#424242" stroke-width="12"/>
<use href="#pc69" stroke="#000080" stroke-width="8.9"/>
</g>
<g stroke="#424242" stroke-width="1.1">
<circle cx="176.2" cy="2103.1" r="5.45" fill="#000080"/>
<circle cx="284.2" cy="2092.2" r="5.45" fill="#000080"/>
<circle cx="246.2" cy="2128.2" r="5.45" fill="#000080"/>
<circle cx="88.4" cy="2143.1" r="5.45" fill="#000080"/>
<circle cx="81.6" cy="2135.5" r="5.45" fill="#000080"/>
<circle cx="92.3" cy="2094.9" r="5.45" fill="#000080"/>
<circle cx="209.4" cy="2173.9" r="5.45" fill="#000080"/>
<circle cx="110.1" cy="2112.1" r="5.45" fill="#000080"/>
<circle cx="276.5" cy="2184.9" r="5.45" fill="#000080"/>
<circle cx="259.8" cy="2131.6" r="5.45" fill="#000080"/>
<circle cx="391.7" cy="2088.2" r="5.45" fill="#000080"/>
<circle cx="352.8" cy="2119.8" r="5.45" fill="#000080"/>
<circle cx="116.9" cy="2098.7" r="5.45" fill="#000080"/>
<circle cx="171.1" cy="2172.9" r="5.45" fill="#000080"/>
<circle cx="128.9" cy="2150.5" r="5.45" fill="#000080"/>
<circle cx="280.2" cy="2129" r="5.45" fill="#000080"/>
<circle cx="250.1" cy="2090.8" r="5.45" fill="#000080"/>
<circle cx="88.9" cy="2110" r="5.45" fill="#000080"/>
<circle cx="293.9" cy="2134.8" r="5.45" fill="#000080"/>
<circle cx="173" cy="2150.9" r="5.45" fill="#000080"/>
<circle cx="218.9" cy="2120.9" r="5.45" fill="#000080"/>
<circle cx="331.6" cy="2161.9" r="5.45" fill="#000080"/>
<circle cx="149.9" cy="2149.8" r="5.45" fill="#000080"/>
<circle cx="242.7" cy="2178.3" r="5.45" fill="#000080"/>
<circle cx="310.1" cy="2119.6" r="5.45" fill="#000080"/>
<circle cx="392.9" cy="2098.7" r="5.45" fill="#000080"/>
<circle cx="207.3" cy="2167.4" r="5.45" fill="#000080"/>
<circle cx="119.4" cy="2141.2" r="5.45" fill="#000080"/>
<circle cx="82.2" cy="2159" r="5.45" fill="#000080"/>
<circle cx="321.7" cy="2149.7" r="5.45" fill="#000080"/>
<circle cx="85.4" cy="2113.3" r="5.45" fill="#000080"/>
<circle cx="90" cy="2115.6" r="5.45" fill="#000080"/>
<circle cx="115.4" cy="2102.7" r="5.45" fill="#000080"/>
<circle cx="159.3" cy="2090.2" r="5.45" fill="#000080"/>
<circle cx="162.5" cy="2104.1" r="5.45" fill="#000080"/>
<circle cx="170.9" cy="2108.7" r="5.45" fill="#000080"/>
<circle cx="191.6" cy="2102.7" r="5.45" fill="#000080"/>
<circle cx="187" cy="2124.8" r="5.45" fill="#000080"/>
<circle cx="216.1" cy="2125.8" r="5.45" fill="#000080"/>
<circle cx="130.2" cy="2127.2" r="5.45" fill="#000080"/>
<circle cx="80.8" cy="2130.4" r="5.45" fill="#000080"/>
<circle cx="99.3" cy="2132.7" r="5.45" fill="#000080"/>
<circle cx="119.1" cy="2134.1" r="5.45" fill="#000080"/>
<circle cx="182.4" cy="2152.6" r="5.45" fill="#000080"/>
<circle cx="194.9" cy="2150.3" r="5.45" fill="#000080"/>
<circle cx="74.8" cy="2161.8" r="5.45" fill="#000080"/>
<circle cx="114.5" cy="2169.7" r="5.45" fill="#000080"/>
<circle cx="123.7" cy="2164.1" r="5.45" fill="#000080"/>
<circle cx="133" cy="2168.7" r="5.45" fill="#000080"/>
<circle cx="230" cy="2161.8" r="5.45" fill="#000080"/>
<circle cx="235.5" cy="2124.8" r="5.45" fill="#000080"/>
<circle cx="242.4" cy="2111" r="5.45" fill="#000080"/>
<circle cx="248.5" cy="2129.5" r="5.45" fill="#000080"/>
<circle cx="259.5" cy="2138.7" r="5.45" fill="#000080"/>
<circle cx="264.2" cy="2136.4" r="5.45" fill="#000080"/>
<circle cx="332.5" cy="2090.2" r="5.45" fill="#000080"/>
<circle cx="337.1" cy="2099.4" r="5.45" fill="#000080"/>
<circle cx="348.7" cy="2092.5" r="5.45" fill="#000080"/>
<circle cx="309.4" cy="2131.8" r="5.45" fill="#000080"/>
<circle cx="321" cy="2135" r="5.45" fill="#000080"/>
<circle cx="310.3" cy="2143.3" r="5.45" fill="#000080"/>
<circle cx="346.4" cy="2141" r="5.45" fill="#000080"/>
<circle cx="353.3" cy="2122.5" r="5.45" fill="#000080"/>
<circle cx="364.8" cy="2125.8" r="5.45" fill="#000080"/>
<circle cx="390.3" cy="2123.9" r="5.45" fill="#000080"/>
<circle cx="288.6" cy="2164.1" r="5.45" fill="#000080"/>
<circle cx="294.6" cy="2160.9" r="5.45" fill="#000080"/>
<circle cx="316.4" cy="2164.1" r="5.45" fill="#000080"/>
<circle cx="334.8" cy="2160.9" r="5.45" fill="#000080"/>
<circle cx="346.4" cy="2165.5" r="5.45" fill="#000080"/>
<circle cx="364.8" cy="2156.3" r="5.45" fill="#000080"/>
<circle cx="811.7" cy="2065.3" r="5.45" fill="#000080"/>
<circle cx="733" cy="2067.3" r="5.45" fill="#000080"/>
<circle cx="682.6" cy="2066.3" r="5.45" fill="#000080"/>
<circle cx="796.2" cy="2069.9" r="5.45" fill="#000080"/>
<circle cx="636.5" cy="2067.9" r="5.45" fill="#000080"/>
<circle cx="456" cy="2068.1" r="5.45" fill="#000080"/>
<circle cx="712" cy="2070.3" r="5.45" fill="#000080"/>
<circle cx="788.3" cy="2065.1" r="5.45" fill="#000080"/>
<circle cx="597.9" cy="2067.9" r="5.45" fill="#000080"/>
<circle cx="439.4" cy="2066.4" r="5.45" fill="#000080"/>
<circle cx="502.9" cy="2063.8" r="5.45" fill="#000080"/>
<circle cx="455.2" cy="2068.6" r="5.45" fill="#000080"/>
<circle cx="486" cy="2064.8" r="5.45" fill="#000080"/>
<circle cx="600.2" cy="2069.4" r="5.45" fill="#000080"/>
<circle cx="464.7" cy="2066.3" r="5.45" fill="#000080"/>
<circle cx="669.3" cy="2069.5" r="5.45" fill="#000080"/>
<circle cx="787.1" cy="2069.3" r="5.45" fill="#000080"/>
<circle cx="551" cy="2066" r="5.45" fill="#000080"/>
<circle cx="586.1" cy="2069.5" r="5.45" fill="#000080"/>
<circle cx="847.6" cy="2064.1" r="5.45" fill="#000080"/>
<circle cx="506.4" cy="2064.7" r="5.45" fill="#000080"/>
<circle cx="531.4" cy="2066.5" r="5.45" fill="#000080"/>
<circle cx="686.7" cy="2064.9" r="5.45" fill="#000080"/>
<circle cx="431.3" cy="2066.1" r="5.45" fill="#000080"/>
<circle cx="590.7" cy="2067.1" r="5.45" fill="#000080"/>
<circle cx="845.5" cy="2068.1" r="5.45" fill="#000080"/>
<circle cx="654.5" cy="2067.5" r="5.45" fill="#000080"/>
<circle cx="724.7" cy="2063.4" r="5.45" fill="#000080"/>
<circle cx="822.2" cy="2068.7" r="5.45" fill="#000080"/>
<circle cx="811.2" cy="2068.9" r="5.45" fill="#000080"/>
<circle cx="600.8" cy="2065.9" r="5.45" fill="#000080"/>
<circle cx="474.7" cy="2067.6" r="5.45" fill="#000080"/>
<circle cx="456.7" cy="2063.5" r="5.45" fill="#000080"/>
<circle cx="520.6" cy="2064.2" r="5.45" fill="#000080"/>
<circle cx="577.9" cy="2063.3" r="5.45" fill="#000080"/>
<circle cx="429.6" cy="2064.1" r="5.45" fill="#000080"/>
<circle cx="473.8" cy="2065.6" r="5.45" fill="#000080"/>
<circle cx="440.6" cy="2069.4" r="5.45" fill="#000080"/>
<circle cx="697.5" cy="2064.1" r="5.45" fill="#000080"/>
<circle cx="539.6" cy="2065.5" r="5.45" fill="#000080"/>
<circle cx="588.5" cy="2063.9" r="5.45" fill="#000080"/>
<circle cx="800.1" cy="2070.3" r="5.45" fill="#000080"/>
<circle cx="632.9" cy="2066.5" r="5.45" fill="#000080"/>
<circle cx="467" cy="2063.7" r="5.45" fill="#000080"/>
<circle cx="579.1" cy="2064.9" r="5.45" fill="#000080"/>
<circle cx="791.3" cy="2064.1" r="5.45" fill="#000080"/>
<circle cx="439.6" cy="2070" r="5.45" fill="#000080"/>
<circle cx="660.1" cy="2064" r="5.45" fill="#000080"/>
<circle cx="666.6" cy="2063.2" r="5.45" fill="#000080"/>
<circle cx="660" cy="2070.2" r="5.45" fill="#000080"/>
<circle cx="806.3" cy="2068.1" r="5.45" fill="#000080"/>
<circle cx="543.5" cy="2065.7" r="5.45" fill="#000080"/>
<circle cx="502.4" cy="2068.7" r="5.45" fill="#000080"/>
<circle cx="662" cy="2068.7" r="5.45" fill="#000080"/>
<circle cx="573.4" cy="2064.6" r="5.45" fill="#000080"/>
<circle cx="783.7" cy="2070.2" r="5.45" fill="#000080"/>
<circle cx="801.7" cy="2068.9" r="5.45" fill="#000080"/>
<circle cx="786.7" cy="2068.4" r="5.45" fill="#000080"/>
<circle cx="528.5" cy="2066.8" r="5.45" fill="#000080"/>
<circle cx="584.7" cy="2063.2" r="5.45" fill="#000080"/>
<circle cx="441.7" cy="2065" r="5.45" fill="#000080"/>
<circle cx="542.6" cy="2068.1" r="5.45" fill="#000080"/>
<circle cx="847" cy="2066.3" r="5.45" fill="#000080"/>
<circle cx="838.5" cy="2070.3" r="5.45" fill="#000080"/>
<circle cx="846.4" cy="2065.7" r="5.45" fill="#000080"/>
<circle cx="525.7" cy="2064.6" r="5.45" fill="#000080"/>
<circle cx="515.4" cy="2064.5" r="5.45" fill="#000080"/>
<circle cx="701.9" cy="2069.6" r="5.45" fill="#000080"/>
<circle cx="796.4" cy="2066.5" r="5.45" fill="#000080"/>
<circle cx="714.5" cy="2068.9" r="5.45" fill="#000080"/>
<circle cx="466.5" cy="2067.8" r="5.45" fill="#000080"/>
<circle cx="826.6" cy="2068.7" r="5.45" fill="#000080"/>
<circle cx="756.9" cy="2066.5" r="5.45" fill="#000080"/>
<circle cx="507.4" cy="2068.8" r="5.45" fill="#000080"/>
<circle cx="574.7" cy="2068.9" r="5.45" fill="#000080"/>
<circle cx="853.6" cy="2065.9" r="5.45" fill="#000080"/>
<circle cx="604.7" cy="2070" r="5.45" fill="#000080"/>
<circle cx="745.9" cy="2064.2" r="5.45" fill="#000080"/>
<circle cx="485" cy="2064.1" r="5.45" fill="#000080"/>
<circle cx="824.5" cy="2068.9" r="5.45" fill="#000080"/>
<circle cx="493.3" cy="2069.1" r="5.45" fill="#000080"/>
<circle cx="857.4" cy="2067.8" r="5.45" fill="#000080"/>
<circle cx="582.5" cy="2067" r="5.45" fill="#000080"/>
<circle cx="486.7" cy="2063.1" r="5.45" fill="#000080"/>
<circle cx="853.3" cy="2067.8" r="5.45" fill="#000080"/>
<circle cx="659.4" cy="2069.9" r="5.45" fill="#000080"/>
<circle cx="618.9" cy="2069.4" r="5.45" fill="#000080"/>
<circle cx="790.1" cy="2064.5" r="5.45" fill="#000080"/>
<circle cx="539.4" cy="2065.1" r="5.45" fill="#000080"/>
<circle cx="534.5" cy="2067.3" r="5.45" fill="#000080"/>
<circle cx="542.7" cy="2066.1" r="5.45" fill="#000080"/>
<circle cx="486.7" cy="2069.7" r="5.45" fill="#000080"/>
<circle cx="583.9" cy="2066.3" r="5.45" fill="#000080"/>
<circle cx="684.1" cy="2069.6" r="5.45" fill="#000080"/>
<circle cx="613.1" cy="2069.7" r="5.45" fill="#000080"/>
<circle cx="648.5" cy="2066.9" r="5.45" fill="#000080"/>
<circle cx="658" cy="2063.1" r="5.45" fill="#000080"/>
<circle cx="621.6" cy="2064.3" r="5.45" fill="#000080"/>
<circle cx="431.2" cy="2068.9" r="5.45" fill="#000080"/>
<circle cx="504.7" cy="2066.5" r="5.45" fill="#000080"/>
<circle cx="746.1" cy="2067.1" r="5.45" fill="#000080"/>
<circle cx="571.8" cy="2066.8" r="5.45" fill="#000080"/>
<circle cx="672" cy="2068.8" r="5.45" fill="#000080"/>
<circle cx="475.8" cy="2067.1" r="5.45" fill="#000080"/>
<circle cx="538" cy="2065" r="5.45" fill="#000080"/>
<circle cx="766.6" cy="2066.7" r="5.45" fill="#000080"/>
<circle cx="674.7" cy="2068.6" r="5.45" fill="#000080"/>
<circle cx="827.8" cy="2066.2" r="5.45" fill="#000080"/>
<circle cx="696.9" cy="2066.7" r="5.45" fill="#000080"/>
<circle cx="653.1" cy="2068.1" r="5.45" fill="#000080"/>
<circle cx="627" cy="2066.9" r="5.45" fill="#000080"/>
<circle cx="638.2" cy="2069.9" r="5.45" fill="#000080"/>
<circle cx="734.7" cy="2069.4" r="5.45" fill="#000080"/>
<circle cx="840.8" cy="2064.9" r="5.45" fill="#000080"/>
<circle cx="673.7" cy="2069.9" r="5.45" fill="#000080"/>
<circle cx="796.2" cy="2064" r="5.45" fill="#000080"/>
<circle cx="482.6" cy="2066.2" r="5.45" fill="#000080"/>
<circle cx="461.2" cy="2064.7" r="5.45" fill="#000080"/>
<circle cx="461.4" cy="2067.9" r="5.45" fill="#000080"/>
<circle cx="771.7" cy="2069.6" r="5.45" fill="#000080"/>
<circle cx="496.9" cy="2068.2" r="5.45" fill="#000080"/>
<circle cx="717.7" cy="2064" r="5.45" fill="#000080"/>
<circle cx="814.9" cy="2070.1" r="5.45" fill="#000080"/>
<circle cx="525.4" cy="2070" r="5.45" fill="#000080"/>
<circle cx="603.3" cy="2066.6" r="5.45" fill="#000080"/>
<circle cx="861.6" cy="2069.1" r="5.45" fill="#000080"/>
<circle cx="500" cy="2066.1" r="5.45" fill="#000080"/>
<circle cx="654.6" cy="2065.5" r="5.45" fill="#000080"/>
<circle cx="515" cy="2065.3" r="5.45" fill="#000080"/>
<circle cx="744.7" cy="2063.1" r="5.45" fill="#000080"/>
<circle cx="671.4" cy="2066.2" r="5.45" fill="#000080"/>
<circle cx="437.4" cy="2065.4" r="5.45" fill="#000080"/>
<circle cx="701.9" cy="2066.7" r="5.45" fill="#000080"/>
<circle cx="457.6" cy="2070.2" r="5.45" fill="#000080"/>
<circle cx="773.6" cy="2070.1" r="5.45" fill="#000080"/>
<circle cx="475.3" cy="2064.9" r="5.45" fill="#000080"/>
<circle cx="446.8" cy="2068.7" r="5.45" fill="#000080"/>
<circle cx="547.6" cy="2063.9" r="5.45" fill="#000080"/>
<circle cx="613.8" cy="2069.7" r="5.45" fill="#000080"/>
<circle cx="787" cy="2064.9" r="5.45" fill="#000080"/>
<circle cx="534" cy="2061.7" r="5.45" fill="#000080"/>
<circle cx="698.4" cy="2059.7" r="5.45" fill="#000080"/>
<circle cx="510.6" cy="2053.8" r="5.45" fill="#000080"/>
<circle cx="744.3" cy="2057.2" r="5.45" fill="#000080"/>
<circle cx="504" cy="2061.9" r="5.45" fill="#000080"/>
<circle cx="723.3" cy="2060.7" r="5.45" fill="#000080"/>
<circle cx="508.4" cy="2061.2" r="5.45" fill="#000080"/>
<circle cx="501.7" cy="2061.2" r="5.45" fill="#000080"/>
<circle cx="652.8" cy="2056.4" r="5.45" fill="#000080"/>
<circle cx="691.6" cy="2061.8" r="5.45" fill="#000080"/>
<circle cx="580.3" cy="2054.5" r="5.45" fill="#000080"/>
<circle cx="681.4" cy="2055.5" r="5.45" fill="#000080"/>
<circle cx="518.4" cy="2054.7" r="5.45" fill="#000080"/>
<circle cx="495.4" cy="2055.1" r="5.45" fill="#000080"/>
<circle cx="597.5" cy="2056.1" r="5.45" fill="#000080"/>
<circle cx="772.1" cy="2055.9" r="5.45" fill="#000080"/>
<circle cx="670.9" cy="2054.9" r="5.45" fill="#000080"/>
<circle cx="611.1" cy="2053.4" r="5.45" fill="#000080"/>
<circle cx="573.5" cy="2053.4" r="5.45" fill="#000080"/>
<circle cx="761.8" cy="2058.3" r="5.45" fill="#000080"/>
<circle cx="487.9" cy="2085.4" r="5.45" fill="#000080"/>
<circle cx="835.5" cy="2082.7" r="5.45" fill="#000080"/>
<circle cx="781.5" cy="2085.1" r="5.45" fill="#000080"/>
<circle cx="630.4" cy="2088.1" r="5.45" fill="#000080"/>
<circle cx="582.9" cy="2085.6" r="5.45" fill="#000080"/>
<circle cx="720.3" cy="2089.2" r="5.45" fill="#000080"/>
<circle cx="559.4" cy="2088" r="5.45" fill="#000080"/>
<circle cx="729.2" cy="2086.6" r="5.45" fill="#000080"/>
<circle cx="588.3" cy="2084.5" r="5.45" fill="#000080"/>
<circle cx="424.9" cy="2082.9" r="5.45" fill="#000080"/>
<circle cx="432.5" cy="2087.4" r="5.45" fill="#000080"/>
<circle cx="518.7" cy="2083.1" r="5.45" fill="#000080"/>
<circle cx="438.9" cy="2088.1" r="5.45" fill="#000080"/>
<circle cx="805.6" cy="2086.8" r="5.45" fill="#000080"/>
<circle cx="531" cy="2083.7" r="5.45" fill="#000080"/>
<circle cx="536.2" cy="2085.3" r="5.45" fill="#000080"/>
<circle cx="473" cy="2085.2" r="5.45" fill="#000080"/>
<circle cx="522.3" cy="2089" r="5.45" fill="#000080"/>
<circle cx="853.2" cy="2085.9" r="5.45" fill="#000080"/>
<circle cx="513.5" cy="2089" r="5.45" fill="#000080"/>
<circle cx="543.9" cy="2084.5" r="5.45" fill="#000080"/>
<circle cx="400" cy="2084.7" r="5.45" fill="#000080"/>
<circle cx="620.9" cy="2085.6" r="5.45" fill="#000080"/>
<circle cx="493.3" cy="2085.6" r="5.45" fill="#000080"/>
<circle cx="401.8" cy="2083.8" r="5.45" fill="#000080"/>
<circle cx="441.4" cy="2084.8" r="5.45" fill="#000080"/>
<circle cx="418.9" cy="2082.1" r="5.45" fill="#000080"/>
<circle cx="541.4" cy="2083.6" r="5.45" fill="#000080"/>
<circle cx="672.7" cy="2085.8" r="5.45" fill="#000080"/>
<circle cx="749.6" cy="2086.8" r="5.45" fill="#000080"/>
<circle cx="733.5" cy="2088.4" r="5.45" fill="#000080"/>
<circle cx="581.2" cy="2084.3" r="5.45" fill="#000080"/>
<circle cx="858.9" cy="2083" r="5.45" fill="#000080"/>
<circle cx="737.3" cy="2086.6" r="5.45" fill="#000080"/>
<circle cx="419.9" cy="2088.1" r="5.45" fill="#000080"/>
<circle cx="815.6" cy="2086.5" r="5.45" fill="#000080"/>
<circle cx="741.8" cy="2087.9" r="5.45" fill="#000080"/>
<circle cx="464.5" cy="2085.8" r="5.45" fill="#000080"/>
<circle cx="634.8" cy="2088.1" r="5.45" fill="#000080"/>
<circle cx="774.9" cy="2088" r="5.45" fill="#000080"/>
<circle cx="672" cy="2088.5" r="5.45" fill="#000080"/>
<circle cx="718.1" cy="2087" r="5.45" fill="#000080"/>
<circle cx="506.8" cy="2082.1" r="5.45" fill="#000080"/>
<circle cx="461.6" cy="2084.6" r="5.45" fill="#000080"/>
<circle cx="448.4" cy="2088.1" r="5.45" fill="#000080"/>
<circle cx="660.1" cy="2086.5" r="5.45" fill="#000080"/>
<circle cx="691.6" cy="2086.9" r="5.45" fill="#000080"/>
<circle cx="627.8" cy="2081.9" r="5.45" fill="#000080"/>
<circle cx="771.6" cy="2087.4" r="5.45" fill="#000080"/>
<circle cx="634.1" cy="2085.8" r="5.45" fill="#000080"/>
<circle cx="707.1" cy="2082.4" r="5.45" fill="#000080"/>
<circle cx="743.2" cy="2083.8" r="5.45" fill="#000080"/>
<circle cx="434.2" cy="2083.9" r="5.45" fill="#000080"/>
<circle cx="739.7" cy="2083.4" r="5.45" fill="#000080"/>
<circle cx="744.6" cy="2089.1" r="5.45" fill="#000080"/>
<circle cx="629.9" cy="2084.7" r="5.45" fill="#000080"/>
<circle cx="623" cy="2086.9" r="5.45" fill="#000080"/>
<circle cx="757.3" cy="2086.5" r="5.45" fill="#000080"/>
<circle cx="699.3" cy="2082.5" r="5.45" fill="#000080"/>
<circle cx="468.3" cy="2083.8" r="5.45" fill="#000080"/>
<circle cx="746.2" cy="2084.1" r="5.45" fill="#000080"/>
<circle cx="664.4" cy="2082" r="5.45" fill="#000080"/>
<circle cx="427.8" cy="2083.9" r="5.45" fill="#000080"/>
<circle cx="713" cy="2087" r="5.45" fill="#000080"/>
<circle cx="714.7" cy="2084" r="5.45" fill="#000080"/>
<circle cx="640.5" cy="2085.3" r="5.45" fill="#000080"/>
<circle cx="617" cy="2082.8" r="5.45" fill="#000080"/>
<circle cx="816.4" cy="2083.4" r="5.45" fill="#000080"/>
<circle cx="855.8" cy="2088.8" r="5.45" fill="#000080"/>
<circle cx="407.7" cy="2085.3" r="5.45" fill="#000080"/>
<circle cx="782" cy="2089" r="5.45" fill="#000080"/>
<circle cx="609.2" cy="2083.9" r="5.45" fill="#000080"/>
<circle cx="497.4" cy="2088.9" r="5.45" fill="#000080"/>
<circle cx="497.8" cy="2086.2" r="5.45" fill="#000080"/>
<circle cx="465.6" cy="2085.8" r="5.45" fill="#000080"/>
<circle cx="844" cy="2082.9" r="5.45" fill="#000080"/>
<circle cx="782.1" cy="2085.7" r="5.45" fill="#000080"/>
<circle cx="813.2" cy="2087.1" r="5.45" fill="#000080"/>
<circle cx="507.4" cy="2088.5" r="5.45" fill="#000080"/>
<circle cx="626.3" cy="2082.1" r="5.45" fill="#000080"/>
<circle cx="401.2" cy="2085.5" r="5.45" fill="#000080"/>
<circle cx="609.8" cy="2084.1" r="5.45" fill="#000080"/>
<circle cx="465.1" cy="2084.4" r="5.45" fill="#000080"/>
<circle cx="546.9" cy="2088.1" r="5.45" fill="#000080"/>
<circle cx="400.3" cy="2087.4" r="5.45" fill="#000080"/>
<circle cx="790.9" cy="2082.8" r="5.45" fill="#000080"/>
<circle cx="831.7" cy="2087.2" r="5.45" fill="#000080"/>
<circle cx="820.1" cy="2084" r="5.45" fill="#000080"/>
<circle cx="573.1" cy="2084.8" r="5.45" fill="#000080"/>
<circle cx="865.4" cy="2086.2" r="5.45" fill="#000080"/>
<circle cx="567.8" cy="2085.1" r="5.45" fill="#000080"/>
<circle cx="527.9" cy="2082.3" r="5.45" fill="#000080"/>
<circle cx="446.9" cy="2088.1" r="5.45" fill="#000080"/>
<circle cx="532.7" cy="2088.8" r="5.45" fill="#000080"/>
<circle cx="515.8" cy="2083.9" r="5.45" fill="#000080"/>
<circle cx="637.9" cy="2083.3" r="5.45" fill="#000080"/>
<circle cx="573.7" cy="2089" r="5.45" fill="#000080"/>
<circle cx="812" cy="2087.9" r="5.45" fill="#000080"/>
<circle cx="693.8" cy="2088.6" r="5.45" fill="#000080"/>
<circle cx="838.3" cy="2086" r="5.45" fill="#000080"/>
<circle cx="735.2" cy="2082.3" r="5.45" fill="#000080"/>
<circle cx="741.1" cy="2085.2" r="5.45" fill="#000080"/>
<circle cx="750.6" cy="2086.7" r="5.45" fill="#000080"/>
<circle cx="533" cy="2082.3" r="5.45" fill="#000080"/>
<circle cx="831.8" cy="2082.8" r="5.45" fill="#000080"/>
<circle cx="619.8" cy="2084.4" r="5.45" fill="#000080"/>
<circle cx="538.4" cy="2087.4" r="5.45" fill="#000080"/>
<circle cx="854.9" cy="2083.8" r="5.45" fill="#000080"/>
<circle cx="705.5" cy="2084.1" r="5.45" fill="#000080"/>
<circle cx="659.5" cy="2084.8" r="5.45" fill="#000080"/>
<circle cx="477.6" cy="2083.1" r="5.45" fill="#000080"/>
<circle cx="496.5" cy="2088.6" r="5.45" fill="#000080"/>
<circle cx="631.4" cy="2083.5" r="5.45" fill="#000080"/>
<circle cx="822.3" cy="2089.3" r="5.45" fill="#000080"/>
<circle cx="609.4" cy="2082.9" r="5.45" fill="#000080"/>
<circle cx="489.3" cy="2082.6" r="5.45" fill="#000080"/>
<circle cx="559" cy="2082.6" r="5.45" fill="#000080"/>
<circle cx="511" cy="2083.8" r="5.45" fill="#000080"/>
<circle cx="665.2" cy="2088.5" r="5.45" fill="#000080"/>
<circle cx="749.2" cy="2084.9" r="5.45" fill="#000080"/>
<circle cx="592.6" cy="2085.8" r="5.45" fill="#000080"/>
<circle cx="575.3" cy="2084.4" r="5.45" fill="#000080"/>
<circle cx="428.4" cy="2083.9" r="5.45" fill="#000080"/>
<circle cx="850.9" cy="2082.8" r="5.45" fill="#000080"/>
<circle cx="634.3" cy="2086.5" r="5.45" fill="#000080"/>
<circle cx="802" cy="2083.5" r="5.45" fill="#000080"/>
<circle cx="525.9" cy="2083.7" r="5.45" fill="#000080"/>
<circle cx="586" cy="2085.2" r="5.45" fill="#000080"/>
<circle cx="844.5" cy="2088.2" r="5.45" fill="#000080"/>
<circle cx="806.7" cy="2082.1" r="5.45" fill="#000080"/>
<circle cx="414.5" cy="2087.1" r="5.45" fill="#000080"/>
<circle cx="817.3" cy="2085.4" r="5.45" fill="#000080"/>
<circle cx="673.4" cy="2081.9" r="5.45" fill="#000080"/>
<circle cx="582.1" cy="2088.7" r="5.45" fill="#000080"/>
<circle cx="784.6" cy="2088.2" r="5.45" fill="#000080"/>
<circle cx="853.1" cy="2083.7" r="5.45" fill="#000080"/>
<circle cx="450.4" cy="2083" r="5.45" fill="#000080"/>
<circle cx="643.2" cy="2086.9" r="5.45" fill="#000080"/>
<circle cx="838.7" cy="2087.2" r="5.45" fill="#000080"/>
<circle cx="701.5" cy="2087.5" r="5.45" fill="#000080"/>
<circle cx="614.1" cy="2098.3" r="5.45" fill="#000080"/>
<circle cx="420.2" cy="2103.7" r="5.45" fill="#000080"/>
<circle cx="509.8" cy="2106.8" r="5.45" fill="#000080"/>
<circle cx="701.4" cy="2092.6" r="5.45" fill="#000080"/>
<circle cx="461.2" cy="2091.4" r="5.45" fill="#000080"/>
<circle cx="697.2" cy="2101.7" r="5.45" fill="#000080"/>
<circle cx="453.9" cy="2087.2" r="5.45" fill="#000080"/>
<circle cx="645.2" cy="2099.1" r="5.45" fill="#000080"/>
<circle cx="582" cy="2090.8" r="5.45" fill="#000080"/>
<circle cx="680.8" cy="2085.8" r="5.45" fill="#000080"/>
<circle cx="541.8" cy="2096.2" r="5.45" fill="#000080"/>
<circle cx="846.9" cy="2100.5" r="5.45" fill="#000080"/>
<circle cx="812.1" cy="2096.6" r="5.45" fill="#000080"/>
<circle cx="510.8" cy="2091.3" r="5.45" fill="#000080"/>
<circle cx="847.7" cy="2101.9" r="5.45" fill="#000080"/>
<circle cx="544.5" cy="2086.1" r="5.45" fill="#000080"/>
<circle cx="633.1" cy="2101.2" r="5.45" fill="#000080"/>
<circle cx="596.8" cy="2091.5" r="5.45" fill="#000080"/>
<circle cx="711.6" cy="2107" r="5.45" fill="#000080"/>
<circle cx="507.1" cy="2086.4" r="5.45" fill="#000080"/>
<circle cx="558.7" cy="2095.3" r="5.45" fill="#000080"/>
<circle cx="718.7" cy="2090.2" r="5.45" fill="#000080"/>
<circle cx="771.8" cy="2102.7" r="5.45" fill="#000080"/>
<circle cx="636.2" cy="2090.3" r="5.45" fill="#000080"/>
<circle cx="852" cy="2092.8" r="5.45" fill="#000080"/>
<circle cx="782.5" cy="2090.9" r="5.45" fill="#000080"/>
<circle cx="504.6" cy="2103.2" r="5.45" fill="#000080"/>
<circle cx="538.7" cy="2107.6" r="5.45" fill="#000080"/>
<circle cx="631.9" cy="2089.9" r="5.45" fill="#000080"/>
<circle cx="505.5" cy="2095.2" r="5.45" fill="#000080"/>
<circle cx="553" cy="2126.7" r="5.45" fill="#000080"/>
<circle cx="811.9" cy="2126.9" r="5.45" fill="#000080"/>
<circle cx="524.8" cy="2106" r="5.45" fill="#000080"/>
<circle cx="446.6" cy="2115.6" r="5.45" fill="#000080"/>
<circle cx="731.3" cy="2114.4" r="5.45" fill="#000080"/>
<circle cx="510.5" cy="2113.7" r="5.45" fill="#000080"/>
<circle cx="689.8" cy="2119.6" r="5.45" fill="#000080"/>
<circle cx="749" cy="2123.6" r="5.45" fill="#000080"/>
<circle cx="710.2" cy="2106.9" r="5.45" fill="#000080"/>
<circle cx="792.1" cy="2110.8" r="5.45" fill="#000080"/>
<circle cx="665" cy="2112.7" r="5.45" fill="#000080"/>
<circle cx="744.4" cy="2108.7" r="5.45" fill="#000080"/>
<circle cx="516.7" cy="2109.7" r="5.45" fill="#000080"/>
<circle cx="473" cy="2124.5" r="5.45" fill="#000080"/>
<circle cx="670.2" cy="2111.6" r="5.45" fill="#000080"/>
<circle cx="585.7" cy="2127" r="5.45" fill="#000080"/>
<circle cx="637.3" cy="2109.4" r="5.45" fill="#000080"/>
<circle cx="777.1" cy="2119.2" r="5.45" fill="#000080"/>
<circle cx="861.8" cy="2106.4" r="5.45" fill="#000080"/>
<circle cx="622.2" cy="2123" r="5.45" fill="#000080"/>
<circle cx="792" cy="2125.2" r="5.45" fill="#000080"/>
<circle cx="420.5" cy="2110.8" r="5.45" fill="#000080"/>
<circle cx="457.1" cy="2133.8" r="5.45" fill="#000080"/>
<circle cx="853.5" cy="2135.9" r="5.45" fill="#000080"/>
<circle cx="833.6" cy="2134.8" r="5.45" fill="#000080"/>
<circle cx="803.9" cy="2135.2" r="5.45" fill="#000080"/>
<circle cx="522.5" cy="2137" r="5.45" fill="#000080"/>
<circle cx="840.8" cy="2133.3" r="5.45" fill="#000080"/>
<circle cx="678.5" cy="2136.1" r="5.45" fill="#000080"/>
<circle cx="502.8" cy="2134.7" r="5.45" fill="#000080"/>
<circle cx="467.4" cy="2133.8" r="5.45" fill="#000080"/>
<circle cx="520.1" cy="2136" r="5.45" fill="#000080"/>
<circle cx="704.3" cy="2133.8" r="5.45" fill="#000080"/>
<circle cx="407.1" cy="2134.5" r="5.45" fill="#000080"/>
<circle cx="716.7" cy="2133.7" r="5.45" fill="#000080"/>
<circle cx="546.7" cy="2133.8" r="5.45" fill="#000080"/>
<circle cx="771" cy="2135.7" r="5.45" fill="#000080"/>
<circle cx="431.2" cy="2133.3" r="5.45" fill="#000080"/>
<circle cx="585.3" cy="2135.8" r="5.45" fill="#000080"/>
<circle cx="698.5" cy="2133.2" r="5.45" fill="#000080"/>
<circle cx="477.8" cy="2136.6" r="5.45" fill="#000080"/>
<circle cx="592" cy="2134.3" r="5.45" fill="#000080"/>
<circle cx="544.6" cy="2138" r="5.45" fill="#000080"/>
<circle cx="546.8" cy="2135.8" r="5.45" fill="#000080"/>
<circle cx="567.6" cy="2135" r="5.45" fill="#000080"/>
<circle cx="803" cy="2138.2" r="5.45" fill="#000080"/>
<circle cx="570.7" cy="2133.8" r="5.45" fill="#000080"/>
<circle cx="739.8" cy="2133.8" r="5.45" fill="#000080"/>
<circle cx="404.5" cy="2137.7" r="5.45" fill="#000080"/>
<circle cx="598.5" cy="2137.2" r="5.45" fill="#000080"/>
<circle cx="590.4" cy="2137.6" r="5.45" fill="#000080"/>
<circle cx="615.8" cy="2133.6" r="5.45" fill="#000080"/>
<circle cx="408.7" cy="2135.8" r="5.45" fill="#000080"/>
<circle cx="699.2" cy="2137.7" r="5.45" fill="#000080"/>
<circle cx="443.1" cy="2136.2" r="5.45" fill="#000080"/>
<circle cx="573.9" cy="2135.5" r="5.45" fill="#000080"/>
<circle cx="469.5" cy="2134.3" r="5.45" fill="#000080"/>
<circle cx="643.7" cy="2137.8" r="5.45" fill="#000080"/>
<circle cx="452.3" cy="2135.4" r="5.45" fill="#000080"/>
<circle cx="775.4" cy="2138.1" r="5.45" fill="#000080"/>
<circle cx="493.4" cy="2133.4" r="5.45" fill="#000080"/>
<circle cx="839.6" cy="2138.1" r="5.45" fill="#000080"/>
<circle cx="625.9" cy="2133" r="5.45" fill="#000080"/>
<circle cx="831.7" cy="2134.9" r="5.45" fill="#000080"/>
<circle cx="821.5" cy="2136.1" r="5.45" fill="#000080"/>
<circle cx="784.6" cy="2133.6" r="5.45" fill="#000080"/>
<circle cx="766.6" cy="2133.9" r="5.45" fill="#000080"/>
<circle cx="589.6" cy="2137.4" r="5.45" fill="#000080"/>
<circle cx="786.7" cy="2133.7" r="5.45" fill="#000080"/>
<circle cx="503.1" cy="2134.9" r="5.45" fill="#000080"/>
<circle cx="642.2" cy="2134.8" r="5.45" fill="#000080"/>
<circle cx="458.9" cy="2134.1" r="5.45" fill="#000080"/>
<circle cx="738.3" cy="2137.7" r="5.45" fill="#000080"/>
<circle cx="420.9" cy="2135.8" r="5.45" fill="#000080"/>
<circle cx="753.4" cy="2132.9" r="5.45" fill="#000080"/>
<circle cx="790.9" cy="2133.4" r="5.45" fill="#000080"/>
<circle cx="680.1" cy="2135.8" r="5.45" fill="#000080"/>
<circle cx="692.9" cy="2134.4" r="5.45" fill="#000080"/>
<circle cx="596.8" cy="2135.9" r="5.45" fill="#000080"/>
<circle cx="599.4" cy="2136.4" r="5.45" fill="#000080"/>
<circle cx="609.2" cy="2135.1" r="5.45" fill="#000080"/>
<circle cx="412.7" cy="2136.1" r="5.45" fill="#000080"/>
<circle cx="629" cy="2134" r="5.45" fill="#000080"/>
<circle cx="756.3" cy="2137" r="5.45" fill="#000080"/>
<circle cx="614.5" cy="2133.7" r="5.45" fill="#000080"/>
<circle cx="621.5" cy="2133.3" r="5.45" fill="#000080"/>
<circle cx="461.4" cy="2135.1" r="5.45" fill="#000080"/>
<circle cx="444.4" cy="2135.2" r="5.45" fill="#000080"/>
<circle cx="638.6" cy="2132.9" r="5.45" fill="#000080"/>
<circle cx="697.2" cy="2133.2" r="5.45" fill="#000080"/>
<circle cx="742.3" cy="2137" r="5.45" fill="#000080"/>
<circle cx="639.2" cy="2133" r="5.45" fill="#000080"/>
<circle cx="635.7" cy="2134.8" r="5.45" fill="#000080"/>
<circle cx="843.2" cy="2133.5" r="5.45" fill="#000080"/>
<circle cx="799.7" cy="2138.2" r="5.45" fill="#000080"/>
<circle cx="741.6" cy="2137.2" r="5.45" fill="#000080"/>
<circle cx="491.7" cy="2138.1" r="5.45" fill="#000080"/>
<circle cx="630.1" cy="2138" r="5.45" fill="#000080"/>
<circle cx="827" cy="2133.6" r="5.45" fill="#000080"/>
<circle cx="767.8" cy="2137.9" r="5.45" fill="#000080"/>
<circle cx="432.2" cy="2134.6" r="5.45" fill="#000080"/>
<circle cx="752.8" cy="2133.6" r="5.45" fill="#000080"/>
<circle cx="818" cy="2134.2" r="5.45" fill="#000080"/>
<circle cx="780.4" cy="2133.5" r="5.45" fill="#000080"/>
<circle cx="634.9" cy="2137.8" r="5.45" fill="#000080"/>
<circle cx="498.5" cy="2134.2" r="5.45" fill="#000080"/>
<circle cx="636.7" cy="2134.5" r="5.45" fill="#000080"/>
<circle cx="418.9" cy="2133.7" r="5.45" fill="#000080"/>
<circle cx="476.6" cy="2137.9" r="5.45" fill="#000080"/>
<circle cx="717.3" cy="2137.7" r="5.45" fill="#000080"/>
<circle cx="480.1" cy="2137.1" r="5.45" fill="#000080"/>
<circle cx="455.2" cy="2135.6" r="5.45" fill="#000080"/>
<circle cx="697.2" cy="2134.7" r="5.45" fill="#000080"/>
<circle cx="807" cy="2135.8" r="5.45" fill="#000080"/>
<circle cx="671.1" cy="2137.6" r="5.45" fill="#000080"/>
<circle cx="450.4" cy="2138.2" r="5.45" fill="#000080"/>
<circle cx="694.1" cy="2134.9" r="5.45" fill="#000080"/>
<circle cx="772.1" cy="2134.2" r="5.45" fill="#000080"/>
<circle cx="861.6" cy="2135.9" r="5.45" fill="#000080"/>
<circle cx="569" cy="2136.9" r="5.45" fill="#000080"/>
<circle cx="607.1" cy="2133.7" r="5.45" fill="#000080"/>
<circle cx="747" cy="2133" r="5.45" fill="#000080"/>
<circle cx="782.4" cy="2134.1" r="5.45" fill="#000080"/>
<circle cx="698.5" cy="2138.2" r="5.45" fill="#000080"/>
<circle cx="673.8" cy="2136.4" r="5.45" fill="#000080"/>
<circle cx="546.9" cy="2132.7" r="5.45" fill="#000080"/>
<circle cx="417.5" cy="2133.5" r="5.45" fill="#000080"/>
<circle cx="687.8" cy="2135.1" r="5.45" fill="#000080"/>
<circle cx="639.8" cy="2137.7" r="5.45" fill="#000080"/>
<circle cx="463.1" cy="2134" r="5.45" fill="#000080"/>
<circle cx="705" cy="2132.8" r="5.45" fill="#000080"/>
<circle cx="403" cy="2134.7" r="5.45" fill="#000080"/>
<circle cx="451.2" cy="2134.7" r="5.45" fill="#000080"/>
<circle cx="505.9" cy="2135.9" r="5.45" fill="#000080"/>
<circle cx="675.3" cy="2133.8" r="5.45" fill="#000080"/>
<circle cx="691.4" cy="2135.3" r="5.45" fill="#000080"/>
<circle cx="464.4" cy="2137.9" r="5.45" fill="#000080"/>
<circle cx="514.9" cy="2133.5" r="5.45" fill="#000080"/>
<circle cx="446.3" cy="2136.2" r="5.45" fill="#000080"/>
<circle cx="806.3" cy="2137" r="5.45" fill="#000080"/>
<circle cx="588.4" cy="2134.2" r="5.45" fill="#000080"/>
<circle cx="407.1" cy="2136.3" r="5.45" fill="#000080"/>
<circle cx="662.8" cy="2134.6" r="5.45" fill="#000080"/>
<circle cx="701.5" cy="2135.2" r="5.45" fill="#000080"/>
<circle cx="836.8" cy="2136.8" r="5.45" fill="#000080"/>
<circle cx="517.2" cy="2137.7" r="5.45" fill="#000080"/>
<circle cx="422.2" cy="2135.6" r="5.45" fill="#000080"/>
<circle cx="590.3" cy="2134" r="5.45" fill="#000080"/>
<circle cx="428.9" cy="2137" r="5.45" fill="#000080"/>
<circle cx="407.5" cy="2135.8" r="5.45" fill="#000080"/>
<circle cx="838.6" cy="2133.5" r="5.45" fill="#000080"/>
<circle cx="494.4" cy="2136.1" r="5.45" fill="#000080"/>
<circle cx="637.1" cy="2136.3" r="5.45" fill="#000080"/>
<circle cx="779.4" cy="2133.7" r="5.45" fill="#000080"/>
<circle cx="545.4" cy="2134.4" r="5.45" fill="#000080"/>
<circle cx="424.3" cy="2137.6" r="5.45" fill="#000080"/>
<circle cx="765.3" cy="2136.7" r="5.45" fill="#000080"/>
<circle cx="404.7" cy="2137.4" r="5.45" fill="#000080"/>
<circle cx="747.7" cy="2135.3" r="5.45" fill="#000080"/>
<circle cx="746.1" cy="2135.2" r="5.45" fill="#000080"/>
<circle cx="506.7" cy="2133.3" r="5.45" fill="#000080"/>
<circle cx="509.6" cy="2132.9" r="5.45" fill="#000080"/>
<circle cx="557.5" cy="2136.9" r="5.45" fill="#000080"/>
<circle cx="724.5" cy="2137.4" r="5.45" fill="#000080"/>
<circle cx="732.2" cy="2134.2" r="5.45" fill="#000080"/>
<circle cx="658.9" cy="2135.1" r="5.45" fill="#000080"/>
<circle cx="767.8" cy="2135.6" r="5.45" fill="#000080"/>
<circle cx="525" cy="2136.3" r="5.45" fill="#000080"/>
<circle cx="849.8" cy="2133.9" r="5.45" fill="#000080"/>
<circle cx="810.3" cy="2132.8" r="5.45" fill="#000080"/>
<circle cx="522.7" cy="2134" r="5.45" fill="#000080"/>
<circle cx="747.1" cy="2137.9" r="5.45" fill="#000080"/>
<circle cx="748.2" cy="2134.5" r="5.45" fill="#000080"/>
<circle cx="810.4" cy="2134.5" r="5.45" fill="#000080"/>
<circle cx="512.8" cy="2137.7" r="5.45" fill="#000080"/>
<circle cx="694.6" cy="2136.5" r="5.45" fill="#000080"/>
<circle cx="710.6" cy="2138.1" r="5.45" fill="#000080"/>
<circle cx="619.7" cy="2137.4" r="5.45" fill="#000080"/>
<circle cx="725.6" cy="2137.5" r="5.45" fill="#000080"/>
<circle cx="604.8" cy="2136.7" r="5.45" fill="#000080"/>
<circle cx="666.6" cy="2134.4" r="5.45" fill="#000080"/>
<circle cx="500.2" cy="2136.2" r="5.45" fill="#000080"/>
<circle cx="437.9" cy="2137.8" r="5.45" fill="#000080"/>
<circle cx="468.9" cy="2132.9" r="5.45" fill="#000080"/>
<circle cx="451.3" cy="2137.9" r="5.45" fill="#000080"/>
<circle cx="561.9" cy="2133.5" r="5.45" fill="#000080"/>
<circle cx="415.1" cy="2132.9" r="5.45" fill="#000080"/>
<circle cx="723.3" cy="2136.2" r="5.45" fill="#000080"/>
<circle cx="725.4" cy="2136.8" r="5.45" fill="#000080"/>
<circle cx="432.3" cy="2136" r="5.45" fill="#000080"/>
<circle cx="570.5" cy="2137.2" r="5.45" fill="#000080"/>
<circle cx="782.2" cy="2137.6" r="5.45" fill="#000080"/>
<circle cx="432.4" cy="2137.5" r="5.45" fill="#000080"/>
<circle cx="826.3" cy="2137.9" r="5.45" fill="#000080"/>
<circle cx="451.5" cy="2133.8" r="5.45" fill="#000080"/>
<circle cx="453.8" cy="2132.9" r="5.45" fill="#000080"/>
<circle cx="795.3" cy="2137.2" r="5.45" fill="#000080"/>
<circle cx="696.2" cy="2137.3" r="5.45" fill="#000080"/>
<circle cx="695" cy="2134.3" r="5.45" fill="#000080"/>
<circle cx="448.2" cy="2133.2" r="5.45" fill="#000080"/>
<circle cx="753.4" cy="2133.8" r="5.45" fill="#000080"/>
<circle cx="549.9" cy="2135.1" r="5.45" fill="#000080"/>
<circle cx="411.5" cy="2134.1" r="5.45" fill="#000080"/>
<circle cx="533" cy="2136.7" r="5.45" fill="#000080"/>
<circle cx="572.6" cy="2134.5" r="5.45" fill="#000080"/>
<circle cx="849.3" cy="2135.5" r="5.45" fill="#000080"/>
<circle cx="797" cy="2136.1" r="5.45" fill="#000080"/>
<circle cx="416.2" cy="2135" r="5.45" fill="#000080"/>
<circle cx="604.4" cy="2137" r="5.45" fill="#000080"/>
<circle cx="562.8" cy="2136.6" r="5.45" fill="#000080"/>
<circle cx="651.5" cy="2133.9" r="5.45" fill="#000080"/>
<circle cx="802.1" cy="2133.2" r="5.45" fill="#000080"/>
<circle cx="782.4" cy="2133.6" r="5.45" fill="#000080"/>
<circle cx="402.4" cy="2133.8" r="5.45" fill="#000080"/>
<circle cx="755.6" cy="2138.1" r="5.45" fill="#000080"/>
<circle cx="403.8" cy="2135.4" r="5.45" fill="#000080"/>
<circle cx="629.9" cy="2137.1" r="5.45" fill="#000080"/>
<circle cx="487.5" cy="2135.4" r="5.45" fill="#000080"/>
<circle cx="563" cy="2137.3" r="5.45" fill="#000080"/>
<circle cx="522.8" cy="2137.9" r="5.45" fill="#000080"/>
<circle cx="533.5" cy="2133.9" r="5.45" fill="#000080"/>
<circle cx="726.5" cy="2135.5" r="5.45" fill="#000080"/>
<circle cx="821.5" cy="2165.4" r="5.45" fill="#000080"/>
<circle cx="479.7" cy="2167.4" r="5.45" fill="#000080"/>
<circle cx="684.2" cy="2165.2" r="5.45" fill="#000080"/>
<circle cx="712.1" cy="2167.5" r="5.45" fill="#000080"/>
<circle cx="767.6" cy="2166.4" r="5.45" fill="#000080"/>
<circle cx="493.4" cy="2163.4" r="5.45" fill="#000080"/>
<circle cx="648.2" cy="2164.4" r="5.45" fill="#000080"/>
<circle cx="605.4" cy="2167.3" r="5.45" fill="#000080"/>
<circle cx="659.5" cy="2154.7" r="5.45" fill="#000080"/>
<circle cx="510.5" cy="2152.2" r="5.45" fill="#000080"/>
<circle cx="630.7" cy="2150.5" r="5.45" fill="#000080"/>
<circle cx="618.6" cy="2152.3" r="5.45" fill="#000080"/>
<circle cx="629.9" cy="2159.5" r="5.45" fill="#000080"/>
<circle cx="652.3" cy="2166.9" r="5.45" fill="#000080"/>
<circle cx="404.9" cy="2166.4" r="5.45" fill="#000080"/>
<circle cx="619" cy="2160.8" r="5.45" fill="#000080"/>
<circle cx="710.6" cy="2166.4" r="5.45" fill="#000080"/>
<circle cx="575.9" cy="2157.8" r="5.45" fill="#000080"/>
<circle cx="847.7" cy="2150.9" r="5.45" fill="#000080"/>
<circle cx="697.5" cy="2162.3" r="5.45" fill="#000080"/>
<circle cx="415" cy="2161.7" r="5.45" fill="#000080"/>
<circle cx="718.7" cy="2168.3" r="5.45" fill="#000080"/>
<circle cx="555.2" cy="2169.3" r="5.45" fill="#000080"/>
<circle cx="638.8" cy="2159.2" r="5.45" fill="#000080"/>
<circle cx="818.5" cy="2150" r="5.45" fill="#000080"/>
<circle cx="735.2" cy="2162" r="5.45" fill="#000080"/>
<circle cx="559" cy="2166.8" r="5.45" fill="#000080"/>
<circle cx="571.8" cy="2159" r="5.45" fill="#000080"/>
<circle cx="645.8" cy="2165" r="5.45" fill="#000080"/>
<circle cx="499.6" cy="2158.2" r="5.45" fill="#000080"/>
<circle cx="597.9" cy="2188.9" r="5.45" fill="#000080"/>
<circle cx="785.6" cy="2187.4" r="5.45" fill="#000080"/>
<circle cx="786" cy="2188.1" r="5.45" fill="#000080"/>
<circle cx="635.6" cy="2187.3" r="5.45" fill="#000080"/>
<circle cx="636.9" cy="2191.2" r="5.45" fill="#000080"/>
<circle cx="705.6" cy="2190.2" r="5.45" fill="#000080"/>
<circle cx="555.4" cy="2187.6" r="5.45" fill="#000080"/>
<circle cx="540.7" cy="2189.1" r="5.45" fill="#000080"/>
<circle cx="696.5" cy="2190.2" r="5.45" fill="#000080"/>
<circle cx="420.4" cy="2189.8" r="5.45" fill="#000080"/>
<circle cx="812.9" cy="2188.8" r="5.45" fill="#000080"/>
<circle cx="424.9" cy="2187.5" r="5.45" fill="#000080"/>
<circle cx="404.7" cy="2186.9" r="5.45" fill="#000080"/>
<circle cx="829.5" cy="2189.2" r="5.45" fill="#000080"/>
<circle cx="707.3" cy="2190.2" r="5.45" fill="#000080"/>
<circle cx="824.1" cy="2189.2" r="5.45" fill="#000080"/>
<circle cx="688.1" cy="2189.3" r="5.45" fill="#000080"/>
<circle cx="725.1" cy="2189.1" r="5.45" fill="#000080"/>
<circle cx="717.9" cy="2187" r="5.45" fill="#000080"/>
<circle cx="711.4" cy="2188.4" r="5.45" fill="#000080"/>
<circle cx="755.8" cy="2186.4" r="5.45" fill="#000080"/>
<circle cx="486" cy="2186" r="5.45" fill="#000080"/>
<circle cx="761.3" cy="2190.9" r="5.45" fill="#000080"/>
<circle cx="706.2" cy="2187.9" r="5.45" fill="#000080"/>
<circle cx="783.7" cy="2190.2" r="5.45" fill="#000080"/>
<circle cx="662.7" cy="2187.2" r="5.45" fill="#000080"/>
<circle cx="542" cy="2188.2" r="5.45" fill="#000080"/>
<circle cx="549.6" cy="2188.2" r="5.45" fill="#000080"/>
<circle cx="699.7" cy="2191" r="5.45" fill="#000080"/>
<circle cx="427.2" cy="2189" r="5.45" fill="#000080"/>
<circle cx="420.1" cy="2186.5" r="5.45" fill="#000080"/>
<circle cx="778" cy="2189" r="5.45" fill="#000080"/>
<circle cx="828.2" cy="2188.3" r="5.45" fill="#000080"/>
<circle cx="408.4" cy="2188" r="5.45" fill="#000080"/>
<circle cx="676.6" cy="2191" r="5.45" fill="#000080"/>
<circle cx="857.1" cy="2188.5" r="5.45" fill="#000080"/>
<circle cx="593.2" cy="2186.4" r="5.45" fill="#000080"/>
<circle cx="701" cy="2187" r="5.45" fill="#000080"/>
<circle cx="472.3" cy="2185.9" r="5.45" fill="#000080"/>
<circle cx="404" cy="2189.6" r="5.45" fill="#000080"/>
<circle cx="458.3" cy="2191.2" r="5.45" fill="#000080"/>
<circle cx="442.7" cy="2190.6" r="5.45" fill="#000080"/>
<circle cx="461.7" cy="2185.9" r="5.45" fill="#000080"/>
<circle cx="735.7" cy="2187.2" r="5.45" fill="#000080"/>
<circle cx="742.3" cy="2186.9" r="5.45" fill="#000080"/>
<circle cx="425.1" cy="2190.1" r="5.45" fill="#000080"/>
<circle cx="733" cy="2190.6" r="5.45" fill="#000080"/>
<circle cx="740.5" cy="2186.3" r="5.45" fill="#000080"/>
<circle cx="693.6" cy="2189.8" r="5.45" fill="#000080"/>
<circle cx="615.6" cy="2191" r="5.45" fill="#000080"/>
<circle cx="519.7" cy="2191.2" r="5.45" fill="#000080"/>
<circle cx="734.7" cy="2185.9" r="5.45" fill="#000080"/>
<circle cx="408.6" cy="2189.4" r="5.45" fill="#000080"/>
<circle cx="781.2" cy="2186.3" r="5.45" fill="#000080"/>
<circle cx="546.2" cy="2189.9" r="5.45" fill="#000080"/>
<circle cx="478.9" cy="2190.6" r="5.45" fill="#000080"/>
<circle cx="627.6" cy="2186.2" r="5.45" fill="#000080"/>
<circle cx="572.4" cy="2189" r="5.45" fill="#000080"/>
<circle cx="605.5" cy="2189.6" r="5.45" fill="#000080"/>
<circle cx="469.1" cy="2190.2" r="5.45" fill="#000080"/>
<circle cx="570.4" cy="2189.4" r="5.45" fill="#000080"/>
<circle cx="694.1" cy="2188.1" r="5.45" fill="#000080"/>
<circle cx="580.9" cy="2190.2" r="5.45" fill="#000080"/>
<circle cx="840.4" cy="2190.2" r="5.45" fill="#000080"/>
<circle cx="664.9" cy="2187.4" r="5.45" fill="#000080"/>
<circle cx="429.9" cy="2191.2" r="5.45" fill="#000080"/>
<circle cx="728.3" cy="2190.4" r="5.45" fill="#000080"/>
<circle cx="555.9" cy="2189.2" r="5.45" fill="#000080"/>
<circle cx="855.5" cy="2190.4" r="5.45" fill="#000080"/>
<circle cx="680.9" cy="2187.5" r="5.45" fill="#000080"/>
<circle cx="600.7" cy="2190.7" r="5.45" fill="#000080"/>
<circle cx="576.7" cy="2189.6" r="5.45" fill="#000080"/>
<circle cx="681.2" cy="2190.8" r="5.45" fill="#000080"/>
<circle cx="776.6" cy="2187.4" r="5.45" fill="#000080"/>
<circle cx="402.6" cy="2187.3" r="5.45" fill="#000080"/>
<circle cx="597.9" cy="2189.1" r="5.45" fill="#000080"/>
<circle cx="780.6" cy="2190.7" r="5.45" fill="#000080"/>
<circle cx="421.4" cy="2190.4" r="5.45" fill="#000080"/>
<circle cx="778.6" cy="2190.6" r="5.45" fill="#000080"/>
<circle cx="667.3" cy="2187.3" r="5.45" fill="#000080"/>
<circle cx="796.9" cy="2190.3" r="5.45" fill="#000080"/>
<circle cx="719.6" cy="2190.9" r="5.45" fill="#000080"/>
<circle cx="562.8" cy="2186.3" r="5.45" fill="#000080"/>
<circle cx="658.8" cy="2190.2" r="5.45" fill="#000080"/>
<circle cx="494.8" cy="2190" r="5.45" fill="#000080"/>
<circle cx="834.3" cy="2187.1" r="5.45" fill="#000080"/>
<circle cx="683.5" cy="2189.6" r="5.45" fill="#000080"/>
<circle cx="617.8" cy="2187" r="5.45" fill="#000080"/>
<circle cx="520.1" cy="2190" r="5.45" fill="#000080"/>
<circle cx="769.3" cy="2188.4" r="5.45" fill="#000080"/>
<circle cx="442.5" cy="2190.3" r="5.45" fill="#000080"/>
<circle cx="760.2" cy="2187.1" r="5.45" fill="#000080"/>
<circle cx="670.8" cy="2190.8" r="5.45" fill="#000080"/>
<circle cx="812.7" cy="2188.7" r="5.45" fill="#000080"/>
<circle cx="623" cy="2189.1" r="5.45" fill="#000080"/>
<circle cx="489.6" cy="2186.9" r="5.45" fill="#000080"/>
<circle cx="485.7" cy="2189.7" r="5.45" fill="#000080"/>
<circle cx="570.2" cy="2188.9" r="5.45" fill="#000080"/>
<circle cx="588.6" cy="2188.7" r="5.45" fill="#000080"/>
<circle cx="471" cy="2186.1" r="5.45" fill="#000080"/>
<circle cx="864.7" cy="2187.9" r="5.45" fill="#000080"/>
<circle cx="451.1" cy="2189.3" r="5.45" fill="#000080"/>
<circle cx="767.3" cy="2186.7" r="5.45" fill="#000080"/>
<circle cx="679" cy="2187.7" r="5.45" fill="#000080"/>
<circle cx="642.9" cy="2185.9" r="5.45" fill="#000080"/>
<circle cx="417.4" cy="2191.3" r="5.45" fill="#000080"/>
<circle cx="803.8" cy="2188.5" r="5.45" fill="#000080"/>
<circle cx="665.1" cy="2187.3" r="5.45" fill="#000080"/>
<circle cx="763.5" cy="2188.2" r="5.45" fill="#000080"/>
<circle cx="841.2" cy="2190.1" r="5.45" fill="#000080"/>
<circle cx="781.9" cy="2191.2" r="5.45" fill="#000080"/>
<circle cx="519.7" cy="2186" r="5.45" fill="#000080"/>
<circle cx="495.1" cy="2186.8" r="5.45" fill="#000080"/>
<circle cx="440.6" cy="2186.1" r="5.45" fill="#000080"/>
<circle cx="660.5" cy="2190.6" r="5.45" fill="#000080"/>
<circle cx="614.5" cy="2191.1" r="5.45" fill="#000080"/>
<circle cx="824.2" cy="2186.2" r="5.45" fill="#000080"/>
<circle cx="679.4" cy="2188" r="5.45" fill="#000080"/>
<circle cx="457.5" cy="2191.1" r="5.45" fill="#000080"/>
<circle cx="521.2" cy="2188.9" r="5.45" fill="#000080"/>
<circle cx="699.2" cy="2191.1" r="5.45" fill="#000080"/>
<circle cx="712.7" cy="2188" r="5.45" fill="#000080"/>
<circle cx="609.9" cy="2186.7" r="5.45" fill="#000080"/>
<circle cx="850.1" cy="2191.3" r="5.45" fill="#000080"/>
<circle cx="504.7" cy="2186" r="5.45" fill="#000080"/>
<circle cx="520.6" cy="2187.8" r="5.45" fill="#000080"/>
<circle cx="820.9" cy="2190.8" r="5.45" fill="#000080"/>
<circle cx="790.4" cy="2186.1" r="5.45" fill="#000080"/>
<circle cx="766.8" cy="2189.8" r="5.45" fill="#000080"/>
<circle cx="702" cy="2191.3" r="5.45" fill="#000080"/>
<circle cx="427.7" cy="2186.6" r="5.45" fill="#000080"/>
<circle cx="752.3" cy="2191" r="5.45" fill="#000080"/>
<circle cx="716" cy="2187.5" r="5.45" fill="#000080"/>
<circle cx="676.4" cy="2190" r="5.45" fill="#000080"/>
<circle cx="450.7" cy="2187.6" r="5.45" fill="#000080"/>
<circle cx="521.1" cy="2186.5" r="5.45" fill="#000080"/>
<circle cx="625.2" cy="2186.8" r="5.45" fill="#000080"/>
<circle cx="512.5" cy="2186.6" r="5.45" fill="#000080"/>
<circle cx="716.4" cy="2185.9" r="5.45" fill="#000080"/>
<circle cx="734.7" cy="2186.9" r="5.45" fill="#000080"/>
<circle cx="418.5" cy="2191" r="5.45" fill="#000080"/>
<circle cx="504.2" cy="2191" r="5.45" fill="#000080"/>
<circle cx="804.2" cy="2190.7" r="5.45" fill="#000080"/>
<circle cx="466.7" cy="2188.3" r="5.45" fill="#000080"/>
<circle cx="446.8" cy="2191" r="5.45" fill="#000080"/>
<circle cx="792.8" cy="2189.3" r="5.45" fill="#000080"/>
<circle cx="611.8" cy="2187.7" r="5.45" fill="#000080"/>
<circle cx="783.9" cy="2188.5" r="5.45" fill="#000080"/>
<circle cx="693.4" cy="2186.6" r="5.45" fill="#000080"/>
<circle cx="504.7" cy="2186.1" r="5.45" fill="#000080"/>
<circle cx="733.1" cy="2188.9" r="5.45" fill="#000080"/>
<circle cx="469" cy="2190.6" r="5.45" fill="#000080"/>
<circle cx="525.5" cy="2188.1" r="5.45" fill="#000080"/>
<circle cx="474.1" cy="2187.3" r="5.45" fill="#000080"/>
<circle cx="791.5" cy="2187.7" r="5.45" fill="#000080"/>
<circle cx="479.7" cy="2188.5" r="5.45" fill="#000080"/>
<circle cx="549.4" cy="2190.8" r="5.45" fill="#000080"/>
<circle cx="454.8" cy="2191.2" r="5.45" fill="#000080"/>
<circle cx="428.2" cy="2190.8" r="5.45" fill="#000080"/>
<circle cx="712" cy="2187" r="5.45" fill="#000080"/>
<circle cx="623.4" cy="2187.4" r="5.45" fill="#000080"/>
<circle cx="521.5" cy="2186.9" r="5.45" fill="#000080"/>
<circle cx="570.9" cy="2191.3" r="5.45" fill="#000080"/>
<circle cx="865.1" cy="2190.9" r="5.45" fill="#000080"/>
<circle cx="447.1" cy="2187.4" r="5.45" fill="#000080"/>
<circle cx="817.8" cy="2186.1" r="5.45" fill="#000080"/>
<circle cx="739" cy="2187.4" r="5.45" fill="#000080"/>
<circle cx="856.1" cy="2185.9" r="5.45" fill="#000080"/>
<circle cx="776.4" cy="2187.7" r="5.45" fill="#000080"/>
<circle cx="466.9" cy="2185.8" r="5.45" fill="#000080"/>
<circle cx="788.1" cy="2188.7" r="5.45" fill="#000080"/>
<circle cx="488.1" cy="2188.2" r="5.45" fill="#000080"/>
<circle cx="825.1" cy="2187" r="5.45" fill="#000080"/>
<circle cx="667" cy="2186.6" r="5.45" fill="#000080"/>
<circle cx="485.4" cy="2190.1" r="5.45" fill="#000080"/>
<circle cx="732.1" cy="2186.9" r="5.45" fill="#000080"/>
<circle cx="438.6" cy="2186.3" r="5.45" fill="#000080"/>
<circle cx="684.3" cy="2188.6" r="5.45" fill="#000080"/>
<circle cx="528.9" cy="2187" r="5.45" fill="#000080"/>
<circle cx="686.1" cy="2189.7" r="5.45" fill="#000080"/>
<circle cx="778.5" cy="2189.1" r="5.45" fill="#000080"/>
<circle cx="495.7" cy="2186.2" r="5.45" fill="#000080"/>
<circle cx="741.9" cy="2188.1" r="5.45" fill="#000080"/>
<circle cx="736.8" cy="2186.1" r="5.45" fill="#000080"/>
<circle cx="778.1" cy="2187.7" r="5.45" fill="#000080"/>
<circle cx="792.6" cy="2190.6" r="5.45" fill="#000080"/>
<circle cx="630.7" cy="2185.9" r="5.45" fill="#000080"/>
<circle cx="824.3" cy="2188.5" r="5.45" fill="#000080"/>
<circle cx="806.6" cy="2187.3" r="5.45" fill="#000080"/>
<circle cx="488.2" cy="2190.4" r="5.45" fill="#000080"/>
<circle cx="572.2" cy="2186.7" r="5.45" fill="#000080"/>
<circle cx="574.1" cy="2189.1" r="5.45" fill="#000080"/>
<circle cx="404" cy="2188.7" r="5.45" fill="#000080"/>
<circle cx="608.7" cy="2188.7" r="5.45" fill="#000080"/>
<circle cx="457.9" cy="2189.8" r="5.45" fill="#000080"/>
<circle cx="780.8" cy="2190.6" r="5.45" fill="#000080"/>
<circle cx="550.8" cy="2189.8" r="5.45" fill="#000080"/>
<circle cx="578.8" cy="2190" r="5.45" fill="#000080"/>
<circle cx="430.2" cy="2190.7" r="5.45" fill="#000080"/>
<circle cx="844.7" cy="2188.6" r="5.45" fill="#000080"/>
<circle cx="640.1" cy="2188.8" r="5.45" fill="#000080"/>
<circle cx="651.2" cy="2185.9" r="5.45" fill="#000080"/>
<circle cx="850.9" cy="2187.1" r="5.45" fill="#000080"/>
<circle cx="486.5" cy="2186.4" r="5.45" fill="#000080"/>
<circle cx="518.1" cy="2190.3" r="5.45" fill="#000080"/>
<circle cx="415.8" cy="2186.4" r="5.45" fill="#000080"/>
<circle cx="726.3" cy="2186.9" r="5.45" fill="#000080"/>
<circle cx="410" cy="2189.1" r="5.45" fill="#000080"/>
<circle cx="669.4" cy="2188.7" r="5.45" fill="#000080"/>
<circle cx="728" cy="2186.4" r="5.45" fill="#000080"/>
<circle cx="805.4" cy="2189.8" r="5.45" fill="#000080"/>
<circle cx="422.8" cy="2186.5" r="5.45" fill="#000080"/>
<circle cx="630.9" cy="2188.6" r="5.45" fill="#000080"/>
<circle cx="531.6" cy="2186.5" r="5.45" fill="#000080"/>
<circle cx="590.1" cy="2186.6" r="5.45" fill="#000080"/>
<circle cx="676.5" cy="2190.6" r="5.45" fill="#000080"/>
<circle cx="470.1" cy="2189" r="5.45" fill="#000080"/>
<circle cx="748.4" cy="2186.7" r="5.45" fill="#000080"/>
<circle cx="785.2" cy="2191" r="5.45" fill="#000080"/>
<circle cx="582.3" cy="2188.2" r="5.45" fill="#000080"/>
<circle cx="791.6" cy="2188.7" r="5.45" fill="#000080"/>
<circle cx="585.5" cy="2191" r="5.45" fill="#000080"/>
<circle cx="762.4" cy="2187.7" r="5.45" fill="#000080"/>
<circle cx="513.4" cy="2187.7" r="5.45" fill="#000080"/>
<circle cx="604" cy="2191.3" r="5.45" fill="#000080"/>
<circle cx="775.2" cy="2190.9" r="5.45" fill="#000080"/>
<circle cx="780.1" cy="2190.5" r="5.45" fill="#000080"/>
<circle cx="426.7" cy="2188.7" r="5.45" fill="#000080"/>
<circle cx="846.4" cy="2191" r="5.45" fill="#000080"/>
<circle cx="517.5" cy="2188.2" r="5.45" fill="#000080"/>
<circle cx="695.5" cy="2187.8" r="5.45" fill="#000080"/>
<circle cx="648.2" cy="2186.2" r="5.45" fill="#000080"/>
<circle cx="602.8" cy="2188.6" r="5.45" fill="#000080"/>
<circle cx="411.5" cy="2186.6" r="5.45" fill="#000080"/>
<circle cx="851.9" cy="2190.1" r="5.45" fill="#000080"/>
<circle cx="836.7" cy="2189.3" r="5.45" fill="#000080"/>
<circle cx="777.5" cy="2190.7" r="5.45" fill="#000080"/>
<circle cx="812.5" cy="2186" r="5.45" fill="#000080"/>
<circle cx="699.6" cy="2187.3" r="5.45" fill="#000080"/>
<circle cx="716.7" cy="2187.3" r="5.45" fill="#000080"/>
<circle cx="653.5" cy="2190.9" r="5.45" fill="#000080"/>
<circle cx="690.2" cy="2187.2" r="5.45" fill="#000080"/>
<circle cx="643.3" cy="2188.2" r="5.45" fill="#000080"/>
<circle cx="843.2" cy="2187.4" r="5.45" fill="#000080"/>
<circle cx="543.6" cy="2189.4" r="5.45" fill="#000080"/>
<circle cx="457.7" cy="2189.1" r="5.45" fill="#000080"/>
<circle cx="845.6" cy="2188.7" r="5.45" fill="#000080"/>
<circle cx="526.4" cy="2188.4" r="5.45" fill="#000080"/>
<circle cx="649.6" cy="2186.6" r="5.45" fill="#000080"/>
<circle cx="459.3" cy="2186.5" r="5.45" fill="#000080"/>
<circle cx="538.1" cy="2188.1" r="5.45" fill="#000080"/>
<circle cx="535.6" cy="2187.2" r="5.45" fill="#000080"/>
<circle cx="442.6" cy="2188.8" r="5.45" fill="#000080"/>
<circle cx="791.6" cy="2189.2" r="5.45" fill="#000080"/>
<circle cx="666.5" cy="2189.4" r="5.45" fill="#000080"/>
<circle cx="495.2" cy="2189.8" r="5.45" fill="#000080"/>
<circle cx="615.7" cy="2188.9" r="5.45" fill="#000080"/>
<circle cx="686.3" cy="2188.4" r="5.45" fill="#000080"/>
<circle cx="545.9" cy="2187.2" r="5.45" fill="#000080"/>
<circle cx="504.7" cy="2188.7" r="5.45" fill="#000080"/>
<circle cx="579.7" cy="2200.3" r="5.45" fill="#000080"/>
<circle cx="407.3" cy="2198.6" r="5.45" fill="#000080"/>
<circle cx="801.9" cy="2197.7" r="5.45" fill="#000080"/>
<circle cx="660.2" cy="2199.6" r="5.45" fill="#000080"/>
<circle cx="534" cy="2203.3" r="5.45" fill="#000080"/>
<circle cx="539" cy="2201.7" r="5.45" fill="#000080"/>
<circle cx="475.4" cy="2196.5" r="5.45" fill="#000080"/>
<circle cx="806.2" cy="2199.2" r="5.45" fill="#000080"/>
<circle cx="430.6" cy="2198.8" r="5.45" fill="#000080"/>
<circle cx="606" cy="2201.4" r="5.45" fill="#000080"/>
<circle cx="452.5" cy="2197.6" r="5.45" fill="#000080"/>
<circle cx="847.1" cy="2201.4" r="5.45" fill="#000080"/>
<circle cx="473.5" cy="2198.5" r="5.45" fill="#000080"/>
<circle cx="565.4" cy="2201" r="5.45" fill="#000080"/>
<circle cx="687.9" cy="2202.3" r="5.45" fill="#000080"/>
<circle cx="783" cy="2199.8" r="5.45" fill="#000080"/>
<circle cx="744.7" cy="2201.5" r="5.45" fill="#000080"/>
<circle cx="754.5" cy="2199.5" r="5.45" fill="#000080"/>
<circle cx="766.2" cy="2201.2" r="5.45" fill="#000080"/>
<circle cx="826.4" cy="2196.9" r="5.45" fill="#000080"/>
<circle cx="806" cy="2196" r="5.45" fill="#000080"/>
<circle cx="757.2" cy="2200.3" r="5.45" fill="#000080"/>
<circle cx="632.9" cy="2203.1" r="5.45" fill="#000080"/>
<circle cx="667.3" cy="2199.1" r="5.45" fill="#000080"/>
<circle cx="765.6" cy="2202.4" r="5.45" fill="#000080"/>
<circle cx="683.7" cy="2198.8" r="5.45" fill="#000080"/>
<circle cx="611.8" cy="2199.4" r="5.45" fill="#000080"/>
<circle cx="737.4" cy="2198.1" r="5.45" fill="#000080"/>
<circle cx="583.2" cy="2200.1" r="5.45" fill="#000080"/>
<circle cx="580.3" cy="2198.4" r="5.45" fill="#000080"/>
<circle cx="767.2" cy="2202.3" r="5.45" fill="#000080"/>
<circle cx="633.7" cy="2199.3" r="5.45" fill="#000080"/>
<circle cx="487.3" cy="2198.2" r="5.45" fill="#000080"/>
<circle cx="469.1" cy="2200.2" r="5.45" fill="#000080"/>
<circle cx="671.8" cy="2196.6" r="5.45" fill="#000080"/>
<circle cx="828.9" cy="2198.4" r="5.45" fill="#000080"/>
<circle cx="793.3" cy="2202.2" r="5.45" fill="#000080"/>
<circle cx="846.9" cy="2197.5" r="5.45" fill="#000080"/>
<circle cx="599.8" cy="2202.7" r="5.45" fill="#000080"/>
<circle cx="406.8" cy="2196.3" r="5.45" fill="#000080"/>
<circle cx="664" cy="2199.7" r="5.45" fill="#000080"/>
<circle cx="829" cy="2201.7" r="5.45" fill="#000080"/>
<circle cx="651.8" cy="2203.4" r="5.45" fill="#000080"/>
<circle cx="642" cy="2199.8" r="5.45" fill="#000080"/>
<circle cx="719.9" cy="2198.9" r="5.45" fill="#000080"/>
<circle cx="567.9" cy="2200.4" r="5.45" fill="#000080"/>
<circle cx="564.8" cy="2203" r="5.45" fill="#000080"/>
<circle cx="715.8" cy="2199.9" r="5.45" fill="#000080"/>
<circle cx="447.7" cy="2198.7" r="5.45" fill="#000080"/>
<circle cx="587.9" cy="2200.1" r="5.45" fill="#000080"/>
<circle cx="668.3" cy="2202.5" r="5.45" fill="#000080"/>
<circle cx="849.5" cy="2199.6" r="5.45" fill="#000080"/>
<circle cx="606.1" cy="2200.6" r="5.45" fill="#000080"/>
<circle cx="864.2" cy="2198.5" r="5.45" fill="#000080"/>
<circle cx="647.9" cy="2202" r="5.45" fill="#000080"/>
<circle cx="545.9" cy="2032.5" r="5.45" fill="#000080"/>
<circle cx="452.6" cy="2043.6" r="5.45" fill="#000080"/>
<circle cx="411" cy="2039.4" r="5.45" fill="#000080"/>
<circle cx="713.6" cy="2037.1" r="5.45" fill="#000080"/>
<circle cx="659.5" cy="2045.4" r="5.45" fill="#000080"/>
<circle cx="764.4" cy="2038.5" r="5.45" fill="#000080"/>
<circle cx="765.8" cy="2047.7" r="5.45" fill="#000080"/>
<circle cx="854.5" cy="2050.9" r="5.45" fill="#000080"/>
<circle cx="290" cy="2057" r="5.45" fill="#000080"/>
<circle cx="413.3" cy="1902.2" r="5.45" fill="#a8a8a8"/>
<circle cx="427.2" cy="1852.3" r="5.45" fill="#a8a8a8"/>
<circle cx="465.5" cy="1873.6" r="5.45" fill="#a8a8a8"/>
<circle cx="494.2" cy="1903.1" r="5.45" fill="#a8a8a8"/>
<circle cx="501.1" cy="1906.4" r="5.45" fill="#a8a8a8"/>
<circle cx="510.3" cy="1917" r="5.45" fill="#a8a8a8"/>
<circle cx="629.5" cy="1914.7" r="5.45" fill="#a8a8a8"/>
<circle cx="629.5" cy="1922.5" r="5.45" fill="#a8a8a8"/>
<circle cx="751.5" cy="1929" r="5.45" fill="#a8a8a8"/>
<circle cx="698.3" cy="1966.4" r="5.45" fill="#a8a8a8"/>
<circle cx="487.3" cy="1986.3" r="5.45" fill="#a8a8a8"/>
<circle cx="496.5" cy="1993.2" r="5.45" fill="#a8a8a8"/>
<circle cx="723.7" cy="2050" r="5.45" fill="#a8a8a8"/>
<circle cx="829.1" cy="2048.6" r="5.45" fill="#a8a8a8"/>
<circle cx="286.3" cy="2062.5" r="5.45" fill="#a8a8a8"/>
<circle cx="290.9" cy="2113.8" r="5.45" fill="#a8a8a8"/>
<circle cx="256.3" cy="2105.5" r="5.45" fill="#a8a8a8"/>
<circle cx="219.4" cy="2097.1" r="5.45" fill="#a8a8a8"/>
<circle cx="99.3" cy="2155.8" r="5.45" fill="#a8a8a8"/>
<circle cx="143.1" cy="2182.6" r="5.45" fill="#a8a8a8"/>
<circle cx="338.5" cy="2133.2" r="5.45" fill="#a8a8a8"/>
<circle cx="378.7" cy="2164.1" r="5.45" fill="#a8a8a8"/>
<circle cx="637.4" cy="2105.5" r="5.45" fill="#a8a8a8"/>
<circle cx="592.1" cy="2158.6" r="5.45" fill="#a8a8a8"/>
<circle cx="565.8" cy="2148.9" r="5.45" fill="#a8a8a8"/>
<circle cx="657.2" cy="2215.8" r="5.45" fill="#a8a8a8"/>
<circle cx="773.6" cy="2217.2" r="5.45" fill="#a8a8a8"/>
<circle cx="632.7" cy="2201.5" r="5.45" fill="#a8a8a8"/>
<circle cx="690.5" cy="2079.6" r="5.45" fill="#a8a8a8"/>
<circle cx="754.2" cy="2074" r="5.45" fill="#a8a8a8"/>
<circle cx="626.5" cy="2090.3" r="5.45" fill="#87cefa"/>
<circle cx="595.3" cy="2086.2" r="5.45" fill="#87cefa"/>
<circle cx="599.3" cy="2090.5" r="5.45" fill="#87cefa"/>
<circle cx="595.1" cy="2083.7" r="5.45" fill="#87cefa"/>
<circle cx="590.2" cy="2086.2" r="5.45" fill="#87cefa"/>
<circle cx="640.5" cy="2089.8" r="5.45" fill="#87cefa"/>
<circle cx="630.6" cy="2090.7" r="5.45" fill="#87cefa"/>
<circle cx="642.5" cy="2085.7" r="5.45" fill="#87cefa"/>
<circle cx="597.7" cy="2090.2" r="5.45" fill="#87cefa"/>
<circle cx="631.4" cy="2083.5" r="5.45" fill="#87cefa"/>
<circle cx="626.5" cy="2086.1" r="5.45" fill="#87cefa"/>
<circle cx="609" cy="2085.7" r="5.45" fill="#87cefa"/>
<circle cx="691.4" cy="2098.1" r="5.45" fill="#87cefa"/>
<circle cx="714.6" cy="2101.3" r="5.45" fill="#87cefa"/>
<circle cx="856.7" cy="2099.2" r="5.45" fill="#87cefa"/>
<circle cx="858.5" cy="2100" r="5.45" fill="#87cefa"/>
<circle cx="730.8" cy="2105.6" r="5.45" fill="#87cefa"/>
<circle cx="828.6" cy="2102.1" r="5.45" fill="#87cefa"/>
<circle cx="666.2" cy="2102.4" r="5.45" fill="#87cefa"/>
<circle cx="734.2" cy="2106.6" r="5.45" fill="#87cefa"/>
<circle cx="696.4" cy="2101.4" r="5.45" fill="#87cefa"/>
<circle cx="844.4" cy="2098.3" r="5.45" fill="#87cefa"/>
<circle cx="742.2" cy="2105.6" r="5.45" fill="#87cefa"/>
<circle cx="817" cy="2098.4" r="5.45" fill="#87cefa"/>
<circle cx="663.2" cy="2098.6" r="5.45" fill="#87cefa"/>
<circle cx="849.2" cy="2100.4" r="5.45" fill="#87cefa"/>
<circle cx="812.9" cy="2106.4" r="5.45" fill="#87cefa"/>
<circle cx="727.1" cy="2100.6" r="5.45" fill="#87cefa"/>
<circle cx="857.1" cy="2103.8" r="5.45" fill="#87cefa"/>
<circle cx="710.9" cy="2104.7" r="5.45" fill="#87cefa"/>
<circle cx="722.4" cy="2100.6" r="5.45" fill="#87cefa"/>
<circle cx="656.6" cy="2105" r="5.45" fill="#87cefa"/>
<circle cx="848.4" cy="2103.9" r="5.45" fill="#87cefa"/>
<circle cx="854.1" cy="2098.3" r="5.45" fill="#87cefa"/>
<circle cx="705" cy="2102.4" r="5.45" fill="#87cefa"/>
<circle cx="856.9" cy="2106.9" r="5.45" fill="#87cefa"/>
<circle cx="737.1" cy="2100.4" r="5.45" fill="#87cefa"/>
<circle cx="746.2" cy="2102.6" r="5.45" fill="#87cefa"/>
<circle cx="850.9" cy="2099.8" r="5.45" fill="#87cefa"/>
<circle cx="824.5" cy="2104.9" r="5.45" fill="#87cefa"/>
<circle cx="828.8" cy="2105.2" r="5.45" fill="#87cefa"/>
<circle cx="783.5" cy="2101.1" r="5.45" fill="#87cefa"/>
<circle cx="723" cy="2101.4" r="5.45" fill="#87cefa"/>
<circle cx="820.2" cy="2098.8" r="5.45" fill="#87cefa"/>
<circle cx="697.3" cy="2105" r="5.45" fill="#87cefa"/>
<circle cx="707.8" cy="2098.7" r="5.45" fill="#87cefa"/>
<circle cx="663" cy="2103.2" r="5.45" fill="#87cefa"/>
<circle cx="702.4" cy="2147" r="5.45" fill="#87cefa"/>
<circle cx="840.7" cy="2145.2" r="5.45" fill="#87cefa"/>
<circle cx="748.9" cy="2147" r="5.45" fill="#87cefa"/>
<circle cx="706.9" cy="2144.1" r="5.45" fill="#87cefa"/>
<circle cx="789.7" cy="2147.7" r="5.45" fill="#87cefa"/>
<circle cx="803.9" cy="2146.7" r="5.45" fill="#87cefa"/>
<circle cx="825.5" cy="2146.6" r="5.45" fill="#87cefa"/>
<circle cx="767.5" cy="2145.4" r="5.45" fill="#87cefa"/>
<circle cx="677.2" cy="2146.3" r="5.45" fill="#87cefa"/>
<circle cx="618.1" cy="2145.2" r="5.45" fill="#87cefa"/>
<circle cx="806.2" cy="2146.8" r="5.45" fill="#87cefa"/>
<circle cx="764.2" cy="2144.2" r="5.45" fill="#87cefa"/>
<circle cx="707.6" cy="2145.4" r="5.45" fill="#87cefa"/>
<circle cx="762" cy="2145.1" r="5.45" fill="#87cefa"/>
<circle cx="776.8" cy="2148" r="5.45" fill="#87cefa"/>
<circle cx="641.5" cy="2146.5" r="5.45" fill="#87cefa"/>
<circle cx="805" cy="2145" r="5.45" fill="#87cefa"/>
<circle cx="725.8" cy="2148.3" r="5.45" fill="#87cefa"/>
<circle cx="601.7" cy="2145.9" r="5.45" fill="#87cefa"/>
<circle cx="635.4" cy="2147.2" r="5.45" fill="#87cefa"/>
<circle cx="849.7" cy="2145.7" r="5.45" fill="#87cefa"/>
<circle cx="619" cy="2146" r="5.45" fill="#87cefa"/>
<circle cx="739.9" cy="2146.8" r="5.45" fill="#87cefa"/>
<circle cx="731.9" cy="2146.4" r="5.45" fill="#87cefa"/>
<circle cx="819" cy="2145.8" r="5.45" fill="#87cefa"/>
<circle cx="704" cy="2148.1" r="5.45" fill="#87cefa"/>
<circle cx="648.9" cy="2146.7" r="5.45" fill="#87cefa"/>
<circle cx="699" cy="2147.1" r="5.45" fill="#87cefa"/>
<circle cx="624.8" cy="2148.3" r="5.45" fill="#87cefa"/>
<circle cx="688.9" cy="2143.2" r="5.45" fill="#87cefa"/>
<circle cx="666.6" cy="2145.1" r="5.45" fill="#87cefa"/>
<circle cx="594.8" cy="2145.2" r="5.45" fill="#87cefa"/>
<circle cx="706.8" cy="2146.7" r="5.45" fill="#87cefa"/>
<circle cx="688" cy="2144.3" r="5.45" fill="#87cefa"/>
<circle cx="652.9" cy="2147" r="5.45" fill="#87cefa"/>
<circle cx="849.5" cy="2145.8" r="5.45" fill="#87cefa"/>
<circle cx="651.3" cy="2147.3" r="5.45" fill="#87cefa"/>
<circle cx="698.9" cy="2144" r="5.45" fill="#87cefa"/>
<circle cx="626.7" cy="2147.2" r="5.45" fill="#87cefa"/>
<circle cx="813.7" cy="2146.4" r="5.45" fill="#87cefa"/>
<circle cx="720.1" cy="2146" r="5.45" fill="#87cefa"/>
<circle cx="653.3" cy="2148.2" r="5.45" fill="#87cefa"/>
<circle cx="688.2" cy="2146.4" r="5.45" fill="#87cefa"/>
<circle cx="816.2" cy="2147.4" r="5.45" fill="#87cefa"/>
<circle cx="719.8" cy="2144.5" r="5.45" fill="#87cefa"/>
<circle cx="741.9" cy="2143.6" r="5.45" fill="#87cefa"/>
<circle cx="820.3" cy="2144.8" r="5.45" fill="#87cefa"/>
<circle cx="825" cy="2144.3" r="5.45" fill="#87cefa"/>
<circle cx="694.6" cy="2144.3" r="5.45" fill="#87cefa"/>
<circle cx="708.3" cy="2143.9" r="5.45" fill="#87cefa"/>
<circle cx="591.9" cy="2146.9" r="5.45" fill="#87cefa"/>
<circle cx="668.5" cy="2144.2" r="5.45" fill="#87cefa"/>
<circle cx="674.1" cy="2145.5" r="5.45" fill="#87cefa"/>
<circle cx="708.9" cy="2146.4" r="5.45" fill="#87cefa"/>
<circle cx="772.4" cy="2144.9" r="5.45" fill="#87cefa"/>
<circle cx="846.4" cy="2147.6" r="5.45" fill="#87cefa"/>
<circle cx="606.9" cy="2147.5" r="5.45" fill="#87cefa"/>
<circle cx="840.1" cy="2147.2" r="5.45" fill="#87cefa"/>
<circle cx="629.8" cy="2147.5" r="5.45" fill="#87cefa"/>
<circle cx="765.2" cy="2142.9" r="5.45" fill="#87cefa"/>
<circle cx="594.3" cy="2148.1" r="5.45" fill="#87cefa"/>
<circle cx="771.5" cy="2144.2" r="5.45" fill="#87cefa"/>
<circle cx="619.1" cy="2143.7" r="5.45" fill="#87cefa"/>
<circle cx="655.4" cy="2147.2" r="5.45" fill="#87cefa"/>
<circle cx="686.4" cy="2143.7" r="5.45" fill="#87cefa"/>
<circle cx="490.5" cy="2175.2" r="5.45" fill="#87cefa"/>
<circle cx="516.6" cy="2176.6" r="5.45" fill="#87cefa"/>
<circle cx="501.5" cy="2174.6" r="5.45" fill="#87cefa"/>
<circle cx="513.9" cy="2176.2" r="5.45" fill="#87cefa"/>
<circle cx="511.5" cy="2177" r="5.45" fill="#87cefa"/>
<circle cx="513.7" cy="2175.4" r="5.45" fill="#87cefa"/>
<circle cx="490" cy="2175.1" r="5.45" fill="#87cefa"/>
<circle cx="501.5" cy="2175.7" r="5.45" fill="#87cefa"/>
<circle cx="198.1" cy="2188.3" r="5.45" fill="#87cefa"/>
<circle cx="283.9" cy="2193" r="5.45" fill="#87cefa"/>
<circle cx="230.1" cy="2197.3" r="5.45" fill="#87cefa"/>
<circle cx="285.1" cy="2186.8" r="5.45" fill="#87cefa"/>
<circle cx="241.4" cy="2195" r="5.45" fill="#87cefa"/>
<circle cx="221.1" cy="2193.9" r="5.45" fill="#87cefa"/>
<circle cx="162.4" cy="2189.7" r="5.45" fill="#87cefa"/>
<circle cx="325" cy="2192.8" r="5.45" fill="#87cefa"/>
<circle cx="291.2" cy="2188.5" r="5.45" fill="#87cefa"/>
<circle cx="258.2" cy="2192.4" r="5.45" fill="#87cefa"/>
<circle cx="213.2" cy="2193.5" r="5.45" fill="#87cefa"/>
<circle cx="264.7" cy="2197.3" r="5.45" fill="#87cefa"/>
<circle cx="273.1" cy="2190.8" r="5.45" fill="#87cefa"/>
<circle cx="185.2" cy="2188" r="5.45" fill="#87cefa"/>
<circle cx="309" cy="2187.5" r="5.45" fill="#87cefa"/>
<circle cx="181" cy="2188.2" r="5.45" fill="#87cefa"/>
<circle cx="263" cy="2195.4" r="5.45" fill="#87cefa"/>
<circle cx="280.5" cy="2195.2" r="5.45" fill="#87cefa"/>
<circle cx="173.7" cy="2186.4" r="5.45" fill="#87cefa"/>
<circle cx="311.1" cy="2189.9" r="5.45" fill="#87cefa"/>
<circle cx="300.4" cy="2190.2" r="5.45" fill="#87cefa"/>
<circle cx="194.5" cy="2189.2" r="5.45" fill="#87cefa"/>
<circle cx="503.4" cy="1885.6" r="5.45" fill="#87cefa"/>
<circle cx="549.6" cy="1893" r="5.45" fill="#87cefa"/>
<circle cx="556.5" cy="1887" r="5.45" fill="#87cefa"/>
<circle cx="561.2" cy="1885.6" r="5.45" fill="#87cefa"/>
<circle cx="568.1" cy="1889.3" r="5.45" fill="#87cefa"/>
<circle cx="572.7" cy="1891.6" r="5.45" fill="#87cefa"/>
<circle cx="577.3" cy="1893" r="5.45" fill="#87cefa"/>
<circle cx="565.8" cy="1905.5" r="5.45" fill="#87cefa"/>
<circle cx="659.5" cy="1960.4" r="5.45" fill="#87cefa"/>
<circle cx="531.1" cy="2000.1" r="5.45" fill="#87cefa"/>
<circle cx="538.1" cy="1997.8" r="5.45" fill="#87cefa"/>
<circle cx="545" cy="1999.2" r="5.45" fill="#87cefa"/>
<circle cx="551.9" cy="1997.8" r="5.45" fill="#87cefa"/>
<circle cx="556.5" cy="1993.2" r="5.45" fill="#87cefa"/>
<circle cx="561.2" cy="2000.1" r="5.45" fill="#87cefa"/>
<circle cx="568.1" cy="2001.5" r="5.45" fill="#87cefa"/>
<circle cx="575" cy="2001.5" r="5.45" fill="#87cefa"/>
<circle cx="579.6" cy="2001.5" r="5.45" fill="#87cefa"/>
<circle cx="540.4" cy="2009.4" r="5.45" fill="#87cefa"/>
<circle cx="528.8" cy="2016.3" r="5.45" fill="#87cefa"/>
<circle cx="545" cy="2026.5" r="5.45" fill="#87cefa"/>
<circle cx="579.6" cy="2023.2" r="5.45" fill="#87cefa"/>
<circle cx="401.8" cy="2028.8" r="5.45" fill="#87cefa"/>
<circle cx="404.1" cy="2041.7" r="5.45" fill="#87cefa"/>
<circle cx="419.4" cy="2040.3" r="5.45" fill="#87cefa"/>
<circle cx="427.2" cy="2032.5" r="5.45" fill="#87cefa"/>
<circle cx="441.1" cy="2031.5" r="5.45" fill="#87cefa"/>
<circle cx="448" cy="2031.5" r="5.45" fill="#87cefa"/>
<circle cx="452.6" cy="2031.5" r="5.45" fill="#87cefa"/>
<circle cx="463.2" cy="2030.2" r="5.45" fill="#87cefa"/>
<circle cx="125.6" cy="2041.7" r="5.45" fill="#87cefa"/>
<circle cx="114.5" cy="2067.1" r="5.45" fill="#87cefa"/>
<circle cx="112.2" cy="2070.3" r="5.45" fill="#87cefa"/>
<circle cx="153.8" cy="2060.2" r="5.45" fill="#87cefa"/>
<circle cx="166.2" cy="2047.3" r="5.45" fill="#87cefa"/>
<circle cx="295.6" cy="2081.9" r="5.45" fill="#87cefa"/>
<circle cx="400.9" cy="2160.4" r="5.45" fill="#87cefa"/>
<circle cx="481.2" cy="2162.7" r="5.45" fill="#87cefa"/>
<circle cx="400.4" cy="2191.8" r="5.45" fill="#87cefa"/>
<circle cx="413" cy="2140.5" r="5.45" fill="#00ff00"/>
<circle cx="410.6" cy="2141.5" r="5.45" fill="#00ff00"/>
<circle cx="460.5" cy="2141.5" r="5.45" fill="#00ff00"/>
<circle cx="454.9" cy="2138.7" r="5.45" fill="#00ff00"/>
<circle cx="436.5" cy="2138.9" r="5.45" fill="#00ff00"/>
<circle cx="476.1" cy="2137" r="5.45" fill="#00ff00"/>
<circle cx="475.9" cy="2136.6" r="5.45" fill="#00ff00"/>
<circle cx="420.8" cy="2138.1" r="5.45" fill="#00ff00"/>
<circle cx="477" cy="2139.6" r="5.45" fill="#00ff00"/>
<circle cx="434.8" cy="2142.1" r="5.45" fill="#00ff00"/>
<circle cx="423" cy="2139.4" r="5.45" fill="#00ff00"/>
<circle cx="447.1" cy="2141.3" r="5.45" fill="#00ff00"/>
<circle cx="465" cy="2140.6" r="5.45" fill="#00ff00"/>
<circle cx="432.3" cy="2138.5" r="5.45" fill="#00ff00"/>
<circle cx="416.7" cy="2141.8" r="5.45" fill="#00ff00"/>
<circle cx="457.6" cy="2141.2" r="5.45" fill="#00ff00"/>
<circle cx="417.8" cy="2139.2" r="5.45" fill="#00ff00"/>
<circle cx="466.6" cy="2140.1" r="5.45" fill="#00ff00"/>
<circle cx="414.3" cy="2139.4" r="5.45" fill="#00ff00"/>
<circle cx="475.7" cy="2137.9" r="5.45" fill="#00ff00"/>
<circle cx="419.6" cy="2138.3" r="5.45" fill="#00ff00"/>
<circle cx="460.9" cy="2141.9" r="5.45" fill="#00ff00"/>
<circle cx="416.6" cy="2137.4" r="5.45" fill="#00ff00"/>
<circle cx="424.1" cy="2138.5" r="5.45" fill="#00ff00"/>
<circle cx="446.3" cy="2137.4" r="5.45" fill="#00ff00"/>
<circle cx="430.6" cy="2137.6" r="5.45" fill="#00ff00"/>
<circle cx="482.9" cy="2141.1" r="5.45" fill="#00ff00"/>
<circle cx="412.3" cy="2142.6" r="5.45" fill="#00ff00"/>
<circle cx="412.3" cy="2138.9" r="5.45" fill="#00ff00"/>
<circle cx="483.6" cy="2141.5" r="5.45" fill="#00ff00"/>
<circle cx="463.4" cy="2139.2" r="5.45" fill="#00ff00"/>
<circle cx="420" cy="2140.5" r="5.45" fill="#00ff00"/>
<circle cx="412.7" cy="2137.7" r="5.45" fill="#00ff00"/>
<circle cx="435.5" cy="2136.6" r="5.45" fill="#00ff00"/>
<circle cx="436.4" cy="2141.5" r="5.45" fill="#00ff00"/>
<circle cx="460.2" cy="2139.6" r="5.45" fill="#00ff00"/>
<circle cx="455.2" cy="2139.4" r="5.45" fill="#00ff00"/>
<circle cx="415.6" cy="2140.3" r="5.45" fill="#00ff00"/>
<circle cx="638.8" cy="1941.5" r="5.45" fill="#00ff00"/>
<circle cx="571.8" cy="1961.3" r="5.45" fill="#00ff00"/>
<circle cx="773.6" cy="1963.6" r="5.45" fill="#00ff00"/>
<circle cx="487.3" cy="1970.1" r="5.45" fill="#00ff00"/>
<circle cx="489.6" cy="1984" r="5.45" fill="#00ff00"/>
<circle cx="494.2" cy="1979.4" r="5.45" fill="#00ff00"/>
<circle cx="498.8" cy="1979.4" r="5.45" fill="#00ff00"/>
<circle cx="503.4" cy="1985.4" r="5.45" fill="#00ff00"/>
<circle cx="505.7" cy="1993.2" r="5.45" fill="#00ff00"/>
<circle cx="517.3" cy="1993.2" r="5.45" fill="#00ff00"/>
<circle cx="524.2" cy="1990.9" r="5.45" fill="#00ff00"/>
<circle cx="528.8" cy="1986.3" r="5.45" fill="#00ff00"/>
<circle cx="431.8" cy="1987.2" r="5.45" fill="#00ff00"/>
<circle cx="614.3" cy="2013.1" r="5.45" fill="#00ff00"/>
<circle cx="487.3" cy="2016.3" r="5.45" fill="#00ff00"/>
<circle cx="491.9" cy="2016.3" r="5.45" fill="#00ff00"/>
<circle cx="497.9" cy="2021.8" r="5.45" fill="#00ff00"/>
<circle cx="695.1" cy="2037.1" r="5.45" fill="#00ff00"/>
<circle cx="709" cy="2037.1" r="5.45" fill="#00ff00"/>
<circle cx="742.7" cy="2033.4" r="5.45" fill="#00ff00"/>
<circle cx="806" cy="2030.2" r="5.45" fill="#00ff00"/>
<circle cx="812" cy="2025.5" r="5.45" fill="#00ff00"/>
<circle cx="381" cy="2075" r="5.45" fill="#00ff00"/>
<circle cx="286.3" cy="2089.7" r="5.45" fill="#00ff00"/>
<circle cx="210.1" cy="2096.2" r="5.45" fill="#00ff00"/>
<circle cx="214.7" cy="2093.4" r="5.45" fill="#00ff00"/>
<circle cx="228.6" cy="2089.3" r="5.45" fill="#00ff00"/>
<circle cx="230" cy="2093.4" r="5.45" fill="#00ff00"/>
<circle cx="242.4" cy="2100.4" r="5.45" fill="#00ff00"/>
<circle cx="494.2" cy="1914.7" r="5.45" fill="#ffa500"/>
<circle cx="505.7" cy="1900.8" r="5.45" fill="#ffa500"/>
<circle cx="528.8" cy="1917.9" r="5.45" fill="#ffa500"/>
<circle cx="530.2" cy="1904.1" r="5.45" fill="#ffa500"/>
<circle cx="535.8" cy="1904.1" r="5.45" fill="#ffa500"/>
<circle cx="542.7" cy="1904.1" r="5.45" fill="#ffa500"/>
<circle cx="545" cy="1929.9" r="5.45" fill="#ffa500"/>
<circle cx="556.5" cy="1923.9" r="5.45" fill="#ffa500"/>
<circle cx="563.5" cy="1926.2" r="5.45" fill="#ffa500"/>
<circle cx="570.4" cy="1929.9" r="5.45" fill="#ffa500"/>
<circle cx="575" cy="1929.9" r="5.45" fill="#ffa500"/>
<circle cx="581.9" cy="1930.9" r="5.45" fill="#ffa500"/>
<circle cx="588.9" cy="1928.5" r="5.45" fill="#ffa500"/>
<circle cx="595.8" cy="1929" r="5.45" fill="#ffa500"/>
<circle cx="602.7" cy="1929.9" r="5.45" fill="#ffa500"/>
<circle cx="612" cy="1929" r="5.45" fill="#ffa500"/>
<circle cx="646.6" cy="1920.7" r="5.45" fill="#ffa500"/>
<circle cx="651.2" cy="1933.2" r="5.45" fill="#ffa500"/>
<circle cx="660.5" cy="1937.8" r="5.45" fill="#ffa500"/>
<circle cx="681.2" cy="1922.5" r="5.45" fill="#ffa500"/>
<circle cx="678.9" cy="1937.8" r="5.45" fill="#ffa500"/>
<circle cx="685.9" cy="1941" r="5.45" fill="#ffa500"/>
<circle cx="690.5" cy="1941" r="5.45" fill="#ffa500"/>
<circle cx="697.4" cy="1944.7" r="5.45" fill="#ffa500"/>
<circle cx="704.3" cy="1941" r="5.45" fill="#ffa500"/>
<circle cx="711.3" cy="1944.7" r="5.45" fill="#ffa500"/>
<circle cx="734.4" cy="1919.3" r="5.45" fill="#ffa500"/>
<circle cx="732.1" cy="1947" r="5.45" fill="#ffa500"/>
<circle cx="739" cy="1942.4" r="5.45" fill="#ffa500"/>
<circle cx="748.2" cy="1942.4" r="5.45" fill="#ffa500"/>
<circle cx="750.5" cy="1950.3" r="5.45" fill="#ffa500"/>
<circle cx="764.4" cy="1953.9" r="5.45" fill="#ffa500"/>
<circle cx="769" cy="1947" r="5.45" fill="#ffa500"/>
<circle cx="773.6" cy="1945.6" r="5.45" fill="#ffa500"/>
<circle cx="787.5" cy="1947" r="5.45" fill="#ffa500"/>
<circle cx="794.4" cy="1949.3" r="5.45" fill="#ffa500"/>
<circle cx="801.3" cy="1948.4" r="5.45" fill="#ffa500"/>
<circle cx="808.3" cy="1950.3" r="5.45" fill="#ffa500"/>
<circle cx="815.2" cy="1951.6" r="5.45" fill="#ffa500"/>
<circle cx="826.7" cy="1950.3" r="5.45" fill="#ffa500"/>
<circle cx="836" cy="1948.4" r="5.45" fill="#ffa500"/>
<circle cx="845.2" cy="1953.9" r="5.45" fill="#ffa500"/>
<circle cx="849.8" cy="1947.5" r="5.45" fill="#ffa500"/>
<circle cx="863.7" cy="1947" r="5.45" fill="#ffa500"/>
<circle cx="543.6" cy="1966.9" r="5.45" fill="#ffa500"/>
<circle cx="528.8" cy="1981.7" r="5.45" fill="#ffa500"/>
<circle cx="355.6" cy="2044" r="5.45" fill="#ffa500"/>
<circle cx="362.5" cy="2041.7" r="5.45" fill="#ffa500"/>
<circle cx="374.1" cy="2038" r="5.45" fill="#ffa500"/>
<circle cx="381" cy="2027.9" r="5.45" fill="#ffa500"/>
<circle cx="391.6" cy="2034.8" r="5.45" fill="#ffa500"/>
<circle cx="278" cy="2102.7" r="5.45" fill="#ffa500"/>
<circle cx="310.3" cy="2105" r="5.45" fill="#ffa500"/>
<circle cx="323.3" cy="2113.3" r="5.45" fill="#ffa500"/>
<circle cx="400.9" cy="1917.9" r="5.45" fill="#ff0000"/>
<circle cx="402.7" cy="1890.2" r="5.45" fill="#ff0000"/>
<circle cx="407.3" cy="1891.6" r="5.45" fill="#ff0000"/>
<circle cx="411" cy="1874.5" r="5.45" fill="#ff0000"/>
<circle cx="421.2" cy="1883.7" r="5.45" fill="#ff0000"/>
<circle cx="424" cy="1891.6" r="5.45" fill="#ff0000"/>
<circle cx="424.9" cy="1895.3" r="5.45" fill="#ff0000"/>
<circle cx="428.6" cy="1853.3" r="5.45" fill="#ff0000"/>
<circle cx="436.9" cy="1853.3" r="5.45" fill="#ff0000"/>
<circle cx="437.8" cy="1867.6" r="5.45" fill="#ff0000"/>
<circle cx="450.3" cy="1853.3" r="5.45" fill="#ff0000"/>
<circle cx="454.9" cy="1857" r="5.45" fill="#ff0000"/>
<circle cx="468.3" cy="1863.9" r="5.45" fill="#ff0000"/>
<circle cx="478" cy="1907.8" r="5.45" fill="#ff0000"/>
<circle cx="483.1" cy="1922.5" r="5.45" fill="#ff0000"/>
<circle cx="489.6" cy="1909.1" r="5.45" fill="#ff0000"/>
<circle cx="495.1" cy="1893.9" r="5.45" fill="#ff0000"/>
<circle cx="497.9" cy="1887" r="5.45" fill="#ff0000"/>
<circle cx="521.9" cy="1920.7" r="5.45" fill="#ff0000"/>
<circle cx="569" cy="1903.1" r="5.45" fill="#ff0000"/>
</g>
<path d="M467.9 1827.5l6.9 6.9l-6.9 6.9l-6.9 -6.9z" fill="#8a2be2" stroke="#333" stroke-width="1"/>
</g>
<text x="468" y="1823" font-size="16" text-anchor="middle" fill="#111">rs6482049</text>
<g transform="translate(78.4,1755.7)">
<rect x="0" y="0" width="66.5" height="159" fill="#fff" stroke="#555" stroke-width="1.2"/>
<rect x="9.4" y="27.8" width="15.7" height="24.6" fill="#ff0000" stroke="#444" stroke-width="0.8"/>
<rect x="9.4" y="52.4" width="15.7" height="24.6" fill="#ffa500" stroke="#444" stroke-width="0.8"/>
<rect x="9.4" y="77" width="15.7" height="24.6" fill="#00ff00" stroke="#444" stroke-width="0.8"/>
<rect x="9.4" y="101.6" width="15.7" height="24.6" fill="#87cefa" stroke="#444" stroke-width="0.8"/>
<rect x="9.4" y="126.2" width="15.7" height="24.6" fill="#000080" stroke="#444" stroke-width="0.8"/>
<line x1="25.1" y1="52.4" x2="33.5" y2="52.4" stroke="#444" stroke-width="1.2"/>
<text x="38.2" y="57.2" font-size="13.5" fill="#444">0.8</text>
<line x1="25.1" y1="77" x2="33.5" y2="77" stroke="#444" stroke-width="1.2"/>
<text x="38.2" y="81.8" font-size="13.5" fill="#444">0.6</text>
<line x1="25.1" y1="101.6" x2="33.5" y2="101.6" stroke="#444" stroke-width="1.2"/>
<text x="38.2" y="106.4" font-size="13.5" fill="#444">0.4</text>
<line x1="25.1" y1="126.2" x2="33.5" y2="126.2" stroke="#444" stroke-width="1.2"/>
<text x="38.2" y="131" font-size="13.5" fill="#444">0.2</text>
<text x="28.2" y="22.3" font-size="15" fill="#444">r<tspan font-size="10.5" dy="-7">2</tspan></text>
</g>
<rect x="70.5" y="2265.7" width="795.7" height="62.7" fill="none" stroke="#888888" stroke-width="1.2"/>
<line x1="70.5" y1="2288" x2="77.3" y2="2288" stroke="#00008b" stroke-width="1.2"/>
<rect x="76.2" y="2284.7" width="2.2" height="6.6" rx="0.9" fill="#00008b"/>
<text x="77.3" y="2281.1" font-size="13.6" font-style="italic" fill="#000">ANKRD30A<tspan dx="1.2"><tspan font-family="DejaVu Sans, sans-serif" font-style="normal" font-size="11" dy="-1.8">⟶</tspan></tspan></text>
<line x1="444.8" y1="2288" x2="446" y2="2288" stroke="#00008b" stroke-width="1.2"/>
<rect x="443.7" y="2284.7" width="3.4" height="6.6" rx="0.9" fill="#00008b"/>
<text x="399.2" y="2281.1" font-size="13.6" font-style="italic" fill="#000"><tspan font-family="DejaVu Sans, sans-serif" font-style="normal" font-size="11" dy="-1.8">⟵</tspan><tspan dx="1.4" dy="1.8">MTRNR2L7</tspan></text>
<line x1="618.9" y1="2288" x2="699.7" y2="2288" stroke="#00008b" stroke-width="1.2"/>
<rect x="617.8" y="2284.7" width="2.2" height="6.6" rx="0.9" fill="#00008b"/>
<rect x="670.4" y="2284.7" width="5.9" height="6.6" rx="0.9" fill="#00008b"/>
<rect x="678.9" y="2284.7" width="2.2" height="6.6" rx="0.9" fill="#00008b"/>
<rect x="698.6" y="2284.7" width="2.2" height="6.6" rx="0.9" fill="#00008b"/>
<text x="625.1" y="2281.1" font-size="13.6" font-style="italic" fill="#000"><tspan font-family="DejaVu Sans, sans-serif" font-style="normal" font-size="11" dy="-1.8">⟵</tspan><tspan dx="1.4" dy="1.8">ZNF248</tspan></text>
<line x1="791.3" y1="2288" x2="818" y2="2288" stroke="#00008b" stroke-width="1.2"/>
<rect x="790.2" y="2284.7" width="6.4" height="6.6" rx="0.9" fill="#00008b"/>
<rect x="798.6" y="2284.7" width="2.2" height="6.6" rx="0.9" fill="#00008b"/>
<rect x="812.7" y="2284.7" width="2.2" height="6.6" rx="0.9" fill="#00008b"/>
<rect x="816.9" y="2284.7" width="2.2" height="6.6" rx="0.9" fill="#00008b"/>
<text x="774.4" y="2281.1" font-size="13.6" font-style="italic" fill="#000"><tspan font-family="DejaVu Sans, sans-serif" font-style="normal" font-size="11" dy="-1.8">⟵</tspan><tspan dx="1.4" dy="1.8">ZNF25</tspan></text>
<line x1="153.9" y1="2319.4" x2="191.9" y2="2319.4" stroke="#00008b" stroke-width="1.2"/>
<rect x="152.8" y="2316.1" width="2.2" height="6.6" rx="0.9" fill="#00008b"/>
<rect x="158.6" y="2316.1" width="2.2" height="6.6" rx="0.9" fill="#00008b"/>
<rect x="186.5" y="2316.1" width="2.2" height="6.6" rx="0.9" fill="#00008b"/>
<rect x="190.8" y="2316.1" width="2.2" height="6.6" rx="0.9" fill="#00008b"/>
<text x="131.3" y="2312.5" font-size="13.6" font-style="italic" fill="#000">LINC00993<tspan dx="1.2"><tspan font-family="DejaVu Sans, sans-serif" font-style="normal" font-size="11" dy="-1.8">⟶</tspan></tspan></text>
<line x1="636.3" y1="2319.4" x2="637.5" y2="2319.4" stroke="#00008b" stroke-width="1.2"/>
<rect x="635.2" y="2316.1" width="3.4" height="6.6" rx="0.9" fill="#00008b"/>
<text x="593.2" y="2312.5" font-size="13.6" font-style="italic" fill="#000"><tspan font-family="DejaVu Sans, sans-serif" font-style="normal" font-size="11" dy="-1.8">⟵</tspan><tspan dx="1.4" dy="1.8">ZNF33BP1</tspan></text>
<line x1="851.8" y1="2319.4" x2="866.2" y2="2319.4" stroke="#00008b" stroke-width="1.2"/>
<rect x="850.7" y="2316.1" width="5" height="6.6" rx="0.9" fill="#00008b"/>
<rect x="857.2" y="2316.1" width="2.2" height="6.6" rx="0.9" fill="#00008b"/>
<text x="796" y="2312.5" font-size="13.6" font-style="italic" fill="#000">ZNF33A<tspan dx="1.2"><tspan font-family="DejaVu Sans, sans-serif" font-style="normal" font-size="11" dy="-1.8">⟶</tspan></tspan></text>
<line x1="155.7" y1="2328.4" x2="155.7" y2="2339" stroke="#555555" stroke-width="1.2"/>
<text x="155.7" y="2365.8" font-size="16.2" text-anchor="middle" fill="#4a4a4a">37.6</text>
<line x1="354.9" y1="2328.4" x2="354.9" y2="2339" stroke="#555555" stroke-width="1.2"/>
<text x="354.9" y="2365.8" font-size="16.2" text-anchor="middle" fill="#4a4a4a">37.8</text>
<line x1="554.1" y1="2328.4" x2="554.1" y2="2339" stroke="#555555" stroke-width="1.2"/>
<text x="554.1" y="2365.8" font-size="16.2" text-anchor="middle" fill="#4a4a4a">38</text>
<line x1="753.3" y1="2328.4" x2="753.3" y2="2339" stroke="#555555" stroke-width="1.2"/>
<text x="753.3" y="2365.8" font-size="16.2" text-anchor="middle" fill="#4a4a4a">38.2</text>
<text x="468.3" y="2388.1" font-size="16.7" text-anchor="middle" fill="#4a4a4a">Position on chr10 (Mb)</text>
<line x1="1172.8" y1="2072.1" x2="1172.8" y2="2150.3" stroke="#ff8c10" stroke-width="1.8"/>
<line x1="1172.8" y1="2072.1" x2="1193.1" y2="2123.5" stroke="#ff7a10" stroke-width="1.5"/>
<line x1="1232.9" y1="2047" x2="1172.8" y2="2128.7" stroke="#ffa010" stroke-width="1.5"/>
<line x1="1232.9" y1="2047" x2="1172.8" y2="2150.3" stroke="#ff9a10" stroke-width="1.5"/>
<line x1="1232.9" y1="2047" x2="1172.8" y2="2150.3" stroke="#ff1010" stroke-width="1.5"/>
<line x1="1232.9" y1="2047" x2="1174.2" y2="2152.2" stroke="#ff6010" stroke-width="1.4"/>
<path d="M1057.4 1826.9h0M1096 1832h0M1249.9 1832h0M1288.3 1826.9h0M1024.1 1857.4h0M1057.9 1854.2h0M1093.3 1856.6h0M1252.6 1856.6h0M1288 1854.2h0M1321.8 1857.4h0M1048.7 1896.4h0M1096.3 1897.2h0M1249.6 1897.2h0M1296.9 1896.4h0M1073.9 1905h0M1272.1 1905h0M953.8 1915.3h0M1392.1 1915.3h0M1048.4 1918.8h0M1093.9 1920.2h0M1252.3 1920.2h0M1297.2 1918.8h0M1172.8 1942.1h0M953.3 1949.4h0M1392.4 1949.4h0M954.6 1983.2h0M1172.8 1984.5h0M1391.3 1983.2h0M1126.6 2006.7h0M1219.3 2006.7h0M957 2016.7h0M1388.6 2016.7h0M961.1 2050.5h0M1384.8 2050.5h0M1131.5 2059.4h0M1214.5 2059.4h0M1151.7 2064.6h0M1194.5 2064.6h0M966.2 2084.6h0M1379.7 2084.6h0M972.7 2118.4h0M1372.9 2118.4h0M1120.4 2136h0M1225.6 2136h0M982.2 2151.1h0M1363.7 2151.1h0M1103.9 2154.1h0M1132.5 2150h0M1132.5 2155.4h0M1213.4 2150h0M1213.4 2155.4h0M1242.1 2154.1h0M1114.7 2171.1h0M1231.2 2171.1h0M994.9 2182.2h0M1140.9 2182.5h0M1205 2182.5h0M1351 2182.2h0M1010.8 2210.9h0M1335.1 2210.9h0M1030.3 2236.8h0M1315.3 2236.8h0M1053 2260.1h0M1292.9 2260.1h0M1077.9 2280.9h0M1267.7 2280.9h0M1106 2297.7h0M1239.9 2297.7h0M1137.7 2308.8h0M1208.3 2308.8h0" stroke="#aaaaaa" stroke-width="5.4" stroke-linecap="round" fill="none"/>
<path d="M1019.8 1834.7h0M1325.9 1834.7h0M1130.6 1845.5h0M1215.3 1845.5h0M991.9 1864.2h0M1128.5 1865h0M1217.4 1865h0M1354 1864.2h0M955.7 1879.9h0M1390.2 1879.9h0M1072.8 1890.7h0M1272.9 1890.7h0M1172.8 1899.6h0M1028.7 1910.7h0M1317.2 1910.7h0M1071.2 1922.9h0M1114.1 1915.6h0M1141.5 1917.7h0M1204.5 1917.7h0M1231.5 1915.6h0M1274.8 1922.9h0M1172.8 2027h0M1113.1 2047h0M1232.9 2047h0M1172.8 2072.1h0M1152.5 2123.5h0M1193.1 2123.5h0M1172.8 2128.7h0M1091.4 2154.1h0M1172.8 2150.3h0M1172.8 2156.5h0M1254.2 2154.1h0M1172.8 2186.8h0M1172.8 2312.3h0" stroke="#000" stroke-width="6" stroke-linecap="round" fill="none"/>
<text transform="translate(1186.6,2163.5) rotate(-58)" font-size="14" font-weight="bold" fill="#ff2020">D511</text>
<line x1="1720.9" y1="2073" x2="1720.9" y2="2151.2" stroke="#7b5cff" stroke-width="1.4"/>
<line x1="1720.9" y1="2073" x2="1740.7" y2="2124.4" stroke="#7b5cff" stroke-width="1.4"/>
<line x1="1779.4" y1="2047.9" x2="1720.9" y2="2129.6" stroke="#7b5cff" stroke-width="1.4"/>
<line x1="1779.4" y1="2047.9" x2="1720.9" y2="2151.2" stroke="#7b5cff" stroke-width="1.4"/>
<line x1="1779.4" y1="2047.9" x2="1720.9" y2="2151.2" stroke="#7b5cff" stroke-width="1.4"/>
<line x1="1779.4" y1="2047.9" x2="1722.2" y2="2153.1" stroke="#7b5cff" stroke-width="1.4"/>
<path d="M1608.4 1827.8h0M1646.1 1832.9h0M1796 1832.9h0M1833.4 1827.8h0M1576 1858.3h0M1609 1855.1h0M1643.5 1857.5h0M1798.6 1857.5h0M1833.1 1855.1h0M1866 1858.3h0M1600 1897.3h0M1646.4 1898.1h0M1795.7 1898.1h0M1841.8 1897.3h0M1624.5 1905.9h0M1817.6 1905.9h0M1507.6 1916.2h0M1934.5 1916.2h0M1599.7 1919.7h0M1644 1921.1h0M1798.3 1921.1h0M1842.1 1919.7h0M1720.9 1943h0M1507 1950.3h0M1934.8 1950.3h0M1508.3 1984.1h0M1720.9 1985.4h0M1933.7 1984.1h0M1675.9 2007.6h0M1766.2 2007.6h0M1510.7 2017.6h0M1931.1 2017.6h0M1514.7 2051.4h0M1927.4 2051.4h0M1680.6 2060.3h0M1761.5 2060.3h0M1700.4 2065.5h0M1742 2065.5h0M1519.7 2085.5h0M1922.4 2085.5h0M1526 2119.3h0M1915.8 2119.3h0M1669.8 2136.9h0M1772.3 2136.9h0M1535.2 2152h0M1906.9 2152h0M1653.7 2155h0M1681.7 2150.9h0M1681.7 2156.3h0M1760.4 2150.9h0M1760.4 2156.3h0M1788.3 2155h0M1664.3 2172h0M1777.8 2172h0M1547.6 2183.1h0M1689.8 2183.4h0M1752.2 2183.4h0M1894.5 2183.1h0M1563.1 2211.8h0M1878.9 2211.8h0M1582.1 2237.7h0M1859.7 2237.7h0M1604.2 2261h0M1837.8 2261h0M1628.5 2281.8h0M1813.3 2281.8h0M1655.8 2298.6h0M1786.2 2298.6h0M1686.7 2309.7h0M1755.4 2309.7h0" stroke="#aaaaaa" stroke-width="5.4" stroke-linecap="round" fill="none"/>
<path d="M1571.8 1835.6h0M1870 1835.6h0M1679.8 1846.4h0M1762.3 1846.4h0M1544.7 1865.1h0M1677.7 1865.9h0M1764.4 1865.9h0M1897.4 1865.1h0M1509.4 1880.8h0M1932.7 1880.8h0M1623.4 1891.6h0M1818.4 1891.6h0M1720.9 1900.5h0M1580.5 1911.6h0M1861.5 1911.6h0M1621.9 1923.8h0M1663.7 1916.5h0M1690.3 1918.6h0M1751.7 1918.6h0M1778.1 1916.5h0M1820.2 1923.8h0M1720.9 2027.9h0M1662.7 2047.9h0M1779.4 2047.9h0M1720.9 2073h0M1701.1 2124.4h0M1740.7 2124.4h0M1720.9 2129.6h0M1641.6 2155h0M1720.9 2151.2h0M1720.9 2157.4h0M1800.2 2155h0M1720.9 2187.7h0M1720.9 2313.2h0" stroke="#000" stroke-width="6" stroke-linecap="round" fill="none"/>
<text transform="translate(1734.3,2164.4) rotate(-58)" font-size="14" font-weight="bold" fill="#7b5cff">D511</text>
<rect x="1422.2" y="1971.1" width="31.7" height="161.5" fill="url(#gp)"/>
<path d="M1422.2 1994.7h5.7M1448.2 1994.7h5.7" stroke="#fff" stroke-width="1.1"/>
<text x="1464" y="2000.6" font-size="16.3" fill="#111">9.5</text>
<path d="M1422.2 2028.5h5.7M1448.2 2028.5h5.7" stroke="#fff" stroke-width="1.1"/>
<text x="1464" y="2034.4" font-size="16.3" fill="#111">9.0</text>
<path d="M1422.2 2062.2h5.7M1448.2 2062.2h5.7" stroke="#fff" stroke-width="1.1"/>
<text x="1464" y="2068.1" font-size="16.3" fill="#111">8.5</text>
<path d="M1422.2 2095.8h5.7M1448.2 2095.8h5.7" stroke="#fff" stroke-width="1.1"/>
<text x="1464" y="2101.7" font-size="16.3" fill="#111">8.0</text>
<path d="M1422.2 2129.4h5.7M1448.2 2129.4h5.7" stroke="#fff" stroke-width="1.1"/>
<text x="1464" y="2135.3" font-size="16.3" fill="#111">7.5</text>
<text x="1421.5" y="1958.1" font-size="20" fill="#000">−log(P)</text>
<rect x="1963.4" y="1971.2" width="31.8" height="161.5" fill="url(#gb)"/>
<path d="M1963.4 1998h5.7M1989.5 1998h5.7" stroke="#fff" stroke-width="1.1"/>
<text x="2005.4" y="2003.9" font-size="16.3" fill="#111">0.10</text>
<path d="M1963.4 2024.8h5.7M1989.5 2024.8h5.7" stroke="#fff" stroke-width="1.1"/>
<text x="2005.4" y="2030.7" font-size="16.3" fill="#111">0.05</text>
<path d="M1963.4 2051.9h5.7M1989.5 2051.9h5.7" stroke="#fff" stroke-width="1.1"/>
<text x="2005.4" y="2057.8" font-size="16.3" fill="#111">0.00</text>
<path d="M1963.4 2079h5.7M1989.5 2079h5.7" stroke="#fff" stroke-width="1.1"/>
<text x="2005.4" y="2084.9" font-size="16.3" fill="#111">−0.05</text>
<path d="M1963.4 2105.8h5.7M1989.5 2105.8h5.7" stroke="#fff" stroke-width="1.1"/>
<text x="2005.4" y="2111.7" font-size="16.3" fill="#111">−0.10</text>
<text x="1963.2" y="1957.9" font-size="20" fill="#000">beta/sd</text>
</svg></body></html>
